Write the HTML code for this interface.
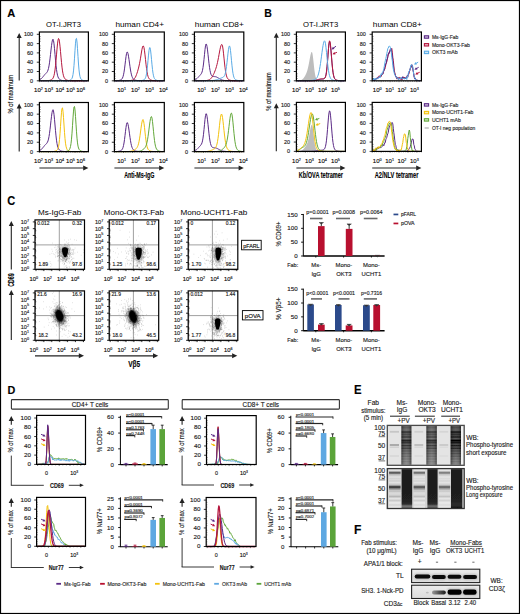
<!DOCTYPE html>
<html><head><meta charset="utf-8"><style>
html,body{margin:0;padding:0;background:#fff;}
svg{display:block;}
text{font-family:"Liberation Sans", sans-serif;stroke:#222;stroke-width:0.14px;}
text.nos{stroke:none;}
</style></head><body>
<svg width="520" height="614" viewBox="0 0 520 614">
<defs><linearGradient id="g1" x1="0" y1="0" x2="0" y2="1"><stop offset="0.000" stop-color="#828282"/><stop offset="0.008" stop-color="#737373"/><stop offset="0.017" stop-color="#666666"/><stop offset="0.025" stop-color="#5e5e5e"/><stop offset="0.033" stop-color="#5c5c5c"/><stop offset="0.042" stop-color="#5f5f5f"/><stop offset="0.050" stop-color="#656565"/><stop offset="0.058" stop-color="#696969"/><stop offset="0.067" stop-color="#6b6b6b"/><stop offset="0.075" stop-color="#6b6b6b"/><stop offset="0.083" stop-color="#6d6d6d"/><stop offset="0.092" stop-color="#727272"/><stop offset="0.100" stop-color="#767676"/><stop offset="0.108" stop-color="#777777"/><stop offset="0.117" stop-color="#717171"/><stop offset="0.125" stop-color="#666666"/><stop offset="0.133" stop-color="#565656"/><stop offset="0.142" stop-color="#474747"/><stop offset="0.150" stop-color="#3b3b3b"/><stop offset="0.158" stop-color="#383838"/><stop offset="0.167" stop-color="#3c3c3c"/><stop offset="0.175" stop-color="#474747"/><stop offset="0.183" stop-color="#545454"/><stop offset="0.192" stop-color="#5d5d5d"/><stop offset="0.200" stop-color="#5e5e5e"/><stop offset="0.208" stop-color="#585858"/><stop offset="0.217" stop-color="#505050"/><stop offset="0.225" stop-color="#4e4e4e"/><stop offset="0.233" stop-color="#555555"/><stop offset="0.242" stop-color="#5e5e5e"/><stop offset="0.250" stop-color="#646464"/><stop offset="0.258" stop-color="#606060"/><stop offset="0.267" stop-color="#545454"/><stop offset="0.275" stop-color="#464646"/><stop offset="0.283" stop-color="#3f3f3f"/><stop offset="0.292" stop-color="#424242"/><stop offset="0.300" stop-color="#4f4f4f"/><stop offset="0.308" stop-color="#5f5f5f"/><stop offset="0.317" stop-color="#6d6d6d"/><stop offset="0.325" stop-color="#737373"/><stop offset="0.333" stop-color="#707070"/><stop offset="0.342" stop-color="#646464"/><stop offset="0.350" stop-color="#525252"/><stop offset="0.358" stop-color="#3d3d3d"/><stop offset="0.367" stop-color="#2d2d2d"/><stop offset="0.375" stop-color="#262626"/><stop offset="0.383" stop-color="#292929"/><stop offset="0.392" stop-color="#343434"/><stop offset="0.400" stop-color="#3e3e3e"/><stop offset="0.408" stop-color="#424242"/><stop offset="0.417" stop-color="#3d3d3d"/><stop offset="0.425" stop-color="#353535"/><stop offset="0.433" stop-color="#333333"/><stop offset="0.442" stop-color="#3a3a3a"/><stop offset="0.450" stop-color="#4a4a4a"/><stop offset="0.458" stop-color="#5c5c5c"/><stop offset="0.467" stop-color="#676767"/><stop offset="0.475" stop-color="#676767"/><stop offset="0.483" stop-color="#5c5c5c"/><stop offset="0.492" stop-color="#4a4a4a"/><stop offset="0.500" stop-color="#3c3c3c"/><stop offset="0.508" stop-color="#393939"/><stop offset="0.517" stop-color="#424242"/><stop offset="0.525" stop-color="#525252"/><stop offset="0.533" stop-color="#626262"/><stop offset="0.542" stop-color="#686868"/><stop offset="0.550" stop-color="#636363"/><stop offset="0.558" stop-color="#565656"/><stop offset="0.567" stop-color="#494949"/><stop offset="0.575" stop-color="#434343"/><stop offset="0.583" stop-color="#474747"/><stop offset="0.592" stop-color="#555555"/><stop offset="0.600" stop-color="#656565"/><stop offset="0.608" stop-color="#707070"/><stop offset="0.617" stop-color="#737373"/><stop offset="0.625" stop-color="#6d6d6d"/><stop offset="0.633" stop-color="#656565"/><stop offset="0.642" stop-color="#5f5f5f"/><stop offset="0.650" stop-color="#606060"/><stop offset="0.658" stop-color="#676767"/><stop offset="0.667" stop-color="#717171"/><stop offset="0.675" stop-color="#787878"/><stop offset="0.683" stop-color="#787878"/><stop offset="0.692" stop-color="#737373"/><stop offset="0.700" stop-color="#6c6c6c"/><stop offset="0.708" stop-color="#676767"/><stop offset="0.717" stop-color="#686868"/><stop offset="0.725" stop-color="#6e6e6e"/><stop offset="0.733" stop-color="#787878"/><stop offset="0.742" stop-color="#7f7f7f"/><stop offset="0.750" stop-color="#818181"/><stop offset="0.758" stop-color="#7d7d7d"/><stop offset="0.767" stop-color="#767676"/><stop offset="0.775" stop-color="#707070"/><stop offset="0.783" stop-color="#6f6f6f"/><stop offset="0.792" stop-color="#747474"/><stop offset="0.800" stop-color="#7c7c7c"/><stop offset="0.808" stop-color="#848484"/><stop offset="0.817" stop-color="#888888"/><stop offset="0.825" stop-color="#868686"/><stop offset="0.833" stop-color="#818181"/><stop offset="0.842" stop-color="#7b7b7b"/><stop offset="0.850" stop-color="#787878"/><stop offset="0.858" stop-color="#7b7b7b"/><stop offset="0.867" stop-color="#828282"/><stop offset="0.875" stop-color="#898989"/><stop offset="0.883" stop-color="#8d8d8d"/><stop offset="0.892" stop-color="#8c8c8c"/><stop offset="0.900" stop-color="#888888"/><stop offset="0.908" stop-color="#838383"/><stop offset="0.917" stop-color="#818181"/><stop offset="0.925" stop-color="#838383"/><stop offset="0.933" stop-color="#878787"/><stop offset="0.942" stop-color="#8c8c8c"/><stop offset="0.950" stop-color="#8e8e8e"/><stop offset="0.958" stop-color="#8e8e8e"/><stop offset="0.967" stop-color="#8d8d8d"/><stop offset="0.975" stop-color="#8d8d8d"/><stop offset="0.983" stop-color="#909090"/><stop offset="0.992" stop-color="#959595"/><stop offset="1.000" stop-color="#9b9b9b"/></linearGradient><linearGradient id="g2" x1="0" y1="0" x2="0" y2="1"><stop offset="0.000" stop-color="#858585"/><stop offset="0.008" stop-color="#787878"/><stop offset="0.017" stop-color="#6b6b6b"/><stop offset="0.025" stop-color="#636363"/><stop offset="0.033" stop-color="#626262"/><stop offset="0.042" stop-color="#656565"/><stop offset="0.050" stop-color="#6a6a6a"/><stop offset="0.058" stop-color="#6e6e6e"/><stop offset="0.067" stop-color="#707070"/><stop offset="0.075" stop-color="#717171"/><stop offset="0.083" stop-color="#737373"/><stop offset="0.092" stop-color="#777777"/><stop offset="0.100" stop-color="#7b7b7b"/><stop offset="0.108" stop-color="#7c7c7c"/><stop offset="0.117" stop-color="#777777"/><stop offset="0.125" stop-color="#6c6c6c"/><stop offset="0.133" stop-color="#5e5e5e"/><stop offset="0.142" stop-color="#4f4f4f"/><stop offset="0.150" stop-color="#444444"/><stop offset="0.158" stop-color="#414141"/><stop offset="0.167" stop-color="#464646"/><stop offset="0.175" stop-color="#505050"/><stop offset="0.183" stop-color="#5c5c5c"/><stop offset="0.192" stop-color="#646464"/><stop offset="0.200" stop-color="#656565"/><stop offset="0.208" stop-color="#606060"/><stop offset="0.217" stop-color="#595959"/><stop offset="0.225" stop-color="#575757"/><stop offset="0.233" stop-color="#5d5d5d"/><stop offset="0.242" stop-color="#666666"/><stop offset="0.250" stop-color="#6c6c6c"/><stop offset="0.258" stop-color="#686868"/><stop offset="0.267" stop-color="#5d5d5d"/><stop offset="0.275" stop-color="#505050"/><stop offset="0.283" stop-color="#494949"/><stop offset="0.292" stop-color="#4c4c4c"/><stop offset="0.300" stop-color="#575757"/><stop offset="0.308" stop-color="#676767"/><stop offset="0.317" stop-color="#747474"/><stop offset="0.325" stop-color="#7a7a7a"/><stop offset="0.333" stop-color="#777777"/><stop offset="0.342" stop-color="#6c6c6c"/><stop offset="0.350" stop-color="#5a5a5a"/><stop offset="0.358" stop-color="#474747"/><stop offset="0.367" stop-color="#373737"/><stop offset="0.375" stop-color="#303030"/><stop offset="0.383" stop-color="#343434"/><stop offset="0.392" stop-color="#3e3e3e"/><stop offset="0.400" stop-color="#474747"/><stop offset="0.408" stop-color="#4b4b4b"/><stop offset="0.417" stop-color="#464646"/><stop offset="0.425" stop-color="#3f3f3f"/><stop offset="0.433" stop-color="#3d3d3d"/><stop offset="0.442" stop-color="#444444"/><stop offset="0.450" stop-color="#535353"/><stop offset="0.458" stop-color="#646464"/><stop offset="0.467" stop-color="#6e6e6e"/><stop offset="0.475" stop-color="#6e6e6e"/><stop offset="0.483" stop-color="#636363"/><stop offset="0.492" stop-color="#535353"/><stop offset="0.500" stop-color="#454545"/><stop offset="0.508" stop-color="#424242"/><stop offset="0.517" stop-color="#4b4b4b"/><stop offset="0.525" stop-color="#5a5a5a"/><stop offset="0.533" stop-color="#696969"/><stop offset="0.542" stop-color="#6f6f6f"/><stop offset="0.550" stop-color="#6a6a6a"/><stop offset="0.558" stop-color="#5e5e5e"/><stop offset="0.567" stop-color="#515151"/><stop offset="0.575" stop-color="#4b4b4b"/><stop offset="0.583" stop-color="#505050"/><stop offset="0.592" stop-color="#5d5d5d"/><stop offset="0.600" stop-color="#6c6c6c"/><stop offset="0.608" stop-color="#767676"/><stop offset="0.617" stop-color="#787878"/><stop offset="0.625" stop-color="#747474"/><stop offset="0.633" stop-color="#6c6c6c"/><stop offset="0.642" stop-color="#666666"/><stop offset="0.650" stop-color="#676767"/><stop offset="0.658" stop-color="#6e6e6e"/><stop offset="0.667" stop-color="#777777"/><stop offset="0.675" stop-color="#7d7d7d"/><stop offset="0.683" stop-color="#7e7e7e"/><stop offset="0.692" stop-color="#797979"/><stop offset="0.700" stop-color="#727272"/><stop offset="0.708" stop-color="#6d6d6d"/><stop offset="0.717" stop-color="#6e6e6e"/><stop offset="0.725" stop-color="#747474"/><stop offset="0.733" stop-color="#7d7d7d"/><stop offset="0.742" stop-color="#848484"/><stop offset="0.750" stop-color="#858585"/><stop offset="0.758" stop-color="#828282"/><stop offset="0.767" stop-color="#7b7b7b"/><stop offset="0.775" stop-color="#767676"/><stop offset="0.783" stop-color="#757575"/><stop offset="0.792" stop-color="#797979"/><stop offset="0.800" stop-color="#818181"/><stop offset="0.808" stop-color="#888888"/><stop offset="0.817" stop-color="#8b8b8b"/><stop offset="0.825" stop-color="#8a8a8a"/><stop offset="0.833" stop-color="#858585"/><stop offset="0.842" stop-color="#7f7f7f"/><stop offset="0.850" stop-color="#7d7d7d"/><stop offset="0.858" stop-color="#7f7f7f"/><stop offset="0.867" stop-color="#858585"/><stop offset="0.875" stop-color="#8c8c8c"/><stop offset="0.883" stop-color="#909090"/><stop offset="0.892" stop-color="#8f8f8f"/><stop offset="0.900" stop-color="#8b8b8b"/><stop offset="0.908" stop-color="#868686"/><stop offset="0.917" stop-color="#848484"/><stop offset="0.925" stop-color="#868686"/><stop offset="0.933" stop-color="#8a8a8a"/><stop offset="0.942" stop-color="#8e8e8e"/><stop offset="0.950" stop-color="#919191"/><stop offset="0.958" stop-color="#909090"/><stop offset="0.967" stop-color="#8f8f8f"/><stop offset="0.975" stop-color="#8f8f8f"/><stop offset="0.983" stop-color="#929292"/><stop offset="0.992" stop-color="#979797"/><stop offset="1.000" stop-color="#9c9c9c"/></linearGradient><linearGradient id="g3" x1="0" y1="0" x2="0" y2="1"><stop offset="0.000" stop-color="#787878"/><stop offset="0.008" stop-color="#676767"/><stop offset="0.017" stop-color="#585858"/><stop offset="0.025" stop-color="#4e4e4e"/><stop offset="0.033" stop-color="#4c4c4c"/><stop offset="0.042" stop-color="#4f4f4f"/><stop offset="0.050" stop-color="#555555"/><stop offset="0.058" stop-color="#595959"/><stop offset="0.067" stop-color="#5a5a5a"/><stop offset="0.075" stop-color="#5a5a5a"/><stop offset="0.083" stop-color="#5c5c5c"/><stop offset="0.092" stop-color="#606060"/><stop offset="0.100" stop-color="#646464"/><stop offset="0.108" stop-color="#646464"/><stop offset="0.117" stop-color="#5e5e5e"/><stop offset="0.125" stop-color="#515151"/><stop offset="0.133" stop-color="#3f3f3f"/><stop offset="0.142" stop-color="#2d2d2d"/><stop offset="0.150" stop-color="#202020"/><stop offset="0.158" stop-color="#1b1b1b"/><stop offset="0.167" stop-color="#202020"/><stop offset="0.175" stop-color="#2c2c2c"/><stop offset="0.183" stop-color="#393939"/><stop offset="0.192" stop-color="#424242"/><stop offset="0.200" stop-color="#434343"/><stop offset="0.208" stop-color="#3c3c3c"/><stop offset="0.217" stop-color="#343434"/><stop offset="0.225" stop-color="#323232"/><stop offset="0.233" stop-color="#383838"/><stop offset="0.242" stop-color="#434343"/><stop offset="0.250" stop-color="#494949"/><stop offset="0.258" stop-color="#444444"/><stop offset="0.267" stop-color="#373737"/><stop offset="0.275" stop-color="#282828"/><stop offset="0.283" stop-color="#202020"/><stop offset="0.292" stop-color="#232323"/><stop offset="0.300" stop-color="#313131"/><stop offset="0.308" stop-color="#444444"/><stop offset="0.317" stop-color="#535353"/><stop offset="0.325" stop-color="#5a5a5a"/><stop offset="0.333" stop-color="#575757"/><stop offset="0.342" stop-color="#4a4a4a"/><stop offset="0.350" stop-color="#363636"/><stop offset="0.358" stop-color="#1f1f1f"/><stop offset="0.367" stop-color="#0d0d0d"/><stop offset="0.375" stop-color="#050505"/><stop offset="0.383" stop-color="#0a0a0a"/><stop offset="0.392" stop-color="#161616"/><stop offset="0.400" stop-color="#212121"/><stop offset="0.408" stop-color="#252525"/><stop offset="0.417" stop-color="#202020"/><stop offset="0.425" stop-color="#181818"/><stop offset="0.433" stop-color="#151515"/><stop offset="0.442" stop-color="#1e1e1e"/><stop offset="0.450" stop-color="#303030"/><stop offset="0.458" stop-color="#444444"/><stop offset="0.467" stop-color="#515151"/><stop offset="0.475" stop-color="#505050"/><stop offset="0.483" stop-color="#444444"/><stop offset="0.492" stop-color="#313131"/><stop offset="0.500" stop-color="#212121"/><stop offset="0.508" stop-color="#1e1e1e"/><stop offset="0.517" stop-color="#282828"/><stop offset="0.525" stop-color="#3a3a3a"/><stop offset="0.533" stop-color="#4b4b4b"/><stop offset="0.542" stop-color="#525252"/><stop offset="0.550" stop-color="#4d4d4d"/><stop offset="0.558" stop-color="#3f3f3f"/><stop offset="0.567" stop-color="#303030"/><stop offset="0.575" stop-color="#292929"/><stop offset="0.583" stop-color="#2e2e2e"/><stop offset="0.592" stop-color="#3d3d3d"/><stop offset="0.600" stop-color="#4f4f4f"/><stop offset="0.608" stop-color="#5c5c5c"/><stop offset="0.617" stop-color="#5e5e5e"/><stop offset="0.625" stop-color="#595959"/><stop offset="0.633" stop-color="#505050"/><stop offset="0.642" stop-color="#494949"/><stop offset="0.650" stop-color="#4a4a4a"/><stop offset="0.658" stop-color="#525252"/><stop offset="0.667" stop-color="#5d5d5d"/><stop offset="0.675" stop-color="#656565"/><stop offset="0.683" stop-color="#666666"/><stop offset="0.692" stop-color="#606060"/><stop offset="0.700" stop-color="#585858"/><stop offset="0.708" stop-color="#535353"/><stop offset="0.717" stop-color="#545454"/><stop offset="0.725" stop-color="#5c5c5c"/><stop offset="0.733" stop-color="#676767"/><stop offset="0.742" stop-color="#6f6f6f"/><stop offset="0.750" stop-color="#727272"/><stop offset="0.758" stop-color="#6e6e6e"/><stop offset="0.767" stop-color="#666666"/><stop offset="0.775" stop-color="#606060"/><stop offset="0.783" stop-color="#5f5f5f"/><stop offset="0.792" stop-color="#656565"/><stop offset="0.800" stop-color="#6e6e6e"/><stop offset="0.808" stop-color="#777777"/><stop offset="0.817" stop-color="#7c7c7c"/><stop offset="0.825" stop-color="#7a7a7a"/><stop offset="0.833" stop-color="#757575"/><stop offset="0.842" stop-color="#6e6e6e"/><stop offset="0.850" stop-color="#6c6c6c"/><stop offset="0.858" stop-color="#6f6f6f"/><stop offset="0.867" stop-color="#777777"/><stop offset="0.875" stop-color="#7f7f7f"/><stop offset="0.883" stop-color="#848484"/><stop offset="0.892" stop-color="#848484"/><stop offset="0.900" stop-color="#7f7f7f"/><stop offset="0.908" stop-color="#7a7a7a"/><stop offset="0.917" stop-color="#787878"/><stop offset="0.925" stop-color="#7a7a7a"/><stop offset="0.933" stop-color="#7f7f7f"/><stop offset="0.942" stop-color="#858585"/><stop offset="0.950" stop-color="#888888"/><stop offset="0.958" stop-color="#888888"/><stop offset="0.967" stop-color="#868686"/><stop offset="0.975" stop-color="#878787"/><stop offset="0.983" stop-color="#8a8a8a"/><stop offset="0.992" stop-color="#909090"/><stop offset="1.000" stop-color="#979797"/></linearGradient><linearGradient id="g4" x1="0" y1="0" x2="0" y2="1"><stop offset="0.000" stop-color="#ebebeb"/><stop offset="0.013" stop-color="#ebebeb"/><stop offset="0.025" stop-color="#e8e8e8"/><stop offset="0.037" stop-color="#dfdfdf"/><stop offset="0.050" stop-color="#cbcbcb"/><stop offset="0.062" stop-color="#a8a8a8"/><stop offset="0.075" stop-color="#7d7d7d"/><stop offset="0.087" stop-color="#5c5c5c"/><stop offset="0.100" stop-color="#585858"/><stop offset="0.113" stop-color="#737373"/><stop offset="0.125" stop-color="#9a9a9a"/><stop offset="0.138" stop-color="#b8b8b8"/><stop offset="0.150" stop-color="#c5c5c5"/><stop offset="0.163" stop-color="#c9c9c9"/><stop offset="0.175" stop-color="#d0d0d0"/><stop offset="0.188" stop-color="#dadada"/><stop offset="0.200" stop-color="#e1e1e1"/><stop offset="0.212" stop-color="#e0e0e0"/><stop offset="0.225" stop-color="#d9d9d9"/><stop offset="0.237" stop-color="#d3d3d3"/><stop offset="0.250" stop-color="#d4d4d4"/><stop offset="0.263" stop-color="#d9d9d9"/><stop offset="0.275" stop-color="#dbdbdb"/><stop offset="0.287" stop-color="#d5d5d5"/><stop offset="0.300" stop-color="#cecece"/><stop offset="0.312" stop-color="#cfcfcf"/><stop offset="0.325" stop-color="#d8d8d8"/><stop offset="0.338" stop-color="#e0e0e0"/><stop offset="0.350" stop-color="#e2e2e2"/><stop offset="0.362" stop-color="#dbdbdb"/><stop offset="0.375" stop-color="#d2d2d2"/><stop offset="0.388" stop-color="#cccccc"/><stop offset="0.400" stop-color="#c6c6c6"/><stop offset="0.412" stop-color="#b6b6b6"/><stop offset="0.425" stop-color="#939393"/><stop offset="0.438" stop-color="#656565"/><stop offset="0.450" stop-color="#3e3e3e"/><stop offset="0.463" stop-color="#323232"/><stop offset="0.475" stop-color="#444444"/><stop offset="0.487" stop-color="#656565"/><stop offset="0.500" stop-color="#808080"/><stop offset="0.512" stop-color="#919191"/><stop offset="0.525" stop-color="#a3a3a3"/><stop offset="0.537" stop-color="#b8b8b8"/><stop offset="0.550" stop-color="#c4c4c4"/><stop offset="0.562" stop-color="#c4c4c4"/><stop offset="0.575" stop-color="#c2c2c2"/><stop offset="0.588" stop-color="#c8c8c8"/><stop offset="0.600" stop-color="#d4d4d4"/><stop offset="0.613" stop-color="#dbdbdb"/><stop offset="0.625" stop-color="#dadada"/><stop offset="0.637" stop-color="#d6d6d6"/><stop offset="0.650" stop-color="#d6d6d6"/><stop offset="0.662" stop-color="#d6d6d6"/><stop offset="0.675" stop-color="#cecece"/><stop offset="0.688" stop-color="#c0c0c0"/><stop offset="0.700" stop-color="#b5b5b5"/><stop offset="0.713" stop-color="#b8b8b8"/><stop offset="0.725" stop-color="#c6c6c6"/><stop offset="0.738" stop-color="#d7d7d7"/><stop offset="0.750" stop-color="#e2e2e2"/><stop offset="0.762" stop-color="#e4e4e4"/><stop offset="0.775" stop-color="#dedede"/><stop offset="0.787" stop-color="#d3d3d3"/><stop offset="0.800" stop-color="#cacaca"/><stop offset="0.812" stop-color="#c9c9c9"/><stop offset="0.825" stop-color="#d1d1d1"/><stop offset="0.838" stop-color="#dddddd"/><stop offset="0.850" stop-color="#e5e5e5"/><stop offset="0.863" stop-color="#e8e8e8"/><stop offset="0.875" stop-color="#e7e7e7"/><stop offset="0.887" stop-color="#e4e4e4"/><stop offset="0.900" stop-color="#dedede"/><stop offset="0.912" stop-color="#d9d9d9"/><stop offset="0.925" stop-color="#d8d8d8"/><stop offset="0.938" stop-color="#dadada"/><stop offset="0.950" stop-color="#e0e0e0"/><stop offset="0.963" stop-color="#e5e5e5"/><stop offset="0.975" stop-color="#e9e9e9"/><stop offset="0.988" stop-color="#ebebeb"/><stop offset="1.000" stop-color="#ebebeb"/></linearGradient><linearGradient id="g5" x1="0" y1="0" x2="0" y2="1"><stop offset="0.000" stop-color="#ebebeb"/><stop offset="0.013" stop-color="#ebebeb"/><stop offset="0.025" stop-color="#e8e8e8"/><stop offset="0.037" stop-color="#e1e1e1"/><stop offset="0.050" stop-color="#d0d0d0"/><stop offset="0.062" stop-color="#b2b2b2"/><stop offset="0.075" stop-color="#8e8e8e"/><stop offset="0.087" stop-color="#717171"/><stop offset="0.100" stop-color="#6e6e6e"/><stop offset="0.113" stop-color="#858585"/><stop offset="0.125" stop-color="#a7a7a7"/><stop offset="0.138" stop-color="#c0c0c0"/><stop offset="0.150" stop-color="#cbcbcb"/><stop offset="0.163" stop-color="#cecece"/><stop offset="0.175" stop-color="#d4d4d4"/><stop offset="0.188" stop-color="#dddddd"/><stop offset="0.200" stop-color="#e3e3e3"/><stop offset="0.212" stop-color="#e2e2e2"/><stop offset="0.225" stop-color="#dcdcdc"/><stop offset="0.237" stop-color="#d7d7d7"/><stop offset="0.250" stop-color="#d7d7d7"/><stop offset="0.263" stop-color="#dcdcdc"/><stop offset="0.275" stop-color="#dedede"/><stop offset="0.287" stop-color="#d9d9d9"/><stop offset="0.300" stop-color="#d3d3d3"/><stop offset="0.312" stop-color="#d3d3d3"/><stop offset="0.325" stop-color="#dbdbdb"/><stop offset="0.338" stop-color="#e2e2e2"/><stop offset="0.350" stop-color="#e3e3e3"/><stop offset="0.362" stop-color="#dedede"/><stop offset="0.375" stop-color="#d6d6d6"/><stop offset="0.388" stop-color="#d1d1d1"/><stop offset="0.400" stop-color="#cccccc"/><stop offset="0.412" stop-color="#bebebe"/><stop offset="0.425" stop-color="#a0a0a0"/><stop offset="0.438" stop-color="#797979"/><stop offset="0.450" stop-color="#585858"/><stop offset="0.463" stop-color="#4e4e4e"/><stop offset="0.475" stop-color="#5d5d5d"/><stop offset="0.487" stop-color="#7a7a7a"/><stop offset="0.500" stop-color="#909090"/><stop offset="0.512" stop-color="#9f9f9f"/><stop offset="0.525" stop-color="#adadad"/><stop offset="0.537" stop-color="#bfbfbf"/><stop offset="0.550" stop-color="#cacaca"/><stop offset="0.562" stop-color="#cacaca"/><stop offset="0.575" stop-color="#c8c8c8"/><stop offset="0.588" stop-color="#cecece"/><stop offset="0.600" stop-color="#d8d8d8"/><stop offset="0.613" stop-color="#dedede"/><stop offset="0.625" stop-color="#dcdcdc"/><stop offset="0.637" stop-color="#dadada"/><stop offset="0.650" stop-color="#d9d9d9"/><stop offset="0.662" stop-color="#d9d9d9"/><stop offset="0.675" stop-color="#d3d3d3"/><stop offset="0.688" stop-color="#c6c6c6"/><stop offset="0.700" stop-color="#bdbdbd"/><stop offset="0.713" stop-color="#c0c0c0"/><stop offset="0.725" stop-color="#cccccc"/><stop offset="0.738" stop-color="#dadada"/><stop offset="0.750" stop-color="#e3e3e3"/><stop offset="0.762" stop-color="#e5e5e5"/><stop offset="0.775" stop-color="#e0e0e0"/><stop offset="0.787" stop-color="#d7d7d7"/><stop offset="0.800" stop-color="#cfcfcf"/><stop offset="0.812" stop-color="#cfcfcf"/><stop offset="0.825" stop-color="#d5d5d5"/><stop offset="0.838" stop-color="#dfdfdf"/><stop offset="0.850" stop-color="#e6e6e6"/><stop offset="0.863" stop-color="#e9e9e9"/><stop offset="0.875" stop-color="#e8e8e8"/><stop offset="0.887" stop-color="#e5e5e5"/><stop offset="0.900" stop-color="#e0e0e0"/><stop offset="0.912" stop-color="#dcdcdc"/><stop offset="0.925" stop-color="#dbdbdb"/><stop offset="0.938" stop-color="#dddddd"/><stop offset="0.950" stop-color="#e2e2e2"/><stop offset="0.963" stop-color="#e6e6e6"/><stop offset="0.975" stop-color="#e9e9e9"/><stop offset="0.988" stop-color="#ebebeb"/><stop offset="1.000" stop-color="#ebebeb"/></linearGradient><linearGradient id="g6" x1="0" y1="0" x2="0" y2="1"><stop offset="0.000" stop-color="#ebebeb"/><stop offset="0.013" stop-color="#ebebeb"/><stop offset="0.025" stop-color="#e9e9e9"/><stop offset="0.037" stop-color="#e2e2e2"/><stop offset="0.050" stop-color="#d3d3d3"/><stop offset="0.062" stop-color="#b9b9b9"/><stop offset="0.075" stop-color="#999999"/><stop offset="0.087" stop-color="#808080"/><stop offset="0.100" stop-color="#7d7d7d"/><stop offset="0.113" stop-color="#919191"/><stop offset="0.125" stop-color="#afafaf"/><stop offset="0.138" stop-color="#c5c5c5"/><stop offset="0.150" stop-color="#cecece"/><stop offset="0.163" stop-color="#d1d1d1"/><stop offset="0.175" stop-color="#d7d7d7"/><stop offset="0.188" stop-color="#dfdfdf"/><stop offset="0.200" stop-color="#e4e4e4"/><stop offset="0.212" stop-color="#e3e3e3"/><stop offset="0.225" stop-color="#dedede"/><stop offset="0.237" stop-color="#d9d9d9"/><stop offset="0.250" stop-color="#dadada"/><stop offset="0.263" stop-color="#dedede"/><stop offset="0.275" stop-color="#dfdfdf"/><stop offset="0.287" stop-color="#dbdbdb"/><stop offset="0.300" stop-color="#d6d6d6"/><stop offset="0.312" stop-color="#d6d6d6"/><stop offset="0.325" stop-color="#dddddd"/><stop offset="0.338" stop-color="#e3e3e3"/><stop offset="0.350" stop-color="#e4e4e4"/><stop offset="0.362" stop-color="#dfdfdf"/><stop offset="0.375" stop-color="#d9d9d9"/><stop offset="0.388" stop-color="#d4d4d4"/><stop offset="0.400" stop-color="#d0d0d0"/><stop offset="0.412" stop-color="#c3c3c3"/><stop offset="0.425" stop-color="#a9a9a9"/><stop offset="0.438" stop-color="#868686"/><stop offset="0.450" stop-color="#696969"/><stop offset="0.463" stop-color="#606060"/><stop offset="0.475" stop-color="#6e6e6e"/><stop offset="0.487" stop-color="#878787"/><stop offset="0.500" stop-color="#9b9b9b"/><stop offset="0.512" stop-color="#a8a8a8"/><stop offset="0.525" stop-color="#b5b5b5"/><stop offset="0.537" stop-color="#c5c5c5"/><stop offset="0.550" stop-color="#cecece"/><stop offset="0.562" stop-color="#cecece"/><stop offset="0.575" stop-color="#cccccc"/><stop offset="0.588" stop-color="#d1d1d1"/><stop offset="0.600" stop-color="#dadada"/><stop offset="0.613" stop-color="#dfdfdf"/><stop offset="0.625" stop-color="#dedede"/><stop offset="0.637" stop-color="#dcdcdc"/><stop offset="0.650" stop-color="#dbdbdb"/><stop offset="0.662" stop-color="#dbdbdb"/><stop offset="0.675" stop-color="#d6d6d6"/><stop offset="0.688" stop-color="#cbcbcb"/><stop offset="0.700" stop-color="#c3c3c3"/><stop offset="0.713" stop-color="#c5c5c5"/><stop offset="0.725" stop-color="#d0d0d0"/><stop offset="0.738" stop-color="#dcdcdc"/><stop offset="0.750" stop-color="#e4e4e4"/><stop offset="0.762" stop-color="#e6e6e6"/><stop offset="0.775" stop-color="#e1e1e1"/><stop offset="0.787" stop-color="#d9d9d9"/><stop offset="0.800" stop-color="#d2d2d2"/><stop offset="0.812" stop-color="#d2d2d2"/><stop offset="0.825" stop-color="#d8d8d8"/><stop offset="0.838" stop-color="#e0e0e0"/><stop offset="0.850" stop-color="#e6e6e6"/><stop offset="0.863" stop-color="#e9e9e9"/><stop offset="0.875" stop-color="#e8e8e8"/><stop offset="0.887" stop-color="#e6e6e6"/><stop offset="0.900" stop-color="#e1e1e1"/><stop offset="0.912" stop-color="#dedede"/><stop offset="0.925" stop-color="#dddddd"/><stop offset="0.938" stop-color="#dfdfdf"/><stop offset="0.950" stop-color="#e3e3e3"/><stop offset="0.963" stop-color="#e7e7e7"/><stop offset="0.975" stop-color="#eaeaea"/><stop offset="0.988" stop-color="#ebebeb"/><stop offset="1.000" stop-color="#ebebeb"/></linearGradient><linearGradient id="g7" x1="0" y1="0" x2="0" y2="1"><stop offset="0.000" stop-color="#1c1c1c"/><stop offset="0.820" stop-color="#202020"/><stop offset="0.900" stop-color="#2c2c2c"/><stop offset="0.950" stop-color="#787878"/><stop offset="1.000" stop-color="#5a5a5a"/></linearGradient><linearGradient id="g8" x1="0" y1="0" x2="0" y2="1"><stop offset="0.000" stop-color="#1c1c1c"/><stop offset="0.820" stop-color="#202020"/><stop offset="0.900" stop-color="#2c2c2c"/><stop offset="0.950" stop-color="#6e6e6e"/><stop offset="1.000" stop-color="#505050"/></linearGradient><linearGradient id="g9" x1="0" y1="0" x2="0" y2="1"><stop offset="0.000" stop-color="#1c1c1c"/><stop offset="0.820" stop-color="#202020"/><stop offset="0.900" stop-color="#2c2c2c"/><stop offset="0.950" stop-color="#282828"/><stop offset="1.000" stop-color="#0a0a0a"/></linearGradient><linearGradient id="edge" x1="0" y1="0" x2="1" y2="0"><stop offset="0" stop-color="#000" stop-opacity="0.45"/><stop offset="0.25" stop-color="#000" stop-opacity="0.1"/><stop offset="0.5" stop-color="#000" stop-opacity="0"/><stop offset="0.75" stop-color="#000" stop-opacity="0.1"/><stop offset="1" stop-color="#000" stop-opacity="0.45"/></linearGradient><linearGradient id="blotbg" x1="0" y1="0" x2="0" y2="1"><stop offset="0" stop-color="#ececec"/><stop offset="1" stop-color="#dcdcdc"/></linearGradient><linearGradient id="basal" x1="0" y1="0" x2="1" y2="0"><stop offset="0" stop-color="#9a9a9a"/><stop offset="0.5" stop-color="#555"/><stop offset="1" stop-color="#1a1a1a"/></linearGradient><filter id="blur1" x="-50%" y="-50%" width="200%" height="200%"><feGaussianBlur stdDeviation="0.9"/></filter><filter id="blur04" x="-50%" y="-50%" width="200%" height="200%"><feGaussianBlur stdDeviation="0.45"/></filter><filter id="blur05" x="-20%" y="-50%" width="140%" height="200%"><feGaussianBlur stdDeviation="0.45"/></filter></defs>
<rect width="520" height="614" fill="#fff"/>
<rect x="0.00" y="0.00" width="520.00" height="1.10" fill="#000"/>
<rect x="0.00" y="0.00" width="1.10" height="614.00" fill="#000"/>
<rect x="518.90" y="0.00" width="1.10" height="614.00" fill="#000"/>
<rect x="0.00" y="612.90" width="520.00" height="1.10" fill="#000"/>
<text x="7.20" y="16.80" font-size="11.6" font-weight="bold" textLength="8.00" lengthAdjust="spacingAndGlyphs">A</text>
<text x="46.00" y="26.80" font-size="8.1" textLength="35.00" lengthAdjust="spacingAndGlyphs" class="nos">OT-I.JRT3</text>
<text x="115.40" y="26.80" font-size="8.1" textLength="48.60" lengthAdjust="spacingAndGlyphs" class="nos">human CD4+</text>
<text x="194.80" y="26.80" font-size="8.1" textLength="49.00" lengthAdjust="spacingAndGlyphs" class="nos">human CD8+</text>
<path d="M40.0,79.6 L40.5,79.3 L41.0,78.9 L41.5,78.5 L42.0,78.0 L42.5,77.4 L43.0,76.8 L43.5,76.1 L44.0,75.5 L44.5,74.9 L45.0,74.3 L45.5,73.8 L46.0,73.3 L46.5,72.8 L47.0,72.2 L47.5,71.4 L48.0,70.1 L48.5,68.4 L49.0,65.9 L49.5,62.8 L50.0,58.9 L50.5,54.5 L51.0,50.0 L51.5,45.7 L52.0,42.2 L52.5,39.9 L53.0,39.2 L53.5,40.5 L54.0,43.8 L54.5,48.7 L55.0,54.4 L55.5,60.1 L56.0,65.2 L56.5,69.5 L57.0,72.8 L57.5,75.2 L58.0,76.9 L58.5,78.0 L59.0,78.7 L59.5,79.3 L60.0,79.6 L60.5,79.9 L61.0,80.1 L61.5,80.3 L62.0,80.4 L62.5,80.5 L63.0,80.6 L63.5,80.6 L64.0,80.7 L64.5,80.7 L65.0,80.7 L65.5,80.8 L66.0,80.8 L66.5,80.8 L67.0,80.8 L67.5,80.8 L68.0,80.8 L68.5,80.8 L69.0,80.8 L69.5,80.8 L70.0,80.8 L70.5,80.8 L71.0,80.8 L71.5,80.8 L72.0,80.8 L72.5,80.8 L73.0,80.8 L73.5,80.8 L74.0,80.8 L74.5,80.8 L75.0,80.8 L75.5,80.8 L76.0,80.8 L76.5,80.8 L77.0,80.8 L77.5,80.8 L78.0,80.8 L78.5,80.8 L79.0,80.8 L79.5,80.8 L80.0,80.8 L80.5,80.8 L81.0,80.8 L81.5,80.8 L82.0,80.8 L82.5,80.8 L83.0,80.8 L83.5,80.8 L84.0,80.8 L84.5,80.8 L85.0,80.8 L85.5,80.8 L86.0,80.8 L86.5,80.8 L87.0,80.8 L87.5,80.8" stroke="#5b2a86" stroke-width="1.0" fill="none" stroke-linejoin="round"/>
<path d="M40.0,80.8 L40.5,80.8 L41.0,80.8 L41.5,80.8 L42.0,80.8 L42.5,80.8 L43.0,80.8 L43.5,80.8 L44.0,80.8 L44.5,80.8 L45.0,80.8 L45.5,80.8 L46.0,80.8 L46.5,80.7 L47.0,80.7 L47.5,80.7 L48.0,80.6 L48.5,80.6 L49.0,80.5 L49.5,80.4 L50.0,80.3 L50.5,80.1 L51.0,79.9 L51.5,79.7 L52.0,79.3 L52.5,78.9 L53.0,78.2 L53.5,77.1 L54.0,75.5 L54.5,73.2 L55.0,70.0 L55.5,65.8 L56.0,60.7 L56.5,54.9 L57.0,49.1 L57.5,43.9 L58.0,40.2 L58.5,38.5 L59.0,39.2 L59.5,41.9 L60.0,46.2 L60.5,51.5 L61.0,57.1 L61.5,62.4 L62.0,67.1 L62.5,70.9 L63.0,73.7 L63.5,75.8 L64.0,77.2 L64.5,78.2 L65.0,78.9 L65.5,79.3 L66.0,79.6 L66.5,79.9 L67.0,80.1 L67.5,80.3 L68.0,80.4 L68.5,80.5 L69.0,80.6 L69.5,80.6 L70.0,80.7 L70.5,80.7 L71.0,80.7 L71.5,80.8 L72.0,80.8 L72.5,80.8 L73.0,80.8 L73.5,80.8 L74.0,80.8 L74.5,80.8 L75.0,80.8 L75.5,80.8 L76.0,80.8 L76.5,80.8 L77.0,80.8 L77.5,80.8 L78.0,80.8 L78.5,80.8 L79.0,80.8 L79.5,80.8 L80.0,80.8 L80.5,80.8 L81.0,80.8 L81.5,80.8 L82.0,80.8 L82.5,80.8 L83.0,80.8 L83.5,80.8 L84.0,80.8 L84.5,80.8 L85.0,80.8 L85.5,80.8 L86.0,80.8 L86.5,80.8 L87.0,80.8 L87.5,80.8" stroke="#b5173e" stroke-width="1.0" fill="none" stroke-linejoin="round"/>
<path d="M40.0,80.8 L40.5,80.8 L41.0,80.8 L41.5,80.8 L42.0,80.8 L42.5,80.8 L43.0,80.8 L43.5,80.8 L44.0,80.8 L44.5,80.8 L45.0,80.8 L45.5,80.8 L46.0,80.8 L46.5,80.8 L47.0,80.8 L47.5,80.8 L48.0,80.8 L48.5,80.8 L49.0,80.8 L49.5,80.8 L50.0,80.8 L50.5,80.8 L51.0,80.8 L51.5,80.8 L52.0,80.8 L52.5,80.8 L53.0,80.8 L53.5,80.8 L54.0,80.8 L54.5,80.8 L55.0,80.8 L55.5,80.8 L56.0,80.8 L56.5,80.8 L57.0,80.8 L57.5,80.8 L58.0,80.8 L58.5,80.8 L59.0,80.8 L59.5,80.8 L60.0,80.8 L60.5,80.8 L61.0,80.8 L61.5,80.8 L62.0,80.8 L62.5,80.8 L63.0,80.8 L63.5,80.8 L64.0,80.8 L64.5,80.8 L65.0,80.8 L65.5,80.8 L66.0,80.8 L66.5,80.8 L67.0,80.8 L67.5,80.7 L68.0,80.7 L68.5,80.6 L69.0,80.5 L69.5,80.4 L70.0,80.2 L70.5,80.0 L71.0,79.6 L71.5,79.1 L72.0,78.3 L72.5,77.0 L73.0,74.6 L73.5,70.9 L74.0,65.4 L74.5,58.2 L75.0,50.3 L75.5,43.2 L76.0,38.8 L76.5,38.4 L77.0,42.0 L77.5,48.7 L78.0,56.6 L78.5,64.0 L79.0,69.9 L79.5,74.0 L80.0,76.6 L80.5,78.1 L81.0,79.0 L81.5,79.6 L82.0,79.9 L82.5,80.2 L83.0,80.4 L83.5,80.5 L84.0,80.6 L84.5,80.7 L85.0,80.7 L85.5,80.8 L86.0,80.8 L86.5,80.8 L87.0,80.8 L87.5,80.8" stroke="#5aabe6" stroke-width="1.0" fill="none" stroke-linejoin="round"/>
<line x1="36.80" y1="80.80" x2="39.40" y2="80.80" stroke="#000" stroke-width="0.8"/>
<line x1="39.40" y1="78.47" x2="40.70" y2="78.47" stroke="#333" stroke-width="0.6"/>
<line x1="39.40" y1="76.15" x2="40.70" y2="76.15" stroke="#333" stroke-width="0.6"/>
<line x1="39.40" y1="73.83" x2="40.70" y2="73.83" stroke="#333" stroke-width="0.6"/>
<line x1="36.80" y1="71.50" x2="39.40" y2="71.50" stroke="#000" stroke-width="0.8"/>
<line x1="39.40" y1="69.17" x2="40.70" y2="69.17" stroke="#333" stroke-width="0.6"/>
<line x1="39.40" y1="66.85" x2="40.70" y2="66.85" stroke="#333" stroke-width="0.6"/>
<line x1="39.40" y1="64.53" x2="40.70" y2="64.53" stroke="#333" stroke-width="0.6"/>
<line x1="36.80" y1="62.20" x2="39.40" y2="62.20" stroke="#000" stroke-width="0.8"/>
<line x1="39.40" y1="59.88" x2="40.70" y2="59.88" stroke="#333" stroke-width="0.6"/>
<line x1="39.40" y1="57.55" x2="40.70" y2="57.55" stroke="#333" stroke-width="0.6"/>
<line x1="39.40" y1="55.22" x2="40.70" y2="55.22" stroke="#333" stroke-width="0.6"/>
<line x1="36.80" y1="52.90" x2="39.40" y2="52.90" stroke="#000" stroke-width="0.8"/>
<line x1="39.40" y1="50.57" x2="40.70" y2="50.57" stroke="#333" stroke-width="0.6"/>
<line x1="39.40" y1="48.25" x2="40.70" y2="48.25" stroke="#333" stroke-width="0.6"/>
<line x1="39.40" y1="45.92" x2="40.70" y2="45.92" stroke="#333" stroke-width="0.6"/>
<line x1="36.80" y1="43.60" x2="39.40" y2="43.60" stroke="#000" stroke-width="0.8"/>
<line x1="39.40" y1="41.27" x2="40.70" y2="41.27" stroke="#333" stroke-width="0.6"/>
<line x1="39.40" y1="38.95" x2="40.70" y2="38.95" stroke="#333" stroke-width="0.6"/>
<line x1="39.40" y1="36.62" x2="40.70" y2="36.62" stroke="#333" stroke-width="0.6"/>
<line x1="36.80" y1="34.30" x2="39.40" y2="34.30" stroke="#000" stroke-width="0.8"/>
<line x1="39.40" y1="80.80" x2="39.40" y2="82.20" stroke="#333" stroke-width="0.6"/>
<line x1="41.63" y1="80.80" x2="41.63" y2="81.70" stroke="#333" stroke-width="0.6"/>
<line x1="43.85" y1="80.80" x2="43.85" y2="81.70" stroke="#333" stroke-width="0.6"/>
<line x1="46.08" y1="80.80" x2="46.08" y2="81.70" stroke="#333" stroke-width="0.6"/>
<line x1="48.31" y1="80.80" x2="48.31" y2="82.20" stroke="#333" stroke-width="0.6"/>
<line x1="50.54" y1="80.80" x2="50.54" y2="81.70" stroke="#333" stroke-width="0.6"/>
<line x1="52.76" y1="80.80" x2="52.76" y2="81.70" stroke="#333" stroke-width="0.6"/>
<line x1="54.99" y1="80.80" x2="54.99" y2="81.70" stroke="#333" stroke-width="0.6"/>
<line x1="57.22" y1="80.80" x2="57.22" y2="82.20" stroke="#333" stroke-width="0.6"/>
<line x1="59.45" y1="80.80" x2="59.45" y2="81.70" stroke="#333" stroke-width="0.6"/>
<line x1="61.67" y1="80.80" x2="61.67" y2="81.70" stroke="#333" stroke-width="0.6"/>
<line x1="63.90" y1="80.80" x2="63.90" y2="81.70" stroke="#333" stroke-width="0.6"/>
<line x1="66.13" y1="80.80" x2="66.13" y2="82.20" stroke="#333" stroke-width="0.6"/>
<line x1="68.35" y1="80.80" x2="68.35" y2="81.70" stroke="#333" stroke-width="0.6"/>
<line x1="70.58" y1="80.80" x2="70.58" y2="81.70" stroke="#333" stroke-width="0.6"/>
<line x1="72.81" y1="80.80" x2="72.81" y2="81.70" stroke="#333" stroke-width="0.6"/>
<line x1="75.04" y1="80.80" x2="75.04" y2="82.20" stroke="#333" stroke-width="0.6"/>
<line x1="77.26" y1="80.80" x2="77.26" y2="81.70" stroke="#333" stroke-width="0.6"/>
<line x1="79.49" y1="80.80" x2="79.49" y2="81.70" stroke="#333" stroke-width="0.6"/>
<line x1="81.72" y1="80.80" x2="81.72" y2="81.70" stroke="#333" stroke-width="0.6"/>
<line x1="83.95" y1="80.80" x2="83.95" y2="82.20" stroke="#333" stroke-width="0.6"/>
<line x1="86.17" y1="80.80" x2="86.17" y2="81.70" stroke="#333" stroke-width="0.6"/>
<line x1="88.40" y1="80.80" x2="88.40" y2="81.70" stroke="#333" stroke-width="0.6"/>
<rect x="39.40" y="32.00" width="49.00" height="48.80" fill="none" stroke="#000" stroke-width="1.2"/>
<text x="33.10" y="36.24" font-size="5.4" text-anchor="end" textLength="9.15" lengthAdjust="spacingAndGlyphs" fill="#222">100</text>
<text x="33.10" y="45.54" font-size="5.4" text-anchor="end" textLength="6.10" lengthAdjust="spacingAndGlyphs" fill="#222">80</text>
<text x="33.10" y="54.84" font-size="5.4" text-anchor="end" textLength="6.10" lengthAdjust="spacingAndGlyphs" fill="#222">60</text>
<text x="33.10" y="64.14" font-size="5.4" text-anchor="end" textLength="6.10" lengthAdjust="spacingAndGlyphs" fill="#222">40</text>
<text x="33.10" y="73.44" font-size="5.4" text-anchor="end" textLength="6.10" lengthAdjust="spacingAndGlyphs" fill="#222">20</text>
<text x="33.10" y="82.74" font-size="5.4" text-anchor="end" textLength="3.05" lengthAdjust="spacingAndGlyphs" fill="#222">0</text>
<text x="38.50" y="92.00" font-size="6.0" text-anchor="middle">10<tspan font-size="3.72" dy="-2.28">2</tspan></text>
<text x="48.70" y="92.00" font-size="6.0" text-anchor="middle">10<tspan font-size="3.72" dy="-2.28">3</tspan></text>
<text x="59.80" y="92.00" font-size="6.0" text-anchor="middle">10<tspan font-size="3.72" dy="-2.28">4</tspan></text>
<text x="70.50" y="92.00" font-size="6.0" text-anchor="middle">10<tspan font-size="3.72" dy="-2.28">5</tspan></text>
<text x="80.60" y="92.00" font-size="6.0" text-anchor="middle">10<tspan font-size="3.72" dy="-2.28">6</tspan></text>
<path d="M115.0,80.8 L115.5,80.8 L116.0,80.8 L116.5,80.7 L117.0,80.7 L117.5,80.7 L118.0,80.6 L118.5,80.5 L119.0,80.5 L119.5,80.3 L120.0,80.2 L120.5,80.0 L121.0,79.8 L121.5,79.4 L122.0,78.8 L122.5,78.0 L123.0,76.7 L123.5,74.8 L124.0,72.2 L124.5,68.9 L125.0,64.9 L125.5,60.7 L126.0,56.7 L126.5,53.7 L127.0,52.1 L127.5,52.2 L128.0,53.6 L128.5,56.2 L129.0,59.5 L129.5,63.1 L130.0,66.7 L130.5,70.0 L131.0,72.7 L131.5,74.9 L132.0,76.5 L132.5,77.7 L133.0,78.6 L133.5,79.1 L134.0,79.5 L134.5,79.8 L135.0,80.0 L135.5,80.2 L136.0,80.3 L136.5,80.4 L137.0,80.5 L137.5,80.6 L138.0,80.6 L138.5,80.7 L139.0,80.7 L139.5,80.7 L140.0,80.7 L140.5,80.8 L141.0,80.8 L141.5,80.8 L142.0,80.8 L142.5,80.8 L143.0,80.8 L143.5,80.8 L144.0,80.8 L144.5,80.8 L145.0,80.8 L145.5,80.8 L146.0,80.8 L146.5,80.8 L147.0,80.8 L147.5,80.8 L148.0,80.8 L148.5,80.8 L149.0,80.8 L149.5,80.8 L150.0,80.8 L150.5,80.8 L151.0,80.8 L151.5,80.8 L152.0,80.8 L152.5,80.8 L153.0,80.8 L153.5,80.8 L154.0,80.8 L154.5,80.8 L155.0,80.8 L155.5,80.8 L156.0,80.8 L156.5,80.8 L157.0,80.8 L157.5,80.8 L158.0,80.8 L158.5,80.8 L159.0,80.8 L159.5,80.8 L160.0,80.8 L160.5,80.8 L161.0,80.8 L161.5,80.8 L162.0,80.8 L162.5,80.8 L163.0,80.8 L163.5,80.8" stroke="#5b2a86" stroke-width="1.0" fill="none" stroke-linejoin="round"/>
<path d="M115.0,80.8 L115.5,80.8 L116.0,80.8 L116.5,80.8 L117.0,80.8 L117.5,80.8 L118.0,80.8 L118.5,80.8 L119.0,80.8 L119.5,80.8 L120.0,80.8 L120.5,80.8 L121.0,80.8 L121.5,80.8 L122.0,80.8 L122.5,80.8 L123.0,80.8 L123.5,80.8 L124.0,80.8 L124.5,80.8 L125.0,80.8 L125.5,80.8 L126.0,80.8 L126.5,80.8 L127.0,80.7 L127.5,80.7 L128.0,80.7 L128.5,80.7 L129.0,80.7 L129.5,80.6 L130.0,80.6 L130.5,80.5 L131.0,80.4 L131.5,80.3 L132.0,80.2 L132.5,80.1 L133.0,79.8 L133.5,79.5 L134.0,79.1 L134.5,78.5 L135.0,77.8 L135.5,77.0 L136.0,75.9 L136.5,74.6 L137.0,73.2 L137.5,71.7 L138.0,69.9 L138.5,68.1 L139.0,66.0 L139.5,63.7 L140.0,61.1 L140.5,58.2 L141.0,55.1 L141.5,52.0 L142.0,49.2 L142.5,47.1 L143.0,46.0 L143.5,46.1 L144.0,47.7 L144.5,50.8 L145.0,54.9 L145.5,59.6 L146.0,64.2 L146.5,68.3 L147.0,71.7 L147.5,74.4 L148.0,76.3 L148.5,77.6 L149.0,78.5 L149.5,79.1 L150.0,79.5 L150.5,79.8 L151.0,80.0 L151.5,80.2 L152.0,80.4 L152.5,80.5 L153.0,80.5 L153.5,80.6 L154.0,80.7 L154.5,80.7 L155.0,80.7 L155.5,80.8 L156.0,80.8 L156.5,80.8 L157.0,80.8 L157.5,80.8 L158.0,80.8 L158.5,80.8 L159.0,80.8 L159.5,80.8 L160.0,80.8 L160.5,80.8 L161.0,80.8 L161.5,80.8 L162.0,80.8 L162.5,80.8 L163.0,80.8 L163.5,80.8" stroke="#b5173e" stroke-width="1.0" fill="none" stroke-linejoin="round"/>
<path d="M115.0,80.8 L115.5,80.8 L116.0,80.8 L116.5,80.8 L117.0,80.8 L117.5,80.8 L118.0,80.8 L118.5,80.8 L119.0,80.8 L119.5,80.8 L120.0,80.8 L120.5,80.8 L121.0,80.8 L121.5,80.8 L122.0,80.8 L122.5,80.8 L123.0,80.8 L123.5,80.8 L124.0,80.8 L124.5,80.8 L125.0,80.8 L125.5,80.8 L126.0,80.8 L126.5,80.8 L127.0,80.8 L127.5,80.8 L128.0,80.8 L128.5,80.8 L129.0,80.8 L129.5,80.8 L130.0,80.8 L130.5,80.8 L131.0,80.8 L131.5,80.8 L132.0,80.8 L132.5,80.8 L133.0,80.8 L133.5,80.8 L134.0,80.8 L134.5,80.8 L135.0,80.8 L135.5,80.8 L136.0,80.8 L136.5,80.8 L137.0,80.8 L137.5,80.8 L138.0,80.8 L138.5,80.8 L139.0,80.8 L139.5,80.8 L140.0,80.7 L140.5,80.7 L141.0,80.7 L141.5,80.6 L142.0,80.5 L142.5,80.4 L143.0,80.2 L143.5,80.0 L144.0,79.8 L144.5,79.4 L145.0,78.8 L145.5,77.8 L146.0,76.2 L146.5,73.8 L147.0,70.3 L147.5,65.8 L148.0,60.5 L148.5,55.1 L149.0,50.5 L149.5,47.8 L150.0,47.5 L150.5,49.8 L151.0,54.1 L151.5,59.4 L152.0,64.8 L152.5,69.5 L153.0,73.2 L153.5,75.8 L154.0,77.5 L154.5,78.6 L155.0,79.3 L155.5,79.7 L156.0,80.0 L156.5,80.2 L157.0,80.4 L157.5,80.5 L158.0,80.6 L158.5,80.6 L159.0,80.7 L159.5,80.7 L160.0,80.8 L160.5,80.8 L161.0,80.8 L161.5,80.8 L162.0,80.8 L162.5,80.8 L163.0,80.8 L163.5,80.8" stroke="#5aabe6" stroke-width="1.0" fill="none" stroke-linejoin="round"/>
<line x1="111.80" y1="80.80" x2="114.40" y2="80.80" stroke="#000" stroke-width="0.8"/>
<line x1="114.40" y1="78.47" x2="115.70" y2="78.47" stroke="#333" stroke-width="0.6"/>
<line x1="114.40" y1="76.15" x2="115.70" y2="76.15" stroke="#333" stroke-width="0.6"/>
<line x1="114.40" y1="73.83" x2="115.70" y2="73.83" stroke="#333" stroke-width="0.6"/>
<line x1="111.80" y1="71.50" x2="114.40" y2="71.50" stroke="#000" stroke-width="0.8"/>
<line x1="114.40" y1="69.17" x2="115.70" y2="69.17" stroke="#333" stroke-width="0.6"/>
<line x1="114.40" y1="66.85" x2="115.70" y2="66.85" stroke="#333" stroke-width="0.6"/>
<line x1="114.40" y1="64.53" x2="115.70" y2="64.53" stroke="#333" stroke-width="0.6"/>
<line x1="111.80" y1="62.20" x2="114.40" y2="62.20" stroke="#000" stroke-width="0.8"/>
<line x1="114.40" y1="59.88" x2="115.70" y2="59.88" stroke="#333" stroke-width="0.6"/>
<line x1="114.40" y1="57.55" x2="115.70" y2="57.55" stroke="#333" stroke-width="0.6"/>
<line x1="114.40" y1="55.22" x2="115.70" y2="55.22" stroke="#333" stroke-width="0.6"/>
<line x1="111.80" y1="52.90" x2="114.40" y2="52.90" stroke="#000" stroke-width="0.8"/>
<line x1="114.40" y1="50.57" x2="115.70" y2="50.57" stroke="#333" stroke-width="0.6"/>
<line x1="114.40" y1="48.25" x2="115.70" y2="48.25" stroke="#333" stroke-width="0.6"/>
<line x1="114.40" y1="45.92" x2="115.70" y2="45.92" stroke="#333" stroke-width="0.6"/>
<line x1="111.80" y1="43.60" x2="114.40" y2="43.60" stroke="#000" stroke-width="0.8"/>
<line x1="114.40" y1="41.27" x2="115.70" y2="41.27" stroke="#333" stroke-width="0.6"/>
<line x1="114.40" y1="38.95" x2="115.70" y2="38.95" stroke="#333" stroke-width="0.6"/>
<line x1="114.40" y1="36.62" x2="115.70" y2="36.62" stroke="#333" stroke-width="0.6"/>
<line x1="111.80" y1="34.30" x2="114.40" y2="34.30" stroke="#000" stroke-width="0.8"/>
<line x1="114.40" y1="80.80" x2="114.40" y2="82.20" stroke="#333" stroke-width="0.6"/>
<line x1="116.67" y1="80.80" x2="116.67" y2="81.70" stroke="#333" stroke-width="0.6"/>
<line x1="118.94" y1="80.80" x2="118.94" y2="81.70" stroke="#333" stroke-width="0.6"/>
<line x1="121.20" y1="80.80" x2="121.20" y2="81.70" stroke="#333" stroke-width="0.6"/>
<line x1="123.47" y1="80.80" x2="123.47" y2="82.20" stroke="#333" stroke-width="0.6"/>
<line x1="125.74" y1="80.80" x2="125.74" y2="81.70" stroke="#333" stroke-width="0.6"/>
<line x1="128.01" y1="80.80" x2="128.01" y2="81.70" stroke="#333" stroke-width="0.6"/>
<line x1="130.28" y1="80.80" x2="130.28" y2="81.70" stroke="#333" stroke-width="0.6"/>
<line x1="132.55" y1="80.80" x2="132.55" y2="82.20" stroke="#333" stroke-width="0.6"/>
<line x1="134.81" y1="80.80" x2="134.81" y2="81.70" stroke="#333" stroke-width="0.6"/>
<line x1="137.08" y1="80.80" x2="137.08" y2="81.70" stroke="#333" stroke-width="0.6"/>
<line x1="139.35" y1="80.80" x2="139.35" y2="81.70" stroke="#333" stroke-width="0.6"/>
<line x1="141.62" y1="80.80" x2="141.62" y2="82.20" stroke="#333" stroke-width="0.6"/>
<line x1="143.89" y1="80.80" x2="143.89" y2="81.70" stroke="#333" stroke-width="0.6"/>
<line x1="146.15" y1="80.80" x2="146.15" y2="81.70" stroke="#333" stroke-width="0.6"/>
<line x1="148.42" y1="80.80" x2="148.42" y2="81.70" stroke="#333" stroke-width="0.6"/>
<line x1="150.69" y1="80.80" x2="150.69" y2="82.20" stroke="#333" stroke-width="0.6"/>
<line x1="152.96" y1="80.80" x2="152.96" y2="81.70" stroke="#333" stroke-width="0.6"/>
<line x1="155.23" y1="80.80" x2="155.23" y2="81.70" stroke="#333" stroke-width="0.6"/>
<line x1="157.50" y1="80.80" x2="157.50" y2="81.70" stroke="#333" stroke-width="0.6"/>
<line x1="159.76" y1="80.80" x2="159.76" y2="82.20" stroke="#333" stroke-width="0.6"/>
<line x1="162.03" y1="80.80" x2="162.03" y2="81.70" stroke="#333" stroke-width="0.6"/>
<line x1="164.30" y1="80.80" x2="164.30" y2="81.70" stroke="#333" stroke-width="0.6"/>
<rect x="114.40" y="32.00" width="49.90" height="48.80" fill="none" stroke="#000" stroke-width="1.2"/>
<text x="108.10" y="36.24" font-size="5.4" text-anchor="end" textLength="9.15" lengthAdjust="spacingAndGlyphs" fill="#222">100</text>
<text x="108.10" y="45.54" font-size="5.4" text-anchor="end" textLength="6.10" lengthAdjust="spacingAndGlyphs" fill="#222">80</text>
<text x="108.10" y="54.84" font-size="5.4" text-anchor="end" textLength="6.10" lengthAdjust="spacingAndGlyphs" fill="#222">60</text>
<text x="108.10" y="64.14" font-size="5.4" text-anchor="end" textLength="6.10" lengthAdjust="spacingAndGlyphs" fill="#222">40</text>
<text x="108.10" y="73.44" font-size="5.4" text-anchor="end" textLength="6.10" lengthAdjust="spacingAndGlyphs" fill="#222">20</text>
<text x="108.10" y="82.74" font-size="5.4" text-anchor="end" textLength="3.05" lengthAdjust="spacingAndGlyphs" fill="#222">0</text>
<text x="121.60" y="92.00" font-size="6.0" text-anchor="middle">10<tspan font-size="3.72" dy="-2.28">1</tspan></text>
<text x="135.50" y="92.00" font-size="6.0" text-anchor="middle">10<tspan font-size="3.72" dy="-2.28">2</tspan></text>
<text x="149.40" y="92.00" font-size="6.0" text-anchor="middle">10<tspan font-size="3.72" dy="-2.28">3</tspan></text>
<text x="163.30" y="92.00" font-size="6.0" text-anchor="middle">10<tspan font-size="3.72" dy="-2.28">4</tspan></text>
<path d="M195.0,79.9 L195.5,79.6 L196.0,79.3 L196.5,78.9 L197.0,78.5 L197.5,78.0 L198.0,77.5 L198.5,76.9 L199.0,76.4 L199.5,75.8 L200.0,75.3 L200.5,74.7 L201.0,74.1 L201.5,73.3 L202.0,72.1 L202.5,70.3 L203.0,67.6 L203.5,64.0 L204.0,59.4 L204.5,54.4 L205.0,49.6 L205.5,45.8 L206.0,44.0 L206.5,44.3 L207.0,46.4 L207.5,49.9 L208.0,54.3 L208.5,58.9 L209.0,63.4 L209.5,67.3 L210.0,70.4 L210.5,72.8 L211.0,74.4 L211.5,75.4 L212.0,76.0 L212.5,76.3 L213.0,76.5 L213.5,76.5 L214.0,76.5 L214.5,76.6 L215.0,76.6 L215.5,76.7 L216.0,76.8 L216.5,77.0 L217.0,77.2 L217.5,77.5 L218.0,77.8 L218.5,78.1 L219.0,78.4 L219.5,78.7 L220.0,79.0 L220.5,79.3 L221.0,79.5 L221.5,79.7 L222.0,79.9 L222.5,80.1 L223.0,80.2 L223.5,80.3 L224.0,80.4 L224.5,80.5 L225.0,80.5 L225.5,80.6 L226.0,80.6 L226.5,80.6 L227.0,80.7 L227.5,80.7 L228.0,80.7 L228.5,80.7 L229.0,80.7 L229.5,80.7 L230.0,80.7 L230.5,80.8 L231.0,80.8 L231.5,80.8 L232.0,80.8 L232.5,80.8 L233.0,80.8 L233.5,80.8 L234.0,80.8 L234.5,80.8 L235.0,80.8 L235.5,80.8 L236.0,80.8 L236.5,80.8 L237.0,80.8 L237.5,80.8 L238.0,80.8 L238.5,80.8 L239.0,80.8 L239.5,80.8 L240.0,80.8 L240.5,80.8 L241.0,80.8 L241.5,80.8 L242.0,80.8 L242.5,80.8 L243.0,80.8" stroke="#5b2a86" stroke-width="1.0" fill="none" stroke-linejoin="round"/>
<path d="M195.0,80.8 L195.5,80.8 L196.0,80.8 L196.5,80.8 L197.0,80.8 L197.5,80.8 L198.0,80.8 L198.5,80.8 L199.0,80.8 L199.5,80.8 L200.0,80.8 L200.5,80.8 L201.0,80.8 L201.5,80.8 L202.0,80.7 L202.5,80.7 L203.0,80.7 L203.5,80.7 L204.0,80.7 L204.5,80.6 L205.0,80.6 L205.5,80.6 L206.0,80.5 L206.5,80.5 L207.0,80.4 L207.5,80.3 L208.0,80.2 L208.5,80.0 L209.0,79.8 L209.5,79.6 L210.0,79.3 L210.5,78.9 L211.0,78.4 L211.5,77.8 L212.0,77.1 L212.5,76.3 L213.0,75.4 L213.5,74.4 L214.0,73.4 L214.5,72.2 L215.0,70.9 L215.5,69.6 L216.0,68.1 L216.5,66.4 L217.0,64.5 L217.5,62.4 L218.0,60.0 L218.5,57.5 L219.0,54.7 L219.5,52.0 L220.0,49.4 L220.5,47.2 L221.0,45.5 L221.5,44.6 L222.0,44.6 L222.5,45.9 L223.0,49.0 L223.5,53.2 L224.0,58.1 L224.5,63.0 L225.0,67.4 L225.5,71.1 L226.0,73.9 L226.5,75.9 L227.0,77.4 L227.5,78.3 L228.0,79.0 L228.5,79.4 L229.0,79.7 L229.5,80.0 L230.0,80.2 L230.5,80.3 L231.0,80.4 L231.5,80.5 L232.0,80.6 L232.5,80.6 L233.0,80.7 L233.5,80.7 L234.0,80.7 L234.5,80.8 L235.0,80.8 L235.5,80.8 L236.0,80.8 L236.5,80.8 L237.0,80.8 L237.5,80.8 L238.0,80.8 L238.5,80.8 L239.0,80.8 L239.5,80.8 L240.0,80.8 L240.5,80.8 L241.0,80.8 L241.5,80.8 L242.0,80.8 L242.5,80.8 L243.0,80.8" stroke="#b5173e" stroke-width="1.0" fill="none" stroke-linejoin="round"/>
<path d="M195.0,80.8 L195.5,80.8 L196.0,80.8 L196.5,80.8 L197.0,80.8 L197.5,80.8 L198.0,80.8 L198.5,80.8 L199.0,80.8 L199.5,80.8 L200.0,80.8 L200.5,80.8 L201.0,80.8 L201.5,80.8 L202.0,80.8 L202.5,80.8 L203.0,80.8 L203.5,80.8 L204.0,80.8 L204.5,80.8 L205.0,80.8 L205.5,80.8 L206.0,80.8 L206.5,80.8 L207.0,80.8 L207.5,80.7 L208.0,80.7 L208.5,80.7 L209.0,80.7 L209.5,80.7 L210.0,80.7 L210.5,80.7 L211.0,80.6 L211.5,80.6 L212.0,80.6 L212.5,80.5 L213.0,80.5 L213.5,80.4 L214.0,80.4 L214.5,80.3 L215.0,80.2 L215.5,80.0 L216.0,79.9 L216.5,79.8 L217.0,79.6 L217.5,79.4 L218.0,79.2 L218.5,79.1 L219.0,78.9 L219.5,78.7 L220.0,78.5 L220.5,78.3 L221.0,78.1 L221.5,77.9 L222.0,77.7 L222.5,77.5 L223.0,77.3 L223.5,76.9 L224.0,76.4 L224.5,75.6 L225.0,74.4 L225.5,72.5 L226.0,69.9 L226.5,66.5 L227.0,62.4 L227.5,57.8 L228.0,53.2 L228.5,49.3 L229.0,46.7 L229.5,45.9 L230.0,47.1 L230.5,50.5 L231.0,55.3 L231.5,60.7 L232.0,65.8 L232.5,70.1 L233.0,73.5 L233.5,75.9 L234.0,77.5 L234.5,78.5 L235.0,79.1 L235.5,79.6 L236.0,79.9 L236.5,80.1 L237.0,80.3 L237.5,80.4 L238.0,80.5 L238.5,80.6 L239.0,80.6 L239.5,80.7 L240.0,80.7 L240.5,80.7 L241.0,80.8 L241.5,80.8 L242.0,80.8 L242.5,80.8 L243.0,80.8" stroke="#5aabe6" stroke-width="1.0" fill="none" stroke-linejoin="round"/>
<line x1="191.80" y1="80.80" x2="194.40" y2="80.80" stroke="#000" stroke-width="0.8"/>
<line x1="194.40" y1="78.47" x2="195.70" y2="78.47" stroke="#333" stroke-width="0.6"/>
<line x1="194.40" y1="76.15" x2="195.70" y2="76.15" stroke="#333" stroke-width="0.6"/>
<line x1="194.40" y1="73.83" x2="195.70" y2="73.83" stroke="#333" stroke-width="0.6"/>
<line x1="191.80" y1="71.50" x2="194.40" y2="71.50" stroke="#000" stroke-width="0.8"/>
<line x1="194.40" y1="69.17" x2="195.70" y2="69.17" stroke="#333" stroke-width="0.6"/>
<line x1="194.40" y1="66.85" x2="195.70" y2="66.85" stroke="#333" stroke-width="0.6"/>
<line x1="194.40" y1="64.53" x2="195.70" y2="64.53" stroke="#333" stroke-width="0.6"/>
<line x1="191.80" y1="62.20" x2="194.40" y2="62.20" stroke="#000" stroke-width="0.8"/>
<line x1="194.40" y1="59.88" x2="195.70" y2="59.88" stroke="#333" stroke-width="0.6"/>
<line x1="194.40" y1="57.55" x2="195.70" y2="57.55" stroke="#333" stroke-width="0.6"/>
<line x1="194.40" y1="55.22" x2="195.70" y2="55.22" stroke="#333" stroke-width="0.6"/>
<line x1="191.80" y1="52.90" x2="194.40" y2="52.90" stroke="#000" stroke-width="0.8"/>
<line x1="194.40" y1="50.57" x2="195.70" y2="50.57" stroke="#333" stroke-width="0.6"/>
<line x1="194.40" y1="48.25" x2="195.70" y2="48.25" stroke="#333" stroke-width="0.6"/>
<line x1="194.40" y1="45.92" x2="195.70" y2="45.92" stroke="#333" stroke-width="0.6"/>
<line x1="191.80" y1="43.60" x2="194.40" y2="43.60" stroke="#000" stroke-width="0.8"/>
<line x1="194.40" y1="41.27" x2="195.70" y2="41.27" stroke="#333" stroke-width="0.6"/>
<line x1="194.40" y1="38.95" x2="195.70" y2="38.95" stroke="#333" stroke-width="0.6"/>
<line x1="194.40" y1="36.62" x2="195.70" y2="36.62" stroke="#333" stroke-width="0.6"/>
<line x1="191.80" y1="34.30" x2="194.40" y2="34.30" stroke="#000" stroke-width="0.8"/>
<line x1="194.40" y1="80.80" x2="194.40" y2="82.20" stroke="#333" stroke-width="0.6"/>
<line x1="196.65" y1="80.80" x2="196.65" y2="81.70" stroke="#333" stroke-width="0.6"/>
<line x1="198.89" y1="80.80" x2="198.89" y2="81.70" stroke="#333" stroke-width="0.6"/>
<line x1="201.14" y1="80.80" x2="201.14" y2="81.70" stroke="#333" stroke-width="0.6"/>
<line x1="203.38" y1="80.80" x2="203.38" y2="82.20" stroke="#333" stroke-width="0.6"/>
<line x1="205.63" y1="80.80" x2="205.63" y2="81.70" stroke="#333" stroke-width="0.6"/>
<line x1="207.87" y1="80.80" x2="207.87" y2="81.70" stroke="#333" stroke-width="0.6"/>
<line x1="210.12" y1="80.80" x2="210.12" y2="81.70" stroke="#333" stroke-width="0.6"/>
<line x1="212.36" y1="80.80" x2="212.36" y2="82.20" stroke="#333" stroke-width="0.6"/>
<line x1="214.61" y1="80.80" x2="214.61" y2="81.70" stroke="#333" stroke-width="0.6"/>
<line x1="216.85" y1="80.80" x2="216.85" y2="81.70" stroke="#333" stroke-width="0.6"/>
<line x1="219.10" y1="80.80" x2="219.10" y2="81.70" stroke="#333" stroke-width="0.6"/>
<line x1="221.35" y1="80.80" x2="221.35" y2="82.20" stroke="#333" stroke-width="0.6"/>
<line x1="223.59" y1="80.80" x2="223.59" y2="81.70" stroke="#333" stroke-width="0.6"/>
<line x1="225.84" y1="80.80" x2="225.84" y2="81.70" stroke="#333" stroke-width="0.6"/>
<line x1="228.08" y1="80.80" x2="228.08" y2="81.70" stroke="#333" stroke-width="0.6"/>
<line x1="230.33" y1="80.80" x2="230.33" y2="82.20" stroke="#333" stroke-width="0.6"/>
<line x1="232.57" y1="80.80" x2="232.57" y2="81.70" stroke="#333" stroke-width="0.6"/>
<line x1="234.82" y1="80.80" x2="234.82" y2="81.70" stroke="#333" stroke-width="0.6"/>
<line x1="237.06" y1="80.80" x2="237.06" y2="81.70" stroke="#333" stroke-width="0.6"/>
<line x1="239.31" y1="80.80" x2="239.31" y2="82.20" stroke="#333" stroke-width="0.6"/>
<line x1="241.55" y1="80.80" x2="241.55" y2="81.70" stroke="#333" stroke-width="0.6"/>
<line x1="243.80" y1="80.80" x2="243.80" y2="81.70" stroke="#333" stroke-width="0.6"/>
<rect x="194.40" y="32.00" width="49.40" height="48.80" fill="none" stroke="#000" stroke-width="1.2"/>
<text x="188.10" y="36.24" font-size="5.4" text-anchor="end" textLength="9.15" lengthAdjust="spacingAndGlyphs" fill="#222">100</text>
<text x="188.10" y="45.54" font-size="5.4" text-anchor="end" textLength="6.10" lengthAdjust="spacingAndGlyphs" fill="#222">80</text>
<text x="188.10" y="54.84" font-size="5.4" text-anchor="end" textLength="6.10" lengthAdjust="spacingAndGlyphs" fill="#222">60</text>
<text x="188.10" y="64.14" font-size="5.4" text-anchor="end" textLength="6.10" lengthAdjust="spacingAndGlyphs" fill="#222">40</text>
<text x="188.10" y="73.44" font-size="5.4" text-anchor="end" textLength="6.10" lengthAdjust="spacingAndGlyphs" fill="#222">20</text>
<text x="188.10" y="82.74" font-size="5.4" text-anchor="end" textLength="3.05" lengthAdjust="spacingAndGlyphs" fill="#222">0</text>
<text x="201.60" y="92.00" font-size="6.0" text-anchor="middle">10<tspan font-size="3.72" dy="-2.28">1</tspan></text>
<text x="215.50" y="92.00" font-size="6.0" text-anchor="middle">10<tspan font-size="3.72" dy="-2.28">2</tspan></text>
<text x="229.40" y="92.00" font-size="6.0" text-anchor="middle">10<tspan font-size="3.72" dy="-2.28">3</tspan></text>
<text x="243.30" y="92.00" font-size="6.0" text-anchor="middle">10<tspan font-size="3.72" dy="-2.28">4</tspan></text>
<path d="M40.0,150.4 L40.5,150.1 L41.0,149.7 L41.5,149.3 L42.0,148.7 L42.5,148.2 L43.0,147.5 L43.5,146.9 L44.0,146.3 L44.5,145.6 L45.0,145.1 L45.5,144.6 L46.0,144.1 L46.5,143.6 L47.0,142.9 L47.5,142.1 L48.0,140.9 L48.5,139.1 L49.0,136.6 L49.5,133.4 L50.0,129.6 L50.5,125.1 L51.0,120.6 L51.5,116.3 L52.0,112.7 L52.5,110.4 L53.0,109.7 L53.5,111.0 L54.0,114.4 L54.5,119.3 L55.0,125.0 L55.5,130.7 L56.0,135.9 L56.5,140.2 L57.0,143.6 L57.5,146.0 L58.0,147.7 L58.5,148.8 L59.0,149.5 L59.5,150.0 L60.0,150.4 L60.5,150.7 L61.0,150.9 L61.5,151.1 L62.0,151.2 L62.5,151.3 L63.0,151.4 L63.5,151.4 L64.0,151.5 L64.5,151.5 L65.0,151.5 L65.5,151.6 L66.0,151.6 L66.5,151.6 L67.0,151.6 L67.5,151.6 L68.0,151.6 L68.5,151.6 L69.0,151.6 L69.5,151.6 L70.0,151.6 L70.5,151.6 L71.0,151.6 L71.5,151.6 L72.0,151.6 L72.5,151.6 L73.0,151.6 L73.5,151.6 L74.0,151.6 L74.5,151.6 L75.0,151.6 L75.5,151.6 L76.0,151.6 L76.5,151.6 L77.0,151.6 L77.5,151.6 L78.0,151.6 L78.5,151.6 L79.0,151.6 L79.5,151.6 L80.0,151.6 L80.5,151.6 L81.0,151.6 L81.5,151.6 L82.0,151.6 L82.5,151.6 L83.0,151.6 L83.5,151.6 L84.0,151.6 L84.5,151.6 L85.0,151.6 L85.5,151.6 L86.0,151.6 L86.5,151.6 L87.0,151.6 L87.5,151.6" stroke="#5b2a86" stroke-width="1.0" fill="none" stroke-linejoin="round"/>
<path d="M40.0,151.6 L40.5,151.6 L41.0,151.6 L41.5,151.6 L42.0,151.6 L42.5,151.6 L43.0,151.6 L43.5,151.6 L44.0,151.6 L44.5,151.6 L45.0,151.6 L45.5,151.6 L46.0,151.6 L46.5,151.6 L47.0,151.6 L47.5,151.6 L48.0,151.6 L48.5,151.6 L49.0,151.6 L49.5,151.6 L50.0,151.6 L50.5,151.6 L51.0,151.6 L51.5,151.6 L52.0,151.6 L52.5,151.6 L53.0,151.5 L53.5,151.5 L54.0,151.4 L54.5,151.3 L55.0,151.2 L55.5,151.0 L56.0,150.8 L56.5,150.5 L57.0,150.1 L57.5,149.5 L58.0,148.4 L58.5,146.7 L59.0,143.9 L59.5,139.6 L60.0,133.7 L60.5,126.5 L61.0,118.9 L61.5,112.3 L62.0,108.3 L62.5,107.9 L63.0,111.3 L63.5,117.5 L64.0,125.0 L64.5,132.4 L65.0,138.6 L65.5,143.2 L66.0,146.2 L66.5,148.1 L67.0,149.3 L67.5,150.0 L68.0,150.5 L68.5,150.8 L69.0,151.0 L69.5,151.2 L70.0,151.3 L70.5,151.4 L71.0,151.5 L71.5,151.5 L72.0,151.5 L72.5,151.6 L73.0,151.6 L73.5,151.6 L74.0,151.6 L74.5,151.6 L75.0,151.6 L75.5,151.6 L76.0,151.6 L76.5,151.6 L77.0,151.6 L77.5,151.6 L78.0,151.6 L78.5,151.6 L79.0,151.6 L79.5,151.6 L80.0,151.6 L80.5,151.6 L81.0,151.6 L81.5,151.6 L82.0,151.6 L82.5,151.6 L83.0,151.6 L83.5,151.6 L84.0,151.6 L84.5,151.6 L85.0,151.6 L85.5,151.6 L86.0,151.6 L86.5,151.6 L87.0,151.6 L87.5,151.6" stroke="#f4c20d" stroke-width="1.0" fill="none" stroke-linejoin="round"/>
<path d="M40.0,151.6 L40.5,151.6 L41.0,151.6 L41.5,151.6 L42.0,151.6 L42.5,151.6 L43.0,151.6 L43.5,151.6 L44.0,151.6 L44.5,151.6 L45.0,151.6 L45.5,151.6 L46.0,151.6 L46.5,151.6 L47.0,151.6 L47.5,151.6 L48.0,151.6 L48.5,151.6 L49.0,151.6 L49.5,151.6 L50.0,151.6 L50.5,151.6 L51.0,151.6 L51.5,151.6 L52.0,151.6 L52.5,151.6 L53.0,151.6 L53.5,151.6 L54.0,151.6 L54.5,151.6 L55.0,151.6 L55.5,151.6 L56.0,151.6 L56.5,151.6 L57.0,151.6 L57.5,151.6 L58.0,151.6 L58.5,151.6 L59.0,151.6 L59.5,151.6 L60.0,151.6 L60.5,151.6 L61.0,151.6 L61.5,151.6 L62.0,151.6 L62.5,151.6 L63.0,151.6 L63.5,151.6 L64.0,151.6 L64.5,151.5 L65.0,151.5 L65.5,151.5 L66.0,151.4 L66.5,151.3 L67.0,151.2 L67.5,151.0 L68.0,150.8 L68.5,150.5 L69.0,150.1 L69.5,149.4 L70.0,148.3 L70.5,146.5 L71.0,143.6 L71.5,139.2 L72.0,133.2 L72.5,125.7 L73.0,117.9 L73.5,111.1 L74.0,106.9 L74.5,106.5 L75.0,110.0 L75.5,116.4 L76.0,124.2 L76.5,131.8 L77.0,138.2 L77.5,142.9 L78.0,146.1 L78.5,148.0 L79.0,149.2 L79.5,149.9 L80.0,150.4 L80.5,150.7 L81.0,151.0 L81.5,151.2 L82.0,151.3 L82.5,151.4 L83.0,151.5 L83.5,151.5 L84.0,151.5 L84.5,151.6 L85.0,151.6 L85.5,151.6 L86.0,151.6 L86.5,151.6 L87.0,151.6 L87.5,151.6" stroke="#63a83a" stroke-width="1.0" fill="none" stroke-linejoin="round"/>
<line x1="36.80" y1="151.60" x2="39.40" y2="151.60" stroke="#000" stroke-width="0.8"/>
<line x1="39.40" y1="149.26" x2="40.70" y2="149.26" stroke="#333" stroke-width="0.6"/>
<line x1="39.40" y1="146.92" x2="40.70" y2="146.92" stroke="#333" stroke-width="0.6"/>
<line x1="39.40" y1="144.58" x2="40.70" y2="144.58" stroke="#333" stroke-width="0.6"/>
<line x1="36.80" y1="142.24" x2="39.40" y2="142.24" stroke="#000" stroke-width="0.8"/>
<line x1="39.40" y1="139.90" x2="40.70" y2="139.90" stroke="#333" stroke-width="0.6"/>
<line x1="39.40" y1="137.56" x2="40.70" y2="137.56" stroke="#333" stroke-width="0.6"/>
<line x1="39.40" y1="135.22" x2="40.70" y2="135.22" stroke="#333" stroke-width="0.6"/>
<line x1="36.80" y1="132.88" x2="39.40" y2="132.88" stroke="#000" stroke-width="0.8"/>
<line x1="39.40" y1="130.54" x2="40.70" y2="130.54" stroke="#333" stroke-width="0.6"/>
<line x1="39.40" y1="128.20" x2="40.70" y2="128.20" stroke="#333" stroke-width="0.6"/>
<line x1="39.40" y1="125.86" x2="40.70" y2="125.86" stroke="#333" stroke-width="0.6"/>
<line x1="36.80" y1="123.52" x2="39.40" y2="123.52" stroke="#000" stroke-width="0.8"/>
<line x1="39.40" y1="121.18" x2="40.70" y2="121.18" stroke="#333" stroke-width="0.6"/>
<line x1="39.40" y1="118.84" x2="40.70" y2="118.84" stroke="#333" stroke-width="0.6"/>
<line x1="39.40" y1="116.50" x2="40.70" y2="116.50" stroke="#333" stroke-width="0.6"/>
<line x1="36.80" y1="114.16" x2="39.40" y2="114.16" stroke="#000" stroke-width="0.8"/>
<line x1="39.40" y1="111.82" x2="40.70" y2="111.82" stroke="#333" stroke-width="0.6"/>
<line x1="39.40" y1="109.48" x2="40.70" y2="109.48" stroke="#333" stroke-width="0.6"/>
<line x1="39.40" y1="107.14" x2="40.70" y2="107.14" stroke="#333" stroke-width="0.6"/>
<line x1="36.80" y1="104.80" x2="39.40" y2="104.80" stroke="#000" stroke-width="0.8"/>
<line x1="39.40" y1="151.60" x2="39.40" y2="153.00" stroke="#333" stroke-width="0.6"/>
<line x1="41.63" y1="151.60" x2="41.63" y2="152.50" stroke="#333" stroke-width="0.6"/>
<line x1="43.85" y1="151.60" x2="43.85" y2="152.50" stroke="#333" stroke-width="0.6"/>
<line x1="46.08" y1="151.60" x2="46.08" y2="152.50" stroke="#333" stroke-width="0.6"/>
<line x1="48.31" y1="151.60" x2="48.31" y2="153.00" stroke="#333" stroke-width="0.6"/>
<line x1="50.54" y1="151.60" x2="50.54" y2="152.50" stroke="#333" stroke-width="0.6"/>
<line x1="52.76" y1="151.60" x2="52.76" y2="152.50" stroke="#333" stroke-width="0.6"/>
<line x1="54.99" y1="151.60" x2="54.99" y2="152.50" stroke="#333" stroke-width="0.6"/>
<line x1="57.22" y1="151.60" x2="57.22" y2="153.00" stroke="#333" stroke-width="0.6"/>
<line x1="59.45" y1="151.60" x2="59.45" y2="152.50" stroke="#333" stroke-width="0.6"/>
<line x1="61.67" y1="151.60" x2="61.67" y2="152.50" stroke="#333" stroke-width="0.6"/>
<line x1="63.90" y1="151.60" x2="63.90" y2="152.50" stroke="#333" stroke-width="0.6"/>
<line x1="66.13" y1="151.60" x2="66.13" y2="153.00" stroke="#333" stroke-width="0.6"/>
<line x1="68.35" y1="151.60" x2="68.35" y2="152.50" stroke="#333" stroke-width="0.6"/>
<line x1="70.58" y1="151.60" x2="70.58" y2="152.50" stroke="#333" stroke-width="0.6"/>
<line x1="72.81" y1="151.60" x2="72.81" y2="152.50" stroke="#333" stroke-width="0.6"/>
<line x1="75.04" y1="151.60" x2="75.04" y2="153.00" stroke="#333" stroke-width="0.6"/>
<line x1="77.26" y1="151.60" x2="77.26" y2="152.50" stroke="#333" stroke-width="0.6"/>
<line x1="79.49" y1="151.60" x2="79.49" y2="152.50" stroke="#333" stroke-width="0.6"/>
<line x1="81.72" y1="151.60" x2="81.72" y2="152.50" stroke="#333" stroke-width="0.6"/>
<line x1="83.95" y1="151.60" x2="83.95" y2="153.00" stroke="#333" stroke-width="0.6"/>
<line x1="86.17" y1="151.60" x2="86.17" y2="152.50" stroke="#333" stroke-width="0.6"/>
<line x1="88.40" y1="151.60" x2="88.40" y2="152.50" stroke="#333" stroke-width="0.6"/>
<rect x="39.40" y="102.50" width="49.00" height="49.10" fill="none" stroke="#000" stroke-width="1.2"/>
<text x="33.10" y="106.74" font-size="5.4" text-anchor="end" textLength="9.15" lengthAdjust="spacingAndGlyphs" fill="#222">100</text>
<text x="33.10" y="116.10" font-size="5.4" text-anchor="end" textLength="6.10" lengthAdjust="spacingAndGlyphs" fill="#222">80</text>
<text x="33.10" y="125.46" font-size="5.4" text-anchor="end" textLength="6.10" lengthAdjust="spacingAndGlyphs" fill="#222">60</text>
<text x="33.10" y="134.82" font-size="5.4" text-anchor="end" textLength="6.10" lengthAdjust="spacingAndGlyphs" fill="#222">40</text>
<text x="33.10" y="144.18" font-size="5.4" text-anchor="end" textLength="6.10" lengthAdjust="spacingAndGlyphs" fill="#222">20</text>
<text x="33.10" y="153.54" font-size="5.4" text-anchor="end" textLength="3.05" lengthAdjust="spacingAndGlyphs" fill="#222">0</text>
<text x="38.50" y="162.80" font-size="6.0" text-anchor="middle">10<tspan font-size="3.72" dy="-2.28">2</tspan></text>
<text x="48.70" y="162.80" font-size="6.0" text-anchor="middle">10<tspan font-size="3.72" dy="-2.28">3</tspan></text>
<text x="59.80" y="162.80" font-size="6.0" text-anchor="middle">10<tspan font-size="3.72" dy="-2.28">4</tspan></text>
<text x="70.50" y="162.80" font-size="6.0" text-anchor="middle">10<tspan font-size="3.72" dy="-2.28">5</tspan></text>
<text x="80.60" y="162.80" font-size="6.0" text-anchor="middle">10<tspan font-size="3.72" dy="-2.28">6</tspan></text>
<line x1="39.40" y1="168.00" x2="83.70" y2="168.00" stroke="#222" stroke-width="1.2"/>
<path d="M83.20,165.50 L88.40,168.00 L83.20,170.50 Z" stroke="none" stroke-width="1" fill="#222"/>
<path d="M115.0,151.6 L115.5,151.6 L116.0,151.6 L116.5,151.5 L117.0,151.5 L117.5,151.5 L118.0,151.4 L118.5,151.3 L119.0,151.3 L119.5,151.1 L120.0,151.0 L120.5,150.8 L121.0,150.6 L121.5,150.2 L122.0,149.6 L122.5,148.8 L123.0,147.5 L123.5,145.6 L124.0,143.0 L124.5,139.6 L125.0,135.6 L125.5,131.3 L126.0,127.4 L126.5,124.3 L127.0,122.7 L127.5,122.8 L128.0,124.3 L128.5,126.8 L129.0,130.1 L129.5,133.8 L130.0,137.4 L130.5,140.7 L131.0,143.5 L131.5,145.7 L132.0,147.3 L132.5,148.5 L133.0,149.3 L133.5,149.9 L134.0,150.3 L134.5,150.6 L135.0,150.8 L135.5,151.0 L136.0,151.1 L136.5,151.2 L137.0,151.3 L137.5,151.4 L138.0,151.4 L138.5,151.5 L139.0,151.5 L139.5,151.5 L140.0,151.5 L140.5,151.6 L141.0,151.6 L141.5,151.6 L142.0,151.6 L142.5,151.6 L143.0,151.6 L143.5,151.6 L144.0,151.6 L144.5,151.6 L145.0,151.6 L145.5,151.6 L146.0,151.6 L146.5,151.6 L147.0,151.6 L147.5,151.6 L148.0,151.6 L148.5,151.6 L149.0,151.6 L149.5,151.6 L150.0,151.6 L150.5,151.6 L151.0,151.6 L151.5,151.6 L152.0,151.6 L152.5,151.6 L153.0,151.6 L153.5,151.6 L154.0,151.6 L154.5,151.6 L155.0,151.6 L155.5,151.6 L156.0,151.6 L156.5,151.6 L157.0,151.6 L157.5,151.6 L158.0,151.6 L158.5,151.6 L159.0,151.6 L159.5,151.6 L160.0,151.6 L160.5,151.6 L161.0,151.6 L161.5,151.6 L162.0,151.6 L162.5,151.6 L163.0,151.6 L163.5,151.6" stroke="#5b2a86" stroke-width="1.0" fill="none" stroke-linejoin="round"/>
<path d="M115.0,151.6 L115.5,151.6 L116.0,151.6 L116.5,151.6 L117.0,151.6 L117.5,151.6 L118.0,151.6 L118.5,151.6 L119.0,151.6 L119.5,151.6 L120.0,151.6 L120.5,151.6 L121.0,151.6 L121.5,151.6 L122.0,151.6 L122.5,151.6 L123.0,151.6 L123.5,151.6 L124.0,151.6 L124.5,151.6 L125.0,151.6 L125.5,151.6 L126.0,151.6 L126.5,151.6 L127.0,151.5 L127.5,151.5 L128.0,151.5 L128.5,151.5 L129.0,151.5 L129.5,151.4 L130.0,151.4 L130.5,151.3 L131.0,151.2 L131.5,151.1 L132.0,151.0 L132.5,150.8 L133.0,150.6 L133.5,150.4 L134.0,150.1 L134.5,149.8 L135.0,149.5 L135.5,149.2 L136.0,148.8 L136.5,148.3 L137.0,147.6 L137.5,146.7 L138.0,145.5 L138.5,143.8 L139.0,141.7 L139.5,138.9 L140.0,135.7 L140.5,132.0 L141.0,128.3 L141.5,124.8 L142.0,122.0 L142.5,120.1 L143.0,119.5 L143.5,120.6 L144.0,123.4 L144.5,127.4 L145.0,132.1 L145.5,136.7 L146.0,140.7 L146.5,143.9 L147.0,146.3 L147.5,148.0 L148.0,149.1 L148.5,149.8 L149.0,150.3 L149.5,150.6 L150.0,150.9 L150.5,151.0 L151.0,151.2 L151.5,151.3 L152.0,151.4 L152.5,151.4 L153.0,151.5 L153.5,151.5 L154.0,151.5 L154.5,151.6 L155.0,151.6 L155.5,151.6 L156.0,151.6 L156.5,151.6 L157.0,151.6 L157.5,151.6 L158.0,151.6 L158.5,151.6 L159.0,151.6 L159.5,151.6 L160.0,151.6 L160.5,151.6 L161.0,151.6 L161.5,151.6 L162.0,151.6 L162.5,151.6 L163.0,151.6 L163.5,151.6" stroke="#f4c20d" stroke-width="1.0" fill="none" stroke-linejoin="round"/>
<path d="M115.0,151.6 L115.5,151.6 L116.0,151.6 L116.5,151.6 L117.0,151.6 L117.5,151.6 L118.0,151.6 L118.5,151.6 L119.0,151.6 L119.5,151.6 L120.0,151.6 L120.5,151.6 L121.0,151.6 L121.5,151.6 L122.0,151.6 L122.5,151.6 L123.0,151.6 L123.5,151.6 L124.0,151.6 L124.5,151.6 L125.0,151.6 L125.5,151.6 L126.0,151.6 L126.5,151.6 L127.0,151.6 L127.5,151.6 L128.0,151.6 L128.5,151.6 L129.0,151.6 L129.5,151.6 L130.0,151.6 L130.5,151.6 L131.0,151.6 L131.5,151.6 L132.0,151.6 L132.5,151.6 L133.0,151.6 L133.5,151.6 L134.0,151.6 L134.5,151.6 L135.0,151.5 L135.5,151.5 L136.0,151.5 L136.5,151.5 L137.0,151.5 L137.5,151.4 L138.0,151.4 L138.5,151.3 L139.0,151.3 L139.5,151.2 L140.0,151.0 L140.5,150.9 L141.0,150.7 L141.5,150.5 L142.0,150.2 L142.5,149.9 L143.0,149.6 L143.5,149.2 L144.0,148.8 L144.5,148.2 L145.0,147.6 L145.5,146.8 L146.0,145.7 L146.5,144.2 L147.0,142.3 L147.5,139.8 L148.0,136.7 L148.5,133.1 L149.0,129.1 L149.5,125.1 L150.0,121.5 L150.5,118.6 L151.0,116.9 L151.5,116.6 L152.0,118.1 L152.5,121.6 L153.0,126.2 L153.5,131.3 L154.0,136.2 L154.5,140.5 L155.0,143.8 L155.5,146.2 L156.0,147.9 L156.5,149.0 L157.0,149.8 L157.5,150.2 L158.0,150.6 L158.5,150.8 L159.0,151.0 L159.5,151.2 L160.0,151.3 L160.5,151.4 L161.0,151.4 L161.5,151.5 L162.0,151.5 L162.5,151.5 L163.0,151.6 L163.5,151.6" stroke="#63a83a" stroke-width="1.0" fill="none" stroke-linejoin="round"/>
<line x1="111.80" y1="151.60" x2="114.40" y2="151.60" stroke="#000" stroke-width="0.8"/>
<line x1="114.40" y1="149.26" x2="115.70" y2="149.26" stroke="#333" stroke-width="0.6"/>
<line x1="114.40" y1="146.92" x2="115.70" y2="146.92" stroke="#333" stroke-width="0.6"/>
<line x1="114.40" y1="144.58" x2="115.70" y2="144.58" stroke="#333" stroke-width="0.6"/>
<line x1="111.80" y1="142.24" x2="114.40" y2="142.24" stroke="#000" stroke-width="0.8"/>
<line x1="114.40" y1="139.90" x2="115.70" y2="139.90" stroke="#333" stroke-width="0.6"/>
<line x1="114.40" y1="137.56" x2="115.70" y2="137.56" stroke="#333" stroke-width="0.6"/>
<line x1="114.40" y1="135.22" x2="115.70" y2="135.22" stroke="#333" stroke-width="0.6"/>
<line x1="111.80" y1="132.88" x2="114.40" y2="132.88" stroke="#000" stroke-width="0.8"/>
<line x1="114.40" y1="130.54" x2="115.70" y2="130.54" stroke="#333" stroke-width="0.6"/>
<line x1="114.40" y1="128.20" x2="115.70" y2="128.20" stroke="#333" stroke-width="0.6"/>
<line x1="114.40" y1="125.86" x2="115.70" y2="125.86" stroke="#333" stroke-width="0.6"/>
<line x1="111.80" y1="123.52" x2="114.40" y2="123.52" stroke="#000" stroke-width="0.8"/>
<line x1="114.40" y1="121.18" x2="115.70" y2="121.18" stroke="#333" stroke-width="0.6"/>
<line x1="114.40" y1="118.84" x2="115.70" y2="118.84" stroke="#333" stroke-width="0.6"/>
<line x1="114.40" y1="116.50" x2="115.70" y2="116.50" stroke="#333" stroke-width="0.6"/>
<line x1="111.80" y1="114.16" x2="114.40" y2="114.16" stroke="#000" stroke-width="0.8"/>
<line x1="114.40" y1="111.82" x2="115.70" y2="111.82" stroke="#333" stroke-width="0.6"/>
<line x1="114.40" y1="109.48" x2="115.70" y2="109.48" stroke="#333" stroke-width="0.6"/>
<line x1="114.40" y1="107.14" x2="115.70" y2="107.14" stroke="#333" stroke-width="0.6"/>
<line x1="111.80" y1="104.80" x2="114.40" y2="104.80" stroke="#000" stroke-width="0.8"/>
<line x1="114.40" y1="151.60" x2="114.40" y2="153.00" stroke="#333" stroke-width="0.6"/>
<line x1="116.67" y1="151.60" x2="116.67" y2="152.50" stroke="#333" stroke-width="0.6"/>
<line x1="118.94" y1="151.60" x2="118.94" y2="152.50" stroke="#333" stroke-width="0.6"/>
<line x1="121.20" y1="151.60" x2="121.20" y2="152.50" stroke="#333" stroke-width="0.6"/>
<line x1="123.47" y1="151.60" x2="123.47" y2="153.00" stroke="#333" stroke-width="0.6"/>
<line x1="125.74" y1="151.60" x2="125.74" y2="152.50" stroke="#333" stroke-width="0.6"/>
<line x1="128.01" y1="151.60" x2="128.01" y2="152.50" stroke="#333" stroke-width="0.6"/>
<line x1="130.28" y1="151.60" x2="130.28" y2="152.50" stroke="#333" stroke-width="0.6"/>
<line x1="132.55" y1="151.60" x2="132.55" y2="153.00" stroke="#333" stroke-width="0.6"/>
<line x1="134.81" y1="151.60" x2="134.81" y2="152.50" stroke="#333" stroke-width="0.6"/>
<line x1="137.08" y1="151.60" x2="137.08" y2="152.50" stroke="#333" stroke-width="0.6"/>
<line x1="139.35" y1="151.60" x2="139.35" y2="152.50" stroke="#333" stroke-width="0.6"/>
<line x1="141.62" y1="151.60" x2="141.62" y2="153.00" stroke="#333" stroke-width="0.6"/>
<line x1="143.89" y1="151.60" x2="143.89" y2="152.50" stroke="#333" stroke-width="0.6"/>
<line x1="146.15" y1="151.60" x2="146.15" y2="152.50" stroke="#333" stroke-width="0.6"/>
<line x1="148.42" y1="151.60" x2="148.42" y2="152.50" stroke="#333" stroke-width="0.6"/>
<line x1="150.69" y1="151.60" x2="150.69" y2="153.00" stroke="#333" stroke-width="0.6"/>
<line x1="152.96" y1="151.60" x2="152.96" y2="152.50" stroke="#333" stroke-width="0.6"/>
<line x1="155.23" y1="151.60" x2="155.23" y2="152.50" stroke="#333" stroke-width="0.6"/>
<line x1="157.50" y1="151.60" x2="157.50" y2="152.50" stroke="#333" stroke-width="0.6"/>
<line x1="159.76" y1="151.60" x2="159.76" y2="153.00" stroke="#333" stroke-width="0.6"/>
<line x1="162.03" y1="151.60" x2="162.03" y2="152.50" stroke="#333" stroke-width="0.6"/>
<line x1="164.30" y1="151.60" x2="164.30" y2="152.50" stroke="#333" stroke-width="0.6"/>
<rect x="114.40" y="102.50" width="49.90" height="49.10" fill="none" stroke="#000" stroke-width="1.2"/>
<text x="108.10" y="106.74" font-size="5.4" text-anchor="end" textLength="9.15" lengthAdjust="spacingAndGlyphs" fill="#222">100</text>
<text x="108.10" y="116.10" font-size="5.4" text-anchor="end" textLength="6.10" lengthAdjust="spacingAndGlyphs" fill="#222">80</text>
<text x="108.10" y="125.46" font-size="5.4" text-anchor="end" textLength="6.10" lengthAdjust="spacingAndGlyphs" fill="#222">60</text>
<text x="108.10" y="134.82" font-size="5.4" text-anchor="end" textLength="6.10" lengthAdjust="spacingAndGlyphs" fill="#222">40</text>
<text x="108.10" y="144.18" font-size="5.4" text-anchor="end" textLength="6.10" lengthAdjust="spacingAndGlyphs" fill="#222">20</text>
<text x="108.10" y="153.54" font-size="5.4" text-anchor="end" textLength="3.05" lengthAdjust="spacingAndGlyphs" fill="#222">0</text>
<text x="121.60" y="162.80" font-size="6.0" text-anchor="middle">10<tspan font-size="3.72" dy="-2.28">1</tspan></text>
<text x="135.50" y="162.80" font-size="6.0" text-anchor="middle">10<tspan font-size="3.72" dy="-2.28">2</tspan></text>
<text x="149.40" y="162.80" font-size="6.0" text-anchor="middle">10<tspan font-size="3.72" dy="-2.28">3</tspan></text>
<text x="163.30" y="162.80" font-size="6.0" text-anchor="middle">10<tspan font-size="3.72" dy="-2.28">4</tspan></text>
<line x1="114.40" y1="168.00" x2="159.60" y2="168.00" stroke="#222" stroke-width="1.2"/>
<path d="M159.10,165.50 L164.30,168.00 L159.10,170.50 Z" stroke="none" stroke-width="1" fill="#222"/>
<path d="M195.0,150.7 L195.5,150.4 L196.0,150.1 L196.5,149.7 L197.0,149.3 L197.5,148.8 L198.0,148.3 L198.5,147.7 L199.0,147.1 L199.5,146.6 L200.0,146.0 L200.5,145.5 L201.0,144.8 L201.5,144.0 L202.0,142.8 L202.5,140.9 L203.0,138.1 L203.5,134.3 L204.0,129.6 L204.5,124.4 L205.0,119.4 L205.5,115.6 L206.0,113.6 L206.5,114.0 L207.0,116.2 L207.5,119.8 L208.0,124.3 L208.5,129.1 L209.0,133.8 L209.5,137.8 L210.0,141.1 L210.5,143.5 L211.0,145.2 L211.5,146.3 L212.0,147.0 L212.5,147.4 L213.0,147.6 L213.5,147.7 L214.0,147.7 L214.5,147.8 L215.0,147.8 L215.5,147.9 L216.0,148.0 L216.5,148.2 L217.0,148.4 L217.5,148.6 L218.0,148.9 L218.5,149.2 L219.0,149.5 L219.5,149.7 L220.0,150.0 L220.5,150.2 L221.0,150.5 L221.5,150.7 L222.0,150.8 L222.5,151.0 L223.0,151.1 L223.5,151.2 L224.0,151.3 L224.5,151.3 L225.0,151.4 L225.5,151.4 L226.0,151.4 L226.5,151.5 L227.0,151.5 L227.5,151.5 L228.0,151.5 L228.5,151.5 L229.0,151.5 L229.5,151.5 L230.0,151.6 L230.5,151.6 L231.0,151.6 L231.5,151.6 L232.0,151.6 L232.5,151.6 L233.0,151.6 L233.5,151.6 L234.0,151.6 L234.5,151.6 L235.0,151.6 L235.5,151.6 L236.0,151.6 L236.5,151.6 L237.0,151.6 L237.5,151.6 L238.0,151.6 L238.5,151.6 L239.0,151.6 L239.5,151.6 L240.0,151.6 L240.5,151.6 L241.0,151.6 L241.5,151.6 L242.0,151.6 L242.5,151.6 L243.0,151.6" stroke="#5b2a86" stroke-width="1.0" fill="none" stroke-linejoin="round"/>
<path d="M195.0,151.6 L195.5,151.6 L196.0,151.6 L196.5,151.6 L197.0,151.6 L197.5,151.6 L198.0,151.6 L198.5,151.6 L199.0,151.6 L199.5,151.6 L200.0,151.6 L200.5,151.6 L201.0,151.6 L201.5,151.6 L202.0,151.6 L202.5,151.6 L203.0,151.6 L203.5,151.6 L204.0,151.6 L204.5,151.5 L205.0,151.5 L205.5,151.5 L206.0,151.5 L206.5,151.5 L207.0,151.4 L207.5,151.4 L208.0,151.3 L208.5,151.2 L209.0,151.1 L209.5,151.0 L210.0,150.8 L210.5,150.6 L211.0,150.4 L211.5,150.2 L212.0,150.0 L212.5,149.8 L213.0,149.6 L213.5,149.3 L214.0,149.0 L214.5,148.7 L215.0,148.3 L215.5,147.8 L216.0,146.9 L216.5,145.7 L217.0,144.0 L217.5,141.6 L218.0,138.4 L218.5,134.5 L219.0,130.1 L219.5,125.4 L220.0,121.0 L220.5,117.3 L221.0,114.9 L221.5,114.0 L222.0,114.9 L222.5,117.4 L223.0,121.2 L223.5,125.7 L224.0,130.5 L224.5,135.0 L225.0,139.0 L225.5,142.3 L226.0,144.8 L226.5,146.7 L227.0,148.1 L227.5,149.0 L228.0,149.7 L228.5,150.1 L229.0,150.4 L229.5,150.7 L230.0,150.9 L230.5,151.0 L231.0,151.2 L231.5,151.3 L232.0,151.3 L232.5,151.4 L233.0,151.5 L233.5,151.5 L234.0,151.5 L234.5,151.5 L235.0,151.6 L235.5,151.6 L236.0,151.6 L236.5,151.6 L237.0,151.6 L237.5,151.6 L238.0,151.6 L238.5,151.6 L239.0,151.6 L239.5,151.6 L240.0,151.6 L240.5,151.6 L241.0,151.6 L241.5,151.6 L242.0,151.6 L242.5,151.6 L243.0,151.6" stroke="#f4c20d" stroke-width="1.0" fill="none" stroke-linejoin="round"/>
<path d="M195.0,151.6 L195.5,151.6 L196.0,151.6 L196.5,151.6 L197.0,151.6 L197.5,151.6 L198.0,151.6 L198.5,151.6 L199.0,151.6 L199.5,151.6 L200.0,151.6 L200.5,151.6 L201.0,151.6 L201.5,151.6 L202.0,151.6 L202.5,151.6 L203.0,151.6 L203.5,151.6 L204.0,151.6 L204.5,151.6 L205.0,151.6 L205.5,151.6 L206.0,151.6 L206.5,151.6 L207.0,151.6 L207.5,151.6 L208.0,151.6 L208.5,151.6 L209.0,151.6 L209.5,151.6 L210.0,151.6 L210.5,151.6 L211.0,151.6 L211.5,151.6 L212.0,151.6 L212.5,151.6 L213.0,151.6 L213.5,151.6 L214.0,151.6 L214.5,151.5 L215.0,151.5 L215.5,151.5 L216.0,151.5 L216.5,151.5 L217.0,151.4 L217.5,151.4 L218.0,151.3 L218.5,151.2 L219.0,151.1 L219.5,151.0 L220.0,150.9 L220.5,150.6 L221.0,150.4 L221.5,150.1 L222.0,149.7 L222.5,149.3 L223.0,148.9 L223.5,148.4 L224.0,147.9 L224.5,147.2 L225.0,146.5 L225.5,145.6 L226.0,144.4 L226.5,142.8 L227.0,140.7 L227.5,138.0 L228.0,134.7 L228.5,130.7 L229.0,126.5 L229.5,122.2 L230.0,118.3 L230.5,115.2 L231.0,113.4 L231.5,113.1 L232.0,114.7 L232.5,118.1 L233.0,122.8 L233.5,128.2 L234.0,133.4 L234.5,138.0 L235.0,141.8 L235.5,144.7 L236.0,146.8 L236.5,148.2 L237.0,149.2 L237.5,149.8 L238.0,150.2 L238.5,150.6 L239.0,150.8 L239.5,151.0 L240.0,151.1 L240.5,151.2 L241.0,151.3 L241.5,151.4 L242.0,151.5 L242.5,151.5 L243.0,151.5" stroke="#63a83a" stroke-width="1.0" fill="none" stroke-linejoin="round"/>
<line x1="191.80" y1="151.60" x2="194.40" y2="151.60" stroke="#000" stroke-width="0.8"/>
<line x1="194.40" y1="149.26" x2="195.70" y2="149.26" stroke="#333" stroke-width="0.6"/>
<line x1="194.40" y1="146.92" x2="195.70" y2="146.92" stroke="#333" stroke-width="0.6"/>
<line x1="194.40" y1="144.58" x2="195.70" y2="144.58" stroke="#333" stroke-width="0.6"/>
<line x1="191.80" y1="142.24" x2="194.40" y2="142.24" stroke="#000" stroke-width="0.8"/>
<line x1="194.40" y1="139.90" x2="195.70" y2="139.90" stroke="#333" stroke-width="0.6"/>
<line x1="194.40" y1="137.56" x2="195.70" y2="137.56" stroke="#333" stroke-width="0.6"/>
<line x1="194.40" y1="135.22" x2="195.70" y2="135.22" stroke="#333" stroke-width="0.6"/>
<line x1="191.80" y1="132.88" x2="194.40" y2="132.88" stroke="#000" stroke-width="0.8"/>
<line x1="194.40" y1="130.54" x2="195.70" y2="130.54" stroke="#333" stroke-width="0.6"/>
<line x1="194.40" y1="128.20" x2="195.70" y2="128.20" stroke="#333" stroke-width="0.6"/>
<line x1="194.40" y1="125.86" x2="195.70" y2="125.86" stroke="#333" stroke-width="0.6"/>
<line x1="191.80" y1="123.52" x2="194.40" y2="123.52" stroke="#000" stroke-width="0.8"/>
<line x1="194.40" y1="121.18" x2="195.70" y2="121.18" stroke="#333" stroke-width="0.6"/>
<line x1="194.40" y1="118.84" x2="195.70" y2="118.84" stroke="#333" stroke-width="0.6"/>
<line x1="194.40" y1="116.50" x2="195.70" y2="116.50" stroke="#333" stroke-width="0.6"/>
<line x1="191.80" y1="114.16" x2="194.40" y2="114.16" stroke="#000" stroke-width="0.8"/>
<line x1="194.40" y1="111.82" x2="195.70" y2="111.82" stroke="#333" stroke-width="0.6"/>
<line x1="194.40" y1="109.48" x2="195.70" y2="109.48" stroke="#333" stroke-width="0.6"/>
<line x1="194.40" y1="107.14" x2="195.70" y2="107.14" stroke="#333" stroke-width="0.6"/>
<line x1="191.80" y1="104.80" x2="194.40" y2="104.80" stroke="#000" stroke-width="0.8"/>
<line x1="194.40" y1="151.60" x2="194.40" y2="153.00" stroke="#333" stroke-width="0.6"/>
<line x1="196.65" y1="151.60" x2="196.65" y2="152.50" stroke="#333" stroke-width="0.6"/>
<line x1="198.89" y1="151.60" x2="198.89" y2="152.50" stroke="#333" stroke-width="0.6"/>
<line x1="201.14" y1="151.60" x2="201.14" y2="152.50" stroke="#333" stroke-width="0.6"/>
<line x1="203.38" y1="151.60" x2="203.38" y2="153.00" stroke="#333" stroke-width="0.6"/>
<line x1="205.63" y1="151.60" x2="205.63" y2="152.50" stroke="#333" stroke-width="0.6"/>
<line x1="207.87" y1="151.60" x2="207.87" y2="152.50" stroke="#333" stroke-width="0.6"/>
<line x1="210.12" y1="151.60" x2="210.12" y2="152.50" stroke="#333" stroke-width="0.6"/>
<line x1="212.36" y1="151.60" x2="212.36" y2="153.00" stroke="#333" stroke-width="0.6"/>
<line x1="214.61" y1="151.60" x2="214.61" y2="152.50" stroke="#333" stroke-width="0.6"/>
<line x1="216.85" y1="151.60" x2="216.85" y2="152.50" stroke="#333" stroke-width="0.6"/>
<line x1="219.10" y1="151.60" x2="219.10" y2="152.50" stroke="#333" stroke-width="0.6"/>
<line x1="221.35" y1="151.60" x2="221.35" y2="153.00" stroke="#333" stroke-width="0.6"/>
<line x1="223.59" y1="151.60" x2="223.59" y2="152.50" stroke="#333" stroke-width="0.6"/>
<line x1="225.84" y1="151.60" x2="225.84" y2="152.50" stroke="#333" stroke-width="0.6"/>
<line x1="228.08" y1="151.60" x2="228.08" y2="152.50" stroke="#333" stroke-width="0.6"/>
<line x1="230.33" y1="151.60" x2="230.33" y2="153.00" stroke="#333" stroke-width="0.6"/>
<line x1="232.57" y1="151.60" x2="232.57" y2="152.50" stroke="#333" stroke-width="0.6"/>
<line x1="234.82" y1="151.60" x2="234.82" y2="152.50" stroke="#333" stroke-width="0.6"/>
<line x1="237.06" y1="151.60" x2="237.06" y2="152.50" stroke="#333" stroke-width="0.6"/>
<line x1="239.31" y1="151.60" x2="239.31" y2="153.00" stroke="#333" stroke-width="0.6"/>
<line x1="241.55" y1="151.60" x2="241.55" y2="152.50" stroke="#333" stroke-width="0.6"/>
<line x1="243.80" y1="151.60" x2="243.80" y2="152.50" stroke="#333" stroke-width="0.6"/>
<rect x="194.40" y="102.50" width="49.40" height="49.10" fill="none" stroke="#000" stroke-width="1.2"/>
<text x="188.10" y="106.74" font-size="5.4" text-anchor="end" textLength="9.15" lengthAdjust="spacingAndGlyphs" fill="#222">100</text>
<text x="188.10" y="116.10" font-size="5.4" text-anchor="end" textLength="6.10" lengthAdjust="spacingAndGlyphs" fill="#222">80</text>
<text x="188.10" y="125.46" font-size="5.4" text-anchor="end" textLength="6.10" lengthAdjust="spacingAndGlyphs" fill="#222">60</text>
<text x="188.10" y="134.82" font-size="5.4" text-anchor="end" textLength="6.10" lengthAdjust="spacingAndGlyphs" fill="#222">40</text>
<text x="188.10" y="144.18" font-size="5.4" text-anchor="end" textLength="6.10" lengthAdjust="spacingAndGlyphs" fill="#222">20</text>
<text x="188.10" y="153.54" font-size="5.4" text-anchor="end" textLength="3.05" lengthAdjust="spacingAndGlyphs" fill="#222">0</text>
<text x="201.60" y="162.80" font-size="6.0" text-anchor="middle">10<tspan font-size="3.72" dy="-2.28">1</tspan></text>
<text x="215.50" y="162.80" font-size="6.0" text-anchor="middle">10<tspan font-size="3.72" dy="-2.28">2</tspan></text>
<text x="229.40" y="162.80" font-size="6.0" text-anchor="middle">10<tspan font-size="3.72" dy="-2.28">3</tspan></text>
<text x="243.30" y="162.80" font-size="6.0" text-anchor="middle">10<tspan font-size="3.72" dy="-2.28">4</tspan></text>
<line x1="194.40" y1="168.00" x2="239.10" y2="168.00" stroke="#222" stroke-width="1.2"/>
<path d="M238.60,165.50 L243.80,168.00 L238.60,170.50 Z" stroke="none" stroke-width="1" fill="#222"/>
<line x1="19.20" y1="37.50" x2="19.20" y2="80.50" stroke="#222" stroke-width="1.1"/>
<path d="M16.70,38.00 L19.20,33.00 L21.70,38.00 Z" stroke="none" stroke-width="1" fill="#222"/>
<line x1="19.20" y1="108.00" x2="19.20" y2="151.50" stroke="#222" stroke-width="1.1"/>
<path d="M16.70,108.50 L19.20,103.50 L21.70,108.50 Z" stroke="none" stroke-width="1" fill="#222"/>
<text x="13.40" y="113.60" font-size="7.2" textLength="38.60" lengthAdjust="spacingAndGlyphs" transform="rotate(-90 13.40 113.60)">% of maximum</text>
<text x="139.30" y="177.80" font-size="8.4" text-anchor="middle" font-weight="bold" textLength="30.30" lengthAdjust="spacingAndGlyphs">Anti-Ms-IgG</text>
<text x="264.20" y="16.60" font-size="11.6" font-weight="bold" textLength="7.60" lengthAdjust="spacingAndGlyphs">B</text>
<text x="303.00" y="26.50" font-size="8.1" textLength="35.20" lengthAdjust="spacingAndGlyphs" class="nos">OT-I.JRT3</text>
<text x="372.80" y="26.80" font-size="8.1" textLength="49.00" lengthAdjust="spacingAndGlyphs" class="nos">human CD8+</text>
<path d="M297.0,80.7 L297.5,80.7 L298.0,80.7 L298.5,80.6 L299.0,80.6 L299.5,80.5 L300.0,80.4 L300.5,80.3 L301.0,80.1 L301.5,79.9 L302.0,79.6 L302.5,79.2 L303.0,78.8 L303.5,78.2 L304.0,77.5 L304.5,76.8 L305.0,75.9 L305.5,75.0 L306.0,73.9 L306.5,72.8 L307.0,71.4 L307.5,69.7 L308.0,67.8 L308.5,65.5 L309.0,62.9 L309.5,60.2 L310.0,57.4 L310.5,55.0 L311.0,53.2 L311.5,52.1 L312.0,52.1 L312.5,53.8 L313.0,57.3 L313.5,61.8 L314.0,66.5 L314.5,70.7 L315.0,74.0 L315.5,76.4 L316.0,78.0 L316.5,79.0 L317.0,79.6 L317.5,79.9 L318.0,80.2 L318.5,80.3 L319.0,80.5 L319.5,80.5 L320.0,80.6 L320.5,80.7 L321.0,80.7 L321.5,80.7 L322.0,80.8 L322.5,80.8 L323.0,80.8 L323.5,80.8 L324.0,80.8 L324.5,80.8 L325.0,80.8 L325.5,80.8 L326.0,80.8 L326.5,80.8 L327.0,80.8 L327.5,80.8 L328.0,80.8 L328.5,80.8 L329.0,80.8 L329.5,80.8 L330.0,80.8 L330.5,80.8 L331.0,80.8 L331.5,80.8 L332.0,80.8 L332.5,80.8 L333.0,80.8 L333.5,80.8 L334.0,80.8 L334.5,80.8 L335.0,80.8 L335.5,80.8 L336.0,80.8 L336.5,80.8 L337.0,80.8 L337.5,80.8 L338.0,80.8 L338.5,80.8 L339.0,80.8 L339.5,80.8 L340.0,80.8 L340.5,80.8 L341.0,80.8 L341.5,80.8 L342.0,80.8 L342.5,80.8 L343.0,80.8 L343.5,80.8 L344.0,80.8 L344.5,80.8 L344.5,80.8 L297.0,80.8 Z" stroke="none" stroke-width="1" fill="#bdbdbd"/>
<path d="M297.0,80.8 L297.5,80.8 L298.0,80.8 L298.5,80.8 L299.0,80.8 L299.5,80.8 L300.0,80.8 L300.5,80.8 L301.0,80.8 L301.5,80.8 L302.0,80.8 L302.5,80.8 L303.0,80.8 L303.5,80.8 L304.0,80.8 L304.5,80.8 L305.0,80.8 L305.5,80.8 L306.0,80.8 L306.5,80.8 L307.0,80.8 L307.5,80.8 L308.0,80.8 L308.5,80.8 L309.0,80.8 L309.5,80.8 L310.0,80.8 L310.5,80.8 L311.0,80.8 L311.5,80.8 L312.0,80.7 L312.5,80.7 L313.0,80.7 L313.5,80.7 L314.0,80.6 L314.5,80.6 L315.0,80.5 L315.5,80.5 L316.0,80.4 L316.5,80.3 L317.0,80.2 L317.5,80.0 L318.0,79.9 L318.5,79.8 L319.0,79.6 L319.5,79.5 L320.0,79.4 L320.5,79.3 L321.0,79.2 L321.5,79.2 L322.0,79.2 L322.5,79.1 L323.0,79.1 L323.5,78.9 L324.0,78.8 L324.5,78.4 L325.0,77.7 L325.5,76.5 L326.0,74.4 L326.5,71.2 L327.0,66.7 L327.5,61.0 L328.0,54.6 L328.5,48.5 L329.0,43.8 L329.5,41.7 L330.0,42.6 L330.5,45.9 L331.0,51.2 L331.5,57.2 L332.0,63.2 L332.5,68.4 L333.0,72.4 L333.5,75.2 L334.0,77.2 L334.5,78.4 L335.0,79.1 L335.5,79.6 L336.0,79.9 L336.5,80.2 L337.0,80.3 L337.5,80.4 L338.0,80.5 L338.5,80.6 L339.0,80.7 L339.5,80.7 L340.0,80.7 L340.5,80.8 L341.0,80.8 L341.5,80.8 L342.0,80.8 L342.5,80.8 L343.0,80.8 L343.5,80.8 L344.0,80.8 L344.5,80.8" stroke="#5b2a86" stroke-width="1.0" fill="none" stroke-linejoin="round"/>
<path d="M297.0,80.8 L297.5,80.8 L298.0,80.8 L298.5,80.8 L299.0,80.8 L299.5,80.8 L300.0,80.8 L300.5,80.8 L301.0,80.8 L301.5,80.8 L302.0,80.8 L302.5,80.8 L303.0,80.8 L303.5,80.8 L304.0,80.8 L304.5,80.8 L305.0,80.8 L305.5,80.8 L306.0,80.8 L306.5,80.8 L307.0,80.8 L307.5,80.8 L308.0,80.8 L308.5,80.8 L309.0,80.8 L309.5,80.8 L310.0,80.8 L310.5,80.8 L311.0,80.7 L311.5,80.7 L312.0,80.7 L312.5,80.7 L313.0,80.7 L313.5,80.6 L314.0,80.6 L314.5,80.5 L315.0,80.5 L315.5,80.4 L316.0,80.3 L316.5,80.1 L317.0,80.0 L317.5,79.8 L318.0,79.6 L318.5,79.4 L319.0,79.3 L319.5,79.1 L320.0,79.0 L320.5,78.9 L321.0,78.8 L321.5,78.8 L322.0,78.8 L322.5,78.8 L323.0,78.8 L323.5,78.8 L324.0,78.7 L324.5,78.4 L325.0,78.0 L325.5,77.0 L326.0,75.3 L326.5,72.4 L327.0,68.0 L327.5,62.1 L328.0,55.2 L328.5,48.5 L329.0,43.2 L329.5,40.8 L330.0,41.6 L330.5,45.1 L331.0,50.4 L331.5,56.7 L332.0,62.8 L332.5,68.0 L333.0,72.2 L333.5,75.1 L334.0,77.1 L334.5,78.3 L335.0,79.1 L335.5,79.6 L336.0,79.9 L336.5,80.1 L337.0,80.3 L337.5,80.4 L338.0,80.5 L338.5,80.6 L339.0,80.7 L339.5,80.7 L340.0,80.7 L340.5,80.8 L341.0,80.8 L341.5,80.8 L342.0,80.8 L342.5,80.8 L343.0,80.8 L343.5,80.8 L344.0,80.8 L344.5,80.8" stroke="#b5173e" stroke-width="1.0" fill="none" stroke-linejoin="round"/>
<path d="M297.0,80.8 L297.5,80.8 L298.0,80.8 L298.5,80.8 L299.0,80.8 L299.5,80.8 L300.0,80.8 L300.5,80.8 L301.0,80.8 L301.5,80.8 L302.0,80.8 L302.5,80.8 L303.0,80.8 L303.5,80.8 L304.0,80.8 L304.5,80.8 L305.0,80.8 L305.5,80.8 L306.0,80.8 L306.5,80.8 L307.0,80.7 L307.5,80.7 L308.0,80.7 L308.5,80.7 L309.0,80.7 L309.5,80.6 L310.0,80.6 L310.5,80.5 L311.0,80.5 L311.5,80.4 L312.0,80.4 L312.5,80.3 L313.0,80.2 L313.5,80.0 L314.0,79.9 L314.5,79.7 L315.0,79.5 L315.5,79.2 L316.0,78.8 L316.5,78.3 L317.0,77.6 L317.5,76.6 L318.0,75.4 L318.5,73.9 L319.0,71.9 L319.5,69.5 L320.0,66.7 L320.5,63.5 L321.0,59.9 L321.5,56.2 L322.0,52.4 L322.5,48.9 L323.0,45.7 L323.5,43.2 L324.0,41.5 L324.5,40.8 L325.0,41.4 L325.5,43.8 L326.0,47.6 L326.5,52.4 L327.0,57.5 L327.5,62.5 L328.0,66.9 L328.5,70.6 L329.0,73.5 L329.5,75.6 L330.0,77.1 L330.5,78.2 L331.0,78.9 L331.5,79.4 L332.0,79.7 L332.5,79.9 L333.0,80.1 L333.5,80.3 L334.0,80.4 L334.5,80.5 L335.0,80.6 L335.5,80.6 L336.0,80.7 L336.5,80.7 L337.0,80.7 L337.5,80.7 L338.0,80.8 L338.5,80.8 L339.0,80.8 L339.5,80.8 L340.0,80.8 L340.5,80.8 L341.0,80.8 L341.5,80.8 L342.0,80.8 L342.5,80.8 L343.0,80.8 L343.5,80.8 L344.0,80.8 L344.5,80.8" stroke="#5aabe6" stroke-width="1.0" fill="none" stroke-linejoin="round"/>
<line x1="293.80" y1="80.80" x2="296.40" y2="80.80" stroke="#000" stroke-width="0.8"/>
<line x1="296.40" y1="78.47" x2="297.70" y2="78.47" stroke="#333" stroke-width="0.6"/>
<line x1="296.40" y1="76.15" x2="297.70" y2="76.15" stroke="#333" stroke-width="0.6"/>
<line x1="296.40" y1="73.83" x2="297.70" y2="73.83" stroke="#333" stroke-width="0.6"/>
<line x1="293.80" y1="71.50" x2="296.40" y2="71.50" stroke="#000" stroke-width="0.8"/>
<line x1="296.40" y1="69.17" x2="297.70" y2="69.17" stroke="#333" stroke-width="0.6"/>
<line x1="296.40" y1="66.85" x2="297.70" y2="66.85" stroke="#333" stroke-width="0.6"/>
<line x1="296.40" y1="64.53" x2="297.70" y2="64.53" stroke="#333" stroke-width="0.6"/>
<line x1="293.80" y1="62.20" x2="296.40" y2="62.20" stroke="#000" stroke-width="0.8"/>
<line x1="296.40" y1="59.88" x2="297.70" y2="59.88" stroke="#333" stroke-width="0.6"/>
<line x1="296.40" y1="57.55" x2="297.70" y2="57.55" stroke="#333" stroke-width="0.6"/>
<line x1="296.40" y1="55.22" x2="297.70" y2="55.22" stroke="#333" stroke-width="0.6"/>
<line x1="293.80" y1="52.90" x2="296.40" y2="52.90" stroke="#000" stroke-width="0.8"/>
<line x1="296.40" y1="50.57" x2="297.70" y2="50.57" stroke="#333" stroke-width="0.6"/>
<line x1="296.40" y1="48.25" x2="297.70" y2="48.25" stroke="#333" stroke-width="0.6"/>
<line x1="296.40" y1="45.92" x2="297.70" y2="45.92" stroke="#333" stroke-width="0.6"/>
<line x1="293.80" y1="43.60" x2="296.40" y2="43.60" stroke="#000" stroke-width="0.8"/>
<line x1="296.40" y1="41.27" x2="297.70" y2="41.27" stroke="#333" stroke-width="0.6"/>
<line x1="296.40" y1="38.95" x2="297.70" y2="38.95" stroke="#333" stroke-width="0.6"/>
<line x1="296.40" y1="36.62" x2="297.70" y2="36.62" stroke="#333" stroke-width="0.6"/>
<line x1="293.80" y1="34.30" x2="296.40" y2="34.30" stroke="#000" stroke-width="0.8"/>
<line x1="296.40" y1="80.80" x2="296.40" y2="82.20" stroke="#333" stroke-width="0.6"/>
<line x1="298.63" y1="80.80" x2="298.63" y2="81.70" stroke="#333" stroke-width="0.6"/>
<line x1="300.85" y1="80.80" x2="300.85" y2="81.70" stroke="#333" stroke-width="0.6"/>
<line x1="303.08" y1="80.80" x2="303.08" y2="81.70" stroke="#333" stroke-width="0.6"/>
<line x1="305.31" y1="80.80" x2="305.31" y2="82.20" stroke="#333" stroke-width="0.6"/>
<line x1="307.54" y1="80.80" x2="307.54" y2="81.70" stroke="#333" stroke-width="0.6"/>
<line x1="309.76" y1="80.80" x2="309.76" y2="81.70" stroke="#333" stroke-width="0.6"/>
<line x1="311.99" y1="80.80" x2="311.99" y2="81.70" stroke="#333" stroke-width="0.6"/>
<line x1="314.22" y1="80.80" x2="314.22" y2="82.20" stroke="#333" stroke-width="0.6"/>
<line x1="316.45" y1="80.80" x2="316.45" y2="81.70" stroke="#333" stroke-width="0.6"/>
<line x1="318.67" y1="80.80" x2="318.67" y2="81.70" stroke="#333" stroke-width="0.6"/>
<line x1="320.90" y1="80.80" x2="320.90" y2="81.70" stroke="#333" stroke-width="0.6"/>
<line x1="323.13" y1="80.80" x2="323.13" y2="82.20" stroke="#333" stroke-width="0.6"/>
<line x1="325.35" y1="80.80" x2="325.35" y2="81.70" stroke="#333" stroke-width="0.6"/>
<line x1="327.58" y1="80.80" x2="327.58" y2="81.70" stroke="#333" stroke-width="0.6"/>
<line x1="329.81" y1="80.80" x2="329.81" y2="81.70" stroke="#333" stroke-width="0.6"/>
<line x1="332.04" y1="80.80" x2="332.04" y2="82.20" stroke="#333" stroke-width="0.6"/>
<line x1="334.26" y1="80.80" x2="334.26" y2="81.70" stroke="#333" stroke-width="0.6"/>
<line x1="336.49" y1="80.80" x2="336.49" y2="81.70" stroke="#333" stroke-width="0.6"/>
<line x1="338.72" y1="80.80" x2="338.72" y2="81.70" stroke="#333" stroke-width="0.6"/>
<line x1="340.95" y1="80.80" x2="340.95" y2="82.20" stroke="#333" stroke-width="0.6"/>
<line x1="343.17" y1="80.80" x2="343.17" y2="81.70" stroke="#333" stroke-width="0.6"/>
<line x1="345.40" y1="80.80" x2="345.40" y2="81.70" stroke="#333" stroke-width="0.6"/>
<rect x="296.40" y="32.00" width="49.00" height="48.80" fill="none" stroke="#000" stroke-width="1.2"/>
<text x="290.10" y="36.24" font-size="5.4" text-anchor="end" textLength="9.15" lengthAdjust="spacingAndGlyphs" fill="#222">100</text>
<text x="290.10" y="45.54" font-size="5.4" text-anchor="end" textLength="6.10" lengthAdjust="spacingAndGlyphs" fill="#222">80</text>
<text x="290.10" y="54.84" font-size="5.4" text-anchor="end" textLength="6.10" lengthAdjust="spacingAndGlyphs" fill="#222">60</text>
<text x="290.10" y="64.14" font-size="5.4" text-anchor="end" textLength="6.10" lengthAdjust="spacingAndGlyphs" fill="#222">40</text>
<text x="290.10" y="73.44" font-size="5.4" text-anchor="end" textLength="6.10" lengthAdjust="spacingAndGlyphs" fill="#222">20</text>
<text x="290.10" y="82.74" font-size="5.4" text-anchor="end" textLength="3.05" lengthAdjust="spacingAndGlyphs" fill="#222">0</text>
<text x="296.50" y="92.20" font-size="6.0" text-anchor="middle">10<tspan font-size="3.72" dy="-2.28">2</tspan></text>
<text x="309.50" y="92.20" font-size="6.0" text-anchor="middle">10<tspan font-size="3.72" dy="-2.28">3</tspan></text>
<text x="322.50" y="92.20" font-size="6.0" text-anchor="middle">10<tspan font-size="3.72" dy="-2.28">4</tspan></text>
<text x="335.50" y="92.20" font-size="6.0" text-anchor="middle">10<tspan font-size="3.72" dy="-2.28">5</tspan></text>
<path d="M372.8,78.7 L373.3,79.5 L373.8,79.6 L374.3,80.7 L374.8,79.4 L375.3,79.2 L375.8,78.8 L376.3,79.0 L376.8,78.3 L377.3,78.3 L377.8,78.6 L378.3,76.8 L378.8,76.5 L379.3,75.7 L379.8,76.5 L380.3,76.5 L380.8,76.1 L381.3,76.4 L381.8,74.1 L382.3,74.9 L382.8,74.1 L383.3,72.5 L383.8,70.2 L384.3,69.8 L384.8,69.2 L385.3,67.4 L385.8,64.7 L386.3,63.3 L386.8,61.7 L387.3,59.3 L387.8,56.6 L388.3,53.8 L388.8,54.2 L389.3,52.1 L389.8,50.9 L390.3,51.1 L390.8,49.4 L391.3,49.2 L391.8,48.6 L392.3,52.2 L392.8,57.3 L393.3,60.3 L393.8,65.5 L394.3,70.4 L394.8,72.7 L395.3,74.9 L395.8,76.7 L396.3,77.0 L396.8,79.1 L397.3,78.1 L397.8,77.4 L398.3,77.6 L398.8,77.5 L399.3,77.5 L399.8,77.3 L400.3,79.1 L400.8,77.7 L401.3,79.6 L401.8,78.7 L402.3,79.6 L402.8,77.6 L403.3,77.4 L403.8,78.4 L404.3,77.0 L404.8,78.7 L405.3,78.1 L405.8,78.0 L406.3,78.7 L406.8,77.3 L407.3,75.7 L407.8,77.1 L408.3,74.7 L408.8,74.2 L409.3,71.3 L409.8,70.5 L410.3,68.7 L410.8,67.3 L411.3,66.5 L411.8,67.2 L412.3,65.6 L412.8,69.5 L413.3,71.3 L413.8,74.0 L414.3,77.4 L414.8,78.3 L415.3,78.6 L415.8,79.9 L416.3,80.8 L416.8,80.8 L417.3,80.4 L417.8,80.5 L418.3,80.6 L418.8,80.6 L419.3,80.7 L419.8,80.7 L420.3,80.7" stroke="#b5173e" stroke-width="1.0" fill="none" stroke-linejoin="round"/>
<path d="M372.8,79.9 L373.3,79.5 L373.8,80.4 L374.3,79.0 L374.8,79.6 L375.3,80.2 L375.8,79.3 L376.3,78.2 L376.8,78.1 L377.3,78.9 L377.8,77.4 L378.3,77.6 L378.8,76.9 L379.3,76.7 L379.8,77.4 L380.3,76.0 L380.8,76.3 L381.3,74.3 L381.8,74.3 L382.3,74.1 L382.8,74.0 L383.3,72.2 L383.8,71.0 L384.3,70.6 L384.8,66.6 L385.3,66.2 L385.8,63.4 L386.3,63.3 L386.8,59.4 L387.3,59.4 L387.8,56.8 L388.3,54.1 L388.8,52.8 L389.3,53.1 L389.8,51.1 L390.3,49.1 L390.8,48.0 L391.3,49.6 L391.8,52.9 L392.3,55.7 L392.8,61.2 L393.3,64.3 L393.8,69.4 L394.3,71.6 L394.8,74.0 L395.3,75.1 L395.8,76.9 L396.3,76.6 L396.8,78.0 L397.3,77.5 L397.8,77.6 L398.3,79.5 L398.8,78.3 L399.3,78.3 L399.8,78.9 L400.3,78.2 L400.8,79.3 L401.3,77.9 L401.8,77.9 L402.3,78.1 L402.8,76.6 L403.3,78.0 L403.8,78.2 L404.3,78.8 L404.8,78.0 L405.3,78.8 L405.8,77.2 L406.3,78.3 L406.8,77.4 L407.3,75.6 L407.8,75.4 L408.3,74.9 L408.8,72.7 L409.3,72.1 L409.8,69.7 L410.3,68.5 L410.8,67.6 L411.3,65.5 L411.8,64.6 L412.3,65.9 L412.8,68.5 L413.3,71.2 L413.8,75.7 L414.3,77.0 L414.8,79.1 L415.3,77.9 L415.8,80.2 L416.3,80.8 L416.8,79.7 L417.3,80.4 L417.8,80.5 L418.3,80.6 L418.8,80.6 L419.3,80.7 L419.8,80.7 L420.3,80.7" stroke="#5b2a86" stroke-width="1.0" fill="none" stroke-linejoin="round"/>
<path d="M372.8,79.8 L373.3,80.2 L373.8,78.1 L374.3,79.8 L374.8,79.4 L375.3,78.2 L375.8,79.7 L376.3,79.3 L376.8,78.5 L377.3,78.6 L377.8,78.9 L378.3,77.9 L378.8,77.7 L379.3,76.7 L379.8,77.9 L380.3,76.7 L380.8,74.8 L381.3,73.6 L381.8,75.0 L382.3,72.4 L382.8,72.2 L383.3,70.6 L383.8,68.7 L384.3,66.3 L384.8,63.1 L385.3,60.8 L385.8,58.6 L386.3,56.3 L386.8,53.5 L387.3,51.3 L387.8,48.6 L388.3,48.0 L388.8,46.5 L389.3,46.0 L389.8,46.2 L390.3,47.4 L390.8,50.1 L391.3,52.7 L391.8,57.6 L392.3,60.5 L392.8,65.5 L393.3,69.0 L393.8,71.4 L394.3,73.3 L394.8,75.0 L395.3,75.5 L395.8,76.4 L396.3,77.4 L396.8,78.3 L397.3,78.4 L397.8,77.5 L398.3,78.4 L398.8,79.5 L399.3,79.1 L399.8,79.1 L400.3,77.9 L400.8,78.8 L401.3,77.1 L401.8,78.2 L402.3,78.6 L402.8,79.0 L403.3,78.0 L403.8,78.8 L404.3,79.2 L404.8,78.2 L405.3,78.4 L405.8,77.4 L406.3,78.0 L406.8,79.5 L407.3,76.2 L407.8,77.1 L408.3,73.4 L408.8,71.6 L409.3,71.3 L409.8,69.9 L410.3,68.2 L410.8,65.1 L411.3,64.9 L411.8,64.8 L412.3,65.7 L412.8,66.8 L413.3,71.5 L413.8,74.4 L414.3,76.7 L414.8,78.0 L415.3,78.8 L415.8,80.5 L416.3,80.4 L416.8,80.4 L417.3,80.5 L417.8,80.6 L418.3,80.6 L418.8,80.7 L419.3,80.7 L419.8,80.7 L420.3,80.7" stroke="#5aabe6" stroke-width="1.0" fill="none" stroke-linejoin="round"/>
<line x1="369.60" y1="80.80" x2="372.20" y2="80.80" stroke="#000" stroke-width="0.8"/>
<line x1="372.20" y1="78.47" x2="373.50" y2="78.47" stroke="#333" stroke-width="0.6"/>
<line x1="372.20" y1="76.15" x2="373.50" y2="76.15" stroke="#333" stroke-width="0.6"/>
<line x1="372.20" y1="73.83" x2="373.50" y2="73.83" stroke="#333" stroke-width="0.6"/>
<line x1="369.60" y1="71.50" x2="372.20" y2="71.50" stroke="#000" stroke-width="0.8"/>
<line x1="372.20" y1="69.17" x2="373.50" y2="69.17" stroke="#333" stroke-width="0.6"/>
<line x1="372.20" y1="66.85" x2="373.50" y2="66.85" stroke="#333" stroke-width="0.6"/>
<line x1="372.20" y1="64.53" x2="373.50" y2="64.53" stroke="#333" stroke-width="0.6"/>
<line x1="369.60" y1="62.20" x2="372.20" y2="62.20" stroke="#000" stroke-width="0.8"/>
<line x1="372.20" y1="59.88" x2="373.50" y2="59.88" stroke="#333" stroke-width="0.6"/>
<line x1="372.20" y1="57.55" x2="373.50" y2="57.55" stroke="#333" stroke-width="0.6"/>
<line x1="372.20" y1="55.22" x2="373.50" y2="55.22" stroke="#333" stroke-width="0.6"/>
<line x1="369.60" y1="52.90" x2="372.20" y2="52.90" stroke="#000" stroke-width="0.8"/>
<line x1="372.20" y1="50.57" x2="373.50" y2="50.57" stroke="#333" stroke-width="0.6"/>
<line x1="372.20" y1="48.25" x2="373.50" y2="48.25" stroke="#333" stroke-width="0.6"/>
<line x1="372.20" y1="45.92" x2="373.50" y2="45.92" stroke="#333" stroke-width="0.6"/>
<line x1="369.60" y1="43.60" x2="372.20" y2="43.60" stroke="#000" stroke-width="0.8"/>
<line x1="372.20" y1="41.27" x2="373.50" y2="41.27" stroke="#333" stroke-width="0.6"/>
<line x1="372.20" y1="38.95" x2="373.50" y2="38.95" stroke="#333" stroke-width="0.6"/>
<line x1="372.20" y1="36.62" x2="373.50" y2="36.62" stroke="#333" stroke-width="0.6"/>
<line x1="369.60" y1="34.30" x2="372.20" y2="34.30" stroke="#000" stroke-width="0.8"/>
<line x1="372.20" y1="80.80" x2="372.20" y2="82.20" stroke="#333" stroke-width="0.6"/>
<line x1="374.44" y1="80.80" x2="374.44" y2="81.70" stroke="#333" stroke-width="0.6"/>
<line x1="376.67" y1="80.80" x2="376.67" y2="81.70" stroke="#333" stroke-width="0.6"/>
<line x1="378.91" y1="80.80" x2="378.91" y2="81.70" stroke="#333" stroke-width="0.6"/>
<line x1="381.15" y1="80.80" x2="381.15" y2="82.20" stroke="#333" stroke-width="0.6"/>
<line x1="383.38" y1="80.80" x2="383.38" y2="81.70" stroke="#333" stroke-width="0.6"/>
<line x1="385.62" y1="80.80" x2="385.62" y2="81.70" stroke="#333" stroke-width="0.6"/>
<line x1="387.85" y1="80.80" x2="387.85" y2="81.70" stroke="#333" stroke-width="0.6"/>
<line x1="390.09" y1="80.80" x2="390.09" y2="82.20" stroke="#333" stroke-width="0.6"/>
<line x1="392.33" y1="80.80" x2="392.33" y2="81.70" stroke="#333" stroke-width="0.6"/>
<line x1="394.56" y1="80.80" x2="394.56" y2="81.70" stroke="#333" stroke-width="0.6"/>
<line x1="396.80" y1="80.80" x2="396.80" y2="81.70" stroke="#333" stroke-width="0.6"/>
<line x1="399.04" y1="80.80" x2="399.04" y2="82.20" stroke="#333" stroke-width="0.6"/>
<line x1="401.27" y1="80.80" x2="401.27" y2="81.70" stroke="#333" stroke-width="0.6"/>
<line x1="403.51" y1="80.80" x2="403.51" y2="81.70" stroke="#333" stroke-width="0.6"/>
<line x1="405.75" y1="80.80" x2="405.75" y2="81.70" stroke="#333" stroke-width="0.6"/>
<line x1="407.98" y1="80.80" x2="407.98" y2="82.20" stroke="#333" stroke-width="0.6"/>
<line x1="410.22" y1="80.80" x2="410.22" y2="81.70" stroke="#333" stroke-width="0.6"/>
<line x1="412.45" y1="80.80" x2="412.45" y2="81.70" stroke="#333" stroke-width="0.6"/>
<line x1="414.69" y1="80.80" x2="414.69" y2="81.70" stroke="#333" stroke-width="0.6"/>
<line x1="416.93" y1="80.80" x2="416.93" y2="82.20" stroke="#333" stroke-width="0.6"/>
<line x1="419.16" y1="80.80" x2="419.16" y2="81.70" stroke="#333" stroke-width="0.6"/>
<line x1="421.40" y1="80.80" x2="421.40" y2="81.70" stroke="#333" stroke-width="0.6"/>
<rect x="372.20" y="32.00" width="49.20" height="48.80" fill="none" stroke="#000" stroke-width="1.2"/>
<text x="365.90" y="36.24" font-size="5.4" text-anchor="end" textLength="9.15" lengthAdjust="spacingAndGlyphs" fill="#222">100</text>
<text x="365.90" y="45.54" font-size="5.4" text-anchor="end" textLength="6.10" lengthAdjust="spacingAndGlyphs" fill="#222">80</text>
<text x="365.90" y="54.84" font-size="5.4" text-anchor="end" textLength="6.10" lengthAdjust="spacingAndGlyphs" fill="#222">60</text>
<text x="365.90" y="64.14" font-size="5.4" text-anchor="end" textLength="6.10" lengthAdjust="spacingAndGlyphs" fill="#222">40</text>
<text x="365.90" y="73.44" font-size="5.4" text-anchor="end" textLength="6.10" lengthAdjust="spacingAndGlyphs" fill="#222">20</text>
<text x="365.90" y="82.74" font-size="5.4" text-anchor="end" textLength="3.05" lengthAdjust="spacingAndGlyphs" fill="#222">0</text>
<text x="377.20" y="92.20" font-size="6.0" text-anchor="middle">10<tspan font-size="3.72" dy="-2.28">0</tspan></text>
<text x="389.60" y="92.20" font-size="6.0" text-anchor="middle">10<tspan font-size="3.72" dy="-2.28">1</tspan></text>
<text x="402.00" y="92.20" font-size="6.0" text-anchor="middle">10<tspan font-size="3.72" dy="-2.28">2</tspan></text>
<text x="414.40" y="92.20" font-size="6.0" text-anchor="middle">10<tspan font-size="3.72" dy="-2.28">3</tspan></text>
<path d="M297.0,151.3 L297.5,151.3 L298.0,151.3 L298.5,151.2 L299.0,151.2 L299.5,151.1 L300.0,151.0 L300.5,150.9 L301.0,150.7 L301.5,150.5 L302.0,150.2 L302.5,149.9 L303.0,149.4 L303.5,148.9 L304.0,148.4 L304.5,147.8 L305.0,147.1 L305.5,146.4 L306.0,145.7 L306.5,144.9 L307.0,143.8 L307.5,142.5 L308.0,140.8 L308.5,138.7 L309.0,136.3 L309.5,133.5 L310.0,130.7 L310.5,128.1 L311.0,126.1 L311.5,124.9 L312.0,124.8 L312.5,126.3 L313.0,129.6 L313.5,133.7 L314.0,138.1 L314.5,142.0 L315.0,145.1 L315.5,147.3 L316.0,148.8 L316.5,149.7 L317.0,150.2 L317.5,150.6 L318.0,150.8 L318.5,151.0 L319.0,151.1 L319.5,151.2 L320.0,151.2 L320.5,151.3 L321.0,151.3 L321.5,151.3 L322.0,151.4 L322.5,151.4 L323.0,151.4 L323.5,151.4 L324.0,151.4 L324.5,151.4 L325.0,151.4 L325.5,151.4 L326.0,151.4 L326.5,151.4 L327.0,151.4 L327.5,151.4 L328.0,151.4 L328.5,151.4 L329.0,151.4 L329.5,151.4 L330.0,151.4 L330.5,151.4 L331.0,151.4 L331.5,151.4 L332.0,151.4 L332.5,151.4 L333.0,151.4 L333.5,151.4 L334.0,151.4 L334.5,151.4 L335.0,151.4 L335.5,151.4 L336.0,151.4 L336.5,151.4 L337.0,151.4 L337.5,151.4 L338.0,151.4 L338.5,151.4 L339.0,151.4 L339.5,151.4 L340.0,151.4 L340.5,151.4 L341.0,151.4 L341.5,151.4 L342.0,151.4 L342.5,151.4 L343.0,151.4 L343.5,151.4 L344.0,151.4 L344.5,151.4 L344.5,151.4 L297.0,151.4 Z" stroke="none" stroke-width="1" fill="#bdbdbd"/>
<path d="M297.0,151.4 L297.5,151.4 L298.0,151.4 L298.5,151.4 L299.0,151.4 L299.5,151.4 L300.0,151.4 L300.5,151.4 L301.0,151.4 L301.5,151.4 L302.0,151.4 L302.5,151.4 L303.0,151.4 L303.5,151.4 L304.0,151.4 L304.5,151.4 L305.0,151.4 L305.5,151.4 L306.0,151.4 L306.5,151.4 L307.0,151.4 L307.5,151.4 L308.0,151.4 L308.5,151.4 L309.0,151.4 L309.5,151.4 L310.0,151.4 L310.5,151.4 L311.0,151.4 L311.5,151.4 L312.0,151.3 L312.5,151.3 L313.0,151.3 L313.5,151.3 L314.0,151.2 L314.5,151.2 L315.0,151.1 L315.5,151.1 L316.0,151.0 L316.5,150.9 L317.0,150.8 L317.5,150.7 L318.0,150.6 L318.5,150.5 L319.0,150.5 L319.5,150.4 L320.0,150.3 L320.5,150.3 L321.0,150.3 L321.5,150.2 L322.0,150.2 L322.5,150.1 L323.0,150.0 L323.5,149.8 L324.0,149.5 L324.5,148.9 L325.0,147.9 L325.5,146.3 L326.0,143.8 L326.5,140.2 L327.0,135.3 L327.5,129.4 L328.0,123.0 L328.5,117.1 L329.0,112.8 L329.5,110.8 L330.0,111.7 L330.5,115.2 L331.0,120.6 L331.5,126.9 L332.0,133.1 L332.5,138.5 L333.0,142.6 L333.5,145.6 L334.0,147.6 L334.5,148.9 L335.0,149.7 L335.5,150.2 L336.0,150.5 L336.5,150.7 L337.0,150.9 L337.5,151.0 L338.0,151.1 L338.5,151.2 L339.0,151.3 L339.5,151.3 L340.0,151.3 L340.5,151.4 L341.0,151.4 L341.5,151.4 L342.0,151.4 L342.5,151.4 L343.0,151.4 L343.5,151.4 L344.0,151.4 L344.5,151.4" stroke="#5b2a86" stroke-width="1.0" fill="none" stroke-linejoin="round"/>
<path d="M297.0,150.7 L297.5,150.6 L298.0,150.4 L298.5,150.1 L299.0,149.8 L299.5,149.5 L300.0,149.2 L300.5,148.8 L301.0,148.5 L301.5,148.1 L302.0,147.8 L302.5,147.5 L303.0,147.2 L303.5,146.9 L304.0,146.6 L304.5,146.2 L305.0,145.6 L305.5,144.8 L306.0,143.8 L306.5,142.4 L307.0,140.5 L307.5,138.3 L308.0,135.6 L308.5,132.6 L309.0,129.3 L309.5,125.9 L310.0,122.6 L310.5,119.5 L311.0,117.0 L311.5,115.1 L312.0,114.1 L312.5,114.1 L313.0,115.4 L313.5,118.0 L314.0,121.7 L314.5,125.9 L315.0,130.3 L315.5,134.6 L316.0,138.4 L316.5,141.6 L317.0,144.1 L317.5,146.1 L318.0,147.5 L318.5,148.6 L319.0,149.3 L319.5,149.8 L320.0,150.2 L320.5,150.4 L321.0,150.6 L321.5,150.8 L322.0,150.9 L322.5,151.0 L323.0,151.1 L323.5,151.2 L324.0,151.2 L324.5,151.3 L325.0,151.3 L325.5,151.3 L326.0,151.3 L326.5,151.4 L327.0,151.4 L327.5,151.4 L328.0,151.4 L328.5,151.4 L329.0,151.4 L329.5,151.4 L330.0,151.4 L330.5,151.4 L331.0,151.4 L331.5,151.4 L332.0,151.4 L332.5,151.4 L333.0,151.4 L333.5,151.4 L334.0,151.4 L334.5,151.4 L335.0,151.4 L335.5,151.4 L336.0,151.4 L336.5,151.4 L337.0,151.4 L337.5,151.4 L338.0,151.4 L338.5,151.4 L339.0,151.4 L339.5,151.4 L340.0,151.4 L340.5,151.4 L341.0,151.4 L341.5,151.4 L342.0,151.4 L342.5,151.4 L343.0,151.4 L343.5,151.4 L344.0,151.4 L344.5,151.4" stroke="#63a83a" stroke-width="1.0" fill="none" stroke-linejoin="round"/>
<path d="M297.0,150.6 L297.5,150.4 L298.0,150.2 L298.5,149.9 L299.0,149.6 L299.5,149.3 L300.0,148.9 L300.5,148.5 L301.0,148.1 L301.5,147.6 L302.0,147.2 L302.5,146.7 L303.0,146.1 L303.5,145.5 L304.0,144.7 L304.5,143.7 L305.0,142.4 L305.5,140.7 L306.0,138.7 L306.5,136.2 L307.0,133.4 L307.5,130.2 L308.0,126.7 L308.5,123.3 L309.0,119.9 L309.5,117.0 L310.0,114.7 L310.5,113.1 L311.0,112.5 L311.5,113.1 L312.0,115.4 L312.5,119.1 L313.0,123.8 L313.5,128.8 L314.0,133.6 L314.5,137.9 L315.0,141.5 L315.5,144.3 L316.0,146.4 L316.5,147.8 L317.0,148.8 L317.5,149.5 L318.0,150.0 L318.5,150.3 L319.0,150.6 L319.5,150.7 L320.0,150.9 L320.5,151.0 L321.0,151.1 L321.5,151.2 L322.0,151.2 L322.5,151.3 L323.0,151.3 L323.5,151.3 L324.0,151.3 L324.5,151.4 L325.0,151.4 L325.5,151.4 L326.0,151.4 L326.5,151.4 L327.0,151.4 L327.5,151.4 L328.0,151.4 L328.5,151.4 L329.0,151.4 L329.5,151.4 L330.0,151.4 L330.5,151.4 L331.0,151.4 L331.5,151.4 L332.0,151.4 L332.5,151.4 L333.0,151.4 L333.5,151.4 L334.0,151.4 L334.5,151.4 L335.0,151.4 L335.5,151.4 L336.0,151.4 L336.5,151.4 L337.0,151.4 L337.5,151.4 L338.0,151.4 L338.5,151.4 L339.0,151.4 L339.5,151.4 L340.0,151.4 L340.5,151.4 L341.0,151.4 L341.5,151.4 L342.0,151.4 L342.5,151.4 L343.0,151.4 L343.5,151.4 L344.0,151.4 L344.5,151.4" stroke="#f4c20d" stroke-width="1.0" fill="none" stroke-linejoin="round"/>
<line x1="293.80" y1="151.40" x2="296.40" y2="151.40" stroke="#000" stroke-width="0.8"/>
<line x1="296.40" y1="149.06" x2="297.70" y2="149.06" stroke="#333" stroke-width="0.6"/>
<line x1="296.40" y1="146.73" x2="297.70" y2="146.73" stroke="#333" stroke-width="0.6"/>
<line x1="296.40" y1="144.40" x2="297.70" y2="144.40" stroke="#333" stroke-width="0.6"/>
<line x1="293.80" y1="142.06" x2="296.40" y2="142.06" stroke="#000" stroke-width="0.8"/>
<line x1="296.40" y1="139.72" x2="297.70" y2="139.72" stroke="#333" stroke-width="0.6"/>
<line x1="296.40" y1="137.39" x2="297.70" y2="137.39" stroke="#333" stroke-width="0.6"/>
<line x1="296.40" y1="135.06" x2="297.70" y2="135.06" stroke="#333" stroke-width="0.6"/>
<line x1="293.80" y1="132.72" x2="296.40" y2="132.72" stroke="#000" stroke-width="0.8"/>
<line x1="296.40" y1="130.38" x2="297.70" y2="130.38" stroke="#333" stroke-width="0.6"/>
<line x1="296.40" y1="128.05" x2="297.70" y2="128.05" stroke="#333" stroke-width="0.6"/>
<line x1="296.40" y1="125.72" x2="297.70" y2="125.72" stroke="#333" stroke-width="0.6"/>
<line x1="293.80" y1="123.38" x2="296.40" y2="123.38" stroke="#000" stroke-width="0.8"/>
<line x1="296.40" y1="121.05" x2="297.70" y2="121.05" stroke="#333" stroke-width="0.6"/>
<line x1="296.40" y1="118.71" x2="297.70" y2="118.71" stroke="#333" stroke-width="0.6"/>
<line x1="296.40" y1="116.38" x2="297.70" y2="116.38" stroke="#333" stroke-width="0.6"/>
<line x1="293.80" y1="114.04" x2="296.40" y2="114.04" stroke="#000" stroke-width="0.8"/>
<line x1="296.40" y1="111.71" x2="297.70" y2="111.71" stroke="#333" stroke-width="0.6"/>
<line x1="296.40" y1="109.37" x2="297.70" y2="109.37" stroke="#333" stroke-width="0.6"/>
<line x1="296.40" y1="107.03" x2="297.70" y2="107.03" stroke="#333" stroke-width="0.6"/>
<line x1="293.80" y1="104.70" x2="296.40" y2="104.70" stroke="#000" stroke-width="0.8"/>
<line x1="296.40" y1="151.40" x2="296.40" y2="152.80" stroke="#333" stroke-width="0.6"/>
<line x1="298.63" y1="151.40" x2="298.63" y2="152.30" stroke="#333" stroke-width="0.6"/>
<line x1="300.85" y1="151.40" x2="300.85" y2="152.30" stroke="#333" stroke-width="0.6"/>
<line x1="303.08" y1="151.40" x2="303.08" y2="152.30" stroke="#333" stroke-width="0.6"/>
<line x1="305.31" y1="151.40" x2="305.31" y2="152.80" stroke="#333" stroke-width="0.6"/>
<line x1="307.54" y1="151.40" x2="307.54" y2="152.30" stroke="#333" stroke-width="0.6"/>
<line x1="309.76" y1="151.40" x2="309.76" y2="152.30" stroke="#333" stroke-width="0.6"/>
<line x1="311.99" y1="151.40" x2="311.99" y2="152.30" stroke="#333" stroke-width="0.6"/>
<line x1="314.22" y1="151.40" x2="314.22" y2="152.80" stroke="#333" stroke-width="0.6"/>
<line x1="316.45" y1="151.40" x2="316.45" y2="152.30" stroke="#333" stroke-width="0.6"/>
<line x1="318.67" y1="151.40" x2="318.67" y2="152.30" stroke="#333" stroke-width="0.6"/>
<line x1="320.90" y1="151.40" x2="320.90" y2="152.30" stroke="#333" stroke-width="0.6"/>
<line x1="323.13" y1="151.40" x2="323.13" y2="152.80" stroke="#333" stroke-width="0.6"/>
<line x1="325.35" y1="151.40" x2="325.35" y2="152.30" stroke="#333" stroke-width="0.6"/>
<line x1="327.58" y1="151.40" x2="327.58" y2="152.30" stroke="#333" stroke-width="0.6"/>
<line x1="329.81" y1="151.40" x2="329.81" y2="152.30" stroke="#333" stroke-width="0.6"/>
<line x1="332.04" y1="151.40" x2="332.04" y2="152.80" stroke="#333" stroke-width="0.6"/>
<line x1="334.26" y1="151.40" x2="334.26" y2="152.30" stroke="#333" stroke-width="0.6"/>
<line x1="336.49" y1="151.40" x2="336.49" y2="152.30" stroke="#333" stroke-width="0.6"/>
<line x1="338.72" y1="151.40" x2="338.72" y2="152.30" stroke="#333" stroke-width="0.6"/>
<line x1="340.95" y1="151.40" x2="340.95" y2="152.80" stroke="#333" stroke-width="0.6"/>
<line x1="343.17" y1="151.40" x2="343.17" y2="152.30" stroke="#333" stroke-width="0.6"/>
<line x1="345.40" y1="151.40" x2="345.40" y2="152.30" stroke="#333" stroke-width="0.6"/>
<rect x="296.40" y="102.40" width="49.00" height="49.00" fill="none" stroke="#000" stroke-width="1.2"/>
<text x="290.10" y="106.64" font-size="5.4" text-anchor="end" textLength="9.15" lengthAdjust="spacingAndGlyphs" fill="#222">100</text>
<text x="290.10" y="115.98" font-size="5.4" text-anchor="end" textLength="6.10" lengthAdjust="spacingAndGlyphs" fill="#222">80</text>
<text x="290.10" y="125.32" font-size="5.4" text-anchor="end" textLength="6.10" lengthAdjust="spacingAndGlyphs" fill="#222">60</text>
<text x="290.10" y="134.66" font-size="5.4" text-anchor="end" textLength="6.10" lengthAdjust="spacingAndGlyphs" fill="#222">40</text>
<text x="290.10" y="144.00" font-size="5.4" text-anchor="end" textLength="6.10" lengthAdjust="spacingAndGlyphs" fill="#222">20</text>
<text x="290.10" y="153.34" font-size="5.4" text-anchor="end" textLength="3.05" lengthAdjust="spacingAndGlyphs" fill="#222">0</text>
<text x="296.50" y="162.80" font-size="6.0" text-anchor="middle">10<tspan font-size="3.72" dy="-2.28">2</tspan></text>
<text x="309.50" y="162.80" font-size="6.0" text-anchor="middle">10<tspan font-size="3.72" dy="-2.28">3</tspan></text>
<text x="322.50" y="162.80" font-size="6.0" text-anchor="middle">10<tspan font-size="3.72" dy="-2.28">4</tspan></text>
<text x="335.50" y="162.80" font-size="6.0" text-anchor="middle">10<tspan font-size="3.72" dy="-2.28">5</tspan></text>
<line x1="296.40" y1="168.00" x2="340.70" y2="168.00" stroke="#222" stroke-width="1.2"/>
<path d="M340.20,165.50 L345.40,168.00 L340.20,170.50 Z" stroke="none" stroke-width="1" fill="#222"/>
<path d="M372.8,150.8 L373.3,150.1 L373.8,150.3 L374.3,150.7 L374.8,151.4 L375.3,149.3 L375.8,149.0 L376.3,150.2 L376.8,148.2 L377.3,149.2 L377.8,147.2 L378.3,148.2 L378.8,148.5 L379.3,147.4 L379.8,147.9 L380.3,147.6 L380.8,147.5 L381.3,147.4 L381.8,146.6 L382.3,146.2 L382.8,146.0 L383.3,144.6 L383.8,145.7 L384.3,144.4 L384.8,142.6 L385.3,142.6 L385.8,139.6 L386.3,138.5 L386.8,137.3 L387.3,135.0 L387.8,133.7 L388.3,132.3 L388.8,129.0 L389.3,127.1 L389.8,125.9 L390.3,124.6 L390.8,124.7 L391.3,123.2 L391.8,122.6 L392.3,122.6 L392.8,123.9 L393.3,128.3 L393.8,132.6 L394.3,135.9 L394.8,140.4 L395.3,144.4 L395.8,145.4 L396.3,148.3 L396.8,149.3 L397.3,150.3 L397.8,150.0 L398.3,149.9 L398.8,151.0 L399.3,150.7 L399.8,151.0 L400.3,151.1 L400.8,151.2 L401.3,151.2 L401.8,151.3 L402.3,151.3 L402.8,151.3 L403.3,151.3 L403.8,151.3 L404.3,151.3 L404.8,151.3 L405.3,151.3 L405.8,151.3 L406.3,151.2 L406.8,151.1 L407.3,151.0 L407.8,150.3 L408.3,150.3 L408.8,149.3 L409.3,148.3 L409.8,147.9 L410.3,146.7 L410.8,144.3 L411.3,142.9 L411.8,140.2 L412.3,139.0 L412.8,138.9 L413.3,140.0 L413.8,144.6 L414.3,145.8 L414.8,148.8 L415.3,149.4 L415.8,150.5 L416.3,151.4 L416.8,151.1 L417.3,151.2 L417.8,151.3 L418.3,151.3 L418.8,151.4 L419.3,151.4 L419.8,151.4 L420.3,151.4" stroke="#5b2a86" stroke-width="1.0" fill="none" stroke-linejoin="round"/>
<path d="M372.8,149.6 L373.3,150.7 L373.8,150.2 L374.3,149.8 L374.8,150.3 L375.3,149.7 L375.8,149.4 L376.3,150.2 L376.8,148.3 L377.3,148.3 L377.8,148.7 L378.3,148.2 L378.8,147.5 L379.3,147.6 L379.8,147.3 L380.3,147.6 L380.8,146.0 L381.3,145.8 L381.8,145.1 L382.3,145.4 L382.8,142.7 L383.3,142.5 L383.8,141.6 L384.3,138.9 L384.8,138.5 L385.3,137.6 L385.8,135.2 L386.3,134.4 L386.8,130.6 L387.3,129.5 L387.8,127.9 L388.3,125.2 L388.8,125.4 L389.3,123.1 L389.8,123.8 L390.3,122.7 L390.8,123.3 L391.3,123.6 L391.8,126.5 L392.3,131.5 L392.8,134.9 L393.3,139.4 L393.8,142.3 L394.3,145.6 L394.8,148.1 L395.3,149.5 L395.8,149.2 L396.3,148.7 L396.8,150.2 L397.3,150.9 L397.8,149.7 L398.3,150.9 L398.8,151.0 L399.3,151.1 L399.8,151.2 L400.3,151.2 L400.8,151.3 L401.3,151.3 L401.8,151.3 L402.3,151.3 L402.8,151.2 L403.3,151.2 L403.8,151.1 L404.3,150.9 L404.8,150.9 L405.3,150.8 L405.8,150.3 L406.3,149.0 L406.8,146.4 L407.3,143.8 L407.8,138.4 L408.3,135.3 L408.8,132.0 L409.3,130.0 L409.8,131.9 L410.3,137.4 L410.8,142.3 L411.3,146.1 L411.8,149.0 L412.3,151.1 L412.8,150.3 L413.3,151.0 L413.8,151.1 L414.3,151.2 L414.8,151.3 L415.3,151.4 L415.8,151.4 L416.3,151.4 L416.8,151.4 L417.3,151.4 L417.8,151.4 L418.3,151.4 L418.8,151.4 L419.3,151.4 L419.8,151.4 L420.3,151.4" stroke="#63a83a" stroke-width="1.0" fill="none" stroke-linejoin="round"/>
<path d="M372.8,150.5 L373.3,149.7 L373.8,151.3 L374.3,150.7 L374.8,151.0 L375.3,148.2 L375.8,148.3 L376.3,147.8 L376.8,148.3 L377.3,147.8 L377.8,148.7 L378.3,146.6 L378.8,148.0 L379.3,147.3 L379.8,146.6 L380.3,146.3 L380.8,144.8 L381.3,144.6 L381.8,143.6 L382.3,142.7 L382.8,140.6 L383.3,140.4 L383.8,138.6 L384.3,136.6 L384.8,135.9 L385.3,133.4 L385.8,130.8 L386.3,128.5 L386.8,127.2 L387.3,125.9 L387.8,123.2 L388.3,122.9 L388.8,121.9 L389.3,121.3 L389.8,121.4 L390.3,122.7 L390.8,124.6 L391.3,129.0 L391.8,132.6 L392.3,136.6 L392.8,140.5 L393.3,143.0 L393.8,145.4 L394.3,147.2 L394.8,148.6 L395.3,149.0 L395.8,148.9 L396.3,149.7 L396.8,151.4 L397.3,150.0 L397.8,151.4 L398.3,151.4 L398.8,150.7 L399.3,151.4 L399.8,149.7 L400.3,149.9 L400.8,150.2 L401.3,149.8 L401.8,147.3 L402.3,144.7 L402.8,142.5 L403.3,138.4 L403.8,136.3 L404.3,134.0 L404.8,133.8 L405.3,134.6 L405.8,138.0 L406.3,142.7 L406.8,143.8 L407.3,147.8 L407.8,149.3 L408.3,149.5 L408.8,150.7 L409.3,151.0 L409.8,151.1 L410.3,151.2 L410.8,151.3 L411.3,151.3 L411.8,151.4 L412.3,151.4 L412.8,151.4 L413.3,151.4 L413.8,151.4 L414.3,151.4 L414.8,151.4 L415.3,151.4 L415.8,151.4 L416.3,151.4 L416.8,151.4 L417.3,151.4 L417.8,151.4 L418.3,151.4 L418.8,151.4 L419.3,151.4 L419.8,151.4 L420.3,151.4" stroke="#f4c20d" stroke-width="1.0" fill="none" stroke-linejoin="round"/>
<line x1="369.60" y1="151.40" x2="372.20" y2="151.40" stroke="#000" stroke-width="0.8"/>
<line x1="372.20" y1="149.06" x2="373.50" y2="149.06" stroke="#333" stroke-width="0.6"/>
<line x1="372.20" y1="146.73" x2="373.50" y2="146.73" stroke="#333" stroke-width="0.6"/>
<line x1="372.20" y1="144.40" x2="373.50" y2="144.40" stroke="#333" stroke-width="0.6"/>
<line x1="369.60" y1="142.06" x2="372.20" y2="142.06" stroke="#000" stroke-width="0.8"/>
<line x1="372.20" y1="139.72" x2="373.50" y2="139.72" stroke="#333" stroke-width="0.6"/>
<line x1="372.20" y1="137.39" x2="373.50" y2="137.39" stroke="#333" stroke-width="0.6"/>
<line x1="372.20" y1="135.06" x2="373.50" y2="135.06" stroke="#333" stroke-width="0.6"/>
<line x1="369.60" y1="132.72" x2="372.20" y2="132.72" stroke="#000" stroke-width="0.8"/>
<line x1="372.20" y1="130.38" x2="373.50" y2="130.38" stroke="#333" stroke-width="0.6"/>
<line x1="372.20" y1="128.05" x2="373.50" y2="128.05" stroke="#333" stroke-width="0.6"/>
<line x1="372.20" y1="125.72" x2="373.50" y2="125.72" stroke="#333" stroke-width="0.6"/>
<line x1="369.60" y1="123.38" x2="372.20" y2="123.38" stroke="#000" stroke-width="0.8"/>
<line x1="372.20" y1="121.05" x2="373.50" y2="121.05" stroke="#333" stroke-width="0.6"/>
<line x1="372.20" y1="118.71" x2="373.50" y2="118.71" stroke="#333" stroke-width="0.6"/>
<line x1="372.20" y1="116.38" x2="373.50" y2="116.38" stroke="#333" stroke-width="0.6"/>
<line x1="369.60" y1="114.04" x2="372.20" y2="114.04" stroke="#000" stroke-width="0.8"/>
<line x1="372.20" y1="111.71" x2="373.50" y2="111.71" stroke="#333" stroke-width="0.6"/>
<line x1="372.20" y1="109.37" x2="373.50" y2="109.37" stroke="#333" stroke-width="0.6"/>
<line x1="372.20" y1="107.03" x2="373.50" y2="107.03" stroke="#333" stroke-width="0.6"/>
<line x1="369.60" y1="104.70" x2="372.20" y2="104.70" stroke="#000" stroke-width="0.8"/>
<line x1="372.20" y1="151.40" x2="372.20" y2="152.80" stroke="#333" stroke-width="0.6"/>
<line x1="374.44" y1="151.40" x2="374.44" y2="152.30" stroke="#333" stroke-width="0.6"/>
<line x1="376.67" y1="151.40" x2="376.67" y2="152.30" stroke="#333" stroke-width="0.6"/>
<line x1="378.91" y1="151.40" x2="378.91" y2="152.30" stroke="#333" stroke-width="0.6"/>
<line x1="381.15" y1="151.40" x2="381.15" y2="152.80" stroke="#333" stroke-width="0.6"/>
<line x1="383.38" y1="151.40" x2="383.38" y2="152.30" stroke="#333" stroke-width="0.6"/>
<line x1="385.62" y1="151.40" x2="385.62" y2="152.30" stroke="#333" stroke-width="0.6"/>
<line x1="387.85" y1="151.40" x2="387.85" y2="152.30" stroke="#333" stroke-width="0.6"/>
<line x1="390.09" y1="151.40" x2="390.09" y2="152.80" stroke="#333" stroke-width="0.6"/>
<line x1="392.33" y1="151.40" x2="392.33" y2="152.30" stroke="#333" stroke-width="0.6"/>
<line x1="394.56" y1="151.40" x2="394.56" y2="152.30" stroke="#333" stroke-width="0.6"/>
<line x1="396.80" y1="151.40" x2="396.80" y2="152.30" stroke="#333" stroke-width="0.6"/>
<line x1="399.04" y1="151.40" x2="399.04" y2="152.80" stroke="#333" stroke-width="0.6"/>
<line x1="401.27" y1="151.40" x2="401.27" y2="152.30" stroke="#333" stroke-width="0.6"/>
<line x1="403.51" y1="151.40" x2="403.51" y2="152.30" stroke="#333" stroke-width="0.6"/>
<line x1="405.75" y1="151.40" x2="405.75" y2="152.30" stroke="#333" stroke-width="0.6"/>
<line x1="407.98" y1="151.40" x2="407.98" y2="152.80" stroke="#333" stroke-width="0.6"/>
<line x1="410.22" y1="151.40" x2="410.22" y2="152.30" stroke="#333" stroke-width="0.6"/>
<line x1="412.45" y1="151.40" x2="412.45" y2="152.30" stroke="#333" stroke-width="0.6"/>
<line x1="414.69" y1="151.40" x2="414.69" y2="152.30" stroke="#333" stroke-width="0.6"/>
<line x1="416.93" y1="151.40" x2="416.93" y2="152.80" stroke="#333" stroke-width="0.6"/>
<line x1="419.16" y1="151.40" x2="419.16" y2="152.30" stroke="#333" stroke-width="0.6"/>
<line x1="421.40" y1="151.40" x2="421.40" y2="152.30" stroke="#333" stroke-width="0.6"/>
<rect x="372.20" y="102.40" width="49.20" height="49.00" fill="none" stroke="#000" stroke-width="1.2"/>
<text x="365.90" y="106.64" font-size="5.4" text-anchor="end" textLength="9.15" lengthAdjust="spacingAndGlyphs" fill="#222">100</text>
<text x="365.90" y="115.98" font-size="5.4" text-anchor="end" textLength="6.10" lengthAdjust="spacingAndGlyphs" fill="#222">80</text>
<text x="365.90" y="125.32" font-size="5.4" text-anchor="end" textLength="6.10" lengthAdjust="spacingAndGlyphs" fill="#222">60</text>
<text x="365.90" y="134.66" font-size="5.4" text-anchor="end" textLength="6.10" lengthAdjust="spacingAndGlyphs" fill="#222">40</text>
<text x="365.90" y="144.00" font-size="5.4" text-anchor="end" textLength="6.10" lengthAdjust="spacingAndGlyphs" fill="#222">20</text>
<text x="365.90" y="153.34" font-size="5.4" text-anchor="end" textLength="3.05" lengthAdjust="spacingAndGlyphs" fill="#222">0</text>
<text x="377.20" y="162.80" font-size="6.0" text-anchor="middle">10<tspan font-size="3.72" dy="-2.28">0</tspan></text>
<text x="389.60" y="162.80" font-size="6.0" text-anchor="middle">10<tspan font-size="3.72" dy="-2.28">1</tspan></text>
<text x="402.00" y="162.80" font-size="6.0" text-anchor="middle">10<tspan font-size="3.72" dy="-2.28">2</tspan></text>
<text x="414.40" y="162.80" font-size="6.0" text-anchor="middle">10<tspan font-size="3.72" dy="-2.28">3</tspan></text>
<line x1="372.20" y1="168.00" x2="416.70" y2="168.00" stroke="#222" stroke-width="1.2"/>
<path d="M416.20,165.50 L421.40,168.00 L416.20,170.50 Z" stroke="none" stroke-width="1" fill="#222"/>
<line x1="276.30" y1="37.20" x2="276.30" y2="80.80" stroke="#222" stroke-width="1.1"/>
<path d="M273.80,37.70 L276.30,32.70 L278.80,37.70 Z" stroke="none" stroke-width="1" fill="#222"/>
<line x1="276.30" y1="107.70" x2="276.30" y2="151.20" stroke="#222" stroke-width="1.1"/>
<path d="M273.80,108.20 L276.30,103.20 L278.80,108.20 Z" stroke="none" stroke-width="1" fill="#222"/>
<text x="270.80" y="110.80" font-size="7.2" textLength="38.40" lengthAdjust="spacingAndGlyphs" transform="rotate(-90 270.80 110.80)">% of maximum</text>
<text x="320.90" y="177.80" font-size="8.4" text-anchor="middle" font-weight="bold" textLength="44.20" lengthAdjust="spacingAndGlyphs">Kb/OVA tetramer</text>
<text x="396.60" y="178.00" font-size="8.4" text-anchor="middle" font-weight="bold" textLength="43.70" lengthAdjust="spacingAndGlyphs">A2/NLV tetramer</text>
<line x1="335.97" y1="46.23" x2="332.81" y2="48.52" stroke="#5b2a86" stroke-width="1.0"/>
<path d="M331.60,49.40 L332.88,46.74 L334.53,49.00 Z" stroke="none" stroke-width="1" fill="#5b2a86"/>
<line x1="336.92" y1="52.32" x2="333.88" y2="53.61" stroke="#b5173e" stroke-width="1.0"/>
<path d="M332.50,54.20 L334.35,51.90 L335.44,54.47 Z" stroke="none" stroke-width="1" fill="#b5173e"/>
<line x1="418.16" y1="62.20" x2="415.30" y2="63.85" stroke="#5aabe6" stroke-width="1.0"/>
<path d="M414.00,64.60 L415.55,62.09 L416.95,64.51 Z" stroke="none" stroke-width="1" fill="#5aabe6"/>
<line x1="418.66" y1="67.30" x2="415.80" y2="68.95" stroke="#5b2a86" stroke-width="1.0"/>
<path d="M414.50,69.70 L416.05,67.19 L417.45,69.61 Z" stroke="none" stroke-width="1" fill="#5b2a86"/>
<line x1="419.70" y1="72.25" x2="416.65" y2="73.74" stroke="#b5173e" stroke-width="1.0"/>
<path d="M415.30,74.40 L417.02,72.00 L418.25,74.52 Z" stroke="none" stroke-width="1" fill="#b5173e"/>
<line x1="319.32" y1="118.43" x2="316.41" y2="119.49" stroke="#63a83a" stroke-width="1.0"/>
<path d="M315.00,120.00 L316.96,117.80 L317.92,120.43 Z" stroke="none" stroke-width="1" fill="#63a83a"/>
<line x1="320.20" y1="123.59" x2="316.91" y2="124.79" stroke="#f4c20d" stroke-width="1.0"/>
<path d="M315.50,125.30 L317.46,123.10 L318.42,125.73 Z" stroke="none" stroke-width="1" fill="#f4c20d"/>
<rect x="424.40" y="35.80" width="4.20" height="2.40" fill="#5b2a86" stroke="#5b2a86" stroke-width="1.1" fill-opacity="0.3"/>
<text x="431.90" y="38.70" font-size="4.9" textLength="26.50" lengthAdjust="spacingAndGlyphs" fill="#333">Ms-IgG-Fab</text>
<rect x="424.40" y="43.60" width="4.20" height="2.40" fill="#b5173e" stroke="#b5173e" stroke-width="1.1" fill-opacity="0.3"/>
<text x="431.90" y="46.50" font-size="4.9" textLength="38.00" lengthAdjust="spacingAndGlyphs" fill="#333">Mono-OKT3-Fab</text>
<rect x="424.40" y="51.20" width="4.20" height="2.40" fill="#5aabe6" stroke="#5aabe6" stroke-width="1.1" fill-opacity="0.3"/>
<text x="431.90" y="54.10" font-size="4.9" textLength="25.80" lengthAdjust="spacingAndGlyphs" fill="#333">OKT3 mAb</text>
<rect x="424.40" y="103.70" width="4.20" height="2.40" fill="#5b2a86" stroke="#5b2a86" stroke-width="1.1" fill-opacity="0.3"/>
<text x="431.90" y="106.60" font-size="4.9" textLength="26.50" lengthAdjust="spacingAndGlyphs" fill="#333">Ms-IgG-Fab</text>
<rect x="424.40" y="111.40" width="4.20" height="2.40" fill="#f4c20d" stroke="#f4c20d" stroke-width="1.1" fill-opacity="0.3"/>
<text x="431.90" y="114.30" font-size="4.9" textLength="41.50" lengthAdjust="spacingAndGlyphs" fill="#333">Mono-UCHT1-Fab</text>
<rect x="424.40" y="118.70" width="4.20" height="2.40" fill="#63a83a" stroke="#63a83a" stroke-width="1.1" fill-opacity="0.3"/>
<text x="431.90" y="121.60" font-size="4.9" textLength="28.90" lengthAdjust="spacingAndGlyphs" fill="#333">UCHT1 mAb</text>
<line x1="424.60" y1="128.00" x2="428.80" y2="128.00" stroke="#b8b8b8" stroke-width="1.4"/>
<text x="431.90" y="129.70" font-size="4.9" textLength="43.30" lengthAdjust="spacingAndGlyphs" fill="#333">OT-I neg population</text>
<text x="7.20" y="204.60" font-size="12" font-weight="bold" textLength="8.00" lengthAdjust="spacingAndGlyphs">C</text>
<text x="38.00" y="215.00" font-size="8.1" textLength="43.20" lengthAdjust="spacingAndGlyphs" class="nos">Ms-IgG-Fab</text>
<text x="103.80" y="215.00" font-size="8.1" textLength="60.20" lengthAdjust="spacingAndGlyphs" class="nos">Mono-OKT3-Fab</text>
<text x="180.40" y="215.00" font-size="8.1" textLength="66.90" lengthAdjust="spacingAndGlyphs" class="nos">Mono-UCHT1-Fab</text>
<line x1="32.80" y1="269.30" x2="35.00" y2="269.30" stroke="#000" stroke-width="0.8"/>
<line x1="35.00" y1="267.26" x2="36.00" y2="267.26" stroke="#333" stroke-width="0.5"/>
<line x1="35.00" y1="266.07" x2="36.00" y2="266.07" stroke="#333" stroke-width="0.5"/>
<line x1="35.00" y1="265.22" x2="36.00" y2="265.22" stroke="#333" stroke-width="0.5"/>
<line x1="35.00" y1="264.57" x2="36.40" y2="264.57" stroke="#333" stroke-width="0.5"/>
<line x1="35.00" y1="264.03" x2="36.00" y2="264.03" stroke="#333" stroke-width="0.5"/>
<line x1="35.00" y1="263.58" x2="36.00" y2="263.58" stroke="#333" stroke-width="0.5"/>
<line x1="35.00" y1="263.18" x2="36.00" y2="263.18" stroke="#333" stroke-width="0.5"/>
<line x1="35.00" y1="262.84" x2="36.00" y2="262.84" stroke="#333" stroke-width="0.5"/>
<line x1="32.80" y1="262.53" x2="35.00" y2="262.53" stroke="#000" stroke-width="0.8"/>
<line x1="35.00" y1="260.49" x2="36.00" y2="260.49" stroke="#333" stroke-width="0.5"/>
<line x1="35.00" y1="259.30" x2="36.00" y2="259.30" stroke="#333" stroke-width="0.5"/>
<line x1="35.00" y1="258.45" x2="36.00" y2="258.45" stroke="#333" stroke-width="0.5"/>
<line x1="35.00" y1="257.80" x2="36.40" y2="257.80" stroke="#333" stroke-width="0.5"/>
<line x1="35.00" y1="257.26" x2="36.00" y2="257.26" stroke="#333" stroke-width="0.5"/>
<line x1="35.00" y1="256.81" x2="36.00" y2="256.81" stroke="#333" stroke-width="0.5"/>
<line x1="35.00" y1="256.41" x2="36.00" y2="256.41" stroke="#333" stroke-width="0.5"/>
<line x1="35.00" y1="256.07" x2="36.00" y2="256.07" stroke="#333" stroke-width="0.5"/>
<line x1="32.80" y1="255.76" x2="35.00" y2="255.76" stroke="#000" stroke-width="0.8"/>
<line x1="35.00" y1="253.72" x2="36.00" y2="253.72" stroke="#333" stroke-width="0.5"/>
<line x1="35.00" y1="252.53" x2="36.00" y2="252.53" stroke="#333" stroke-width="0.5"/>
<line x1="35.00" y1="251.68" x2="36.00" y2="251.68" stroke="#333" stroke-width="0.5"/>
<line x1="35.00" y1="251.02" x2="36.40" y2="251.02" stroke="#333" stroke-width="0.5"/>
<line x1="35.00" y1="250.49" x2="36.00" y2="250.49" stroke="#333" stroke-width="0.5"/>
<line x1="35.00" y1="250.03" x2="36.00" y2="250.03" stroke="#333" stroke-width="0.5"/>
<line x1="35.00" y1="249.64" x2="36.00" y2="249.64" stroke="#333" stroke-width="0.5"/>
<line x1="35.00" y1="249.30" x2="36.00" y2="249.30" stroke="#333" stroke-width="0.5"/>
<line x1="32.80" y1="248.99" x2="35.00" y2="248.99" stroke="#000" stroke-width="0.8"/>
<line x1="35.00" y1="246.95" x2="36.00" y2="246.95" stroke="#333" stroke-width="0.5"/>
<line x1="35.00" y1="245.75" x2="36.00" y2="245.75" stroke="#333" stroke-width="0.5"/>
<line x1="35.00" y1="244.91" x2="36.00" y2="244.91" stroke="#333" stroke-width="0.5"/>
<line x1="35.00" y1="244.25" x2="36.40" y2="244.25" stroke="#333" stroke-width="0.5"/>
<line x1="35.00" y1="243.72" x2="36.00" y2="243.72" stroke="#333" stroke-width="0.5"/>
<line x1="35.00" y1="243.26" x2="36.00" y2="243.26" stroke="#333" stroke-width="0.5"/>
<line x1="35.00" y1="242.87" x2="36.00" y2="242.87" stroke="#333" stroke-width="0.5"/>
<line x1="35.00" y1="242.52" x2="36.00" y2="242.52" stroke="#333" stroke-width="0.5"/>
<line x1="32.80" y1="242.21" x2="35.00" y2="242.21" stroke="#000" stroke-width="0.8"/>
<line x1="35.00" y1="240.18" x2="36.00" y2="240.18" stroke="#333" stroke-width="0.5"/>
<line x1="35.00" y1="238.98" x2="36.00" y2="238.98" stroke="#333" stroke-width="0.5"/>
<line x1="35.00" y1="238.14" x2="36.00" y2="238.14" stroke="#333" stroke-width="0.5"/>
<line x1="35.00" y1="237.48" x2="36.40" y2="237.48" stroke="#333" stroke-width="0.5"/>
<line x1="35.00" y1="236.95" x2="36.00" y2="236.95" stroke="#333" stroke-width="0.5"/>
<line x1="35.00" y1="236.49" x2="36.00" y2="236.49" stroke="#333" stroke-width="0.5"/>
<line x1="35.00" y1="236.10" x2="36.00" y2="236.10" stroke="#333" stroke-width="0.5"/>
<line x1="35.00" y1="235.75" x2="36.00" y2="235.75" stroke="#333" stroke-width="0.5"/>
<line x1="32.80" y1="235.44" x2="35.00" y2="235.44" stroke="#000" stroke-width="0.8"/>
<line x1="35.00" y1="233.40" x2="36.00" y2="233.40" stroke="#333" stroke-width="0.5"/>
<line x1="35.00" y1="232.21" x2="36.00" y2="232.21" stroke="#333" stroke-width="0.5"/>
<line x1="35.00" y1="231.37" x2="36.00" y2="231.37" stroke="#333" stroke-width="0.5"/>
<line x1="35.00" y1="230.71" x2="36.40" y2="230.71" stroke="#333" stroke-width="0.5"/>
<line x1="35.00" y1="230.17" x2="36.00" y2="230.17" stroke="#333" stroke-width="0.5"/>
<line x1="35.00" y1="229.72" x2="36.00" y2="229.72" stroke="#333" stroke-width="0.5"/>
<line x1="35.00" y1="229.33" x2="36.00" y2="229.33" stroke="#333" stroke-width="0.5"/>
<line x1="35.00" y1="228.98" x2="36.00" y2="228.98" stroke="#333" stroke-width="0.5"/>
<line x1="32.80" y1="228.67" x2="35.00" y2="228.67" stroke="#000" stroke-width="0.8"/>
<line x1="35.00" y1="226.63" x2="36.00" y2="226.63" stroke="#333" stroke-width="0.5"/>
<line x1="35.00" y1="225.44" x2="36.00" y2="225.44" stroke="#333" stroke-width="0.5"/>
<line x1="35.00" y1="224.59" x2="36.00" y2="224.59" stroke="#333" stroke-width="0.5"/>
<line x1="35.00" y1="223.94" x2="36.40" y2="223.94" stroke="#333" stroke-width="0.5"/>
<line x1="35.00" y1="223.40" x2="36.00" y2="223.40" stroke="#333" stroke-width="0.5"/>
<line x1="35.00" y1="222.95" x2="36.00" y2="222.95" stroke="#333" stroke-width="0.5"/>
<line x1="35.00" y1="222.56" x2="36.00" y2="222.56" stroke="#333" stroke-width="0.5"/>
<line x1="35.00" y1="222.21" x2="36.00" y2="222.21" stroke="#333" stroke-width="0.5"/>
<line x1="32.80" y1="221.90" x2="35.00" y2="221.90" stroke="#000" stroke-width="0.8"/>
<line x1="36.00" y1="269.30" x2="36.00" y2="271.10" stroke="#000" stroke-width="0.8"/>
<line x1="38.38" y1="269.30" x2="38.38" y2="270.30" stroke="#333" stroke-width="0.5"/>
<line x1="39.78" y1="269.30" x2="39.78" y2="270.30" stroke="#333" stroke-width="0.5"/>
<line x1="40.77" y1="269.30" x2="40.77" y2="270.30" stroke="#333" stroke-width="0.5"/>
<line x1="41.53" y1="269.30" x2="41.53" y2="270.30" stroke="#333" stroke-width="0.5"/>
<line x1="42.16" y1="269.30" x2="42.16" y2="270.30" stroke="#333" stroke-width="0.5"/>
<line x1="42.69" y1="269.30" x2="42.69" y2="270.30" stroke="#333" stroke-width="0.5"/>
<line x1="43.15" y1="269.30" x2="43.15" y2="270.30" stroke="#333" stroke-width="0.5"/>
<line x1="43.55" y1="269.30" x2="43.55" y2="270.30" stroke="#333" stroke-width="0.5"/>
<line x1="43.92" y1="269.30" x2="43.92" y2="271.10" stroke="#000" stroke-width="0.8"/>
<line x1="46.30" y1="269.30" x2="46.30" y2="270.30" stroke="#333" stroke-width="0.5"/>
<line x1="47.69" y1="269.30" x2="47.69" y2="270.30" stroke="#333" stroke-width="0.5"/>
<line x1="48.68" y1="269.30" x2="48.68" y2="270.30" stroke="#333" stroke-width="0.5"/>
<line x1="49.45" y1="269.30" x2="49.45" y2="270.30" stroke="#333" stroke-width="0.5"/>
<line x1="50.08" y1="269.30" x2="50.08" y2="270.30" stroke="#333" stroke-width="0.5"/>
<line x1="50.61" y1="269.30" x2="50.61" y2="270.30" stroke="#333" stroke-width="0.5"/>
<line x1="51.07" y1="269.30" x2="51.07" y2="270.30" stroke="#333" stroke-width="0.5"/>
<line x1="51.47" y1="269.30" x2="51.47" y2="270.30" stroke="#333" stroke-width="0.5"/>
<line x1="51.83" y1="269.30" x2="51.83" y2="271.10" stroke="#000" stroke-width="0.8"/>
<line x1="54.22" y1="269.30" x2="54.22" y2="270.30" stroke="#333" stroke-width="0.5"/>
<line x1="55.61" y1="269.30" x2="55.61" y2="270.30" stroke="#333" stroke-width="0.5"/>
<line x1="56.60" y1="269.30" x2="56.60" y2="270.30" stroke="#333" stroke-width="0.5"/>
<line x1="57.37" y1="269.30" x2="57.37" y2="270.30" stroke="#333" stroke-width="0.5"/>
<line x1="57.99" y1="269.30" x2="57.99" y2="270.30" stroke="#333" stroke-width="0.5"/>
<line x1="58.52" y1="269.30" x2="58.52" y2="270.30" stroke="#333" stroke-width="0.5"/>
<line x1="58.98" y1="269.30" x2="58.98" y2="270.30" stroke="#333" stroke-width="0.5"/>
<line x1="59.39" y1="269.30" x2="59.39" y2="270.30" stroke="#333" stroke-width="0.5"/>
<line x1="59.75" y1="269.30" x2="59.75" y2="271.10" stroke="#000" stroke-width="0.8"/>
<line x1="62.13" y1="269.30" x2="62.13" y2="270.30" stroke="#333" stroke-width="0.5"/>
<line x1="63.53" y1="269.30" x2="63.53" y2="270.30" stroke="#333" stroke-width="0.5"/>
<line x1="64.52" y1="269.30" x2="64.52" y2="270.30" stroke="#333" stroke-width="0.5"/>
<line x1="65.28" y1="269.30" x2="65.28" y2="270.30" stroke="#333" stroke-width="0.5"/>
<line x1="65.91" y1="269.30" x2="65.91" y2="270.30" stroke="#333" stroke-width="0.5"/>
<line x1="66.44" y1="269.30" x2="66.44" y2="270.30" stroke="#333" stroke-width="0.5"/>
<line x1="66.90" y1="269.30" x2="66.90" y2="270.30" stroke="#333" stroke-width="0.5"/>
<line x1="67.30" y1="269.30" x2="67.30" y2="270.30" stroke="#333" stroke-width="0.5"/>
<line x1="67.67" y1="269.30" x2="67.67" y2="271.10" stroke="#000" stroke-width="0.8"/>
<line x1="70.05" y1="269.30" x2="70.05" y2="270.30" stroke="#333" stroke-width="0.5"/>
<line x1="71.44" y1="269.30" x2="71.44" y2="270.30" stroke="#333" stroke-width="0.5"/>
<line x1="72.43" y1="269.30" x2="72.43" y2="270.30" stroke="#333" stroke-width="0.5"/>
<line x1="73.20" y1="269.30" x2="73.20" y2="270.30" stroke="#333" stroke-width="0.5"/>
<line x1="73.83" y1="269.30" x2="73.83" y2="270.30" stroke="#333" stroke-width="0.5"/>
<line x1="74.36" y1="269.30" x2="74.36" y2="270.30" stroke="#333" stroke-width="0.5"/>
<line x1="74.82" y1="269.30" x2="74.82" y2="270.30" stroke="#333" stroke-width="0.5"/>
<line x1="75.22" y1="269.30" x2="75.22" y2="270.30" stroke="#333" stroke-width="0.5"/>
<line x1="75.58" y1="269.30" x2="75.58" y2="271.10" stroke="#000" stroke-width="0.8"/>
<line x1="77.97" y1="269.30" x2="77.97" y2="270.30" stroke="#333" stroke-width="0.5"/>
<line x1="79.36" y1="269.30" x2="79.36" y2="270.30" stroke="#333" stroke-width="0.5"/>
<line x1="80.35" y1="269.30" x2="80.35" y2="270.30" stroke="#333" stroke-width="0.5"/>
<line x1="81.12" y1="269.30" x2="81.12" y2="270.30" stroke="#333" stroke-width="0.5"/>
<line x1="81.74" y1="269.30" x2="81.74" y2="270.30" stroke="#333" stroke-width="0.5"/>
<line x1="82.27" y1="269.30" x2="82.27" y2="270.30" stroke="#333" stroke-width="0.5"/>
<line x1="82.73" y1="269.30" x2="82.73" y2="270.30" stroke="#333" stroke-width="0.5"/>
<line x1="83.14" y1="269.30" x2="83.14" y2="270.30" stroke="#333" stroke-width="0.5"/>
<line x1="83.50" y1="269.30" x2="83.50" y2="271.10" stroke="#000" stroke-width="0.8"/>
<line x1="59.30" y1="219.90" x2="59.30" y2="269.30" stroke="#a0a0a0" stroke-width="1.0"/>
<line x1="35.00" y1="244.90" x2="84.50" y2="244.90" stroke="#a0a0a0" stroke-width="1.0"/>
<path d="M59.90,248.20 C59.90,245.30 68.90,245.30 68.90,248.20 C69.10,254.82 66.90,258.90 66.60,260.10 C66.60,261.00 64.00,261.00 64.00,260.10 C63.70,258.90 59.70,254.82 59.90,248.20 Z" fill="#000" opacity="0.22" filter="url(#blur1)"/>
<path d="M69.9 257.0h.5M57.7 252.7h.5M67.3 249.6h.5M66.0 253.4h.5M65.0 252.0h.5M66.6 260.0h.5M60.4 258.9h.5M65.8 255.4h.5M59.6 253.5h.5M70.4 248.1h.5M55.6 245.3h.5M66.0 267.2h.5M69.1 262.9h.5M65.4 261.2h.5M63.7 256.4h.5M63.7 250.4h.5M65.5 250.7h.5M69.8 253.9h.5M66.5 251.3h.5M69.6 249.6h.5M67.4 251.2h.5M60.5 250.6h.5M61.2 251.8h.5M63.4 254.6h.5M67.1 252.1h.5M64.9 254.5h.5M62.4 257.0h.5M68.1 253.9h.5M73.7 258.3h.5M64.5 251.2h.5M63.9 250.6h.5M69.1 249.7h.5M64.6 250.4h.5M68.8 246.7h.5M63.3 252.2h.5M66.2 255.5h.5M64.0 258.7h.5M66.1 267.7h.5M57.9 256.5h.5M60.0 249.3h.5M72.2 263.3h.5M56.2 251.8h.5M64.7 243.6h.5M64.8 255.1h.5M65.8 244.2h.5M69.0 254.2h.5M64.7 249.5h.5M67.6 258.3h.5M62.7 253.2h.5M68.0 244.4h.5M65.4 244.6h.5M60.6 255.6h.5M64.3 251.0h.5M63.6 257.9h.5M67.6 249.4h.5M66.1 250.7h.5M73.8 249.6h.5M63.5 251.2h.5M62.9 253.6h.5M66.0 245.8h.5M62.3 247.1h.5M69.5 267.7h.5M70.0 254.8h.5M68.7 253.7h.5M71.0 256.8h.5M63.9 247.9h.5M62.0 254.6h.5M59.2 251.8h.5M69.9 252.9h.5M72.2 261.5h.5M63.6 246.9h.5M64.8 250.7h.5M66.4 262.5h.5M59.7 251.0h.5M66.2 259.6h.5M66.9 255.2h.5M69.9 255.7h.5M63.9 253.0h.5M61.6 256.0h.5M68.4 240.0h.5M69.4 252.5h.5M66.7 256.7h.5M54.1 247.6h.5M63.4 249.3h.5M66.0 250.5h.5M56.9 256.4h.5M69.0 256.1h.5M61.6 251.6h.5M67.0 256.4h.5M68.7 251.4h.5M58.3 249.8h.5M66.9 257.2h.5M73.1 253.4h.5M65.9 251.9h.5M63.1 257.4h.5M66.3 251.8h.5M59.9 252.2h.5M63.1 260.3h.5M68.5 248.4h.5M69.3 250.3h.5M65.5 260.0h.5M60.1 253.7h.5M59.6 244.4h.5M68.6 252.9h.5M61.1 246.0h.5M63.1 260.9h.5M66.5 251.1h.5M61.8 253.3h.5M57.7 260.9h.5M66.8 260.0h.5M62.3 257.9h.5M67.5 246.2h.5M65.5 254.6h.5M62.3 251.2h.5M66.6 252.5h.5M60.2 256.3h.5M65.8 254.2h.5M65.3 255.4h.5M63.6 249.0h.5M61.5 259.4h.5M55.4 256.0h.5M58.2 245.9h.5M60.2 251.6h.5M67.7 245.5h.5M71.1 259.8h.5M64.4 251.5h.5M60.5 256.3h.5M65.3 261.3h.5M61.7 256.0h.5M64.8 249.1h.5M71.9 254.4h.5M67.3 248.2h.5M61.6 253.2h.5M62.2 256.4h.5M66.6 249.4h.5M65.7 252.7h.5M64.2 247.8h.5M61.0 254.0h.5M68.7 248.6h.5M69.4 253.8h.5M59.0 254.7h.5M68.2 254.3h.5M73.5 254.6h.5M68.3 252.8h.5M68.6 242.5h.5M60.9 251.2h.5M66.8 253.8h.5M69.0 254.9h.5M65.8 252.1h.5M65.6 257.7h.5M67.8 258.0h.5M63.9 249.7h.5M62.8 254.8h.5M70.9 254.2h.5M66.8 245.6h.5M74.8 248.0h.5M71.6 250.3h.5M68.5 257.7h.5M65.2 252.0h.5M60.5 252.5h.5M69.0 255.0h.5M60.8 259.7h.5M59.3 254.0h.5M60.8 249.4h.5M68.9 250.7h.5M57.8 250.4h.5M67.8 249.6h.5M69.4 258.8h.5M65.3 259.8h.5M71.8 244.3h.5M69.2 256.4h.5M63.5 256.7h.5M66.4 250.3h.5M70.4 253.6h.5M69.3 251.7h.5M57.2 254.2h.5M63.9 247.3h.5M57.0 256.4h.5M69.6 261.2h.5M66.9 252.7h.5M65.7 253.0h.5M67.9 250.6h.5M59.0 251.8h.5M65.7 251.6h.5M65.1 266.1h.5M68.2 246.8h.5M67.4 243.4h.5M67.3 255.6h.5M65.1 248.6h.5M60.3 255.2h.5M62.1 257.8h.5M62.0 251.2h.5M67.8 252.6h.5M64.2 254.3h.5M66.4 252.3h.5M65.8 252.2h.5M66.5 254.4h.5M66.8 257.6h.5M60.1 246.9h.5M63.7 252.0h.5M66.7 247.5h.5M65.7 255.3h.5M57.3 255.3h.5M70.1 253.5h.5M60.8 250.2h.5M64.6 250.5h.5M49.8 261.6h.5M62.8 251.9h.5M68.4 254.1h.5M62.7 252.3h.5M67.0 256.0h.5M64.1 257.5h.5M67.9 250.6h.5M60.2 254.7h.5M67.1 250.7h.5M62.9 256.0h.5M65.6 261.0h.5M66.9 267.2h.5M66.9 248.9h.5M64.1 252.3h.5M57.0 256.8h.5M65.2 252.6h.5M62.4 248.0h.5M64.0 249.0h.5M65.0 248.8h.5M58.3 253.3h.5M65.7 256.0h.5M65.2 261.6h.5M62.0 259.4h.5M60.3 249.8h.5M63.1 251.6h.5M70.6 249.9h.5M59.0 257.3h.5M64.9 246.1h.5M66.3 258.4h.5M63.2 262.2h.5M70.6 249.8h.5M68.2 243.8h.5M65.6 249.5h.5M68.5 249.0h.5M68.7 249.3h.5M63.0 249.5h.5M65.8 246.9h.5M67.4 249.8h.5M73.2 251.7h.5M61.4 255.6h.5M61.1 256.3h.5M62.9 255.7h.5M65.2 256.0h.5M61.8 249.9h.5M70.2 261.1h.5M68.4 250.3h.5M69.6 251.3h.5M64.3 259.1h.5M64.5 252.5h.5M63.5 249.9h.5M61.7 251.2h.5M65.6 251.4h.5M59.4 252.1h.5M63.9 253.1h.5M66.6 254.5h.5M61.1 249.2h.5M62.7 249.5h.5M57.5 250.7h.5M58.2 247.3h.5M59.1 248.2h.5M59.6 248.8h.5M63.8 257.6h.5M58.6 259.1h.5M66.9 255.9h.5M63.8 253.9h.5M67.1 256.5h.5M63.4 257.2h.5M69.4 258.6h.5M67.6 250.1h.5M65.0 253.6h.5M62.8 254.0h.5M65.6 252.5h.5M64.3 252.5h.5M65.1 251.1h.5M63.0 252.5h.5M59.7 244.8h.5M64.0 247.7h.5M71.0 257.1h.5M69.5 257.2h.5M63.5 255.7h.5M66.9 246.8h.5M67.9 248.9h.5M59.4 257.2h.5M62.3 248.6h.5M69.3 245.2h.5M61.3 259.5h.5M74.7 253.1h.5M68.3 248.5h.5M72.6 250.2h.5M51.7 253.4h.5M65.5 249.4h.5M65.9 260.7h.5M58.6 255.7h.5M60.3 261.7h.5M67.1 250.5h.5M66.0 251.0h.5M67.4 252.6h.5M66.2 258.0h.5M66.4 250.5h.5M66.8 258.6h.5M68.1 253.7h.5M64.3 263.8h.5M68.4 261.1h.5M61.9 261.3h.5M58.1 255.6h.5M65.1 253.7h.5M63.1 258.4h.5M67.0 253.9h.5M72.5 259.0h.5M65.7 252.7h.5M55.6 250.0h.5M62.7 249.3h.5M64.5 263.8h.5M66.9 251.7h.5M59.9 258.5h.5M63.9 264.1h.5M65.6 261.4h.5M66.7 253.2h.5M65.5 256.5h.5M64.9 246.0h.5M56.1 249.6h.5M61.1 254.0h.5M64.4 255.7h.5M63.9 256.1h.5M66.2 259.4h.5M60.7 244.6h.5M62.1 257.1h.5M61.9 250.7h.5M58.9 248.6h.5M64.1 245.3h.5M64.3 252.8h.5M64.1 253.5h.5M61.9 260.5h.5M67.9 249.3h.5M64.6 249.9h.5M69.6 252.2h.5M59.3 257.8h.5M67.2 251.8h.5M62.5 250.9h.5M64.7 248.2h.5M71.6 252.4h.5M73.0 250.8h.5M64.0 251.4h.5M68.3 258.8h.5M66.1 259.6h.5M69.2 258.8h.5M63.0 247.8h.5M57.3 246.5h.5M63.5 247.2h.5M64.5 261.8h.5M64.3 244.7h.5M68.1 251.7h.5M62.6 251.5h.5M58.7 252.8h.5M67.8 248.3h.5M67.1 256.4h.5M62.3 258.8h.5M59.5 255.4h.5M64.3 252.3h.5M66.4 254.0h.5M55.7 247.2h.5M59.9 251.7h.5M67.8 259.1h.5M67.4 253.8h.5M60.4 259.9h.5M65.4 247.4h.5M62.1 260.1h.5M70.2 248.7h.5M72.7 258.2h.5M67.1 247.7h.5M72.8 252.5h.5M61.4 250.9h.5M64.5 248.5h.5M67.2 252.2h.5M56.8 249.0h.5M59.6 249.3h.5M62.4 253.8h.5M63.6 251.9h.5M61.4 256.9h.5M63.7 264.8h.5M60.8 252.5h.5M69.7 247.8h.5M60.5 248.0h.5M64.4 251.5h.5M65.8 259.5h.5M59.5 251.1h.5M66.5 242.0h.5M62.5 250.8h.5M62.1 254.4h.5M69.0 250.4h.5M73.0 249.7h.5M64.7 254.0h.5M57.8 255.5h.5M65.1 253.6h.5M68.8 253.0h.5M69.0 247.0h.5M63.8 260.3h.5M64.6 247.5h.5M59.5 249.5h.5M58.8 255.7h.5M51.7 249.2h.5M58.4 246.9h.5M62.3 247.4h.5M66.7 249.3h.5M62.4 257.8h.5M66.0 253.5h.5M64.9 247.9h.5M66.1 265.6h.5M63.8 248.4h.5M57.8 244.5h.5M63.4 250.4h.5M68.8 252.4h.5M67.4 256.5h.5M66.6 251.1h.5M67.6 262.9h.5M54.6 254.6h.5M52.5 243.1h.5M62.0 251.9h.5M53.5 253.9h.5M83.5 249.9h.5M65.2 250.8h.5M70.7 252.3h.5M59.9 256.7h.5M61.8 261.1h.5M68.0 254.1h.5M72.5 249.4h.5M58.4 260.8h.5M64.4 240.0h.5M66.8 267.6h.5M69.2 263.0h.5M57.4 247.9h.5M57.0 252.7h.5M77.5 252.2h.5M71.2 259.7h.5M67.5 250.1h.5M81.8 262.1h.5M49.7 254.2h.5M68.8 245.7h.5M62.8 253.8h.5M62.7 260.8h.5M51.6 264.9h.5M65.0 252.7h.5M80.9 255.2h.5M50.6 266.4h.5M68.9 266.6h.5M66.1 260.1h.5M63.0 251.6h.5M72.4 253.5h.5M76.5 240.3h.5M65.8 256.2h.5M36.7 245.9h.5M56.9 253.2h.5M70.1 239.2h.5M55.2 257.2h.5M67.2 258.8h.5M71.8 254.4h.5M64.2 256.3h.5M69.2 248.8h.5M83.2 252.6h.5M59.8 253.1h.5M62.9 253.0h.5M63.9 258.7h.5M62.3 263.2h.5M52.5 251.3h.5M74.0 239.8h.5M67.3 252.1h.5M63.3 258.4h.5M65.5 250.1h.5M59.5 254.7h.5M59.4 252.0h.5M63.6 251.1h.5M50.6 263.5h.5M55.0 252.8h.5M63.5 259.3h.5M68.1 261.6h.5M64.5 263.2h.5M65.2 253.4h.5M63.9 267.1h.5M69.8 255.0h.5M60.9 255.9h.5M57.4 251.5h.5M70.6 262.2h.5" stroke="#222" stroke-width="0.5" stroke-opacity="0.5" fill="none"/>
<path d="M62.00,249.40 C62.00,246.50 68.00,246.50 68.00,249.40 C68.20,253.20 66.90,255.40 66.60,256.60 C66.60,257.50 64.00,257.50 64.00,256.60 C63.70,255.40 61.80,253.20 62.00,249.40 Z" fill="#050505" filter="url(#blur04)"/>
<rect x="35.00" y="219.90" width="49.50" height="49.40" fill="none" stroke="#000" stroke-width="1.2"/>
<text x="37.20" y="225.30" font-size="4.9" fill="#222">0.012</text>
<text x="81.90" y="225.30" font-size="4.9" text-anchor="end" fill="#222">0.32</text>
<text x="38.40" y="266.10" font-size="4.9" fill="#222">1.89</text>
<text x="81.90" y="266.10" font-size="4.9" text-anchor="end" fill="#222">97.8</text>
<text x="29.00" y="271.10" font-size="5.6" text-anchor="end" fill="#222">10<tspan font-size="3.7" dy="-2.2">0</tspan></text>
<text x="29.00" y="264.40" font-size="5.6" text-anchor="end" fill="#222">10<tspan font-size="3.7" dy="-2.2">1</tspan></text>
<text x="29.00" y="257.70" font-size="5.6" text-anchor="end" fill="#222">10<tspan font-size="3.7" dy="-2.2">2</tspan></text>
<text x="29.00" y="251.00" font-size="5.6" text-anchor="end" fill="#222">10<tspan font-size="3.7" dy="-2.2">3</tspan></text>
<text x="29.00" y="244.30" font-size="5.6" text-anchor="end" fill="#222">10<tspan font-size="3.7" dy="-2.2">4</tspan></text>
<text x="29.00" y="237.60" font-size="5.6" text-anchor="end" fill="#222">10<tspan font-size="3.7" dy="-2.2">5</tspan></text>
<text x="29.00" y="230.90" font-size="5.6" text-anchor="end" fill="#222">10<tspan font-size="3.7" dy="-2.2">6</tspan></text>
<text x="29.00" y="224.20" font-size="5.6" text-anchor="end" fill="#222">10<tspan font-size="3.7" dy="-2.2">7</tspan></text>
<text x="33.80" y="280.70" font-size="5.8" text-anchor="middle">10<tspan font-size="3.60" dy="-2.20">0</tspan></text>
<text x="47.55" y="280.70" font-size="5.8" text-anchor="middle">10<tspan font-size="3.60" dy="-2.20">2</tspan></text>
<text x="61.30" y="280.70" font-size="5.8" text-anchor="middle">10<tspan font-size="3.60" dy="-2.20">4</tspan></text>
<text x="75.05" y="280.70" font-size="5.8" text-anchor="middle">10<tspan font-size="3.60" dy="-2.20">6</tspan></text>
<line x1="107.00" y1="269.30" x2="109.20" y2="269.30" stroke="#000" stroke-width="0.8"/>
<line x1="109.20" y1="267.26" x2="110.20" y2="267.26" stroke="#333" stroke-width="0.5"/>
<line x1="109.20" y1="266.07" x2="110.20" y2="266.07" stroke="#333" stroke-width="0.5"/>
<line x1="109.20" y1="265.22" x2="110.20" y2="265.22" stroke="#333" stroke-width="0.5"/>
<line x1="109.20" y1="264.57" x2="110.60" y2="264.57" stroke="#333" stroke-width="0.5"/>
<line x1="109.20" y1="264.03" x2="110.20" y2="264.03" stroke="#333" stroke-width="0.5"/>
<line x1="109.20" y1="263.58" x2="110.20" y2="263.58" stroke="#333" stroke-width="0.5"/>
<line x1="109.20" y1="263.18" x2="110.20" y2="263.18" stroke="#333" stroke-width="0.5"/>
<line x1="109.20" y1="262.84" x2="110.20" y2="262.84" stroke="#333" stroke-width="0.5"/>
<line x1="107.00" y1="262.53" x2="109.20" y2="262.53" stroke="#000" stroke-width="0.8"/>
<line x1="109.20" y1="260.49" x2="110.20" y2="260.49" stroke="#333" stroke-width="0.5"/>
<line x1="109.20" y1="259.30" x2="110.20" y2="259.30" stroke="#333" stroke-width="0.5"/>
<line x1="109.20" y1="258.45" x2="110.20" y2="258.45" stroke="#333" stroke-width="0.5"/>
<line x1="109.20" y1="257.80" x2="110.60" y2="257.80" stroke="#333" stroke-width="0.5"/>
<line x1="109.20" y1="257.26" x2="110.20" y2="257.26" stroke="#333" stroke-width="0.5"/>
<line x1="109.20" y1="256.81" x2="110.20" y2="256.81" stroke="#333" stroke-width="0.5"/>
<line x1="109.20" y1="256.41" x2="110.20" y2="256.41" stroke="#333" stroke-width="0.5"/>
<line x1="109.20" y1="256.07" x2="110.20" y2="256.07" stroke="#333" stroke-width="0.5"/>
<line x1="107.00" y1="255.76" x2="109.20" y2="255.76" stroke="#000" stroke-width="0.8"/>
<line x1="109.20" y1="253.72" x2="110.20" y2="253.72" stroke="#333" stroke-width="0.5"/>
<line x1="109.20" y1="252.53" x2="110.20" y2="252.53" stroke="#333" stroke-width="0.5"/>
<line x1="109.20" y1="251.68" x2="110.20" y2="251.68" stroke="#333" stroke-width="0.5"/>
<line x1="109.20" y1="251.02" x2="110.60" y2="251.02" stroke="#333" stroke-width="0.5"/>
<line x1="109.20" y1="250.49" x2="110.20" y2="250.49" stroke="#333" stroke-width="0.5"/>
<line x1="109.20" y1="250.03" x2="110.20" y2="250.03" stroke="#333" stroke-width="0.5"/>
<line x1="109.20" y1="249.64" x2="110.20" y2="249.64" stroke="#333" stroke-width="0.5"/>
<line x1="109.20" y1="249.30" x2="110.20" y2="249.30" stroke="#333" stroke-width="0.5"/>
<line x1="107.00" y1="248.99" x2="109.20" y2="248.99" stroke="#000" stroke-width="0.8"/>
<line x1="109.20" y1="246.95" x2="110.20" y2="246.95" stroke="#333" stroke-width="0.5"/>
<line x1="109.20" y1="245.75" x2="110.20" y2="245.75" stroke="#333" stroke-width="0.5"/>
<line x1="109.20" y1="244.91" x2="110.20" y2="244.91" stroke="#333" stroke-width="0.5"/>
<line x1="109.20" y1="244.25" x2="110.60" y2="244.25" stroke="#333" stroke-width="0.5"/>
<line x1="109.20" y1="243.72" x2="110.20" y2="243.72" stroke="#333" stroke-width="0.5"/>
<line x1="109.20" y1="243.26" x2="110.20" y2="243.26" stroke="#333" stroke-width="0.5"/>
<line x1="109.20" y1="242.87" x2="110.20" y2="242.87" stroke="#333" stroke-width="0.5"/>
<line x1="109.20" y1="242.52" x2="110.20" y2="242.52" stroke="#333" stroke-width="0.5"/>
<line x1="107.00" y1="242.21" x2="109.20" y2="242.21" stroke="#000" stroke-width="0.8"/>
<line x1="109.20" y1="240.18" x2="110.20" y2="240.18" stroke="#333" stroke-width="0.5"/>
<line x1="109.20" y1="238.98" x2="110.20" y2="238.98" stroke="#333" stroke-width="0.5"/>
<line x1="109.20" y1="238.14" x2="110.20" y2="238.14" stroke="#333" stroke-width="0.5"/>
<line x1="109.20" y1="237.48" x2="110.60" y2="237.48" stroke="#333" stroke-width="0.5"/>
<line x1="109.20" y1="236.95" x2="110.20" y2="236.95" stroke="#333" stroke-width="0.5"/>
<line x1="109.20" y1="236.49" x2="110.20" y2="236.49" stroke="#333" stroke-width="0.5"/>
<line x1="109.20" y1="236.10" x2="110.20" y2="236.10" stroke="#333" stroke-width="0.5"/>
<line x1="109.20" y1="235.75" x2="110.20" y2="235.75" stroke="#333" stroke-width="0.5"/>
<line x1="107.00" y1="235.44" x2="109.20" y2="235.44" stroke="#000" stroke-width="0.8"/>
<line x1="109.20" y1="233.40" x2="110.20" y2="233.40" stroke="#333" stroke-width="0.5"/>
<line x1="109.20" y1="232.21" x2="110.20" y2="232.21" stroke="#333" stroke-width="0.5"/>
<line x1="109.20" y1="231.37" x2="110.20" y2="231.37" stroke="#333" stroke-width="0.5"/>
<line x1="109.20" y1="230.71" x2="110.60" y2="230.71" stroke="#333" stroke-width="0.5"/>
<line x1="109.20" y1="230.17" x2="110.20" y2="230.17" stroke="#333" stroke-width="0.5"/>
<line x1="109.20" y1="229.72" x2="110.20" y2="229.72" stroke="#333" stroke-width="0.5"/>
<line x1="109.20" y1="229.33" x2="110.20" y2="229.33" stroke="#333" stroke-width="0.5"/>
<line x1="109.20" y1="228.98" x2="110.20" y2="228.98" stroke="#333" stroke-width="0.5"/>
<line x1="107.00" y1="228.67" x2="109.20" y2="228.67" stroke="#000" stroke-width="0.8"/>
<line x1="109.20" y1="226.63" x2="110.20" y2="226.63" stroke="#333" stroke-width="0.5"/>
<line x1="109.20" y1="225.44" x2="110.20" y2="225.44" stroke="#333" stroke-width="0.5"/>
<line x1="109.20" y1="224.59" x2="110.20" y2="224.59" stroke="#333" stroke-width="0.5"/>
<line x1="109.20" y1="223.94" x2="110.60" y2="223.94" stroke="#333" stroke-width="0.5"/>
<line x1="109.20" y1="223.40" x2="110.20" y2="223.40" stroke="#333" stroke-width="0.5"/>
<line x1="109.20" y1="222.95" x2="110.20" y2="222.95" stroke="#333" stroke-width="0.5"/>
<line x1="109.20" y1="222.56" x2="110.20" y2="222.56" stroke="#333" stroke-width="0.5"/>
<line x1="109.20" y1="222.21" x2="110.20" y2="222.21" stroke="#333" stroke-width="0.5"/>
<line x1="107.00" y1="221.90" x2="109.20" y2="221.90" stroke="#000" stroke-width="0.8"/>
<line x1="110.20" y1="269.30" x2="110.20" y2="271.10" stroke="#000" stroke-width="0.8"/>
<line x1="112.58" y1="269.30" x2="112.58" y2="270.30" stroke="#333" stroke-width="0.5"/>
<line x1="113.98" y1="269.30" x2="113.98" y2="270.30" stroke="#333" stroke-width="0.5"/>
<line x1="114.97" y1="269.30" x2="114.97" y2="270.30" stroke="#333" stroke-width="0.5"/>
<line x1="115.73" y1="269.30" x2="115.73" y2="270.30" stroke="#333" stroke-width="0.5"/>
<line x1="116.36" y1="269.30" x2="116.36" y2="270.30" stroke="#333" stroke-width="0.5"/>
<line x1="116.89" y1="269.30" x2="116.89" y2="270.30" stroke="#333" stroke-width="0.5"/>
<line x1="117.35" y1="269.30" x2="117.35" y2="270.30" stroke="#333" stroke-width="0.5"/>
<line x1="117.75" y1="269.30" x2="117.75" y2="270.30" stroke="#333" stroke-width="0.5"/>
<line x1="118.12" y1="269.30" x2="118.12" y2="271.10" stroke="#000" stroke-width="0.8"/>
<line x1="120.50" y1="269.30" x2="120.50" y2="270.30" stroke="#333" stroke-width="0.5"/>
<line x1="121.89" y1="269.30" x2="121.89" y2="270.30" stroke="#333" stroke-width="0.5"/>
<line x1="122.88" y1="269.30" x2="122.88" y2="270.30" stroke="#333" stroke-width="0.5"/>
<line x1="123.65" y1="269.30" x2="123.65" y2="270.30" stroke="#333" stroke-width="0.5"/>
<line x1="124.28" y1="269.30" x2="124.28" y2="270.30" stroke="#333" stroke-width="0.5"/>
<line x1="124.81" y1="269.30" x2="124.81" y2="270.30" stroke="#333" stroke-width="0.5"/>
<line x1="125.27" y1="269.30" x2="125.27" y2="270.30" stroke="#333" stroke-width="0.5"/>
<line x1="125.67" y1="269.30" x2="125.67" y2="270.30" stroke="#333" stroke-width="0.5"/>
<line x1="126.03" y1="269.30" x2="126.03" y2="271.10" stroke="#000" stroke-width="0.8"/>
<line x1="128.42" y1="269.30" x2="128.42" y2="270.30" stroke="#333" stroke-width="0.5"/>
<line x1="129.81" y1="269.30" x2="129.81" y2="270.30" stroke="#333" stroke-width="0.5"/>
<line x1="130.80" y1="269.30" x2="130.80" y2="270.30" stroke="#333" stroke-width="0.5"/>
<line x1="131.57" y1="269.30" x2="131.57" y2="270.30" stroke="#333" stroke-width="0.5"/>
<line x1="132.19" y1="269.30" x2="132.19" y2="270.30" stroke="#333" stroke-width="0.5"/>
<line x1="132.72" y1="269.30" x2="132.72" y2="270.30" stroke="#333" stroke-width="0.5"/>
<line x1="133.18" y1="269.30" x2="133.18" y2="270.30" stroke="#333" stroke-width="0.5"/>
<line x1="133.59" y1="269.30" x2="133.59" y2="270.30" stroke="#333" stroke-width="0.5"/>
<line x1="133.95" y1="269.30" x2="133.95" y2="271.10" stroke="#000" stroke-width="0.8"/>
<line x1="136.33" y1="269.30" x2="136.33" y2="270.30" stroke="#333" stroke-width="0.5"/>
<line x1="137.73" y1="269.30" x2="137.73" y2="270.30" stroke="#333" stroke-width="0.5"/>
<line x1="138.72" y1="269.30" x2="138.72" y2="270.30" stroke="#333" stroke-width="0.5"/>
<line x1="139.48" y1="269.30" x2="139.48" y2="270.30" stroke="#333" stroke-width="0.5"/>
<line x1="140.11" y1="269.30" x2="140.11" y2="270.30" stroke="#333" stroke-width="0.5"/>
<line x1="140.64" y1="269.30" x2="140.64" y2="270.30" stroke="#333" stroke-width="0.5"/>
<line x1="141.10" y1="269.30" x2="141.10" y2="270.30" stroke="#333" stroke-width="0.5"/>
<line x1="141.50" y1="269.30" x2="141.50" y2="270.30" stroke="#333" stroke-width="0.5"/>
<line x1="141.87" y1="269.30" x2="141.87" y2="271.10" stroke="#000" stroke-width="0.8"/>
<line x1="144.25" y1="269.30" x2="144.25" y2="270.30" stroke="#333" stroke-width="0.5"/>
<line x1="145.64" y1="269.30" x2="145.64" y2="270.30" stroke="#333" stroke-width="0.5"/>
<line x1="146.63" y1="269.30" x2="146.63" y2="270.30" stroke="#333" stroke-width="0.5"/>
<line x1="147.40" y1="269.30" x2="147.40" y2="270.30" stroke="#333" stroke-width="0.5"/>
<line x1="148.03" y1="269.30" x2="148.03" y2="270.30" stroke="#333" stroke-width="0.5"/>
<line x1="148.56" y1="269.30" x2="148.56" y2="270.30" stroke="#333" stroke-width="0.5"/>
<line x1="149.02" y1="269.30" x2="149.02" y2="270.30" stroke="#333" stroke-width="0.5"/>
<line x1="149.42" y1="269.30" x2="149.42" y2="270.30" stroke="#333" stroke-width="0.5"/>
<line x1="149.78" y1="269.30" x2="149.78" y2="271.10" stroke="#000" stroke-width="0.8"/>
<line x1="152.17" y1="269.30" x2="152.17" y2="270.30" stroke="#333" stroke-width="0.5"/>
<line x1="153.56" y1="269.30" x2="153.56" y2="270.30" stroke="#333" stroke-width="0.5"/>
<line x1="154.55" y1="269.30" x2="154.55" y2="270.30" stroke="#333" stroke-width="0.5"/>
<line x1="155.32" y1="269.30" x2="155.32" y2="270.30" stroke="#333" stroke-width="0.5"/>
<line x1="155.94" y1="269.30" x2="155.94" y2="270.30" stroke="#333" stroke-width="0.5"/>
<line x1="156.47" y1="269.30" x2="156.47" y2="270.30" stroke="#333" stroke-width="0.5"/>
<line x1="156.93" y1="269.30" x2="156.93" y2="270.30" stroke="#333" stroke-width="0.5"/>
<line x1="157.34" y1="269.30" x2="157.34" y2="270.30" stroke="#333" stroke-width="0.5"/>
<line x1="157.70" y1="269.30" x2="157.70" y2="271.10" stroke="#000" stroke-width="0.8"/>
<line x1="133.40" y1="219.90" x2="133.40" y2="269.30" stroke="#a0a0a0" stroke-width="1.0"/>
<line x1="109.20" y1="244.90" x2="158.70" y2="244.90" stroke="#a0a0a0" stroke-width="1.0"/>
<path d="M133.30,248.40 C133.30,245.50 142.70,245.50 142.70,248.40 C142.90,256.34 140.20,261.30 139.90,262.50 C139.90,263.40 137.30,263.40 137.30,262.50 C137.00,261.30 133.10,256.34 133.30,248.40 Z" fill="#000" opacity="0.22" filter="url(#blur1)"/>
<path d="M145.4 252.5h.5M136.2 240.2h.5M138.6 252.3h.5M135.9 256.3h.5M140.2 248.5h.5M134.1 251.5h.5M141.3 258.2h.5M132.0 248.2h.5M141.5 265.7h.5M138.4 250.5h.5M142.9 252.4h.5M141.4 265.5h.5M141.0 254.5h.5M141.4 250.7h.5M137.7 251.0h.5M137.6 251.5h.5M137.7 252.0h.5M138.9 254.5h.5M139.8 264.4h.5M130.8 263.6h.5M137.4 247.6h.5M137.7 254.7h.5M142.8 248.5h.5M139.4 254.9h.5M130.1 247.8h.5M140.9 259.2h.5M142.8 258.0h.5M140.1 254.9h.5M143.3 249.6h.5M137.9 256.9h.5M130.6 263.7h.5M134.6 253.6h.5M147.0 249.7h.5M135.9 265.6h.5M133.1 251.8h.5M140.6 257.4h.5M140.9 256.7h.5M143.8 261.5h.5M140.9 250.5h.5M135.0 244.1h.5M141.3 244.5h.5M142.0 267.7h.5M133.2 250.4h.5M136.2 260.2h.5M134.2 253.3h.5M136.0 252.7h.5M143.6 249.0h.5M138.9 256.0h.5M141.9 247.4h.5M142.9 257.2h.5M142.0 254.5h.5M130.3 250.6h.5M141.8 254.3h.5M138.4 267.3h.5M147.2 253.8h.5M146.1 243.7h.5M128.2 260.4h.5M137.3 258.3h.5M140.6 253.5h.5M141.3 255.1h.5M130.9 255.6h.5M139.3 267.6h.5M132.9 254.1h.5M136.5 253.3h.5M145.1 256.8h.5M136.3 255.1h.5M141.6 248.8h.5M137.3 265.4h.5M141.9 253.8h.5M136.2 253.2h.5M130.8 261.0h.5M139.9 255.0h.5M132.0 250.3h.5M140.6 255.9h.5M136.1 257.7h.5M142.2 250.5h.5M135.9 249.5h.5M132.8 259.9h.5M140.6 256.5h.5M132.7 248.6h.5M138.3 251.9h.5M139.1 250.4h.5M141.1 267.3h.5M144.6 265.9h.5M138.9 260.8h.5M136.7 260.8h.5M136.7 251.5h.5M135.3 259.2h.5M139.7 255.4h.5M132.8 255.1h.5M131.3 264.9h.5M137.9 255.4h.5M138.1 245.8h.5M131.7 253.9h.5M144.4 248.2h.5M135.0 253.8h.5M130.1 245.2h.5M136.5 253.8h.5M136.6 265.4h.5M137.8 256.7h.5M144.8 266.6h.5M130.6 252.0h.5M143.1 246.8h.5M133.9 247.3h.5M131.7 248.1h.5M139.3 263.4h.5M144.5 254.1h.5M128.6 253.7h.5M136.9 256.6h.5M138.0 244.7h.5M140.2 243.3h.5M135.1 256.3h.5M140.0 265.6h.5M126.7 256.5h.5M141.3 252.3h.5M141.1 248.3h.5M141.2 258.0h.5M133.6 250.5h.5M137.6 250.6h.5M142.7 255.3h.5M143.7 262.7h.5M138.8 253.0h.5M133.8 249.8h.5M134.6 256.6h.5M134.1 254.6h.5M139.3 251.4h.5M137.7 264.7h.5M144.9 249.9h.5M137.6 252.1h.5M137.2 265.4h.5M141.3 263.3h.5M145.5 251.7h.5M137.7 254.3h.5M142.6 253.5h.5M141.1 262.7h.5M143.1 257.3h.5M134.6 245.9h.5M143.0 257.4h.5M133.9 251.4h.5M136.3 245.3h.5M139.6 249.9h.5M137.1 259.5h.5M138.1 258.0h.5M140.2 254.2h.5M138.8 267.8h.5M137.7 266.1h.5M134.0 259.4h.5M139.3 250.2h.5M125.2 265.8h.5M132.8 249.0h.5M139.1 254.4h.5M139.7 252.7h.5M131.0 260.4h.5M134.0 255.7h.5M140.8 262.8h.5M137.5 252.4h.5M137.4 244.4h.5M134.8 248.8h.5M132.8 255.2h.5M137.0 265.8h.5M144.4 244.2h.5M139.1 248.8h.5M140.8 255.2h.5M142.2 256.3h.5M141.6 252.5h.5M125.9 247.9h.5M134.3 251.5h.5M133.5 266.1h.5M137.8 263.6h.5M136.9 266.3h.5M132.5 258.4h.5M131.9 257.3h.5M144.8 245.5h.5M134.2 255.8h.5M137.7 246.9h.5M143.1 254.4h.5M143.6 256.4h.5M132.8 251.5h.5M144.0 246.8h.5M136.2 258.5h.5M142.5 260.1h.5M137.8 254.1h.5M138.6 252.8h.5M133.7 252.3h.5M143.7 246.9h.5M126.3 258.0h.5M139.9 259.4h.5M145.3 250.2h.5M139.3 257.7h.5M143.4 261.6h.5M134.3 246.9h.5M137.2 245.6h.5M142.9 252.0h.5M136.8 249.4h.5M144.5 256.1h.5M136.5 258.5h.5M138.2 258.4h.5M143.7 252.6h.5M140.6 257.5h.5M143.0 258.4h.5M138.7 250.7h.5M139.7 248.6h.5M141.1 254.4h.5M140.7 251.3h.5M134.5 249.3h.5M142.9 252.9h.5M137.4 244.7h.5M138.3 236.0h.5M143.9 252.7h.5M138.7 246.6h.5M133.1 258.5h.5M137.5 257.2h.5M143.5 258.9h.5M129.0 248.9h.5M132.9 249.3h.5M128.1 243.4h.5M134.8 250.9h.5M140.6 252.3h.5M144.1 244.5h.5M131.6 255.8h.5M137.2 248.9h.5M141.6 262.1h.5M143.7 251.9h.5M138.6 255.7h.5M138.8 261.5h.5M136.1 256.7h.5M127.4 259.6h.5M145.0 253.9h.5M142.6 245.4h.5M136.9 246.0h.5M139.8 257.9h.5M131.7 249.6h.5M138.2 254.9h.5M140.0 256.2h.5M137.4 247.1h.5M135.2 266.1h.5M139.6 252.1h.5M131.8 253.7h.5M138.7 250.6h.5M142.1 250.9h.5M137.7 260.2h.5M139.5 262.3h.5M137.4 251.8h.5M140.4 255.6h.5M143.2 257.0h.5M138.5 257.3h.5M141.1 248.2h.5M137.9 252.3h.5M143.3 251.5h.5M142.7 247.4h.5M138.3 261.9h.5M137.3 262.5h.5M128.4 254.2h.5M139.2 253.3h.5M131.0 258.9h.5M126.8 261.0h.5M139.7 261.3h.5M137.3 248.2h.5M136.0 251.6h.5M140.9 252.4h.5M140.2 257.6h.5M144.1 243.7h.5M136.6 259.1h.5M141.3 251.1h.5M137.3 253.6h.5M139.2 251.1h.5M135.4 248.3h.5M136.8 264.4h.5M133.9 261.3h.5M146.2 255.7h.5M147.9 253.4h.5M145.2 253.9h.5M132.6 256.8h.5M146.1 251.1h.5M140.6 249.0h.5M134.3 257.7h.5M137.9 258.5h.5M143.7 248.1h.5M135.3 254.7h.5M147.8 252.6h.5M136.4 257.6h.5M147.0 251.3h.5M137.4 254.8h.5M132.6 245.7h.5M139.5 258.5h.5M127.7 251.2h.5M142.6 251.7h.5M140.8 255.9h.5M141.5 257.9h.5M140.0 263.9h.5M136.2 255.6h.5M143.4 251.6h.5M137.2 250.6h.5M141.9 255.3h.5M137.7 256.7h.5M138.8 261.5h.5M134.7 256.0h.5M140.8 253.4h.5M138.0 258.9h.5M141.2 254.0h.5M139.0 251.7h.5M141.2 253.9h.5M131.2 252.9h.5M141.4 256.8h.5M134.6 260.1h.5M141.3 259.1h.5M144.8 252.7h.5M141.2 253.1h.5M142.7 263.1h.5M140.8 260.0h.5M134.8 259.1h.5M143.3 246.3h.5M125.4 264.0h.5M134.5 258.3h.5M132.2 254.8h.5M135.5 258.6h.5M137.0 265.2h.5M134.9 263.6h.5M138.6 258.0h.5M130.6 245.0h.5M142.7 247.7h.5M137.0 252.4h.5M134.1 255.6h.5M131.5 247.9h.5M142.2 249.9h.5M141.5 259.0h.5M144.5 257.4h.5M129.4 250.7h.5M136.5 263.1h.5M140.0 251.5h.5M140.3 252.2h.5M140.7 255.1h.5M142.9 256.5h.5M142.5 253.9h.5M141.4 253.2h.5M141.1 255.7h.5M138.0 251.8h.5M137.2 257.5h.5M127.0 263.2h.5M126.6 253.0h.5M136.9 259.5h.5M139.5 253.8h.5M138.9 261.0h.5M147.7 256.8h.5M128.2 251.8h.5M134.7 252.1h.5M140.8 256.4h.5M131.9 261.0h.5M131.9 252.6h.5M143.8 247.2h.5M136.9 266.4h.5M137.3 248.6h.5M135.7 260.2h.5M130.7 250.7h.5M131.2 248.0h.5M143.6 253.6h.5M136.4 257.2h.5M135.0 247.7h.5M143.1 260.5h.5M134.3 259.2h.5M144.3 257.6h.5M140.5 247.5h.5M137.9 244.3h.5M142.9 253.1h.5M143.8 250.0h.5M142.0 245.7h.5M136.5 258.1h.5M140.0 253.7h.5M130.2 263.8h.5M141.2 262.5h.5M143.0 252.0h.5M134.3 257.0h.5M135.7 267.1h.5M139.3 248.5h.5M135.5 246.6h.5M127.0 239.8h.5M134.9 248.1h.5M139.2 249.6h.5M139.5 267.3h.5M132.6 247.6h.5M134.1 245.1h.5M137.1 251.9h.5M141.4 248.4h.5M137.2 252.3h.5M130.5 245.7h.5M140.3 258.1h.5M134.5 265.7h.5M142.3 257.5h.5M141.0 256.6h.5M141.4 260.5h.5M138.9 243.2h.5M137.7 249.6h.5M132.5 258.4h.5M129.4 260.2h.5M135.3 247.5h.5M144.4 252.5h.5M142.8 267.4h.5M134.1 252.4h.5M142.2 257.0h.5M136.6 266.2h.5M140.6 259.9h.5M148.1 257.6h.5M149.1 256.3h.5M137.7 254.9h.5M142.0 258.9h.5M140.0 246.1h.5M132.9 252.5h.5M141.5 264.9h.5M126.2 253.2h.5M136.2 253.4h.5M125.5 258.5h.5M134.9 244.9h.5M139.0 250.6h.5M139.8 257.3h.5M131.7 255.0h.5M132.3 267.2h.5M125.5 251.0h.5M141.7 255.3h.5M114.0 259.6h.5M152.8 252.2h.5M151.5 254.9h.5M129.5 232.1h.5M139.8 257.9h.5M139.5 253.3h.5M146.2 266.0h.5M135.0 254.6h.5M142.0 258.8h.5M138.5 250.1h.5M142.6 257.2h.5M141.2 266.8h.5M118.0 254.0h.5M156.1 266.2h.5M139.6 253.7h.5M133.0 262.1h.5M138.1 251.8h.5M131.4 258.4h.5M144.1 254.5h.5M147.3 257.5h.5M129.9 244.3h.5M115.3 252.9h.5M138.8 256.5h.5M144.8 257.0h.5M131.2 246.2h.5M127.2 263.9h.5M144.8 252.9h.5M139.6 257.1h.5M132.0 247.1h.5M117.1 257.3h.5M117.3 248.3h.5M142.4 250.9h.5M129.0 265.0h.5M129.8 263.3h.5M141.8 249.6h.5M130.8 257.1h.5M139.8 257.0h.5M121.3 252.0h.5M137.0 252.3h.5M129.1 237.1h.5M134.5 255.3h.5M140.2 261.8h.5M113.1 251.5h.5M135.1 254.0h.5M119.8 230.3h.5M135.7 258.8h.5M139.0 258.5h.5" stroke="#222" stroke-width="0.5" stroke-opacity="0.5" fill="none"/>
<path d="M135.40,249.60 C135.40,246.70 141.80,246.70 141.80,249.60 C142.00,254.72 140.20,257.80 139.90,259.00 C139.90,259.90 137.30,259.90 137.30,259.00 C137.00,257.80 135.20,254.72 135.40,249.60 Z" fill="#050505" filter="url(#blur04)"/>
<rect x="109.20" y="219.90" width="49.50" height="49.40" fill="none" stroke="#000" stroke-width="1.2"/>
<text x="111.40" y="225.30" font-size="4.9" fill="#222">0.012</text>
<text x="156.10" y="225.30" font-size="4.9" text-anchor="end" fill="#222">0.17</text>
<text x="112.60" y="266.10" font-size="4.9" fill="#222">1.25</text>
<text x="156.10" y="266.10" font-size="4.9" text-anchor="end" fill="#222">98.6</text>
<text x="103.20" y="271.10" font-size="5.6" text-anchor="end" fill="#222">10<tspan font-size="3.7" dy="-2.2">0</tspan></text>
<text x="103.20" y="264.40" font-size="5.6" text-anchor="end" fill="#222">10<tspan font-size="3.7" dy="-2.2">1</tspan></text>
<text x="103.20" y="257.70" font-size="5.6" text-anchor="end" fill="#222">10<tspan font-size="3.7" dy="-2.2">2</tspan></text>
<text x="103.20" y="251.00" font-size="5.6" text-anchor="end" fill="#222">10<tspan font-size="3.7" dy="-2.2">3</tspan></text>
<text x="103.20" y="244.30" font-size="5.6" text-anchor="end" fill="#222">10<tspan font-size="3.7" dy="-2.2">4</tspan></text>
<text x="103.20" y="237.60" font-size="5.6" text-anchor="end" fill="#222">10<tspan font-size="3.7" dy="-2.2">5</tspan></text>
<text x="103.20" y="230.90" font-size="5.6" text-anchor="end" fill="#222">10<tspan font-size="3.7" dy="-2.2">6</tspan></text>
<text x="103.20" y="224.20" font-size="5.6" text-anchor="end" fill="#222">10<tspan font-size="3.7" dy="-2.2">7</tspan></text>
<text x="108.00" y="280.70" font-size="5.8" text-anchor="middle">10<tspan font-size="3.60" dy="-2.20">0</tspan></text>
<text x="121.75" y="280.70" font-size="5.8" text-anchor="middle">10<tspan font-size="3.60" dy="-2.20">2</tspan></text>
<text x="135.50" y="280.70" font-size="5.8" text-anchor="middle">10<tspan font-size="3.60" dy="-2.20">4</tspan></text>
<text x="149.25" y="280.70" font-size="5.8" text-anchor="middle">10<tspan font-size="3.60" dy="-2.20">6</tspan></text>
<line x1="186.00" y1="269.30" x2="188.20" y2="269.30" stroke="#000" stroke-width="0.8"/>
<line x1="188.20" y1="267.26" x2="189.20" y2="267.26" stroke="#333" stroke-width="0.5"/>
<line x1="188.20" y1="266.07" x2="189.20" y2="266.07" stroke="#333" stroke-width="0.5"/>
<line x1="188.20" y1="265.22" x2="189.20" y2="265.22" stroke="#333" stroke-width="0.5"/>
<line x1="188.20" y1="264.57" x2="189.60" y2="264.57" stroke="#333" stroke-width="0.5"/>
<line x1="188.20" y1="264.03" x2="189.20" y2="264.03" stroke="#333" stroke-width="0.5"/>
<line x1="188.20" y1="263.58" x2="189.20" y2="263.58" stroke="#333" stroke-width="0.5"/>
<line x1="188.20" y1="263.18" x2="189.20" y2="263.18" stroke="#333" stroke-width="0.5"/>
<line x1="188.20" y1="262.84" x2="189.20" y2="262.84" stroke="#333" stroke-width="0.5"/>
<line x1="186.00" y1="262.53" x2="188.20" y2="262.53" stroke="#000" stroke-width="0.8"/>
<line x1="188.20" y1="260.49" x2="189.20" y2="260.49" stroke="#333" stroke-width="0.5"/>
<line x1="188.20" y1="259.30" x2="189.20" y2="259.30" stroke="#333" stroke-width="0.5"/>
<line x1="188.20" y1="258.45" x2="189.20" y2="258.45" stroke="#333" stroke-width="0.5"/>
<line x1="188.20" y1="257.80" x2="189.60" y2="257.80" stroke="#333" stroke-width="0.5"/>
<line x1="188.20" y1="257.26" x2="189.20" y2="257.26" stroke="#333" stroke-width="0.5"/>
<line x1="188.20" y1="256.81" x2="189.20" y2="256.81" stroke="#333" stroke-width="0.5"/>
<line x1="188.20" y1="256.41" x2="189.20" y2="256.41" stroke="#333" stroke-width="0.5"/>
<line x1="188.20" y1="256.07" x2="189.20" y2="256.07" stroke="#333" stroke-width="0.5"/>
<line x1="186.00" y1="255.76" x2="188.20" y2="255.76" stroke="#000" stroke-width="0.8"/>
<line x1="188.20" y1="253.72" x2="189.20" y2="253.72" stroke="#333" stroke-width="0.5"/>
<line x1="188.20" y1="252.53" x2="189.20" y2="252.53" stroke="#333" stroke-width="0.5"/>
<line x1="188.20" y1="251.68" x2="189.20" y2="251.68" stroke="#333" stroke-width="0.5"/>
<line x1="188.20" y1="251.02" x2="189.60" y2="251.02" stroke="#333" stroke-width="0.5"/>
<line x1="188.20" y1="250.49" x2="189.20" y2="250.49" stroke="#333" stroke-width="0.5"/>
<line x1="188.20" y1="250.03" x2="189.20" y2="250.03" stroke="#333" stroke-width="0.5"/>
<line x1="188.20" y1="249.64" x2="189.20" y2="249.64" stroke="#333" stroke-width="0.5"/>
<line x1="188.20" y1="249.30" x2="189.20" y2="249.30" stroke="#333" stroke-width="0.5"/>
<line x1="186.00" y1="248.99" x2="188.20" y2="248.99" stroke="#000" stroke-width="0.8"/>
<line x1="188.20" y1="246.95" x2="189.20" y2="246.95" stroke="#333" stroke-width="0.5"/>
<line x1="188.20" y1="245.75" x2="189.20" y2="245.75" stroke="#333" stroke-width="0.5"/>
<line x1="188.20" y1="244.91" x2="189.20" y2="244.91" stroke="#333" stroke-width="0.5"/>
<line x1="188.20" y1="244.25" x2="189.60" y2="244.25" stroke="#333" stroke-width="0.5"/>
<line x1="188.20" y1="243.72" x2="189.20" y2="243.72" stroke="#333" stroke-width="0.5"/>
<line x1="188.20" y1="243.26" x2="189.20" y2="243.26" stroke="#333" stroke-width="0.5"/>
<line x1="188.20" y1="242.87" x2="189.20" y2="242.87" stroke="#333" stroke-width="0.5"/>
<line x1="188.20" y1="242.52" x2="189.20" y2="242.52" stroke="#333" stroke-width="0.5"/>
<line x1="186.00" y1="242.21" x2="188.20" y2="242.21" stroke="#000" stroke-width="0.8"/>
<line x1="188.20" y1="240.18" x2="189.20" y2="240.18" stroke="#333" stroke-width="0.5"/>
<line x1="188.20" y1="238.98" x2="189.20" y2="238.98" stroke="#333" stroke-width="0.5"/>
<line x1="188.20" y1="238.14" x2="189.20" y2="238.14" stroke="#333" stroke-width="0.5"/>
<line x1="188.20" y1="237.48" x2="189.60" y2="237.48" stroke="#333" stroke-width="0.5"/>
<line x1="188.20" y1="236.95" x2="189.20" y2="236.95" stroke="#333" stroke-width="0.5"/>
<line x1="188.20" y1="236.49" x2="189.20" y2="236.49" stroke="#333" stroke-width="0.5"/>
<line x1="188.20" y1="236.10" x2="189.20" y2="236.10" stroke="#333" stroke-width="0.5"/>
<line x1="188.20" y1="235.75" x2="189.20" y2="235.75" stroke="#333" stroke-width="0.5"/>
<line x1="186.00" y1="235.44" x2="188.20" y2="235.44" stroke="#000" stroke-width="0.8"/>
<line x1="188.20" y1="233.40" x2="189.20" y2="233.40" stroke="#333" stroke-width="0.5"/>
<line x1="188.20" y1="232.21" x2="189.20" y2="232.21" stroke="#333" stroke-width="0.5"/>
<line x1="188.20" y1="231.37" x2="189.20" y2="231.37" stroke="#333" stroke-width="0.5"/>
<line x1="188.20" y1="230.71" x2="189.60" y2="230.71" stroke="#333" stroke-width="0.5"/>
<line x1="188.20" y1="230.17" x2="189.20" y2="230.17" stroke="#333" stroke-width="0.5"/>
<line x1="188.20" y1="229.72" x2="189.20" y2="229.72" stroke="#333" stroke-width="0.5"/>
<line x1="188.20" y1="229.33" x2="189.20" y2="229.33" stroke="#333" stroke-width="0.5"/>
<line x1="188.20" y1="228.98" x2="189.20" y2="228.98" stroke="#333" stroke-width="0.5"/>
<line x1="186.00" y1="228.67" x2="188.20" y2="228.67" stroke="#000" stroke-width="0.8"/>
<line x1="188.20" y1="226.63" x2="189.20" y2="226.63" stroke="#333" stroke-width="0.5"/>
<line x1="188.20" y1="225.44" x2="189.20" y2="225.44" stroke="#333" stroke-width="0.5"/>
<line x1="188.20" y1="224.59" x2="189.20" y2="224.59" stroke="#333" stroke-width="0.5"/>
<line x1="188.20" y1="223.94" x2="189.60" y2="223.94" stroke="#333" stroke-width="0.5"/>
<line x1="188.20" y1="223.40" x2="189.20" y2="223.40" stroke="#333" stroke-width="0.5"/>
<line x1="188.20" y1="222.95" x2="189.20" y2="222.95" stroke="#333" stroke-width="0.5"/>
<line x1="188.20" y1="222.56" x2="189.20" y2="222.56" stroke="#333" stroke-width="0.5"/>
<line x1="188.20" y1="222.21" x2="189.20" y2="222.21" stroke="#333" stroke-width="0.5"/>
<line x1="186.00" y1="221.90" x2="188.20" y2="221.90" stroke="#000" stroke-width="0.8"/>
<line x1="189.20" y1="269.30" x2="189.20" y2="271.10" stroke="#000" stroke-width="0.8"/>
<line x1="191.59" y1="269.30" x2="191.59" y2="270.30" stroke="#333" stroke-width="0.5"/>
<line x1="192.99" y1="269.30" x2="192.99" y2="270.30" stroke="#333" stroke-width="0.5"/>
<line x1="193.98" y1="269.30" x2="193.98" y2="270.30" stroke="#333" stroke-width="0.5"/>
<line x1="194.75" y1="269.30" x2="194.75" y2="270.30" stroke="#333" stroke-width="0.5"/>
<line x1="195.37" y1="269.30" x2="195.37" y2="270.30" stroke="#333" stroke-width="0.5"/>
<line x1="195.90" y1="269.30" x2="195.90" y2="270.30" stroke="#333" stroke-width="0.5"/>
<line x1="196.36" y1="269.30" x2="196.36" y2="270.30" stroke="#333" stroke-width="0.5"/>
<line x1="196.77" y1="269.30" x2="196.77" y2="270.30" stroke="#333" stroke-width="0.5"/>
<line x1="197.13" y1="269.30" x2="197.13" y2="271.10" stroke="#000" stroke-width="0.8"/>
<line x1="199.52" y1="269.30" x2="199.52" y2="270.30" stroke="#333" stroke-width="0.5"/>
<line x1="200.92" y1="269.30" x2="200.92" y2="270.30" stroke="#333" stroke-width="0.5"/>
<line x1="201.91" y1="269.30" x2="201.91" y2="270.30" stroke="#333" stroke-width="0.5"/>
<line x1="202.68" y1="269.30" x2="202.68" y2="270.30" stroke="#333" stroke-width="0.5"/>
<line x1="203.31" y1="269.30" x2="203.31" y2="270.30" stroke="#333" stroke-width="0.5"/>
<line x1="203.84" y1="269.30" x2="203.84" y2="270.30" stroke="#333" stroke-width="0.5"/>
<line x1="204.30" y1="269.30" x2="204.30" y2="270.30" stroke="#333" stroke-width="0.5"/>
<line x1="204.70" y1="269.30" x2="204.70" y2="270.30" stroke="#333" stroke-width="0.5"/>
<line x1="205.07" y1="269.30" x2="205.07" y2="271.10" stroke="#000" stroke-width="0.8"/>
<line x1="207.45" y1="269.30" x2="207.45" y2="270.30" stroke="#333" stroke-width="0.5"/>
<line x1="208.85" y1="269.30" x2="208.85" y2="270.30" stroke="#333" stroke-width="0.5"/>
<line x1="209.84" y1="269.30" x2="209.84" y2="270.30" stroke="#333" stroke-width="0.5"/>
<line x1="210.61" y1="269.30" x2="210.61" y2="270.30" stroke="#333" stroke-width="0.5"/>
<line x1="211.24" y1="269.30" x2="211.24" y2="270.30" stroke="#333" stroke-width="0.5"/>
<line x1="211.77" y1="269.30" x2="211.77" y2="270.30" stroke="#333" stroke-width="0.5"/>
<line x1="212.23" y1="269.30" x2="212.23" y2="270.30" stroke="#333" stroke-width="0.5"/>
<line x1="212.64" y1="269.30" x2="212.64" y2="270.30" stroke="#333" stroke-width="0.5"/>
<line x1="213.00" y1="269.30" x2="213.00" y2="271.10" stroke="#000" stroke-width="0.8"/>
<line x1="215.39" y1="269.30" x2="215.39" y2="270.30" stroke="#333" stroke-width="0.5"/>
<line x1="216.79" y1="269.30" x2="216.79" y2="270.30" stroke="#333" stroke-width="0.5"/>
<line x1="217.78" y1="269.30" x2="217.78" y2="270.30" stroke="#333" stroke-width="0.5"/>
<line x1="218.55" y1="269.30" x2="218.55" y2="270.30" stroke="#333" stroke-width="0.5"/>
<line x1="219.17" y1="269.30" x2="219.17" y2="270.30" stroke="#333" stroke-width="0.5"/>
<line x1="219.70" y1="269.30" x2="219.70" y2="270.30" stroke="#333" stroke-width="0.5"/>
<line x1="220.16" y1="269.30" x2="220.16" y2="270.30" stroke="#333" stroke-width="0.5"/>
<line x1="220.57" y1="269.30" x2="220.57" y2="270.30" stroke="#333" stroke-width="0.5"/>
<line x1="220.93" y1="269.30" x2="220.93" y2="271.10" stroke="#000" stroke-width="0.8"/>
<line x1="223.32" y1="269.30" x2="223.32" y2="270.30" stroke="#333" stroke-width="0.5"/>
<line x1="224.72" y1="269.30" x2="224.72" y2="270.30" stroke="#333" stroke-width="0.5"/>
<line x1="225.71" y1="269.30" x2="225.71" y2="270.30" stroke="#333" stroke-width="0.5"/>
<line x1="226.48" y1="269.30" x2="226.48" y2="270.30" stroke="#333" stroke-width="0.5"/>
<line x1="227.11" y1="269.30" x2="227.11" y2="270.30" stroke="#333" stroke-width="0.5"/>
<line x1="227.64" y1="269.30" x2="227.64" y2="270.30" stroke="#333" stroke-width="0.5"/>
<line x1="228.10" y1="269.30" x2="228.10" y2="270.30" stroke="#333" stroke-width="0.5"/>
<line x1="228.50" y1="269.30" x2="228.50" y2="270.30" stroke="#333" stroke-width="0.5"/>
<line x1="228.87" y1="269.30" x2="228.87" y2="271.10" stroke="#000" stroke-width="0.8"/>
<line x1="231.25" y1="269.30" x2="231.25" y2="270.30" stroke="#333" stroke-width="0.5"/>
<line x1="232.65" y1="269.30" x2="232.65" y2="270.30" stroke="#333" stroke-width="0.5"/>
<line x1="233.64" y1="269.30" x2="233.64" y2="270.30" stroke="#333" stroke-width="0.5"/>
<line x1="234.41" y1="269.30" x2="234.41" y2="270.30" stroke="#333" stroke-width="0.5"/>
<line x1="235.04" y1="269.30" x2="235.04" y2="270.30" stroke="#333" stroke-width="0.5"/>
<line x1="235.57" y1="269.30" x2="235.57" y2="270.30" stroke="#333" stroke-width="0.5"/>
<line x1="236.03" y1="269.30" x2="236.03" y2="270.30" stroke="#333" stroke-width="0.5"/>
<line x1="236.44" y1="269.30" x2="236.44" y2="270.30" stroke="#333" stroke-width="0.5"/>
<line x1="236.80" y1="269.30" x2="236.80" y2="271.10" stroke="#000" stroke-width="0.8"/>
<line x1="212.40" y1="219.90" x2="212.40" y2="269.30" stroke="#a0a0a0" stroke-width="1.0"/>
<line x1="188.20" y1="244.90" x2="237.80" y2="244.90" stroke="#a0a0a0" stroke-width="1.0"/>
<path d="M213.30,248.50 C213.30,245.60 222.10,245.60 222.10,248.50 C222.30,256.86 219.60,262.10 219.30,263.30 C219.30,264.20 216.70,264.20 216.70,263.30 C216.40,262.10 213.10,256.86 213.30,248.50 Z" fill="#000" opacity="0.22" filter="url(#blur1)"/>
<path d="M220.0 250.7h.5M219.2 245.1h.5M221.0 246.0h.5M218.3 253.8h.5M215.6 258.2h.5M222.2 247.8h.5M223.0 253.8h.5M221.9 249.4h.5M213.6 263.9h.5M220.1 255.5h.5M220.6 258.6h.5M213.0 242.3h.5M210.6 244.6h.5M208.1 250.9h.5M215.9 254.2h.5M219.1 252.3h.5M217.1 255.0h.5M213.7 250.5h.5M218.4 250.7h.5M215.7 253.9h.5M223.0 256.9h.5M216.8 251.2h.5M203.9 258.6h.5M219.1 261.2h.5M221.8 254.2h.5M218.9 250.5h.5M218.5 253.7h.5M221.6 257.3h.5M217.9 259.8h.5M220.3 256.2h.5M211.3 262.5h.5M213.0 248.9h.5M217.8 258.5h.5M223.3 245.2h.5M223.5 267.3h.5M216.2 253.3h.5M215.7 251.1h.5M212.2 245.2h.5M217.4 256.5h.5M224.7 249.0h.5M208.7 255.6h.5M216.2 257.2h.5M216.5 247.5h.5M215.1 260.7h.5M219.3 249.1h.5M221.4 246.5h.5M215.8 256.0h.5M212.0 247.9h.5M218.4 254.0h.5M217.2 251.3h.5M213.2 250.2h.5M229.0 251.0h.5M223.6 251.2h.5M223.1 264.1h.5M219.9 250.9h.5M212.0 262.0h.5M212.4 247.5h.5M223.7 265.9h.5M218.4 253.1h.5M215.3 257.2h.5M216.1 246.1h.5M214.8 256.4h.5M211.0 249.1h.5M218.7 267.7h.5M218.9 254.7h.5M225.1 248.6h.5M214.9 261.1h.5M222.1 258.0h.5M206.3 260.2h.5M220.7 254.8h.5M220.6 265.5h.5M218.5 249.3h.5M209.9 254.9h.5M215.0 251.4h.5M213.1 256.6h.5M220.9 257.9h.5M213.2 261.4h.5M219.4 240.8h.5M220.4 243.3h.5M213.1 262.7h.5M220.6 250.9h.5M214.3 257.2h.5M210.1 257.7h.5M217.0 260.2h.5M217.7 248.5h.5M219.0 252.5h.5M211.8 248.1h.5M213.7 254.8h.5M221.0 254.3h.5M212.8 252.4h.5M220.3 262.9h.5M214.0 256.7h.5M216.5 242.6h.5M212.4 251.3h.5M215.9 252.3h.5M215.5 257.3h.5M213.9 245.7h.5M220.1 251.1h.5M221.1 249.9h.5M222.9 247.7h.5M212.8 259.9h.5M224.6 250.1h.5M223.8 266.4h.5M221.1 253.3h.5M208.3 245.9h.5M214.6 258.4h.5M217.4 250.8h.5M218.6 245.4h.5M219.6 249.2h.5M222.8 255.6h.5M214.8 251.5h.5M210.9 255.7h.5M213.7 253.8h.5M222.3 257.1h.5M220.7 263.2h.5M217.1 247.9h.5M219.1 248.1h.5M204.5 259.1h.5M219.5 248.6h.5M222.8 254.0h.5M216.1 249.2h.5M222.4 252.0h.5M216.0 251.8h.5M214.7 245.2h.5M214.9 249.6h.5M220.7 247.2h.5M220.7 251.6h.5M214.6 253.5h.5M218.4 255.2h.5M220.3 256.1h.5M211.2 250.6h.5M224.0 253.8h.5M207.5 255.8h.5M224.3 263.6h.5M218.5 256.2h.5M220.6 253.6h.5M216.1 267.2h.5M216.5 262.4h.5M211.1 250.1h.5M213.0 257.7h.5M215.4 250.9h.5M214.1 255.6h.5M221.7 251.2h.5M220.4 254.3h.5M215.5 257.2h.5M223.0 240.2h.5M220.7 268.3h.5M217.5 260.4h.5M221.7 258.5h.5M219.2 264.7h.5M222.2 255.9h.5M220.6 249.5h.5M217.6 255.5h.5M218.1 250.8h.5M222.8 257.2h.5M220.9 247.3h.5M216.0 250.6h.5M217.5 267.6h.5M227.2 256.0h.5M219.6 253.4h.5M215.8 261.4h.5M216.4 248.8h.5M220.6 253.6h.5M219.5 257.0h.5M221.8 259.4h.5M221.6 254.0h.5M217.9 257.7h.5M219.3 258.6h.5M217.6 258.5h.5M218.9 265.2h.5M215.0 247.8h.5M222.6 260.6h.5M219.1 250.4h.5M222.8 258.0h.5M215.7 251.9h.5M215.4 265.5h.5M217.5 248.9h.5M215.6 263.2h.5M220.5 250.6h.5M213.0 251.3h.5M219.3 252.2h.5M215.7 254.6h.5M215.7 248.4h.5M211.8 249.3h.5M215.0 256.4h.5M218.6 249.9h.5M222.2 247.8h.5M221.7 248.0h.5M216.8 260.9h.5M221.3 249.8h.5M218.6 248.3h.5M217.4 257.8h.5M215.8 266.1h.5M220.0 259.8h.5M215.7 253.7h.5M219.4 261.3h.5M220.8 252.2h.5M214.5 248.0h.5M225.8 263.3h.5M223.4 253.6h.5M225.4 258.5h.5M219.1 251.6h.5M211.8 259.8h.5M218.6 254.4h.5M212.1 243.5h.5M213.2 261.4h.5M225.0 250.9h.5M216.8 245.8h.5M213.7 257.0h.5M214.8 255.2h.5M222.6 253.4h.5M213.0 267.5h.5M220.4 256.1h.5M219.4 253.3h.5M220.7 246.8h.5M218.2 248.0h.5M218.0 259.5h.5M217.5 268.2h.5M218.2 250.7h.5M219.4 256.3h.5M219.5 254.9h.5M217.9 261.9h.5M210.9 260.4h.5M215.7 253.9h.5M214.3 264.4h.5M208.9 247.7h.5M216.4 259.8h.5M212.3 258.6h.5M222.1 249.5h.5M206.6 260.4h.5M217.5 253.9h.5M222.1 260.4h.5M215.7 255.6h.5M214.3 258.0h.5M218.0 258.4h.5M215.4 256.2h.5M219.5 258.9h.5M218.6 243.3h.5M220.1 247.9h.5M221.9 254.3h.5M218.3 250.9h.5M224.5 250.2h.5M223.2 267.3h.5M229.5 265.3h.5M217.9 249.4h.5M215.0 246.4h.5M223.2 257.4h.5M213.4 260.7h.5M218.8 262.9h.5M219.8 248.8h.5M219.1 262.1h.5M218.9 255.7h.5M212.9 251.3h.5M218.7 261.2h.5M215.9 252.7h.5M226.1 249.5h.5M217.5 249.4h.5M218.5 261.2h.5M221.4 258.0h.5M222.9 254.7h.5M220.8 249.2h.5M222.0 251.2h.5M223.0 248.9h.5M219.5 257.0h.5M219.4 253.8h.5M223.9 257.8h.5M213.1 251.7h.5M222.8 249.7h.5M224.9 252.6h.5M210.0 261.6h.5M214.2 234.1h.5M218.4 247.4h.5M219.0 259.9h.5M221.1 253.2h.5M211.0 264.6h.5M218.6 254.8h.5M211.2 250.5h.5M218.8 253.2h.5M218.8 248.9h.5M210.4 256.9h.5M217.5 262.9h.5M223.0 253.5h.5M216.6 264.5h.5M221.5 249.5h.5M224.9 256.6h.5M217.6 247.2h.5M216.6 258.9h.5M219.6 265.6h.5M221.8 249.1h.5M217.3 252.5h.5M214.9 250.4h.5M214.0 249.2h.5M217.8 257.1h.5M222.6 249.7h.5M215.8 237.1h.5M217.4 255.8h.5M215.7 254.6h.5M214.5 250.1h.5M211.6 248.3h.5M209.6 263.5h.5M221.1 254.8h.5M217.6 266.1h.5M220.1 250.6h.5M218.5 257.1h.5M219.3 256.9h.5M210.6 250.1h.5M209.1 256.9h.5M216.4 247.4h.5M226.1 264.6h.5M216.1 261.0h.5M215.5 262.0h.5M221.2 251.8h.5M222.0 248.2h.5M220.0 261.1h.5M219.4 263.9h.5M215.6 242.2h.5M224.1 248.9h.5M218.3 246.6h.5M221.6 249.2h.5M219.2 255.4h.5M221.5 263.5h.5M219.6 257.1h.5M214.8 259.6h.5M209.4 261.9h.5M218.9 254.8h.5M222.6 244.5h.5M214.1 259.3h.5M217.0 259.5h.5M217.4 248.3h.5M220.0 256.3h.5M220.3 258.8h.5M225.6 249.3h.5M215.7 266.1h.5M214.5 255.6h.5M222.4 257.8h.5M220.1 254.3h.5M210.1 260.4h.5M221.5 258.1h.5M216.5 256.4h.5M221.0 252.6h.5M216.1 248.6h.5M220.0 247.8h.5M216.2 265.2h.5M209.0 250.2h.5M221.6 253.1h.5M222.6 248.0h.5M214.1 263.5h.5M213.8 254.9h.5M217.1 265.3h.5M213.3 255.3h.5M221.5 264.8h.5M219.0 261.2h.5M220.3 261.5h.5M225.1 257.5h.5M218.8 261.2h.5M223.5 247.3h.5M211.0 260.2h.5M217.9 255.5h.5M225.8 253.9h.5M218.3 264.9h.5M214.9 256.3h.5M217.7 256.3h.5M219.3 248.2h.5M216.4 251.3h.5M212.2 257.8h.5M215.3 248.0h.5M210.9 251.6h.5M212.8 257.3h.5M221.6 251.6h.5M214.8 251.9h.5M220.6 250.3h.5M220.2 250.8h.5M207.1 267.2h.5M221.2 253.1h.5M218.8 255.8h.5M224.2 252.6h.5M219.3 253.1h.5M215.6 258.3h.5M220.1 251.7h.5M226.9 239.0h.5M223.6 248.3h.5M214.9 259.8h.5M221.8 265.7h.5M214.0 257.8h.5M223.3 255.7h.5M218.4 262.1h.5M218.8 248.8h.5M222.7 264.3h.5M221.0 258.9h.5M223.0 263.9h.5M223.3 259.2h.5M210.3 261.6h.5M221.4 263.1h.5M224.4 247.9h.5M205.5 263.8h.5M221.4 256.1h.5M220.1 264.6h.5M206.9 260.2h.5M215.5 247.8h.5M216.0 245.1h.5M222.8 250.0h.5M218.3 268.4h.5M222.5 260.8h.5M222.7 254.7h.5M212.9 254.2h.5M216.5 255.0h.5M218.2 258.9h.5M222.0 251.6h.5M221.8 232.8h.5M230.1 259.6h.5M210.1 237.0h.5M211.9 264.3h.5M218.5 248.8h.5M216.5 254.8h.5M214.1 264.4h.5M225.1 256.1h.5M230.0 252.2h.5M205.1 253.7h.5M208.6 260.8h.5M217.2 253.4h.5M215.9 256.7h.5M215.1 258.2h.5M211.6 250.5h.5M217.3 234.3h.5M217.9 252.7h.5M206.9 254.4h.5M213.4 243.8h.5M212.9 248.9h.5M210.6 253.3h.5M216.5 265.4h.5M222.6 254.1h.5M193.7 254.2h.5M215.8 231.3h.5M205.6 260.3h.5M224.3 255.0h.5M212.1 256.2h.5M219.0 253.2h.5M211.9 261.8h.5M208.9 246.1h.5M203.1 251.2h.5M219.5 260.3h.5M231.3 246.4h.5M229.8 260.0h.5M224.1 256.6h.5M220.4 265.6h.5M217.6 252.1h.5M224.8 253.1h.5M214.3 250.8h.5M208.0 260.2h.5M216.4 260.1h.5M198.4 257.5h.5M222.3 251.2h.5M221.1 258.8h.5M200.2 255.4h.5M222.2 259.1h.5M225.3 260.8h.5M204.1 263.2h.5M211.5 253.0h.5M206.4 253.2h.5M219.9 267.7h.5M225.3 262.1h.5M214.6 251.1h.5M229.8 254.5h.5M218.0 249.0h.5M214.5 254.9h.5M219.4 255.6h.5M225.2 247.2h.5M217.8 248.6h.5M206.7 247.0h.5M218.4 261.8h.5" stroke="#222" stroke-width="0.5" stroke-opacity="0.5" fill="none"/>
<path d="M215.40,249.70 C215.40,246.80 221.20,246.80 221.20,249.70 C221.40,255.24 219.60,258.60 219.30,259.80 C219.30,260.70 216.70,260.70 216.70,259.80 C216.40,258.60 215.20,255.24 215.40,249.70 Z" fill="#050505" filter="url(#blur04)"/>
<rect x="188.20" y="219.90" width="49.60" height="49.40" fill="none" stroke="#000" stroke-width="1.2"/>
<text x="190.40" y="225.30" font-size="4.9" fill="#222">0</text>
<text x="235.20" y="225.30" font-size="4.9" text-anchor="end" fill="#222">0.12</text>
<text x="191.60" y="266.10" font-size="4.9" fill="#222">1.70</text>
<text x="235.20" y="266.10" font-size="4.9" text-anchor="end" fill="#222">98.2</text>
<text x="182.20" y="271.10" font-size="5.6" text-anchor="end" fill="#222">10<tspan font-size="3.7" dy="-2.2">0</tspan></text>
<text x="182.20" y="264.40" font-size="5.6" text-anchor="end" fill="#222">10<tspan font-size="3.7" dy="-2.2">1</tspan></text>
<text x="182.20" y="257.70" font-size="5.6" text-anchor="end" fill="#222">10<tspan font-size="3.7" dy="-2.2">2</tspan></text>
<text x="182.20" y="251.00" font-size="5.6" text-anchor="end" fill="#222">10<tspan font-size="3.7" dy="-2.2">3</tspan></text>
<text x="182.20" y="244.30" font-size="5.6" text-anchor="end" fill="#222">10<tspan font-size="3.7" dy="-2.2">4</tspan></text>
<text x="182.20" y="237.60" font-size="5.6" text-anchor="end" fill="#222">10<tspan font-size="3.7" dy="-2.2">5</tspan></text>
<text x="182.20" y="230.90" font-size="5.6" text-anchor="end" fill="#222">10<tspan font-size="3.7" dy="-2.2">6</tspan></text>
<text x="182.20" y="224.20" font-size="5.6" text-anchor="end" fill="#222">10<tspan font-size="3.7" dy="-2.2">7</tspan></text>
<text x="187.00" y="280.70" font-size="5.8" text-anchor="middle">10<tspan font-size="3.60" dy="-2.20">0</tspan></text>
<text x="200.75" y="280.70" font-size="5.8" text-anchor="middle">10<tspan font-size="3.60" dy="-2.20">2</tspan></text>
<text x="214.50" y="280.70" font-size="5.8" text-anchor="middle">10<tspan font-size="3.60" dy="-2.20">4</tspan></text>
<text x="228.25" y="280.70" font-size="5.8" text-anchor="middle">10<tspan font-size="3.60" dy="-2.20">6</tspan></text>
<line x1="32.80" y1="340.30" x2="35.00" y2="340.30" stroke="#000" stroke-width="0.8"/>
<line x1="35.00" y1="338.26" x2="36.00" y2="338.26" stroke="#333" stroke-width="0.5"/>
<line x1="35.00" y1="337.07" x2="36.00" y2="337.07" stroke="#333" stroke-width="0.5"/>
<line x1="35.00" y1="336.22" x2="36.00" y2="336.22" stroke="#333" stroke-width="0.5"/>
<line x1="35.00" y1="335.57" x2="36.40" y2="335.57" stroke="#333" stroke-width="0.5"/>
<line x1="35.00" y1="335.03" x2="36.00" y2="335.03" stroke="#333" stroke-width="0.5"/>
<line x1="35.00" y1="334.58" x2="36.00" y2="334.58" stroke="#333" stroke-width="0.5"/>
<line x1="35.00" y1="334.18" x2="36.00" y2="334.18" stroke="#333" stroke-width="0.5"/>
<line x1="35.00" y1="333.84" x2="36.00" y2="333.84" stroke="#333" stroke-width="0.5"/>
<line x1="32.80" y1="333.53" x2="35.00" y2="333.53" stroke="#000" stroke-width="0.8"/>
<line x1="35.00" y1="331.49" x2="36.00" y2="331.49" stroke="#333" stroke-width="0.5"/>
<line x1="35.00" y1="330.30" x2="36.00" y2="330.30" stroke="#333" stroke-width="0.5"/>
<line x1="35.00" y1="329.45" x2="36.00" y2="329.45" stroke="#333" stroke-width="0.5"/>
<line x1="35.00" y1="328.80" x2="36.40" y2="328.80" stroke="#333" stroke-width="0.5"/>
<line x1="35.00" y1="328.26" x2="36.00" y2="328.26" stroke="#333" stroke-width="0.5"/>
<line x1="35.00" y1="327.81" x2="36.00" y2="327.81" stroke="#333" stroke-width="0.5"/>
<line x1="35.00" y1="327.41" x2="36.00" y2="327.41" stroke="#333" stroke-width="0.5"/>
<line x1="35.00" y1="327.07" x2="36.00" y2="327.07" stroke="#333" stroke-width="0.5"/>
<line x1="32.80" y1="326.76" x2="35.00" y2="326.76" stroke="#000" stroke-width="0.8"/>
<line x1="35.00" y1="324.72" x2="36.00" y2="324.72" stroke="#333" stroke-width="0.5"/>
<line x1="35.00" y1="323.53" x2="36.00" y2="323.53" stroke="#333" stroke-width="0.5"/>
<line x1="35.00" y1="322.68" x2="36.00" y2="322.68" stroke="#333" stroke-width="0.5"/>
<line x1="35.00" y1="322.02" x2="36.40" y2="322.02" stroke="#333" stroke-width="0.5"/>
<line x1="35.00" y1="321.49" x2="36.00" y2="321.49" stroke="#333" stroke-width="0.5"/>
<line x1="35.00" y1="321.03" x2="36.00" y2="321.03" stroke="#333" stroke-width="0.5"/>
<line x1="35.00" y1="320.64" x2="36.00" y2="320.64" stroke="#333" stroke-width="0.5"/>
<line x1="35.00" y1="320.30" x2="36.00" y2="320.30" stroke="#333" stroke-width="0.5"/>
<line x1="32.80" y1="319.99" x2="35.00" y2="319.99" stroke="#000" stroke-width="0.8"/>
<line x1="35.00" y1="317.95" x2="36.00" y2="317.95" stroke="#333" stroke-width="0.5"/>
<line x1="35.00" y1="316.75" x2="36.00" y2="316.75" stroke="#333" stroke-width="0.5"/>
<line x1="35.00" y1="315.91" x2="36.00" y2="315.91" stroke="#333" stroke-width="0.5"/>
<line x1="35.00" y1="315.25" x2="36.40" y2="315.25" stroke="#333" stroke-width="0.5"/>
<line x1="35.00" y1="314.72" x2="36.00" y2="314.72" stroke="#333" stroke-width="0.5"/>
<line x1="35.00" y1="314.26" x2="36.00" y2="314.26" stroke="#333" stroke-width="0.5"/>
<line x1="35.00" y1="313.87" x2="36.00" y2="313.87" stroke="#333" stroke-width="0.5"/>
<line x1="35.00" y1="313.52" x2="36.00" y2="313.52" stroke="#333" stroke-width="0.5"/>
<line x1="32.80" y1="313.21" x2="35.00" y2="313.21" stroke="#000" stroke-width="0.8"/>
<line x1="35.00" y1="311.18" x2="36.00" y2="311.18" stroke="#333" stroke-width="0.5"/>
<line x1="35.00" y1="309.98" x2="36.00" y2="309.98" stroke="#333" stroke-width="0.5"/>
<line x1="35.00" y1="309.14" x2="36.00" y2="309.14" stroke="#333" stroke-width="0.5"/>
<line x1="35.00" y1="308.48" x2="36.40" y2="308.48" stroke="#333" stroke-width="0.5"/>
<line x1="35.00" y1="307.95" x2="36.00" y2="307.95" stroke="#333" stroke-width="0.5"/>
<line x1="35.00" y1="307.49" x2="36.00" y2="307.49" stroke="#333" stroke-width="0.5"/>
<line x1="35.00" y1="307.10" x2="36.00" y2="307.10" stroke="#333" stroke-width="0.5"/>
<line x1="35.00" y1="306.75" x2="36.00" y2="306.75" stroke="#333" stroke-width="0.5"/>
<line x1="32.80" y1="306.44" x2="35.00" y2="306.44" stroke="#000" stroke-width="0.8"/>
<line x1="35.00" y1="304.40" x2="36.00" y2="304.40" stroke="#333" stroke-width="0.5"/>
<line x1="35.00" y1="303.21" x2="36.00" y2="303.21" stroke="#333" stroke-width="0.5"/>
<line x1="35.00" y1="302.37" x2="36.00" y2="302.37" stroke="#333" stroke-width="0.5"/>
<line x1="35.00" y1="301.71" x2="36.40" y2="301.71" stroke="#333" stroke-width="0.5"/>
<line x1="35.00" y1="301.17" x2="36.00" y2="301.17" stroke="#333" stroke-width="0.5"/>
<line x1="35.00" y1="300.72" x2="36.00" y2="300.72" stroke="#333" stroke-width="0.5"/>
<line x1="35.00" y1="300.33" x2="36.00" y2="300.33" stroke="#333" stroke-width="0.5"/>
<line x1="35.00" y1="299.98" x2="36.00" y2="299.98" stroke="#333" stroke-width="0.5"/>
<line x1="32.80" y1="299.67" x2="35.00" y2="299.67" stroke="#000" stroke-width="0.8"/>
<line x1="35.00" y1="297.63" x2="36.00" y2="297.63" stroke="#333" stroke-width="0.5"/>
<line x1="35.00" y1="296.44" x2="36.00" y2="296.44" stroke="#333" stroke-width="0.5"/>
<line x1="35.00" y1="295.59" x2="36.00" y2="295.59" stroke="#333" stroke-width="0.5"/>
<line x1="35.00" y1="294.94" x2="36.40" y2="294.94" stroke="#333" stroke-width="0.5"/>
<line x1="35.00" y1="294.40" x2="36.00" y2="294.40" stroke="#333" stroke-width="0.5"/>
<line x1="35.00" y1="293.95" x2="36.00" y2="293.95" stroke="#333" stroke-width="0.5"/>
<line x1="35.00" y1="293.56" x2="36.00" y2="293.56" stroke="#333" stroke-width="0.5"/>
<line x1="35.00" y1="293.21" x2="36.00" y2="293.21" stroke="#333" stroke-width="0.5"/>
<line x1="32.80" y1="292.90" x2="35.00" y2="292.90" stroke="#000" stroke-width="0.8"/>
<line x1="36.00" y1="340.30" x2="36.00" y2="342.10" stroke="#000" stroke-width="0.8"/>
<line x1="38.38" y1="340.30" x2="38.38" y2="341.30" stroke="#333" stroke-width="0.5"/>
<line x1="39.78" y1="340.30" x2="39.78" y2="341.30" stroke="#333" stroke-width="0.5"/>
<line x1="40.77" y1="340.30" x2="40.77" y2="341.30" stroke="#333" stroke-width="0.5"/>
<line x1="41.53" y1="340.30" x2="41.53" y2="341.30" stroke="#333" stroke-width="0.5"/>
<line x1="42.16" y1="340.30" x2="42.16" y2="341.30" stroke="#333" stroke-width="0.5"/>
<line x1="42.69" y1="340.30" x2="42.69" y2="341.30" stroke="#333" stroke-width="0.5"/>
<line x1="43.15" y1="340.30" x2="43.15" y2="341.30" stroke="#333" stroke-width="0.5"/>
<line x1="43.55" y1="340.30" x2="43.55" y2="341.30" stroke="#333" stroke-width="0.5"/>
<line x1="43.92" y1="340.30" x2="43.92" y2="342.10" stroke="#000" stroke-width="0.8"/>
<line x1="46.30" y1="340.30" x2="46.30" y2="341.30" stroke="#333" stroke-width="0.5"/>
<line x1="47.69" y1="340.30" x2="47.69" y2="341.30" stroke="#333" stroke-width="0.5"/>
<line x1="48.68" y1="340.30" x2="48.68" y2="341.30" stroke="#333" stroke-width="0.5"/>
<line x1="49.45" y1="340.30" x2="49.45" y2="341.30" stroke="#333" stroke-width="0.5"/>
<line x1="50.08" y1="340.30" x2="50.08" y2="341.30" stroke="#333" stroke-width="0.5"/>
<line x1="50.61" y1="340.30" x2="50.61" y2="341.30" stroke="#333" stroke-width="0.5"/>
<line x1="51.07" y1="340.30" x2="51.07" y2="341.30" stroke="#333" stroke-width="0.5"/>
<line x1="51.47" y1="340.30" x2="51.47" y2="341.30" stroke="#333" stroke-width="0.5"/>
<line x1="51.83" y1="340.30" x2="51.83" y2="342.10" stroke="#000" stroke-width="0.8"/>
<line x1="54.22" y1="340.30" x2="54.22" y2="341.30" stroke="#333" stroke-width="0.5"/>
<line x1="55.61" y1="340.30" x2="55.61" y2="341.30" stroke="#333" stroke-width="0.5"/>
<line x1="56.60" y1="340.30" x2="56.60" y2="341.30" stroke="#333" stroke-width="0.5"/>
<line x1="57.37" y1="340.30" x2="57.37" y2="341.30" stroke="#333" stroke-width="0.5"/>
<line x1="57.99" y1="340.30" x2="57.99" y2="341.30" stroke="#333" stroke-width="0.5"/>
<line x1="58.52" y1="340.30" x2="58.52" y2="341.30" stroke="#333" stroke-width="0.5"/>
<line x1="58.98" y1="340.30" x2="58.98" y2="341.30" stroke="#333" stroke-width="0.5"/>
<line x1="59.39" y1="340.30" x2="59.39" y2="341.30" stroke="#333" stroke-width="0.5"/>
<line x1="59.75" y1="340.30" x2="59.75" y2="342.10" stroke="#000" stroke-width="0.8"/>
<line x1="62.13" y1="340.30" x2="62.13" y2="341.30" stroke="#333" stroke-width="0.5"/>
<line x1="63.53" y1="340.30" x2="63.53" y2="341.30" stroke="#333" stroke-width="0.5"/>
<line x1="64.52" y1="340.30" x2="64.52" y2="341.30" stroke="#333" stroke-width="0.5"/>
<line x1="65.28" y1="340.30" x2="65.28" y2="341.30" stroke="#333" stroke-width="0.5"/>
<line x1="65.91" y1="340.30" x2="65.91" y2="341.30" stroke="#333" stroke-width="0.5"/>
<line x1="66.44" y1="340.30" x2="66.44" y2="341.30" stroke="#333" stroke-width="0.5"/>
<line x1="66.90" y1="340.30" x2="66.90" y2="341.30" stroke="#333" stroke-width="0.5"/>
<line x1="67.30" y1="340.30" x2="67.30" y2="341.30" stroke="#333" stroke-width="0.5"/>
<line x1="67.67" y1="340.30" x2="67.67" y2="342.10" stroke="#000" stroke-width="0.8"/>
<line x1="70.05" y1="340.30" x2="70.05" y2="341.30" stroke="#333" stroke-width="0.5"/>
<line x1="71.44" y1="340.30" x2="71.44" y2="341.30" stroke="#333" stroke-width="0.5"/>
<line x1="72.43" y1="340.30" x2="72.43" y2="341.30" stroke="#333" stroke-width="0.5"/>
<line x1="73.20" y1="340.30" x2="73.20" y2="341.30" stroke="#333" stroke-width="0.5"/>
<line x1="73.83" y1="340.30" x2="73.83" y2="341.30" stroke="#333" stroke-width="0.5"/>
<line x1="74.36" y1="340.30" x2="74.36" y2="341.30" stroke="#333" stroke-width="0.5"/>
<line x1="74.82" y1="340.30" x2="74.82" y2="341.30" stroke="#333" stroke-width="0.5"/>
<line x1="75.22" y1="340.30" x2="75.22" y2="341.30" stroke="#333" stroke-width="0.5"/>
<line x1="75.58" y1="340.30" x2="75.58" y2="342.10" stroke="#000" stroke-width="0.8"/>
<line x1="77.97" y1="340.30" x2="77.97" y2="341.30" stroke="#333" stroke-width="0.5"/>
<line x1="79.36" y1="340.30" x2="79.36" y2="341.30" stroke="#333" stroke-width="0.5"/>
<line x1="80.35" y1="340.30" x2="80.35" y2="341.30" stroke="#333" stroke-width="0.5"/>
<line x1="81.12" y1="340.30" x2="81.12" y2="341.30" stroke="#333" stroke-width="0.5"/>
<line x1="81.74" y1="340.30" x2="81.74" y2="341.30" stroke="#333" stroke-width="0.5"/>
<line x1="82.27" y1="340.30" x2="82.27" y2="341.30" stroke="#333" stroke-width="0.5"/>
<line x1="82.73" y1="340.30" x2="82.73" y2="341.30" stroke="#333" stroke-width="0.5"/>
<line x1="83.14" y1="340.30" x2="83.14" y2="341.30" stroke="#333" stroke-width="0.5"/>
<line x1="83.50" y1="340.30" x2="83.50" y2="342.10" stroke="#000" stroke-width="0.8"/>
<line x1="59.30" y1="290.90" x2="59.30" y2="340.30" stroke="#a0a0a0" stroke-width="1.0"/>
<line x1="35.00" y1="315.60" x2="84.50" y2="315.60" stroke="#a0a0a0" stroke-width="1.0"/>
<ellipse cx="59.50" cy="316.20" rx="5.50" ry="8.60" fill="#000" opacity="0.4" transform="rotate(-18 59.50 315.70)" filter="url(#blur1)"/>
<path d="M58.3 321.2h.5M60.2 318.8h.5M65.3 317.6h.5M65.9 319.4h.5M62.9 308.7h.5M54.4 310.1h.5M61.1 314.2h.5M63.3 316.9h.5M63.8 328.0h.5M61.6 315.3h.5M58.1 324.0h.5M60.9 309.0h.5M59.4 317.7h.5M53.1 316.6h.5M61.6 305.6h.5M64.7 326.2h.5M56.5 314.4h.5M61.2 318.8h.5M58.2 307.3h.5M57.0 317.7h.5M60.4 322.9h.5M57.7 314.5h.5M66.0 313.6h.5M56.0 317.3h.5M60.0 320.4h.5M60.5 313.8h.5M57.2 313.7h.5M68.0 325.9h.5M60.3 319.4h.5M59.9 312.9h.5M56.8 314.1h.5M51.3 314.2h.5M62.8 320.8h.5M58.1 314.3h.5M65.5 326.9h.5M54.8 313.0h.5M58.9 319.8h.5M57.3 319.8h.5M57.9 320.2h.5M57.6 314.2h.5M60.3 308.6h.5M58.1 321.2h.5M62.6 316.5h.5M53.0 322.8h.5M60.1 313.9h.5M54.1 323.1h.5M66.7 317.0h.5M63.1 311.0h.5M59.0 312.4h.5M54.9 315.6h.5M54.9 313.1h.5M56.0 314.8h.5M58.7 317.2h.5M55.6 319.4h.5M53.1 318.6h.5M55.6 303.2h.5M60.3 322.7h.5M60.2 312.9h.5M58.1 318.5h.5M61.5 320.6h.5M61.7 321.1h.5M59.5 311.5h.5M54.9 314.4h.5M59.4 310.9h.5M59.9 306.6h.5M56.9 311.3h.5M60.9 316.6h.5M56.7 309.5h.5M55.2 313.5h.5M61.9 311.5h.5M63.0 320.7h.5M55.5 314.3h.5M50.9 316.5h.5M60.3 310.1h.5M62.2 320.2h.5M60.0 313.3h.5M59.1 312.2h.5M62.3 330.0h.5M56.4 313.0h.5M60.6 317.6h.5M60.8 311.1h.5M54.0 312.0h.5M64.1 321.3h.5M55.9 314.2h.5M57.7 310.9h.5M59.4 322.0h.5M55.8 319.7h.5M61.8 308.8h.5M63.4 315.0h.5M59.2 321.7h.5M59.3 314.8h.5M55.9 312.2h.5M57.1 315.5h.5M61.8 313.9h.5M59.8 313.7h.5M61.1 315.2h.5M64.5 316.2h.5M53.3 317.5h.5M59.7 322.0h.5M61.1 321.0h.5M61.0 311.6h.5M58.5 316.8h.5M61.8 336.4h.5M59.1 308.5h.5M54.7 318.5h.5M55.3 308.0h.5M53.4 318.3h.5M58.6 319.0h.5M61.1 322.5h.5M54.1 321.7h.5M54.9 311.9h.5M59.4 304.3h.5M58.5 314.3h.5M61.1 306.7h.5M61.6 318.4h.5M59.6 316.8h.5M56.3 308.2h.5M54.1 306.1h.5M64.6 320.4h.5M56.6 324.6h.5M56.1 307.9h.5M57.9 320.3h.5M57.2 310.3h.5M61.4 314.2h.5M55.4 309.8h.5M62.8 320.3h.5M55.2 315.7h.5M58.8 317.4h.5M59.2 328.5h.5M62.0 320.8h.5M62.1 328.2h.5M57.8 305.6h.5M63.0 314.8h.5M55.6 317.1h.5M57.5 321.2h.5M59.2 307.7h.5M63.7 321.3h.5M52.9 326.4h.5M63.3 320.0h.5M64.5 314.3h.5M57.1 319.3h.5M59.7 318.9h.5M50.4 316.6h.5M69.4 315.3h.5M63.7 316.9h.5M59.8 321.3h.5M61.5 313.4h.5M60.0 320.2h.5M55.1 312.4h.5M65.8 321.2h.5M61.6 325.2h.5M63.3 317.5h.5M59.1 321.1h.5M57.5 316.4h.5M59.5 323.7h.5M60.0 316.1h.5M66.4 329.3h.5M60.5 306.4h.5M59.8 316.8h.5M55.8 311.5h.5M67.0 318.5h.5M63.6 317.3h.5M63.5 318.1h.5M59.9 315.0h.5M54.8 313.4h.5M57.8 311.3h.5M59.1 310.8h.5M59.8 307.5h.5M63.0 322.9h.5M61.7 312.3h.5M64.3 314.9h.5M60.7 315.5h.5M54.3 321.4h.5M62.4 319.9h.5M57.5 321.8h.5M55.1 310.4h.5M56.2 318.5h.5M60.8 325.3h.5M64.4 321.7h.5M57.0 310.4h.5M53.4 316.8h.5M66.3 321.7h.5M54.1 319.6h.5M60.3 309.9h.5M58.3 312.2h.5M60.4 317.2h.5M58.1 316.0h.5M57.3 317.6h.5M48.9 322.6h.5M60.8 307.6h.5M59.9 319.7h.5M55.7 313.2h.5M60.6 320.4h.5M55.0 319.1h.5M58.9 307.9h.5M62.6 324.1h.5M59.2 315.3h.5M63.6 311.3h.5M61.3 323.9h.5M63.9 308.2h.5M59.7 319.1h.5M64.9 317.3h.5M58.8 321.3h.5M51.8 319.6h.5M64.2 321.5h.5M58.5 307.7h.5M61.9 312.1h.5M59.9 323.1h.5M56.5 331.0h.5M64.3 320.1h.5M60.2 320.3h.5M62.1 316.8h.5M54.9 320.4h.5M62.1 321.1h.5M61.5 317.2h.5M57.4 307.7h.5M52.7 317.7h.5M57.8 319.6h.5M54.1 314.5h.5M62.0 315.4h.5M57.4 320.3h.5M58.6 310.1h.5M57.6 318.1h.5M58.3 315.0h.5M52.7 301.8h.5M61.8 317.4h.5M55.7 306.3h.5M57.9 316.5h.5M58.5 315.8h.5M52.6 322.0h.5M62.6 319.1h.5M64.3 315.8h.5M61.9 307.7h.5M61.3 314.0h.5M63.4 311.7h.5M56.2 313.0h.5M59.6 311.0h.5M63.6 319.1h.5M59.6 316.7h.5M60.4 327.2h.5M60.0 308.6h.5M60.8 308.7h.5M61.3 319.0h.5M56.8 312.9h.5M61.3 318.5h.5M60.4 317.6h.5M54.0 317.1h.5M55.6 317.5h.5M53.7 312.4h.5M54.7 314.3h.5M57.4 315.1h.5M59.0 309.5h.5M63.6 311.5h.5M56.3 317.9h.5M56.1 313.1h.5M56.8 308.1h.5M59.5 306.5h.5M57.9 322.0h.5M63.0 315.9h.5M52.7 314.8h.5M55.1 312.4h.5M57.9 317.8h.5M61.9 315.6h.5M55.4 316.5h.5M60.9 319.9h.5M55.5 313.5h.5M54.2 310.0h.5M58.9 311.9h.5M63.3 319.1h.5M59.1 316.8h.5M57.7 317.1h.5M61.2 321.8h.5M59.1 322.1h.5M61.8 316.9h.5M53.0 311.5h.5M59.1 316.5h.5M57.6 326.7h.5M59.4 314.9h.5M59.6 311.0h.5M51.5 317.6h.5M56.6 316.8h.5M57.0 307.0h.5M58.0 321.8h.5M64.2 314.0h.5M60.4 317.9h.5M65.2 330.4h.5M64.4 310.8h.5M60.6 323.1h.5M63.4 320.9h.5M60.5 310.9h.5M52.6 309.6h.5M57.9 319.4h.5M61.4 328.2h.5M53.5 316.7h.5M66.8 325.6h.5M56.8 319.0h.5M58.5 304.5h.5M62.7 316.3h.5M59.9 322.1h.5M58.5 312.0h.5M63.2 311.2h.5M59.8 301.5h.5M62.3 313.5h.5M60.9 317.0h.5M61.7 310.4h.5M58.4 314.7h.5M61.3 315.7h.5M61.3 318.1h.5M53.2 317.0h.5M60.4 317.4h.5M70.0 318.0h.5M63.6 312.5h.5M65.9 325.5h.5M57.1 313.5h.5M52.0 310.9h.5M63.1 306.3h.5M60.8 320.8h.5M60.9 317.7h.5M61.3 322.1h.5M54.0 316.0h.5M56.1 306.0h.5M56.8 316.2h.5M64.0 311.1h.5M62.6 311.0h.5M64.9 312.1h.5M68.7 331.5h.5M65.9 323.3h.5M56.9 320.8h.5M62.0 314.4h.5M58.7 309.9h.5M55.7 310.0h.5M55.5 322.1h.5M57.3 319.0h.5M68.2 320.2h.5M56.9 315.6h.5M57.2 317.0h.5M68.6 323.3h.5M55.3 309.2h.5M59.2 302.3h.5M57.5 302.9h.5M61.4 317.0h.5M56.0 310.5h.5M62.3 318.1h.5M64.3 329.2h.5M57.7 313.6h.5M70.3 331.8h.5M57.1 316.0h.5M58.5 318.5h.5M61.3 311.4h.5M57.1 311.3h.5M59.9 314.6h.5M60.7 314.6h.5M57.2 306.9h.5M56.7 314.7h.5M58.3 310.1h.5M59.5 322.3h.5M60.0 312.1h.5M58.9 314.4h.5M59.9 314.4h.5M56.4 318.0h.5M55.3 321.7h.5M64.6 320.0h.5M54.4 317.1h.5M63.0 316.6h.5M61.0 316.8h.5M62.2 314.5h.5M54.4 319.9h.5M68.7 317.9h.5M65.5 326.6h.5M55.2 311.7h.5M59.1 319.5h.5M68.2 320.5h.5M62.3 324.7h.5M61.5 317.9h.5M57.6 311.6h.5M57.3 311.3h.5M50.9 314.3h.5M64.1 313.4h.5M55.0 318.9h.5M68.1 313.1h.5M69.7 316.7h.5M53.1 320.8h.5M68.5 316.9h.5M56.5 320.2h.5M61.9 306.4h.5M61.1 318.3h.5M63.2 313.2h.5M58.1 321.2h.5M61.1 315.9h.5M59.8 321.9h.5M62.2 329.5h.5M61.1 324.2h.5M64.6 317.8h.5M61.5 323.0h.5M58.8 311.5h.5M61.1 318.8h.5M55.7 324.8h.5M53.5 320.0h.5M56.3 306.9h.5M57.0 310.8h.5M59.9 312.3h.5M61.2 318.1h.5M62.1 310.2h.5M62.0 302.8h.5M54.7 314.9h.5M50.2 308.2h.5M57.4 305.9h.5M58.0 321.6h.5M62.9 312.7h.5M63.4 319.7h.5M60.9 314.0h.5M53.4 309.3h.5M65.4 317.4h.5M58.8 315.9h.5M63.9 320.3h.5M57.2 310.2h.5M61.5 312.9h.5M56.5 325.4h.5M66.7 315.9h.5M59.1 315.5h.5M57.3 313.9h.5M54.8 312.3h.5M57.0 315.9h.5M60.5 318.5h.5M56.6 320.5h.5M53.9 311.4h.5M57.6 305.6h.5M55.1 305.0h.5M58.5 320.1h.5M60.1 308.8h.5M58.2 325.9h.5M63.3 323.4h.5M56.3 325.9h.5M58.4 308.7h.5M62.3 324.2h.5M59.3 308.7h.5M55.8 324.5h.5M56.8 311.9h.5M56.1 312.5h.5M53.6 316.4h.5M57.5 307.4h.5M61.5 310.2h.5M61.8 320.3h.5M65.0 323.3h.5M49.4 306.9h.5M52.4 314.4h.5M58.6 308.9h.5M54.3 314.3h.5M60.8 328.7h.5M58.6 327.1h.5M67.1 312.6h.5M58.3 315.4h.5M55.7 313.3h.5M55.1 319.5h.5M60.9 310.4h.5M61.2 312.2h.5M56.8 317.3h.5M61.0 325.7h.5M66.6 321.9h.5M59.8 307.7h.5M57.0 316.0h.5M64.1 309.4h.5M60.1 303.7h.5M57.0 314.6h.5M65.1 320.4h.5M60.7 318.5h.5M51.3 307.6h.5M68.5 330.5h.5M62.4 312.5h.5M58.1 305.3h.5M58.2 314.6h.5M64.9 316.3h.5M60.6 307.4h.5M57.2 312.1h.5M63.1 316.8h.5M56.4 304.7h.5M65.3 312.3h.5M64.3 330.5h.5M65.4 315.6h.5M59.7 308.1h.5M58.2 321.4h.5M57.2 315.3h.5M53.1 314.1h.5M56.2 314.0h.5M65.6 313.4h.5M61.9 322.4h.5M59.7 320.5h.5M52.2 316.4h.5M60.1 311.5h.5M60.7 313.7h.5M63.7 321.5h.5M56.6 310.0h.5M56.0 317.8h.5M56.3 307.1h.5M65.3 321.9h.5M60.0 317.9h.5M58.8 310.5h.5M60.0 318.0h.5M56.5 309.0h.5M52.8 314.1h.5M55.4 312.5h.5M50.9 316.6h.5M56.8 315.6h.5M55.2 320.3h.5M60.6 320.7h.5M57.6 320.8h.5M59.3 313.1h.5M57.9 310.8h.5M58.5 315.7h.5M59.1 317.3h.5M59.4 308.8h.5M56.4 302.6h.5M59.0 328.8h.5M61.6 314.9h.5M66.4 307.5h.5M56.2 309.7h.5M59.0 310.9h.5M49.2 310.1h.5M57.6 320.1h.5M61.7 319.4h.5M58.9 311.7h.5M64.2 309.9h.5M59.3 311.5h.5M56.8 314.6h.5M57.1 321.7h.5M60.5 321.3h.5M64.8 318.0h.5M60.7 318.6h.5M57.6 318.8h.5M49.8 313.0h.5M58.6 305.8h.5M61.2 319.5h.5M57.2 310.7h.5M66.0 326.1h.5M61.2 305.6h.5M64.3 310.3h.5M64.5 314.1h.5M64.0 323.2h.5M58.1 324.8h.5M60.6 319.9h.5M58.5 314.8h.5M53.9 316.2h.5M60.6 309.9h.5M65.3 318.1h.5M54.0 317.5h.5M60.5 314.7h.5M62.4 321.0h.5M58.7 319.0h.5M56.7 310.7h.5M60.0 312.5h.5M59.7 320.6h.5M52.9 321.5h.5M60.7 316.2h.5M61.6 317.0h.5M57.8 306.6h.5M57.9 317.7h.5M58.7 316.8h.5M59.3 326.7h.5M60.7 320.0h.5M61.5 312.2h.5M55.5 310.6h.5M63.3 323.0h.5M59.3 307.5h.5M65.2 321.3h.5M57.4 306.6h.5M51.1 314.4h.5M54.4 319.8h.5M66.5 322.4h.5M64.7 320.9h.5M63.7 315.9h.5M60.0 327.8h.5M62.5 302.4h.5M64.8 316.5h.5M60.4 325.7h.5M56.3 316.2h.5M62.1 323.6h.5M58.0 318.5h.5M58.7 319.2h.5M67.5 321.8h.5M60.6 317.1h.5M57.6 325.8h.5M63.7 324.6h.5M61.7 317.2h.5M57.3 308.3h.5M64.9 320.4h.5M59.0 320.4h.5M59.9 313.6h.5M55.0 310.2h.5M58.8 324.2h.5M63.5 316.4h.5M64.5 316.6h.5M59.7 320.2h.5M59.1 315.6h.5M60.0 310.1h.5M65.7 317.6h.5M59.4 321.4h.5M53.3 309.9h.5M59.5 318.8h.5M55.7 311.0h.5M68.2 316.3h.5M56.0 316.2h.5M63.4 315.4h.5M60.3 331.7h.5M63.3 306.8h.5M64.4 319.7h.5M56.9 316.2h.5M58.8 320.4h.5M67.1 315.9h.5M62.1 326.1h.5M58.8 312.3h.5M57.3 315.1h.5M64.4 321.4h.5M65.9 321.0h.5M55.6 322.1h.5M56.6 319.8h.5M59.7 313.0h.5M57.9 315.0h.5M62.0 317.8h.5M67.3 316.5h.5M63.1 318.6h.5M61.7 322.3h.5M58.2 319.3h.5M57.5 316.3h.5M51.5 311.0h.5M63.6 317.3h.5M62.2 314.7h.5M58.1 321.1h.5M62.2 310.0h.5M51.2 316.3h.5M56.7 307.6h.5M56.2 321.0h.5M67.2 324.0h.5M59.5 319.5h.5M57.6 311.1h.5M59.2 320.9h.5M54.9 314.0h.5M58.2 312.5h.5M55.0 315.7h.5M64.7 316.5h.5M57.0 319.1h.5M58.8 319.6h.5M57.4 309.4h.5M57.8 318.2h.5M59.8 314.0h.5M59.2 310.4h.5M56.9 315.0h.5M52.4 321.4h.5M56.7 316.6h.5M57.1 321.5h.5M57.6 313.4h.5M62.5 311.7h.5M56.0 325.5h.5M55.9 311.1h.5M60.6 323.7h.5M59.5 310.9h.5M64.3 329.8h.5M64.9 322.1h.5M57.8 315.9h.5M66.4 312.0h.5M62.9 320.6h.5M62.2 314.6h.5M62.4 313.0h.5M56.7 320.2h.5M59.0 313.4h.5M57.3 309.4h.5M63.1 322.2h.5M51.4 313.2h.5M55.4 310.3h.5M63.1 324.1h.5M62.6 323.8h.5M60.9 318.6h.5M58.7 318.8h.5M58.8 324.9h.5M54.2 312.4h.5M59.1 311.5h.5M62.7 318.7h.5M57.0 306.4h.5M59.5 317.3h.5M59.2 315.5h.5M56.2 314.6h.5M61.7 317.9h.5M58.5 320.0h.5M65.5 321.5h.5M63.3 329.0h.5M55.3 321.3h.5M60.0 315.7h.5M58.2 313.0h.5M59.8 314.8h.5M57.8 315.2h.5M59.3 320.6h.5M64.0 314.2h.5M63.8 324.9h.5M57.4 320.9h.5M58.9 319.2h.5M64.8 323.7h.5M59.0 321.8h.5M61.0 323.1h.5M57.7 324.0h.5M69.5 325.7h.5M64.1 315.3h.5M58.7 325.4h.5M60.0 325.8h.5M64.8 318.4h.5M58.2 314.1h.5M64.4 325.2h.5M43.4 301.7h.5M51.3 329.1h.5M48.0 325.3h.5M63.1 323.2h.5M63.1 323.2h.5M53.8 303.5h.5M66.2 327.1h.5M65.4 310.9h.5M65.7 320.3h.5M58.8 325.9h.5M52.8 315.4h.5M68.0 333.4h.5M59.6 321.3h.5M50.0 313.4h.5M61.6 320.1h.5M58.0 317.9h.5M60.9 318.5h.5M63.7 326.4h.5M65.2 306.9h.5M65.3 325.2h.5M74.5 311.4h.5M56.2 335.0h.5M63.8 334.3h.5M48.3 319.7h.5M65.7 335.4h.5M52.1 293.6h.5M52.6 314.2h.5M67.8 312.7h.5M69.0 336.3h.5M62.1 328.7h.5M56.8 314.9h.5M67.7 337.3h.5M61.2 309.5h.5M58.2 320.1h.5M52.8 321.5h.5M54.1 306.3h.5M53.3 292.1h.5M59.6 318.3h.5M61.1 312.8h.5M61.4 316.1h.5M55.9 324.1h.5M53.3 321.6h.5M63.2 323.6h.5M63.0 314.3h.5M54.6 296.2h.5M53.3 299.0h.5M47.8 318.1h.5M61.7 313.1h.5M52.0 315.8h.5M53.2 311.0h.5M57.8 305.9h.5M46.2 307.0h.5M54.7 299.8h.5M71.7 308.9h.5M55.9 315.0h.5M54.3 312.4h.5M58.4 323.1h.5M54.3 328.0h.5M59.5 313.5h.5M43.9 327.1h.5M51.6 322.7h.5M39.0 307.9h.5M55.4 311.9h.5M43.1 308.9h.5M61.4 318.6h.5M66.3 318.4h.5M68.1 319.3h.5M72.5 302.7h.5M67.6 313.7h.5M56.6 326.5h.5M66.4 316.9h.5M61.0 319.4h.5M57.1 321.9h.5M56.5 311.3h.5M62.5 323.0h.5M39.1 321.5h.5" stroke="#222" stroke-width="0.5" stroke-opacity="0.5" fill="none"/>
<ellipse cx="59.50" cy="315.70" rx="3.70" ry="6.20" fill="#050505" transform="rotate(-18 59.50 315.70)" filter="url(#blur04)"/>
<rect x="35.00" y="290.90" width="49.50" height="49.40" fill="none" stroke="#000" stroke-width="1.2"/>
<text x="37.20" y="296.30" font-size="4.9" fill="#222">21.6</text>
<text x="81.90" y="296.30" font-size="4.9" text-anchor="end" fill="#222">16.9</text>
<text x="38.40" y="337.10" font-size="4.9" fill="#222">18.2</text>
<text x="81.90" y="337.10" font-size="4.9" text-anchor="end" fill="#222">43.2</text>
<text x="29.00" y="342.10" font-size="5.6" text-anchor="end" fill="#222">10<tspan font-size="3.7" dy="-2.2">0</tspan></text>
<text x="29.00" y="335.40" font-size="5.6" text-anchor="end" fill="#222">10<tspan font-size="3.7" dy="-2.2">1</tspan></text>
<text x="29.00" y="328.70" font-size="5.6" text-anchor="end" fill="#222">10<tspan font-size="3.7" dy="-2.2">2</tspan></text>
<text x="29.00" y="322.00" font-size="5.6" text-anchor="end" fill="#222">10<tspan font-size="3.7" dy="-2.2">3</tspan></text>
<text x="29.00" y="315.30" font-size="5.6" text-anchor="end" fill="#222">10<tspan font-size="3.7" dy="-2.2">4</tspan></text>
<text x="29.00" y="308.60" font-size="5.6" text-anchor="end" fill="#222">10<tspan font-size="3.7" dy="-2.2">5</tspan></text>
<text x="29.00" y="301.90" font-size="5.6" text-anchor="end" fill="#222">10<tspan font-size="3.7" dy="-2.2">6</tspan></text>
<text x="29.00" y="295.20" font-size="5.6" text-anchor="end" fill="#222">10<tspan font-size="3.7" dy="-2.2">7</tspan></text>
<text x="33.80" y="351.70" font-size="5.8" text-anchor="middle">10<tspan font-size="3.60" dy="-2.20">0</tspan></text>
<text x="47.55" y="351.70" font-size="5.8" text-anchor="middle">10<tspan font-size="3.60" dy="-2.20">2</tspan></text>
<text x="61.30" y="351.70" font-size="5.8" text-anchor="middle">10<tspan font-size="3.60" dy="-2.20">4</tspan></text>
<text x="75.05" y="351.70" font-size="5.8" text-anchor="middle">10<tspan font-size="3.60" dy="-2.20">6</tspan></text>
<line x1="35.00" y1="355.80" x2="79.30" y2="355.80" stroke="#222" stroke-width="1.2"/>
<path d="M78.80,353.30 L84.00,355.80 L78.80,358.30 Z" stroke="none" stroke-width="1" fill="#222"/>
<line x1="107.00" y1="340.30" x2="109.20" y2="340.30" stroke="#000" stroke-width="0.8"/>
<line x1="109.20" y1="338.26" x2="110.20" y2="338.26" stroke="#333" stroke-width="0.5"/>
<line x1="109.20" y1="337.07" x2="110.20" y2="337.07" stroke="#333" stroke-width="0.5"/>
<line x1="109.20" y1="336.22" x2="110.20" y2="336.22" stroke="#333" stroke-width="0.5"/>
<line x1="109.20" y1="335.57" x2="110.60" y2="335.57" stroke="#333" stroke-width="0.5"/>
<line x1="109.20" y1="335.03" x2="110.20" y2="335.03" stroke="#333" stroke-width="0.5"/>
<line x1="109.20" y1="334.58" x2="110.20" y2="334.58" stroke="#333" stroke-width="0.5"/>
<line x1="109.20" y1="334.18" x2="110.20" y2="334.18" stroke="#333" stroke-width="0.5"/>
<line x1="109.20" y1="333.84" x2="110.20" y2="333.84" stroke="#333" stroke-width="0.5"/>
<line x1="107.00" y1="333.53" x2="109.20" y2="333.53" stroke="#000" stroke-width="0.8"/>
<line x1="109.20" y1="331.49" x2="110.20" y2="331.49" stroke="#333" stroke-width="0.5"/>
<line x1="109.20" y1="330.30" x2="110.20" y2="330.30" stroke="#333" stroke-width="0.5"/>
<line x1="109.20" y1="329.45" x2="110.20" y2="329.45" stroke="#333" stroke-width="0.5"/>
<line x1="109.20" y1="328.80" x2="110.60" y2="328.80" stroke="#333" stroke-width="0.5"/>
<line x1="109.20" y1="328.26" x2="110.20" y2="328.26" stroke="#333" stroke-width="0.5"/>
<line x1="109.20" y1="327.81" x2="110.20" y2="327.81" stroke="#333" stroke-width="0.5"/>
<line x1="109.20" y1="327.41" x2="110.20" y2="327.41" stroke="#333" stroke-width="0.5"/>
<line x1="109.20" y1="327.07" x2="110.20" y2="327.07" stroke="#333" stroke-width="0.5"/>
<line x1="107.00" y1="326.76" x2="109.20" y2="326.76" stroke="#000" stroke-width="0.8"/>
<line x1="109.20" y1="324.72" x2="110.20" y2="324.72" stroke="#333" stroke-width="0.5"/>
<line x1="109.20" y1="323.53" x2="110.20" y2="323.53" stroke="#333" stroke-width="0.5"/>
<line x1="109.20" y1="322.68" x2="110.20" y2="322.68" stroke="#333" stroke-width="0.5"/>
<line x1="109.20" y1="322.02" x2="110.60" y2="322.02" stroke="#333" stroke-width="0.5"/>
<line x1="109.20" y1="321.49" x2="110.20" y2="321.49" stroke="#333" stroke-width="0.5"/>
<line x1="109.20" y1="321.03" x2="110.20" y2="321.03" stroke="#333" stroke-width="0.5"/>
<line x1="109.20" y1="320.64" x2="110.20" y2="320.64" stroke="#333" stroke-width="0.5"/>
<line x1="109.20" y1="320.30" x2="110.20" y2="320.30" stroke="#333" stroke-width="0.5"/>
<line x1="107.00" y1="319.99" x2="109.20" y2="319.99" stroke="#000" stroke-width="0.8"/>
<line x1="109.20" y1="317.95" x2="110.20" y2="317.95" stroke="#333" stroke-width="0.5"/>
<line x1="109.20" y1="316.75" x2="110.20" y2="316.75" stroke="#333" stroke-width="0.5"/>
<line x1="109.20" y1="315.91" x2="110.20" y2="315.91" stroke="#333" stroke-width="0.5"/>
<line x1="109.20" y1="315.25" x2="110.60" y2="315.25" stroke="#333" stroke-width="0.5"/>
<line x1="109.20" y1="314.72" x2="110.20" y2="314.72" stroke="#333" stroke-width="0.5"/>
<line x1="109.20" y1="314.26" x2="110.20" y2="314.26" stroke="#333" stroke-width="0.5"/>
<line x1="109.20" y1="313.87" x2="110.20" y2="313.87" stroke="#333" stroke-width="0.5"/>
<line x1="109.20" y1="313.52" x2="110.20" y2="313.52" stroke="#333" stroke-width="0.5"/>
<line x1="107.00" y1="313.21" x2="109.20" y2="313.21" stroke="#000" stroke-width="0.8"/>
<line x1="109.20" y1="311.18" x2="110.20" y2="311.18" stroke="#333" stroke-width="0.5"/>
<line x1="109.20" y1="309.98" x2="110.20" y2="309.98" stroke="#333" stroke-width="0.5"/>
<line x1="109.20" y1="309.14" x2="110.20" y2="309.14" stroke="#333" stroke-width="0.5"/>
<line x1="109.20" y1="308.48" x2="110.60" y2="308.48" stroke="#333" stroke-width="0.5"/>
<line x1="109.20" y1="307.95" x2="110.20" y2="307.95" stroke="#333" stroke-width="0.5"/>
<line x1="109.20" y1="307.49" x2="110.20" y2="307.49" stroke="#333" stroke-width="0.5"/>
<line x1="109.20" y1="307.10" x2="110.20" y2="307.10" stroke="#333" stroke-width="0.5"/>
<line x1="109.20" y1="306.75" x2="110.20" y2="306.75" stroke="#333" stroke-width="0.5"/>
<line x1="107.00" y1="306.44" x2="109.20" y2="306.44" stroke="#000" stroke-width="0.8"/>
<line x1="109.20" y1="304.40" x2="110.20" y2="304.40" stroke="#333" stroke-width="0.5"/>
<line x1="109.20" y1="303.21" x2="110.20" y2="303.21" stroke="#333" stroke-width="0.5"/>
<line x1="109.20" y1="302.37" x2="110.20" y2="302.37" stroke="#333" stroke-width="0.5"/>
<line x1="109.20" y1="301.71" x2="110.60" y2="301.71" stroke="#333" stroke-width="0.5"/>
<line x1="109.20" y1="301.17" x2="110.20" y2="301.17" stroke="#333" stroke-width="0.5"/>
<line x1="109.20" y1="300.72" x2="110.20" y2="300.72" stroke="#333" stroke-width="0.5"/>
<line x1="109.20" y1="300.33" x2="110.20" y2="300.33" stroke="#333" stroke-width="0.5"/>
<line x1="109.20" y1="299.98" x2="110.20" y2="299.98" stroke="#333" stroke-width="0.5"/>
<line x1="107.00" y1="299.67" x2="109.20" y2="299.67" stroke="#000" stroke-width="0.8"/>
<line x1="109.20" y1="297.63" x2="110.20" y2="297.63" stroke="#333" stroke-width="0.5"/>
<line x1="109.20" y1="296.44" x2="110.20" y2="296.44" stroke="#333" stroke-width="0.5"/>
<line x1="109.20" y1="295.59" x2="110.20" y2="295.59" stroke="#333" stroke-width="0.5"/>
<line x1="109.20" y1="294.94" x2="110.60" y2="294.94" stroke="#333" stroke-width="0.5"/>
<line x1="109.20" y1="294.40" x2="110.20" y2="294.40" stroke="#333" stroke-width="0.5"/>
<line x1="109.20" y1="293.95" x2="110.20" y2="293.95" stroke="#333" stroke-width="0.5"/>
<line x1="109.20" y1="293.56" x2="110.20" y2="293.56" stroke="#333" stroke-width="0.5"/>
<line x1="109.20" y1="293.21" x2="110.20" y2="293.21" stroke="#333" stroke-width="0.5"/>
<line x1="107.00" y1="292.90" x2="109.20" y2="292.90" stroke="#000" stroke-width="0.8"/>
<line x1="110.20" y1="340.30" x2="110.20" y2="342.10" stroke="#000" stroke-width="0.8"/>
<line x1="112.58" y1="340.30" x2="112.58" y2="341.30" stroke="#333" stroke-width="0.5"/>
<line x1="113.98" y1="340.30" x2="113.98" y2="341.30" stroke="#333" stroke-width="0.5"/>
<line x1="114.97" y1="340.30" x2="114.97" y2="341.30" stroke="#333" stroke-width="0.5"/>
<line x1="115.73" y1="340.30" x2="115.73" y2="341.30" stroke="#333" stroke-width="0.5"/>
<line x1="116.36" y1="340.30" x2="116.36" y2="341.30" stroke="#333" stroke-width="0.5"/>
<line x1="116.89" y1="340.30" x2="116.89" y2="341.30" stroke="#333" stroke-width="0.5"/>
<line x1="117.35" y1="340.30" x2="117.35" y2="341.30" stroke="#333" stroke-width="0.5"/>
<line x1="117.75" y1="340.30" x2="117.75" y2="341.30" stroke="#333" stroke-width="0.5"/>
<line x1="118.12" y1="340.30" x2="118.12" y2="342.10" stroke="#000" stroke-width="0.8"/>
<line x1="120.50" y1="340.30" x2="120.50" y2="341.30" stroke="#333" stroke-width="0.5"/>
<line x1="121.89" y1="340.30" x2="121.89" y2="341.30" stroke="#333" stroke-width="0.5"/>
<line x1="122.88" y1="340.30" x2="122.88" y2="341.30" stroke="#333" stroke-width="0.5"/>
<line x1="123.65" y1="340.30" x2="123.65" y2="341.30" stroke="#333" stroke-width="0.5"/>
<line x1="124.28" y1="340.30" x2="124.28" y2="341.30" stroke="#333" stroke-width="0.5"/>
<line x1="124.81" y1="340.30" x2="124.81" y2="341.30" stroke="#333" stroke-width="0.5"/>
<line x1="125.27" y1="340.30" x2="125.27" y2="341.30" stroke="#333" stroke-width="0.5"/>
<line x1="125.67" y1="340.30" x2="125.67" y2="341.30" stroke="#333" stroke-width="0.5"/>
<line x1="126.03" y1="340.30" x2="126.03" y2="342.10" stroke="#000" stroke-width="0.8"/>
<line x1="128.42" y1="340.30" x2="128.42" y2="341.30" stroke="#333" stroke-width="0.5"/>
<line x1="129.81" y1="340.30" x2="129.81" y2="341.30" stroke="#333" stroke-width="0.5"/>
<line x1="130.80" y1="340.30" x2="130.80" y2="341.30" stroke="#333" stroke-width="0.5"/>
<line x1="131.57" y1="340.30" x2="131.57" y2="341.30" stroke="#333" stroke-width="0.5"/>
<line x1="132.19" y1="340.30" x2="132.19" y2="341.30" stroke="#333" stroke-width="0.5"/>
<line x1="132.72" y1="340.30" x2="132.72" y2="341.30" stroke="#333" stroke-width="0.5"/>
<line x1="133.18" y1="340.30" x2="133.18" y2="341.30" stroke="#333" stroke-width="0.5"/>
<line x1="133.59" y1="340.30" x2="133.59" y2="341.30" stroke="#333" stroke-width="0.5"/>
<line x1="133.95" y1="340.30" x2="133.95" y2="342.10" stroke="#000" stroke-width="0.8"/>
<line x1="136.33" y1="340.30" x2="136.33" y2="341.30" stroke="#333" stroke-width="0.5"/>
<line x1="137.73" y1="340.30" x2="137.73" y2="341.30" stroke="#333" stroke-width="0.5"/>
<line x1="138.72" y1="340.30" x2="138.72" y2="341.30" stroke="#333" stroke-width="0.5"/>
<line x1="139.48" y1="340.30" x2="139.48" y2="341.30" stroke="#333" stroke-width="0.5"/>
<line x1="140.11" y1="340.30" x2="140.11" y2="341.30" stroke="#333" stroke-width="0.5"/>
<line x1="140.64" y1="340.30" x2="140.64" y2="341.30" stroke="#333" stroke-width="0.5"/>
<line x1="141.10" y1="340.30" x2="141.10" y2="341.30" stroke="#333" stroke-width="0.5"/>
<line x1="141.50" y1="340.30" x2="141.50" y2="341.30" stroke="#333" stroke-width="0.5"/>
<line x1="141.87" y1="340.30" x2="141.87" y2="342.10" stroke="#000" stroke-width="0.8"/>
<line x1="144.25" y1="340.30" x2="144.25" y2="341.30" stroke="#333" stroke-width="0.5"/>
<line x1="145.64" y1="340.30" x2="145.64" y2="341.30" stroke="#333" stroke-width="0.5"/>
<line x1="146.63" y1="340.30" x2="146.63" y2="341.30" stroke="#333" stroke-width="0.5"/>
<line x1="147.40" y1="340.30" x2="147.40" y2="341.30" stroke="#333" stroke-width="0.5"/>
<line x1="148.03" y1="340.30" x2="148.03" y2="341.30" stroke="#333" stroke-width="0.5"/>
<line x1="148.56" y1="340.30" x2="148.56" y2="341.30" stroke="#333" stroke-width="0.5"/>
<line x1="149.02" y1="340.30" x2="149.02" y2="341.30" stroke="#333" stroke-width="0.5"/>
<line x1="149.42" y1="340.30" x2="149.42" y2="341.30" stroke="#333" stroke-width="0.5"/>
<line x1="149.78" y1="340.30" x2="149.78" y2="342.10" stroke="#000" stroke-width="0.8"/>
<line x1="152.17" y1="340.30" x2="152.17" y2="341.30" stroke="#333" stroke-width="0.5"/>
<line x1="153.56" y1="340.30" x2="153.56" y2="341.30" stroke="#333" stroke-width="0.5"/>
<line x1="154.55" y1="340.30" x2="154.55" y2="341.30" stroke="#333" stroke-width="0.5"/>
<line x1="155.32" y1="340.30" x2="155.32" y2="341.30" stroke="#333" stroke-width="0.5"/>
<line x1="155.94" y1="340.30" x2="155.94" y2="341.30" stroke="#333" stroke-width="0.5"/>
<line x1="156.47" y1="340.30" x2="156.47" y2="341.30" stroke="#333" stroke-width="0.5"/>
<line x1="156.93" y1="340.30" x2="156.93" y2="341.30" stroke="#333" stroke-width="0.5"/>
<line x1="157.34" y1="340.30" x2="157.34" y2="341.30" stroke="#333" stroke-width="0.5"/>
<line x1="157.70" y1="340.30" x2="157.70" y2="342.10" stroke="#000" stroke-width="0.8"/>
<line x1="133.40" y1="290.90" x2="133.40" y2="340.30" stroke="#a0a0a0" stroke-width="1.0"/>
<line x1="109.20" y1="315.60" x2="158.70" y2="315.60" stroke="#a0a0a0" stroke-width="1.0"/>
<ellipse cx="133.00" cy="317.00" rx="5.50" ry="8.80" fill="#000" opacity="0.4" transform="rotate(-18 133.00 316.50)" filter="url(#blur1)"/>
<path d="M138.7 315.7h.5M133.5 316.4h.5M126.1 320.2h.5M128.0 320.0h.5M133.0 323.9h.5M132.4 317.3h.5M130.4 321.9h.5M133.5 320.8h.5M137.4 320.5h.5M128.6 306.4h.5M130.4 323.2h.5M139.0 323.3h.5M129.2 312.0h.5M137.9 321.0h.5M133.1 317.0h.5M127.8 317.4h.5M136.0 310.2h.5M131.0 316.7h.5M128.5 307.0h.5M130.2 314.3h.5M131.1 315.1h.5M131.2 311.3h.5M138.4 313.2h.5M141.0 323.7h.5M131.3 310.1h.5M122.4 310.8h.5M132.3 318.3h.5M129.2 314.9h.5M143.1 315.5h.5M129.8 321.8h.5M124.9 304.1h.5M132.0 312.2h.5M136.4 327.1h.5M131.5 311.8h.5M134.6 302.6h.5M131.2 326.2h.5M137.7 313.4h.5M130.7 319.4h.5M134.0 317.2h.5M128.4 309.6h.5M129.1 315.0h.5M129.7 313.1h.5M128.6 306.4h.5M138.2 323.4h.5M127.7 309.4h.5M134.8 319.3h.5M134.0 322.6h.5M128.8 311.2h.5M137.3 312.3h.5M127.0 304.1h.5M130.4 313.8h.5M134.1 320.9h.5M131.4 310.0h.5M137.4 317.9h.5M134.8 315.9h.5M130.6 308.8h.5M126.1 314.8h.5M130.7 318.9h.5M119.8 317.3h.5M131.7 324.0h.5M129.5 314.2h.5M133.5 319.1h.5M123.1 311.6h.5M135.2 317.5h.5M135.2 325.2h.5M126.9 318.7h.5M131.0 318.6h.5M130.2 318.8h.5M142.9 317.1h.5M136.4 325.7h.5M139.2 328.6h.5M127.7 311.7h.5M123.8 313.9h.5M128.9 327.9h.5M134.4 320.0h.5M133.6 316.7h.5M129.3 308.6h.5M137.7 313.0h.5M140.6 318.8h.5M127.3 316.1h.5M130.2 313.8h.5M130.3 316.8h.5M128.8 312.9h.5M132.7 316.5h.5M131.2 319.4h.5M131.5 319.2h.5M134.4 323.0h.5M129.0 328.5h.5M132.9 323.9h.5M129.7 315.9h.5M132.9 313.3h.5M129.7 315.5h.5M134.0 304.1h.5M134.3 324.4h.5M133.7 325.4h.5M121.1 310.7h.5M128.3 311.6h.5M130.2 320.2h.5M128.1 318.9h.5M132.2 314.4h.5M138.7 311.2h.5M138.1 309.8h.5M134.3 317.4h.5M130.4 321.3h.5M137.9 318.7h.5M134.8 324.2h.5M135.5 317.7h.5M121.0 318.4h.5M132.7 308.1h.5M118.8 314.2h.5M127.5 305.9h.5M130.2 317.9h.5M126.6 313.2h.5M136.0 313.3h.5M128.1 319.6h.5M133.9 315.5h.5M129.9 311.6h.5M140.1 307.3h.5M133.5 319.3h.5M135.6 313.0h.5M132.4 312.8h.5M130.4 305.3h.5M137.7 317.1h.5M134.9 314.7h.5M123.1 313.2h.5M133.9 325.1h.5M134.0 322.7h.5M131.1 311.7h.5M131.9 319.9h.5M133.3 310.8h.5M133.0 317.2h.5M137.6 323.2h.5M126.2 313.3h.5M129.1 329.3h.5M130.0 307.4h.5M139.8 312.8h.5M133.4 318.1h.5M131.6 304.4h.5M133.5 321.4h.5M133.8 315.5h.5M127.5 308.4h.5M118.0 309.7h.5M134.5 317.3h.5M130.8 318.3h.5M139.7 314.9h.5M137.1 335.0h.5M132.7 313.5h.5M137.0 311.7h.5M134.4 319.3h.5M137.7 311.8h.5M133.8 308.3h.5M133.7 318.5h.5M139.2 329.6h.5M133.1 317.0h.5M132.0 316.2h.5M136.0 318.4h.5M137.3 313.8h.5M137.5 319.9h.5M135.2 320.0h.5M134.3 316.3h.5M130.1 308.5h.5M129.0 317.5h.5M135.7 319.3h.5M130.5 312.4h.5M133.5 316.0h.5M130.1 322.0h.5M136.4 315.3h.5M127.2 318.1h.5M130.4 308.8h.5M134.5 316.4h.5M134.9 312.5h.5M132.6 317.0h.5M134.5 310.1h.5M136.4 327.2h.5M130.2 310.7h.5M138.7 320.1h.5M126.5 318.9h.5M126.9 317.6h.5M137.0 319.7h.5M126.2 312.3h.5M138.6 317.2h.5M131.7 317.7h.5M125.2 307.4h.5M127.6 320.4h.5M130.2 321.2h.5M136.1 317.0h.5M128.5 314.2h.5M129.9 318.3h.5M137.3 316.6h.5M140.5 316.8h.5M128.0 308.9h.5M126.8 309.5h.5M134.2 315.7h.5M140.9 318.7h.5M133.9 311.0h.5M131.6 320.8h.5M131.9 312.2h.5M131.6 318.8h.5M136.3 318.4h.5M131.4 315.9h.5M135.5 316.8h.5M126.4 313.9h.5M138.1 325.3h.5M135.0 312.0h.5M133.4 331.0h.5M133.6 314.5h.5M134.7 320.0h.5M133.0 317.7h.5M137.5 312.2h.5M132.3 319.7h.5M133.0 316.1h.5M132.3 312.0h.5M132.2 313.7h.5M136.9 311.6h.5M134.8 322.5h.5M131.4 319.1h.5M128.5 313.8h.5M129.3 314.2h.5M127.5 302.7h.5M132.8 316.2h.5M127.9 311.5h.5M131.6 314.7h.5M142.7 320.6h.5M131.6 313.6h.5M130.8 307.7h.5M128.9 321.1h.5M124.4 316.3h.5M128.8 317.1h.5M132.7 313.9h.5M135.4 315.1h.5M136.9 316.4h.5M142.1 325.1h.5M128.4 301.8h.5M129.5 316.4h.5M125.8 313.8h.5M135.1 311.1h.5M134.2 324.3h.5M125.9 311.6h.5M130.5 309.1h.5M134.4 320.8h.5M133.9 313.9h.5M130.9 319.0h.5M132.5 317.8h.5M135.0 304.9h.5M135.1 311.7h.5M135.4 315.2h.5M131.5 315.8h.5M138.1 318.5h.5M134.7 308.0h.5M129.0 312.9h.5M133.0 322.6h.5M135.3 312.8h.5M124.8 316.5h.5M126.4 313.7h.5M135.0 319.0h.5M137.8 308.5h.5M123.2 307.0h.5M135.2 306.8h.5M135.3 324.3h.5M129.4 320.5h.5M129.8 323.0h.5M125.4 314.5h.5M129.5 315.4h.5M137.8 321.7h.5M139.5 322.6h.5M126.8 318.9h.5M141.5 323.8h.5M136.3 314.3h.5M136.0 314.8h.5M131.7 323.3h.5M132.9 316.7h.5M136.3 320.4h.5M128.8 310.1h.5M130.0 313.4h.5M134.0 320.4h.5M131.6 315.5h.5M128.9 320.4h.5M133.5 321.2h.5M138.2 318.8h.5M133.5 321.5h.5M137.5 307.5h.5M136.1 319.6h.5M134.9 317.2h.5M128.8 315.2h.5M134.2 309.8h.5M129.0 312.0h.5M137.8 323.0h.5M127.6 314.2h.5M124.7 325.8h.5M138.9 319.3h.5M130.1 321.4h.5M138.6 308.2h.5M133.1 325.2h.5M133.0 323.3h.5M130.2 316.4h.5M125.9 315.6h.5M134.7 318.1h.5M139.4 320.6h.5M135.0 325.0h.5M138.4 315.7h.5M136.7 321.6h.5M133.5 314.2h.5M135.8 319.1h.5M130.1 319.6h.5M135.5 315.5h.5M132.8 332.8h.5M143.0 325.5h.5M136.4 315.4h.5M125.9 328.3h.5M138.3 308.9h.5M134.9 316.7h.5M136.6 307.5h.5M139.8 318.2h.5M125.0 309.5h.5M137.9 324.9h.5M129.5 315.8h.5M133.0 322.5h.5M131.2 313.2h.5M127.7 312.0h.5M135.8 321.0h.5M130.8 316.7h.5M127.6 321.3h.5M133.8 323.4h.5M127.9 326.9h.5M132.4 317.1h.5M132.3 312.0h.5M135.1 318.5h.5M132.8 322.4h.5M132.0 312.2h.5M130.9 315.0h.5M139.3 330.7h.5M134.7 324.6h.5M123.4 310.8h.5M128.4 316.6h.5M133.6 323.9h.5M131.4 315.8h.5M133.5 308.9h.5M134.2 322.6h.5M134.9 328.9h.5M135.7 316.5h.5M135.7 321.3h.5M125.2 323.5h.5M132.7 327.7h.5M127.6 319.4h.5M142.5 329.4h.5M135.2 319.5h.5M133.7 313.4h.5M128.9 312.0h.5M135.2 321.4h.5M131.3 319.7h.5M129.6 306.8h.5M132.6 310.1h.5M136.0 319.1h.5M133.3 318.0h.5M128.0 309.1h.5M134.3 311.5h.5M139.6 320.5h.5M122.7 308.7h.5M132.5 313.2h.5M126.5 310.7h.5M129.3 314.4h.5M126.3 314.8h.5M128.2 315.8h.5M130.0 323.2h.5M129.8 309.6h.5M129.0 321.9h.5M137.0 317.0h.5M125.8 315.3h.5M130.3 311.0h.5M134.2 318.7h.5M135.2 322.2h.5M130.9 313.6h.5M129.0 321.5h.5M128.7 329.3h.5M137.2 318.7h.5M129.0 316.8h.5M126.5 313.0h.5M131.1 311.7h.5M127.9 316.5h.5M128.9 315.1h.5M131.0 311.3h.5M134.6 323.8h.5M138.5 314.3h.5M134.2 314.0h.5M130.7 305.4h.5M136.8 327.9h.5M130.9 321.0h.5M133.4 325.5h.5M133.5 328.0h.5M131.0 308.4h.5M130.8 310.7h.5M129.4 314.8h.5M138.4 317.6h.5M139.2 315.4h.5M128.2 298.7h.5M128.9 316.0h.5M130.6 320.9h.5M125.4 317.1h.5M128.6 309.9h.5M128.9 314.3h.5M135.4 318.4h.5M136.8 318.3h.5M125.9 313.7h.5M126.3 320.0h.5M137.4 314.1h.5M133.5 317.8h.5M131.0 322.4h.5M130.2 318.5h.5M129.4 327.4h.5M134.2 314.3h.5M133.9 322.3h.5M128.7 320.5h.5M136.0 315.4h.5M136.0 316.5h.5M134.7 326.5h.5M135.1 322.4h.5M132.9 315.0h.5M133.0 311.0h.5M129.9 317.2h.5M136.3 320.1h.5M136.8 307.4h.5M134.5 326.7h.5M133.0 325.2h.5M133.0 313.2h.5M132.6 309.3h.5M143.6 317.4h.5M130.7 311.2h.5M134.9 322.6h.5M134.9 326.5h.5M130.7 315.7h.5M125.6 308.6h.5M138.3 312.7h.5M132.3 327.9h.5M129.3 322.0h.5M139.1 324.7h.5M136.7 315.2h.5M138.7 310.2h.5M124.9 306.6h.5M137.4 320.2h.5M136.2 311.6h.5M125.4 314.6h.5M141.0 324.7h.5M127.3 328.0h.5M137.6 317.2h.5M132.0 314.7h.5M129.8 315.1h.5M132.5 324.4h.5M134.6 315.3h.5M136.0 319.7h.5M135.2 312.8h.5M134.2 317.3h.5M132.4 322.9h.5M130.3 323.6h.5M128.7 322.4h.5M141.5 320.4h.5M133.6 316.2h.5M133.2 306.4h.5M130.6 315.3h.5M130.1 315.1h.5M133.9 319.3h.5M131.3 321.6h.5M134.3 323.0h.5M132.2 311.7h.5M134.8 334.6h.5M129.8 305.1h.5M126.4 321.0h.5M129.9 319.8h.5M129.6 319.8h.5M131.1 309.0h.5M131.0 315.7h.5M133.5 304.9h.5M128.3 311.6h.5M135.0 325.4h.5M128.0 299.8h.5M133.5 318.4h.5M125.8 310.2h.5M133.3 311.1h.5M130.5 317.0h.5M129.3 323.4h.5M132.1 319.2h.5M131.9 323.2h.5M136.1 319.7h.5M133.0 308.7h.5M129.4 312.7h.5M137.6 315.8h.5M131.8 316.7h.5M135.1 315.9h.5M134.5 319.0h.5M126.8 314.5h.5M131.2 310.1h.5M139.4 327.3h.5M132.2 318.0h.5M132.2 319.4h.5M136.5 319.5h.5M134.3 314.4h.5M137.4 320.0h.5M138.8 321.6h.5M129.8 316.5h.5M136.2 324.3h.5M135.2 328.6h.5M136.9 320.6h.5M140.4 315.4h.5M134.4 320.4h.5M133.1 315.0h.5M130.1 308.7h.5M140.6 311.0h.5M128.8 317.1h.5M131.7 312.6h.5M127.7 308.5h.5M136.6 325.3h.5M138.8 321.3h.5M132.7 319.2h.5M141.4 326.5h.5M133.2 320.9h.5M140.6 316.7h.5M131.9 317.8h.5M129.8 308.6h.5M130.9 311.7h.5M127.8 309.1h.5M127.4 313.8h.5M129.5 311.8h.5M140.3 320.7h.5M142.4 315.5h.5M139.2 318.0h.5M129.4 313.9h.5M132.5 311.2h.5M130.9 308.4h.5M134.9 308.2h.5M136.9 321.6h.5M135.1 321.2h.5M140.2 309.5h.5M130.7 325.7h.5M136.4 318.0h.5M137.4 316.3h.5M137.5 314.7h.5M127.2 311.0h.5M136.7 318.6h.5M135.6 311.7h.5M133.9 308.4h.5M137.6 322.2h.5M133.7 324.7h.5M135.7 318.3h.5M129.6 312.0h.5M141.8 314.3h.5M130.1 321.4h.5M124.9 306.0h.5M131.5 319.0h.5M134.4 319.0h.5M136.1 323.5h.5M133.3 308.8h.5M135.3 313.6h.5M126.5 316.8h.5M134.7 327.5h.5M133.3 312.9h.5M135.0 313.8h.5M132.4 320.7h.5M135.0 322.3h.5M132.8 320.8h.5M137.5 316.4h.5M140.2 329.3h.5M133.3 313.8h.5M133.6 325.7h.5M136.3 318.5h.5M132.6 325.9h.5M136.3 326.2h.5M131.1 311.2h.5M136.1 313.2h.5M129.5 314.3h.5M125.4 311.8h.5M128.0 323.9h.5M131.5 320.5h.5M137.9 323.5h.5M136.1 328.8h.5M125.4 317.2h.5M132.2 310.5h.5M139.7 317.8h.5M125.9 312.3h.5M135.7 317.9h.5M138.3 312.6h.5M127.7 325.3h.5M133.7 317.2h.5M132.5 322.5h.5M125.7 318.5h.5M132.0 311.6h.5M136.7 321.1h.5M135.2 317.6h.5M134.2 320.9h.5M137.0 321.9h.5M133.8 323.7h.5M132.7 321.6h.5M133.9 317.1h.5M131.3 315.8h.5M123.9 311.4h.5M130.5 318.7h.5M122.8 308.3h.5M130.1 330.5h.5M131.1 318.1h.5M137.1 321.8h.5M134.3 322.8h.5M132.4 315.8h.5M130.8 316.8h.5M131.6 312.4h.5M133.6 315.2h.5M136.8 316.5h.5M129.7 321.4h.5M132.5 320.7h.5M132.8 312.2h.5M131.0 320.6h.5M131.9 303.3h.5M134.7 317.1h.5M127.9 316.7h.5M139.0 318.1h.5M139.5 324.7h.5M132.1 317.9h.5M130.3 309.7h.5M137.0 308.1h.5M132.8 320.1h.5M138.2 331.2h.5M129.5 316.2h.5M131.2 308.4h.5M135.9 315.4h.5M130.8 313.2h.5M138.1 323.5h.5M128.1 310.8h.5M129.6 318.4h.5M124.6 299.6h.5M123.8 303.6h.5M133.9 318.2h.5M126.4 301.7h.5M129.2 328.3h.5M143.7 318.5h.5M134.4 313.0h.5M133.8 322.4h.5M133.1 319.7h.5M130.0 320.1h.5M132.7 329.0h.5M130.6 315.2h.5M133.9 317.2h.5M134.8 308.8h.5M141.1 318.7h.5M134.1 317.2h.5M129.4 306.0h.5M134.2 327.5h.5M138.1 323.6h.5M131.1 318.5h.5M132.7 316.0h.5M133.6 322.3h.5M130.0 326.6h.5M132.1 321.5h.5M128.0 322.6h.5M138.2 320.9h.5M140.7 330.6h.5M130.8 308.9h.5M133.5 312.5h.5M138.8 319.1h.5M133.0 312.1h.5M135.6 322.1h.5M128.6 321.2h.5M135.9 307.8h.5M134.5 322.8h.5M134.2 313.4h.5M134.8 319.8h.5M134.4 316.7h.5M131.4 318.4h.5M131.9 313.6h.5M131.4 314.4h.5M134.6 323.7h.5M132.0 306.5h.5M126.4 321.7h.5M134.6 311.2h.5M128.3 312.4h.5M129.9 320.7h.5M131.2 321.8h.5M131.8 313.8h.5M136.2 316.8h.5M137.7 314.5h.5M132.2 328.7h.5M132.5 318.9h.5M139.9 320.1h.5M135.4 322.9h.5M142.1 321.8h.5M132.4 317.0h.5M128.4 308.3h.5M124.9 310.7h.5M132.5 310.5h.5M142.4 311.9h.5M136.8 317.2h.5M134.2 311.2h.5M134.4 316.6h.5M136.6 322.2h.5M136.3 315.6h.5M138.3 321.5h.5M134.5 315.5h.5M136.0 318.4h.5M133.9 317.8h.5M137.3 321.1h.5M127.1 311.8h.5M132.9 317.5h.5M129.5 318.8h.5M134.0 309.1h.5M134.9 327.2h.5M126.6 300.4h.5M130.6 307.8h.5M125.9 322.4h.5M134.1 332.7h.5M139.0 313.3h.5M130.9 317.4h.5M130.3 298.2h.5M129.4 326.4h.5M124.3 320.8h.5M146.5 314.5h.5M132.1 322.3h.5M116.5 303.9h.5M133.3 337.6h.5M140.1 304.8h.5M126.7 329.7h.5M123.4 319.8h.5M140.4 329.4h.5M121.4 311.9h.5M140.3 322.3h.5M132.1 320.6h.5M132.1 310.1h.5M136.1 310.8h.5M124.1 314.2h.5M119.7 304.9h.5M123.7 308.7h.5M121.4 304.3h.5M157.0 315.5h.5M116.3 325.1h.5M124.5 326.4h.5M132.4 321.8h.5M136.7 319.1h.5M138.7 326.8h.5M137.8 305.8h.5M137.5 329.3h.5M141.0 310.3h.5M119.2 323.1h.5M133.5 313.1h.5M136.2 321.9h.5M122.2 307.3h.5M127.8 305.0h.5M132.2 300.6h.5M155.3 324.8h.5M132.8 317.2h.5M129.3 322.3h.5M133.4 329.8h.5M132.4 322.1h.5M135.7 310.7h.5M121.2 300.5h.5M128.5 322.0h.5M136.0 320.2h.5M126.9 317.1h.5M130.8 337.6h.5M137.3 331.2h.5M139.0 320.5h.5M136.1 317.6h.5M117.1 324.6h.5M124.7 324.7h.5M135.7 327.0h.5M130.5 313.5h.5M133.3 318.5h.5M129.9 321.1h.5M128.7 314.0h.5M123.2 317.9h.5M125.2 328.3h.5M138.1 330.4h.5M124.0 320.1h.5M127.5 312.5h.5M127.7 322.1h.5M133.6 327.5h.5M140.2 308.6h.5M132.2 318.7h.5M136.2 317.8h.5M135.7 326.7h.5M119.6 320.9h.5M136.8 315.5h.5M130.3 299.6h.5M135.4 312.9h.5M134.2 338.0h.5M118.0 311.3h.5M135.5 315.7h.5M125.2 316.3h.5" stroke="#222" stroke-width="0.5" stroke-opacity="0.5" fill="none"/>
<ellipse cx="133.00" cy="316.50" rx="3.70" ry="6.40" fill="#050505" transform="rotate(-18 133.00 316.50)" filter="url(#blur04)"/>
<rect x="109.20" y="290.90" width="49.50" height="49.40" fill="none" stroke="#000" stroke-width="1.2"/>
<text x="111.40" y="296.30" font-size="4.9" fill="#222">21.9</text>
<text x="156.10" y="296.30" font-size="4.9" text-anchor="end" fill="#222">13.6</text>
<text x="112.60" y="337.10" font-size="4.9" fill="#222">18.0</text>
<text x="156.10" y="337.10" font-size="4.9" text-anchor="end" fill="#222">46.5</text>
<text x="103.20" y="342.10" font-size="5.6" text-anchor="end" fill="#222">10<tspan font-size="3.7" dy="-2.2">0</tspan></text>
<text x="103.20" y="335.40" font-size="5.6" text-anchor="end" fill="#222">10<tspan font-size="3.7" dy="-2.2">1</tspan></text>
<text x="103.20" y="328.70" font-size="5.6" text-anchor="end" fill="#222">10<tspan font-size="3.7" dy="-2.2">2</tspan></text>
<text x="103.20" y="322.00" font-size="5.6" text-anchor="end" fill="#222">10<tspan font-size="3.7" dy="-2.2">3</tspan></text>
<text x="103.20" y="315.30" font-size="5.6" text-anchor="end" fill="#222">10<tspan font-size="3.7" dy="-2.2">4</tspan></text>
<text x="103.20" y="308.60" font-size="5.6" text-anchor="end" fill="#222">10<tspan font-size="3.7" dy="-2.2">5</tspan></text>
<text x="103.20" y="301.90" font-size="5.6" text-anchor="end" fill="#222">10<tspan font-size="3.7" dy="-2.2">6</tspan></text>
<text x="103.20" y="295.20" font-size="5.6" text-anchor="end" fill="#222">10<tspan font-size="3.7" dy="-2.2">7</tspan></text>
<text x="108.00" y="351.70" font-size="5.8" text-anchor="middle">10<tspan font-size="3.60" dy="-2.20">0</tspan></text>
<text x="121.75" y="351.70" font-size="5.8" text-anchor="middle">10<tspan font-size="3.60" dy="-2.20">2</tspan></text>
<text x="135.50" y="351.70" font-size="5.8" text-anchor="middle">10<tspan font-size="3.60" dy="-2.20">4</tspan></text>
<text x="149.25" y="351.70" font-size="5.8" text-anchor="middle">10<tspan font-size="3.60" dy="-2.20">6</tspan></text>
<line x1="109.20" y1="355.80" x2="153.50" y2="355.80" stroke="#222" stroke-width="1.2"/>
<path d="M153.00,353.30 L158.20,355.80 L153.00,358.30 Z" stroke="none" stroke-width="1" fill="#222"/>
<line x1="186.00" y1="340.30" x2="188.20" y2="340.30" stroke="#000" stroke-width="0.8"/>
<line x1="188.20" y1="338.26" x2="189.20" y2="338.26" stroke="#333" stroke-width="0.5"/>
<line x1="188.20" y1="337.07" x2="189.20" y2="337.07" stroke="#333" stroke-width="0.5"/>
<line x1="188.20" y1="336.22" x2="189.20" y2="336.22" stroke="#333" stroke-width="0.5"/>
<line x1="188.20" y1="335.57" x2="189.60" y2="335.57" stroke="#333" stroke-width="0.5"/>
<line x1="188.20" y1="335.03" x2="189.20" y2="335.03" stroke="#333" stroke-width="0.5"/>
<line x1="188.20" y1="334.58" x2="189.20" y2="334.58" stroke="#333" stroke-width="0.5"/>
<line x1="188.20" y1="334.18" x2="189.20" y2="334.18" stroke="#333" stroke-width="0.5"/>
<line x1="188.20" y1="333.84" x2="189.20" y2="333.84" stroke="#333" stroke-width="0.5"/>
<line x1="186.00" y1="333.53" x2="188.20" y2="333.53" stroke="#000" stroke-width="0.8"/>
<line x1="188.20" y1="331.49" x2="189.20" y2="331.49" stroke="#333" stroke-width="0.5"/>
<line x1="188.20" y1="330.30" x2="189.20" y2="330.30" stroke="#333" stroke-width="0.5"/>
<line x1="188.20" y1="329.45" x2="189.20" y2="329.45" stroke="#333" stroke-width="0.5"/>
<line x1="188.20" y1="328.80" x2="189.60" y2="328.80" stroke="#333" stroke-width="0.5"/>
<line x1="188.20" y1="328.26" x2="189.20" y2="328.26" stroke="#333" stroke-width="0.5"/>
<line x1="188.20" y1="327.81" x2="189.20" y2="327.81" stroke="#333" stroke-width="0.5"/>
<line x1="188.20" y1="327.41" x2="189.20" y2="327.41" stroke="#333" stroke-width="0.5"/>
<line x1="188.20" y1="327.07" x2="189.20" y2="327.07" stroke="#333" stroke-width="0.5"/>
<line x1="186.00" y1="326.76" x2="188.20" y2="326.76" stroke="#000" stroke-width="0.8"/>
<line x1="188.20" y1="324.72" x2="189.20" y2="324.72" stroke="#333" stroke-width="0.5"/>
<line x1="188.20" y1="323.53" x2="189.20" y2="323.53" stroke="#333" stroke-width="0.5"/>
<line x1="188.20" y1="322.68" x2="189.20" y2="322.68" stroke="#333" stroke-width="0.5"/>
<line x1="188.20" y1="322.02" x2="189.60" y2="322.02" stroke="#333" stroke-width="0.5"/>
<line x1="188.20" y1="321.49" x2="189.20" y2="321.49" stroke="#333" stroke-width="0.5"/>
<line x1="188.20" y1="321.03" x2="189.20" y2="321.03" stroke="#333" stroke-width="0.5"/>
<line x1="188.20" y1="320.64" x2="189.20" y2="320.64" stroke="#333" stroke-width="0.5"/>
<line x1="188.20" y1="320.30" x2="189.20" y2="320.30" stroke="#333" stroke-width="0.5"/>
<line x1="186.00" y1="319.99" x2="188.20" y2="319.99" stroke="#000" stroke-width="0.8"/>
<line x1="188.20" y1="317.95" x2="189.20" y2="317.95" stroke="#333" stroke-width="0.5"/>
<line x1="188.20" y1="316.75" x2="189.20" y2="316.75" stroke="#333" stroke-width="0.5"/>
<line x1="188.20" y1="315.91" x2="189.20" y2="315.91" stroke="#333" stroke-width="0.5"/>
<line x1="188.20" y1="315.25" x2="189.60" y2="315.25" stroke="#333" stroke-width="0.5"/>
<line x1="188.20" y1="314.72" x2="189.20" y2="314.72" stroke="#333" stroke-width="0.5"/>
<line x1="188.20" y1="314.26" x2="189.20" y2="314.26" stroke="#333" stroke-width="0.5"/>
<line x1="188.20" y1="313.87" x2="189.20" y2="313.87" stroke="#333" stroke-width="0.5"/>
<line x1="188.20" y1="313.52" x2="189.20" y2="313.52" stroke="#333" stroke-width="0.5"/>
<line x1="186.00" y1="313.21" x2="188.20" y2="313.21" stroke="#000" stroke-width="0.8"/>
<line x1="188.20" y1="311.18" x2="189.20" y2="311.18" stroke="#333" stroke-width="0.5"/>
<line x1="188.20" y1="309.98" x2="189.20" y2="309.98" stroke="#333" stroke-width="0.5"/>
<line x1="188.20" y1="309.14" x2="189.20" y2="309.14" stroke="#333" stroke-width="0.5"/>
<line x1="188.20" y1="308.48" x2="189.60" y2="308.48" stroke="#333" stroke-width="0.5"/>
<line x1="188.20" y1="307.95" x2="189.20" y2="307.95" stroke="#333" stroke-width="0.5"/>
<line x1="188.20" y1="307.49" x2="189.20" y2="307.49" stroke="#333" stroke-width="0.5"/>
<line x1="188.20" y1="307.10" x2="189.20" y2="307.10" stroke="#333" stroke-width="0.5"/>
<line x1="188.20" y1="306.75" x2="189.20" y2="306.75" stroke="#333" stroke-width="0.5"/>
<line x1="186.00" y1="306.44" x2="188.20" y2="306.44" stroke="#000" stroke-width="0.8"/>
<line x1="188.20" y1="304.40" x2="189.20" y2="304.40" stroke="#333" stroke-width="0.5"/>
<line x1="188.20" y1="303.21" x2="189.20" y2="303.21" stroke="#333" stroke-width="0.5"/>
<line x1="188.20" y1="302.37" x2="189.20" y2="302.37" stroke="#333" stroke-width="0.5"/>
<line x1="188.20" y1="301.71" x2="189.60" y2="301.71" stroke="#333" stroke-width="0.5"/>
<line x1="188.20" y1="301.17" x2="189.20" y2="301.17" stroke="#333" stroke-width="0.5"/>
<line x1="188.20" y1="300.72" x2="189.20" y2="300.72" stroke="#333" stroke-width="0.5"/>
<line x1="188.20" y1="300.33" x2="189.20" y2="300.33" stroke="#333" stroke-width="0.5"/>
<line x1="188.20" y1="299.98" x2="189.20" y2="299.98" stroke="#333" stroke-width="0.5"/>
<line x1="186.00" y1="299.67" x2="188.20" y2="299.67" stroke="#000" stroke-width="0.8"/>
<line x1="188.20" y1="297.63" x2="189.20" y2="297.63" stroke="#333" stroke-width="0.5"/>
<line x1="188.20" y1="296.44" x2="189.20" y2="296.44" stroke="#333" stroke-width="0.5"/>
<line x1="188.20" y1="295.59" x2="189.20" y2="295.59" stroke="#333" stroke-width="0.5"/>
<line x1="188.20" y1="294.94" x2="189.60" y2="294.94" stroke="#333" stroke-width="0.5"/>
<line x1="188.20" y1="294.40" x2="189.20" y2="294.40" stroke="#333" stroke-width="0.5"/>
<line x1="188.20" y1="293.95" x2="189.20" y2="293.95" stroke="#333" stroke-width="0.5"/>
<line x1="188.20" y1="293.56" x2="189.20" y2="293.56" stroke="#333" stroke-width="0.5"/>
<line x1="188.20" y1="293.21" x2="189.20" y2="293.21" stroke="#333" stroke-width="0.5"/>
<line x1="186.00" y1="292.90" x2="188.20" y2="292.90" stroke="#000" stroke-width="0.8"/>
<line x1="189.20" y1="340.30" x2="189.20" y2="342.10" stroke="#000" stroke-width="0.8"/>
<line x1="191.59" y1="340.30" x2="191.59" y2="341.30" stroke="#333" stroke-width="0.5"/>
<line x1="192.99" y1="340.30" x2="192.99" y2="341.30" stroke="#333" stroke-width="0.5"/>
<line x1="193.98" y1="340.30" x2="193.98" y2="341.30" stroke="#333" stroke-width="0.5"/>
<line x1="194.75" y1="340.30" x2="194.75" y2="341.30" stroke="#333" stroke-width="0.5"/>
<line x1="195.37" y1="340.30" x2="195.37" y2="341.30" stroke="#333" stroke-width="0.5"/>
<line x1="195.90" y1="340.30" x2="195.90" y2="341.30" stroke="#333" stroke-width="0.5"/>
<line x1="196.36" y1="340.30" x2="196.36" y2="341.30" stroke="#333" stroke-width="0.5"/>
<line x1="196.77" y1="340.30" x2="196.77" y2="341.30" stroke="#333" stroke-width="0.5"/>
<line x1="197.13" y1="340.30" x2="197.13" y2="342.10" stroke="#000" stroke-width="0.8"/>
<line x1="199.52" y1="340.30" x2="199.52" y2="341.30" stroke="#333" stroke-width="0.5"/>
<line x1="200.92" y1="340.30" x2="200.92" y2="341.30" stroke="#333" stroke-width="0.5"/>
<line x1="201.91" y1="340.30" x2="201.91" y2="341.30" stroke="#333" stroke-width="0.5"/>
<line x1="202.68" y1="340.30" x2="202.68" y2="341.30" stroke="#333" stroke-width="0.5"/>
<line x1="203.31" y1="340.30" x2="203.31" y2="341.30" stroke="#333" stroke-width="0.5"/>
<line x1="203.84" y1="340.30" x2="203.84" y2="341.30" stroke="#333" stroke-width="0.5"/>
<line x1="204.30" y1="340.30" x2="204.30" y2="341.30" stroke="#333" stroke-width="0.5"/>
<line x1="204.70" y1="340.30" x2="204.70" y2="341.30" stroke="#333" stroke-width="0.5"/>
<line x1="205.07" y1="340.30" x2="205.07" y2="342.10" stroke="#000" stroke-width="0.8"/>
<line x1="207.45" y1="340.30" x2="207.45" y2="341.30" stroke="#333" stroke-width="0.5"/>
<line x1="208.85" y1="340.30" x2="208.85" y2="341.30" stroke="#333" stroke-width="0.5"/>
<line x1="209.84" y1="340.30" x2="209.84" y2="341.30" stroke="#333" stroke-width="0.5"/>
<line x1="210.61" y1="340.30" x2="210.61" y2="341.30" stroke="#333" stroke-width="0.5"/>
<line x1="211.24" y1="340.30" x2="211.24" y2="341.30" stroke="#333" stroke-width="0.5"/>
<line x1="211.77" y1="340.30" x2="211.77" y2="341.30" stroke="#333" stroke-width="0.5"/>
<line x1="212.23" y1="340.30" x2="212.23" y2="341.30" stroke="#333" stroke-width="0.5"/>
<line x1="212.64" y1="340.30" x2="212.64" y2="341.30" stroke="#333" stroke-width="0.5"/>
<line x1="213.00" y1="340.30" x2="213.00" y2="342.10" stroke="#000" stroke-width="0.8"/>
<line x1="215.39" y1="340.30" x2="215.39" y2="341.30" stroke="#333" stroke-width="0.5"/>
<line x1="216.79" y1="340.30" x2="216.79" y2="341.30" stroke="#333" stroke-width="0.5"/>
<line x1="217.78" y1="340.30" x2="217.78" y2="341.30" stroke="#333" stroke-width="0.5"/>
<line x1="218.55" y1="340.30" x2="218.55" y2="341.30" stroke="#333" stroke-width="0.5"/>
<line x1="219.17" y1="340.30" x2="219.17" y2="341.30" stroke="#333" stroke-width="0.5"/>
<line x1="219.70" y1="340.30" x2="219.70" y2="341.30" stroke="#333" stroke-width="0.5"/>
<line x1="220.16" y1="340.30" x2="220.16" y2="341.30" stroke="#333" stroke-width="0.5"/>
<line x1="220.57" y1="340.30" x2="220.57" y2="341.30" stroke="#333" stroke-width="0.5"/>
<line x1="220.93" y1="340.30" x2="220.93" y2="342.10" stroke="#000" stroke-width="0.8"/>
<line x1="223.32" y1="340.30" x2="223.32" y2="341.30" stroke="#333" stroke-width="0.5"/>
<line x1="224.72" y1="340.30" x2="224.72" y2="341.30" stroke="#333" stroke-width="0.5"/>
<line x1="225.71" y1="340.30" x2="225.71" y2="341.30" stroke="#333" stroke-width="0.5"/>
<line x1="226.48" y1="340.30" x2="226.48" y2="341.30" stroke="#333" stroke-width="0.5"/>
<line x1="227.11" y1="340.30" x2="227.11" y2="341.30" stroke="#333" stroke-width="0.5"/>
<line x1="227.64" y1="340.30" x2="227.64" y2="341.30" stroke="#333" stroke-width="0.5"/>
<line x1="228.10" y1="340.30" x2="228.10" y2="341.30" stroke="#333" stroke-width="0.5"/>
<line x1="228.50" y1="340.30" x2="228.50" y2="341.30" stroke="#333" stroke-width="0.5"/>
<line x1="228.87" y1="340.30" x2="228.87" y2="342.10" stroke="#000" stroke-width="0.8"/>
<line x1="231.25" y1="340.30" x2="231.25" y2="341.30" stroke="#333" stroke-width="0.5"/>
<line x1="232.65" y1="340.30" x2="232.65" y2="341.30" stroke="#333" stroke-width="0.5"/>
<line x1="233.64" y1="340.30" x2="233.64" y2="341.30" stroke="#333" stroke-width="0.5"/>
<line x1="234.41" y1="340.30" x2="234.41" y2="341.30" stroke="#333" stroke-width="0.5"/>
<line x1="235.04" y1="340.30" x2="235.04" y2="341.30" stroke="#333" stroke-width="0.5"/>
<line x1="235.57" y1="340.30" x2="235.57" y2="341.30" stroke="#333" stroke-width="0.5"/>
<line x1="236.03" y1="340.30" x2="236.03" y2="341.30" stroke="#333" stroke-width="0.5"/>
<line x1="236.44" y1="340.30" x2="236.44" y2="341.30" stroke="#333" stroke-width="0.5"/>
<line x1="236.80" y1="340.30" x2="236.80" y2="342.10" stroke="#000" stroke-width="0.8"/>
<line x1="212.40" y1="290.90" x2="212.40" y2="340.30" stroke="#a0a0a0" stroke-width="1.0"/>
<line x1="188.20" y1="315.60" x2="237.80" y2="315.60" stroke="#a0a0a0" stroke-width="1.0"/>
<path d="M212.90,319.20 C212.90,316.30 221.30,316.30 221.30,319.20 C221.50,326.60 219.20,331.20 218.90,332.40 C218.90,333.30 216.30,333.30 216.30,332.40 C216.00,331.20 212.70,326.60 212.90,319.20 Z" fill="#000" opacity="0.22" filter="url(#blur1)"/>
<path d="M216.4 326.7h.5M217.0 321.9h.5M218.5 315.9h.5M213.0 319.1h.5M216.4 322.1h.5M216.8 326.8h.5M220.0 327.2h.5M215.3 328.5h.5M217.0 335.3h.5M219.9 324.5h.5M217.3 319.6h.5M218.1 318.9h.5M218.8 315.4h.5M212.7 334.1h.5M222.6 333.2h.5M210.0 317.2h.5M211.5 316.2h.5M218.4 322.0h.5M217.7 322.0h.5M214.3 338.4h.5M219.7 319.6h.5M221.7 321.1h.5M216.5 334.1h.5M214.4 323.1h.5M216.4 336.2h.5M224.2 325.9h.5M223.9 317.8h.5M216.9 333.2h.5M216.6 326.7h.5M218.4 329.0h.5M218.5 317.2h.5M216.1 320.8h.5M219.6 316.0h.5M214.2 332.5h.5M217.5 311.3h.5M221.0 325.7h.5M216.2 317.9h.5M216.9 328.4h.5M218.8 324.9h.5M219.7 325.5h.5M213.3 326.3h.5M219.3 337.6h.5M217.9 319.3h.5M221.5 329.4h.5M215.3 318.5h.5M222.8 316.2h.5M215.0 326.3h.5M213.2 323.5h.5M219.3 322.4h.5M212.2 321.4h.5M217.2 332.1h.5M213.3 334.7h.5M214.0 333.9h.5M224.8 333.3h.5M216.9 335.8h.5M221.5 327.7h.5M216.9 322.5h.5M219.4 327.4h.5M215.7 326.6h.5M216.5 320.9h.5M218.0 322.1h.5M218.1 323.8h.5M214.7 327.9h.5M219.6 310.8h.5M216.6 323.5h.5M216.6 333.1h.5M218.0 322.3h.5M214.4 328.7h.5M210.8 322.8h.5M215.1 322.4h.5M216.3 318.7h.5M212.7 324.1h.5M214.1 334.1h.5M218.8 319.0h.5M219.4 323.3h.5M218.5 334.9h.5M220.7 320.0h.5M219.3 322.3h.5M221.1 324.2h.5M210.9 307.7h.5M214.8 320.4h.5M214.3 339.3h.5M218.1 330.3h.5M213.6 328.9h.5M215.3 316.8h.5M216.3 324.1h.5M213.1 334.2h.5M217.9 316.9h.5M207.2 329.6h.5M220.3 328.7h.5M213.8 320.0h.5M219.6 322.4h.5M217.7 329.0h.5M221.4 320.7h.5M217.1 326.2h.5M215.1 331.1h.5M213.3 327.6h.5M215.9 333.2h.5M218.2 321.4h.5M216.6 318.4h.5M220.1 323.7h.5M216.8 327.6h.5M219.5 322.5h.5M212.9 332.4h.5M219.2 325.5h.5M220.6 323.2h.5M223.0 323.6h.5M216.8 325.6h.5M216.4 323.8h.5M218.3 321.2h.5M219.3 325.0h.5M224.2 323.1h.5M214.6 320.3h.5M219.2 326.6h.5M213.9 330.4h.5M211.0 320.1h.5M215.9 324.2h.5M214.1 334.0h.5M221.5 325.5h.5M218.2 324.4h.5M218.0 329.9h.5M220.6 327.9h.5M216.3 317.4h.5M210.6 326.1h.5M211.7 321.8h.5M221.4 327.0h.5M218.0 325.4h.5M219.9 329.0h.5M213.8 318.8h.5M214.1 323.9h.5M224.9 325.7h.5M218.0 331.5h.5M220.7 320.9h.5M216.0 321.7h.5M221.6 319.3h.5M216.1 317.1h.5M220.7 320.6h.5M217.8 329.5h.5M216.9 316.3h.5M220.1 329.8h.5M220.5 320.4h.5M215.0 323.4h.5M220.3 323.1h.5M221.6 329.1h.5M219.4 319.8h.5M208.9 324.3h.5M221.8 329.6h.5M213.3 328.5h.5M217.3 327.1h.5M212.0 318.9h.5M216.2 331.6h.5M215.7 324.3h.5M221.7 321.4h.5M215.2 320.7h.5M221.3 321.5h.5M211.4 320.8h.5M218.3 325.0h.5M219.3 332.2h.5M218.4 321.7h.5M209.2 325.5h.5M220.0 327.3h.5M219.4 320.9h.5M219.4 315.6h.5M211.2 315.4h.5M220.3 328.8h.5M219.8 336.0h.5M212.4 326.1h.5M215.9 320.9h.5M220.2 322.4h.5M213.0 329.3h.5M215.6 323.7h.5M220.4 322.8h.5M216.1 326.9h.5M223.0 316.5h.5M223.1 331.1h.5M219.2 328.3h.5M212.5 327.0h.5M221.2 325.2h.5M211.0 322.8h.5M211.6 318.2h.5M212.9 329.8h.5M222.7 323.4h.5M221.2 321.5h.5M215.8 332.7h.5M224.8 332.8h.5M206.9 322.2h.5M218.3 325.5h.5M209.2 323.9h.5M213.4 322.3h.5M217.4 320.6h.5M217.9 315.9h.5M213.0 326.1h.5M211.7 326.5h.5M214.7 318.1h.5M217.4 320.4h.5M223.2 324.6h.5M223.0 319.7h.5M221.2 324.1h.5M219.9 321.6h.5M221.4 338.6h.5M214.2 319.9h.5M224.5 318.6h.5M216.7 320.9h.5M210.7 321.8h.5M216.8 313.1h.5M221.1 324.6h.5M206.1 324.1h.5M224.7 319.3h.5M217.8 335.7h.5M207.2 332.8h.5M223.8 334.7h.5M212.1 329.4h.5M216.7 334.8h.5M221.4 322.2h.5M217.3 319.7h.5M215.9 322.7h.5M217.6 322.9h.5M214.1 324.5h.5M215.5 323.9h.5M214.0 333.6h.5M221.7 332.3h.5M212.9 325.7h.5M216.1 324.4h.5M219.3 329.9h.5M213.9 332.8h.5M221.9 332.4h.5M214.8 325.7h.5M217.7 320.7h.5M214.0 324.0h.5M213.2 317.5h.5M216.5 323.9h.5M220.5 335.4h.5M212.2 326.0h.5M219.7 319.3h.5M215.9 324.7h.5M216.4 329.2h.5M223.1 337.7h.5M216.9 322.4h.5M220.9 323.2h.5M217.3 329.5h.5M213.9 334.6h.5M216.2 326.6h.5M215.0 326.3h.5M214.0 315.5h.5M214.9 327.5h.5M210.9 327.9h.5M223.2 322.8h.5M220.2 322.8h.5M220.8 323.2h.5M208.2 321.8h.5M221.8 323.6h.5M214.4 326.2h.5M211.4 336.0h.5M213.4 327.9h.5M218.6 322.6h.5M212.1 324.8h.5M217.4 324.0h.5M209.5 324.3h.5M217.0 324.0h.5M217.4 321.0h.5M211.8 326.3h.5M212.7 319.7h.5M217.6 335.8h.5M219.4 331.5h.5M216.3 323.0h.5M219.2 326.2h.5M218.5 327.2h.5M216.3 324.2h.5M217.7 335.6h.5M217.3 324.9h.5M220.3 329.8h.5M220.2 316.0h.5M217.1 323.1h.5M216.9 326.2h.5M220.4 326.6h.5M215.4 322.9h.5M210.7 319.7h.5M222.0 324.3h.5M211.1 322.7h.5M218.4 326.6h.5M212.3 322.0h.5M217.7 318.3h.5M214.4 320.6h.5M216.6 331.0h.5M223.6 314.6h.5M217.1 326.6h.5M216.6 323.0h.5M216.5 334.6h.5M219.2 321.3h.5M223.8 330.7h.5M212.1 318.7h.5M218.0 327.5h.5M212.5 333.1h.5M219.2 330.8h.5M211.8 316.3h.5M218.9 324.0h.5M220.7 320.5h.5M219.0 311.5h.5M213.4 327.4h.5M210.7 319.1h.5M216.3 328.3h.5M221.8 319.9h.5M213.6 336.9h.5M226.2 322.9h.5M216.0 329.8h.5M220.9 318.5h.5M222.8 317.2h.5M216.1 314.7h.5M221.6 329.6h.5M220.5 320.0h.5M219.3 317.9h.5M218.5 335.7h.5M219.9 320.6h.5M222.7 322.0h.5M217.2 332.0h.5M212.9 327.5h.5M218.3 319.2h.5M217.9 326.3h.5M219.3 326.3h.5M221.6 328.5h.5M216.7 324.4h.5M220.2 319.6h.5M219.8 322.5h.5M217.8 316.5h.5M221.0 317.8h.5M217.9 323.3h.5M221.5 324.9h.5M221.0 323.7h.5M215.5 331.0h.5M214.2 315.3h.5M207.5 331.1h.5M219.3 321.9h.5M220.8 334.4h.5M218.2 321.3h.5M227.3 320.9h.5M219.2 321.1h.5M208.4 323.0h.5M215.7 328.9h.5M217.3 321.7h.5M221.9 321.5h.5M211.8 319.1h.5M211.8 317.6h.5M219.1 321.7h.5M218.9 325.5h.5M210.3 322.1h.5M213.4 320.6h.5M222.2 335.7h.5M220.4 313.5h.5M220.7 329.9h.5M222.1 321.6h.5M210.4 317.9h.5M221.1 333.7h.5M221.1 320.8h.5M219.1 330.0h.5M214.8 330.3h.5M216.3 323.9h.5M213.9 330.9h.5M213.6 327.3h.5M213.9 318.7h.5M215.7 330.0h.5M217.2 324.4h.5M219.0 329.0h.5M218.4 325.1h.5M215.6 334.6h.5M210.1 316.7h.5M217.9 324.7h.5M215.0 329.7h.5M212.4 319.8h.5M220.8 317.8h.5M220.5 324.1h.5M218.7 323.6h.5M219.0 329.8h.5M211.6 317.4h.5M220.5 323.0h.5M212.8 332.5h.5M214.1 326.6h.5M215.1 326.3h.5M210.7 317.2h.5M221.0 318.1h.5M222.2 336.8h.5M215.1 325.2h.5M219.8 322.2h.5M220.4 320.3h.5M214.4 335.3h.5M221.2 321.7h.5M214.8 326.1h.5M220.3 328.4h.5M220.4 322.2h.5M217.8 324.3h.5M223.3 331.8h.5M214.9 325.0h.5M219.9 325.7h.5M217.3 328.8h.5M217.5 323.6h.5M222.8 320.4h.5M219.9 324.8h.5M217.1 322.6h.5M219.3 331.9h.5M215.9 325.0h.5M219.4 322.6h.5M214.0 323.7h.5M223.0 317.1h.5M215.7 320.3h.5M217.6 317.9h.5M218.7 315.0h.5M222.0 322.3h.5M221.7 320.2h.5M215.1 325.0h.5M218.2 321.9h.5M221.3 322.3h.5M215.7 322.2h.5M214.2 336.1h.5M217.8 327.6h.5M213.1 319.4h.5M220.8 321.5h.5M210.6 331.2h.5M224.6 328.4h.5M217.2 321.0h.5M215.1 324.3h.5M219.2 328.2h.5M219.0 330.7h.5M213.3 325.1h.5M214.7 320.3h.5M210.7 325.5h.5M213.3 322.3h.5M209.7 329.2h.5M211.5 321.6h.5M218.0 323.3h.5M224.7 327.3h.5M219.9 322.9h.5M216.8 337.7h.5M215.1 322.9h.5M203.2 324.6h.5M212.8 338.2h.5M213.8 322.1h.5M204.9 337.1h.5M215.2 325.5h.5M217.0 324.5h.5M225.7 336.1h.5M220.7 329.3h.5M214.0 327.0h.5M215.3 332.6h.5M211.9 324.1h.5M212.8 332.8h.5M218.1 318.3h.5M209.6 326.2h.5M216.3 327.5h.5M218.3 308.0h.5M220.9 329.2h.5M221.9 323.0h.5M197.3 339.4h.5M209.3 329.8h.5M213.6 333.6h.5M215.6 330.3h.5M206.8 323.5h.5M216.0 328.8h.5M225.8 327.5h.5M219.7 335.6h.5M206.7 334.8h.5M216.7 323.2h.5M219.6 328.4h.5M218.2 323.6h.5M211.4 328.9h.5M215.3 322.3h.5M214.5 323.2h.5M211.9 313.7h.5M228.7 329.6h.5M208.1 329.1h.5M212.5 324.4h.5M204.2 336.0h.5M211.6 330.2h.5M209.9 326.8h.5M215.6 335.4h.5M221.0 327.4h.5M219.8 329.6h.5M224.2 334.0h.5" stroke="#222" stroke-width="0.5" stroke-opacity="0.5" fill="none"/>
<path d="M215.00,320.40 C215.00,317.50 220.40,317.50 220.40,320.40 C220.60,324.98 219.20,327.70 218.90,328.90 C218.90,329.80 216.30,329.80 216.30,328.90 C216.00,327.70 214.80,324.98 215.00,320.40 Z" fill="#050505" filter="url(#blur04)"/>
<rect x="188.20" y="290.90" width="49.60" height="49.40" fill="none" stroke="#000" stroke-width="1.2"/>
<text x="190.40" y="296.30" font-size="4.9" fill="#222">0.012</text>
<text x="235.20" y="296.30" font-size="4.9" text-anchor="end" fill="#222">1.44</text>
<text x="191.60" y="337.10" font-size="4.9" fill="#222">1.77</text>
<text x="235.20" y="337.10" font-size="4.9" text-anchor="end" fill="#222">96.8</text>
<text x="182.20" y="342.10" font-size="5.6" text-anchor="end" fill="#222">10<tspan font-size="3.7" dy="-2.2">0</tspan></text>
<text x="182.20" y="335.40" font-size="5.6" text-anchor="end" fill="#222">10<tspan font-size="3.7" dy="-2.2">1</tspan></text>
<text x="182.20" y="328.70" font-size="5.6" text-anchor="end" fill="#222">10<tspan font-size="3.7" dy="-2.2">2</tspan></text>
<text x="182.20" y="322.00" font-size="5.6" text-anchor="end" fill="#222">10<tspan font-size="3.7" dy="-2.2">3</tspan></text>
<text x="182.20" y="315.30" font-size="5.6" text-anchor="end" fill="#222">10<tspan font-size="3.7" dy="-2.2">4</tspan></text>
<text x="182.20" y="308.60" font-size="5.6" text-anchor="end" fill="#222">10<tspan font-size="3.7" dy="-2.2">5</tspan></text>
<text x="182.20" y="301.90" font-size="5.6" text-anchor="end" fill="#222">10<tspan font-size="3.7" dy="-2.2">6</tspan></text>
<text x="182.20" y="295.20" font-size="5.6" text-anchor="end" fill="#222">10<tspan font-size="3.7" dy="-2.2">7</tspan></text>
<text x="187.00" y="351.70" font-size="5.8" text-anchor="middle">10<tspan font-size="3.60" dy="-2.20">0</tspan></text>
<text x="200.75" y="351.70" font-size="5.8" text-anchor="middle">10<tspan font-size="3.60" dy="-2.20">2</tspan></text>
<text x="214.50" y="351.70" font-size="5.8" text-anchor="middle">10<tspan font-size="3.60" dy="-2.20">4</tspan></text>
<text x="228.25" y="351.70" font-size="5.8" text-anchor="middle">10<tspan font-size="3.60" dy="-2.20">6</tspan></text>
<line x1="188.20" y1="355.80" x2="232.60" y2="355.80" stroke="#222" stroke-width="1.2"/>
<path d="M232.10,353.30 L237.30,355.80 L232.10,358.30 Z" stroke="none" stroke-width="1" fill="#222"/>
<line x1="11.30" y1="225.50" x2="11.30" y2="269.50" stroke="#222" stroke-width="1.1"/>
<path d="M8.80,226.00 L11.30,221.00 L13.80,226.00 Z" stroke="none" stroke-width="1" fill="#222"/>
<line x1="11.30" y1="294.50" x2="11.30" y2="340.00" stroke="#222" stroke-width="1.1"/>
<path d="M8.80,295.00 L11.30,290.00 L13.80,295.00 Z" stroke="none" stroke-width="1" fill="#222"/>
<text x="14.20" y="286.80" font-size="8.6" font-weight="bold" textLength="13.50" lengthAdjust="spacingAndGlyphs" transform="rotate(-90 14.20 286.80)">CD69</text>
<text x="134.20" y="366.60" font-size="8.6" text-anchor="middle" font-weight="bold" textLength="12.00" lengthAdjust="spacingAndGlyphs">Vβ5</text>
<rect x="241.60" y="240.30" width="19.60" height="9.50" fill="#fff" stroke="#000" stroke-width="0.9"/>
<text x="251.40" y="247.60" font-size="5.6" text-anchor="middle" textLength="16.20" lengthAdjust="spacingAndGlyphs">pFARL</text>
<rect x="242.40" y="310.60" width="20.60" height="9.30" fill="#fff" stroke="#000" stroke-width="0.9"/>
<text x="252.70" y="317.80" font-size="5.6" text-anchor="middle" textLength="15.80" lengthAdjust="spacingAndGlyphs">pOVA</text>
<line x1="303.30" y1="213.94" x2="303.30" y2="256.40" stroke="#000" stroke-width="1.0"/>
<line x1="301.10" y1="256.00" x2="303.30" y2="256.00" stroke="#000" stroke-width="0.9"/>
<text x="297.70" y="258.00" font-size="5.7" text-anchor="end" textLength="3.45" lengthAdjust="spacingAndGlyphs" fill="#222">0</text>
<line x1="301.10" y1="242.16" x2="303.30" y2="242.16" stroke="#000" stroke-width="0.9"/>
<text x="297.70" y="244.16" font-size="5.7" text-anchor="end" textLength="6.90" lengthAdjust="spacingAndGlyphs" fill="#222">50</text>
<line x1="301.10" y1="228.33" x2="303.30" y2="228.33" stroke="#000" stroke-width="0.9"/>
<text x="297.70" y="230.33" font-size="5.7" text-anchor="end" textLength="10.35" lengthAdjust="spacingAndGlyphs" fill="#222">100</text>
<line x1="301.10" y1="214.50" x2="303.30" y2="214.50" stroke="#000" stroke-width="0.9"/>
<text x="297.70" y="216.50" font-size="5.7" text-anchor="end" textLength="10.35" lengthAdjust="spacingAndGlyphs" fill="#222">150</text>
<line x1="303.30" y1="256.00" x2="384.60" y2="256.00" stroke="#000" stroke-width="1.4"/>
<line x1="315.80" y1="256.00" x2="315.80" y2="257.60" stroke="#000" stroke-width="0.8"/>
<line x1="343.60" y1="256.00" x2="343.60" y2="257.60" stroke="#000" stroke-width="0.8"/>
<line x1="371.40" y1="256.00" x2="371.40" y2="257.60" stroke="#000" stroke-width="0.8"/>
<rect x="318.00" y="226.12" width="6.60" height="29.88" fill="#b8102f"/>
<line x1="321.30" y1="222.52" x2="321.30" y2="226.12" stroke="#333" stroke-width="1.0"/>
<path d="M319.10,222.52 L323.50,222.52 L321.30,224.12 Z" stroke="#333" stroke-width="0.5" fill="#333"/>
<rect x="345.80" y="228.88" width="6.70" height="27.12" fill="#b8102f"/>
<line x1="349.15" y1="223.90" x2="349.15" y2="228.88" stroke="#333" stroke-width="1.0"/>
<path d="M346.95,223.90 L351.35,223.90 L349.15,225.50 Z" stroke="#333" stroke-width="0.5" fill="#333"/>
<rect x="374.40" y="255.58" width="5.80" height="0.42" fill="#b8102f"/>
<line x1="377.30" y1="255.31" x2="377.30" y2="255.58" stroke="#333" stroke-width="1.0"/>
<path d="M375.10,255.31 L379.50,255.31 L377.30,256.91 Z" stroke="#333" stroke-width="0.5" fill="#333"/>
<text x="306.30" y="214.20" font-size="5.4" textLength="22.40" lengthAdjust="spacingAndGlyphs" fill="#222">p=0.0001</text>
<line x1="310.00" y1="218.50" x2="322.50" y2="218.50" stroke="#6a6a6a" stroke-width="1.6"/>
<text x="332.50" y="214.20" font-size="5.4" textLength="22.50" lengthAdjust="spacingAndGlyphs" fill="#222">p=0.0008</text>
<line x1="336.00" y1="218.50" x2="350.00" y2="218.50" stroke="#6a6a6a" stroke-width="1.6"/>
<text x="360.00" y="214.20" font-size="5.4" textLength="22.50" lengthAdjust="spacingAndGlyphs" fill="#222">p=0.0064</text>
<line x1="363.80" y1="218.50" x2="377.50" y2="218.50" stroke="#6a6a6a" stroke-width="1.6"/>
<text x="287.20" y="267.20" font-size="5.9" textLength="11.00" lengthAdjust="spacingAndGlyphs" fill="#222">Fab:</text>
<text x="316.20" y="267.20" font-size="5.9" text-anchor="middle" fill="#222">Ms-</text>
<text x="316.20" y="275.90" font-size="5.9" text-anchor="middle" fill="#222">IgG</text>
<text x="343.90" y="267.20" font-size="5.9" text-anchor="middle" fill="#222">Mono-</text>
<text x="343.90" y="275.90" font-size="5.9" text-anchor="middle" fill="#222">OKT3</text>
<text x="371.40" y="267.20" font-size="5.9" text-anchor="middle" fill="#222">Mono-</text>
<text x="371.40" y="275.90" font-size="5.9" text-anchor="middle" fill="#222">UCHT1</text>
<line x1="303.30" y1="288.64" x2="303.30" y2="331.10" stroke="#000" stroke-width="1.0"/>
<line x1="301.10" y1="330.70" x2="303.30" y2="330.70" stroke="#000" stroke-width="0.9"/>
<text x="297.70" y="332.70" font-size="5.7" text-anchor="end" textLength="3.45" lengthAdjust="spacingAndGlyphs" fill="#222">0</text>
<line x1="301.10" y1="316.87" x2="303.30" y2="316.87" stroke="#000" stroke-width="0.9"/>
<text x="297.70" y="318.87" font-size="5.7" text-anchor="end" textLength="6.90" lengthAdjust="spacingAndGlyphs" fill="#222">50</text>
<line x1="301.10" y1="303.03" x2="303.30" y2="303.03" stroke="#000" stroke-width="0.9"/>
<text x="297.70" y="305.03" font-size="5.7" text-anchor="end" textLength="10.35" lengthAdjust="spacingAndGlyphs" fill="#222">100</text>
<line x1="301.10" y1="289.19" x2="303.30" y2="289.19" stroke="#000" stroke-width="0.9"/>
<text x="297.70" y="291.19" font-size="5.7" text-anchor="end" textLength="10.35" lengthAdjust="spacingAndGlyphs" fill="#222">150</text>
<line x1="303.30" y1="330.70" x2="384.60" y2="330.70" stroke="#000" stroke-width="1.4"/>
<line x1="315.80" y1="330.70" x2="315.80" y2="332.30" stroke="#000" stroke-width="0.8"/>
<line x1="343.60" y1="330.70" x2="343.60" y2="332.30" stroke="#000" stroke-width="0.8"/>
<line x1="371.40" y1="330.70" x2="371.40" y2="332.30" stroke="#000" stroke-width="0.8"/>
<rect x="307.30" y="304.41" width="6.60" height="26.29" fill="#2c4a8b"/>
<line x1="310.60" y1="304.14" x2="310.60" y2="304.41" stroke="#333" stroke-width="1.0"/>
<path d="M308.40,304.14 L312.80,304.14 L310.60,305.74 Z" stroke="#333" stroke-width="0.5" fill="#333"/>
<rect x="318.00" y="324.61" width="6.70" height="6.09" fill="#b8102f"/>
<line x1="321.35" y1="323.51" x2="321.35" y2="324.61" stroke="#333" stroke-width="1.0"/>
<path d="M319.15,323.51 L323.55,323.51 L321.35,325.11 Z" stroke="#333" stroke-width="0.5" fill="#333"/>
<rect x="335.00" y="304.97" width="6.60" height="25.73" fill="#2c4a8b"/>
<line x1="338.30" y1="304.55" x2="338.30" y2="304.97" stroke="#333" stroke-width="1.0"/>
<path d="M336.10,304.55 L340.50,304.55 L338.30,306.15 Z" stroke="#333" stroke-width="0.5" fill="#333"/>
<rect x="345.70" y="325.44" width="6.80" height="5.26" fill="#b8102f"/>
<line x1="349.10" y1="324.34" x2="349.10" y2="325.44" stroke="#333" stroke-width="1.0"/>
<path d="M346.90,324.34 L351.30,324.34 L349.10,325.94 Z" stroke="#333" stroke-width="0.5" fill="#333"/>
<rect x="363.00" y="305.24" width="6.80" height="25.46" fill="#2c4a8b"/>
<line x1="366.40" y1="304.97" x2="366.40" y2="305.24" stroke="#333" stroke-width="1.0"/>
<path d="M364.20,304.97 L368.60,304.97 L366.40,306.57 Z" stroke="#333" stroke-width="0.5" fill="#333"/>
<rect x="373.30" y="304.97" width="6.80" height="25.73" fill="#b8102f"/>
<line x1="376.70" y1="304.55" x2="376.70" y2="304.97" stroke="#333" stroke-width="1.0"/>
<path d="M374.50,304.55 L378.90,304.55 L376.70,306.15 Z" stroke="#333" stroke-width="0.5" fill="#333"/>
<text x="306.30" y="294.60" font-size="5.4" textLength="22.00" lengthAdjust="spacingAndGlyphs" fill="#222">p&lt;0.0001</text>
<line x1="311.00" y1="298.90" x2="322.00" y2="298.90" stroke="#6a6a6a" stroke-width="1.6"/>
<text x="333.00" y="294.60" font-size="5.4" textLength="22.00" lengthAdjust="spacingAndGlyphs" fill="#222">p&lt;0.0001</text>
<line x1="338.50" y1="298.90" x2="349.50" y2="298.90" stroke="#6a6a6a" stroke-width="1.6"/>
<text x="361.00" y="294.60" font-size="5.4" textLength="21.00" lengthAdjust="spacingAndGlyphs" fill="#222">p=0.7316</text>
<line x1="363.80" y1="298.90" x2="377.00" y2="298.90" stroke="#6a6a6a" stroke-width="1.6"/>
<text x="287.20" y="341.80" font-size="5.9" textLength="11.00" lengthAdjust="spacingAndGlyphs" fill="#222">Fab:</text>
<text x="316.20" y="341.80" font-size="5.9" text-anchor="middle" fill="#222">Ms-</text>
<text x="316.20" y="350.50" font-size="5.9" text-anchor="middle" fill="#222">IgG</text>
<text x="343.90" y="341.80" font-size="5.9" text-anchor="middle" fill="#222">Mono-</text>
<text x="343.90" y="350.50" font-size="5.9" text-anchor="middle" fill="#222">OKT3</text>
<text x="371.40" y="341.80" font-size="5.9" text-anchor="middle" fill="#222">Mono-</text>
<text x="371.40" y="350.50" font-size="5.9" text-anchor="middle" fill="#222">UCHT1</text>
<text x="281.30" y="246.50" font-size="8.0" textLength="24.80" lengthAdjust="spacingAndGlyphs" fill="#222" transform="rotate(-90 281.30 246.50)">% CD69+</text>
<text x="281.30" y="320.00" font-size="8.0" textLength="22.50" lengthAdjust="spacingAndGlyphs" fill="#222" transform="rotate(-90 281.30 320.00)">% Vβ5+</text>
<rect x="393.50" y="213.60" width="4.80" height="1.70" fill="#2c4a8b"/>
<rect x="393.50" y="222.60" width="4.80" height="1.70" fill="#b8102f"/>
<text x="401.00" y="216.30" font-size="5.0" textLength="15.00" lengthAdjust="spacingAndGlyphs" fill="#222">pFARL</text>
<text x="401.00" y="225.40" font-size="5.0" textLength="13.60" lengthAdjust="spacingAndGlyphs" fill="#222">pOVA</text>
<text x="7.40" y="394.30" font-size="11.8" font-weight="bold" textLength="7.80" lengthAdjust="spacingAndGlyphs">D</text>
<rect x="11.40" y="399.60" width="156.90" height="9.50" fill="#fff" stroke="#333" stroke-width="1.1" rx="0.8"/>
<text x="90.00" y="406.90" font-size="6.6" text-anchor="middle" textLength="36.50" lengthAdjust="spacingAndGlyphs" fill="#111">CD4+ T cells</text>
<rect x="182.20" y="399.60" width="157.20" height="9.50" fill="#fff" stroke="#333" stroke-width="1.1" rx="0.8"/>
<text x="260.80" y="406.80" font-size="6.6" text-anchor="middle" textLength="36.50" lengthAdjust="spacingAndGlyphs" fill="#111">CD8+ T cells</text>
<path d="M37.2,464.3 L37.7,464.3 L38.2,464.3 L38.7,464.3 L39.2,464.2 L39.7,464.2 L40.2,464.2 L40.7,464.1 L41.2,464.1 L41.7,464.0 L42.2,464.2 L42.7,463.2 L43.2,463.0 L43.7,464.0 L44.2,463.2 L44.7,463.6 L45.2,463.2 L45.7,463.0 L46.2,463.6 L46.7,462.8 L47.2,463.0 L47.7,462.5 L48.2,461.1 L48.7,459.9 L49.2,457.3 L49.7,455.0 L50.2,454.6 L50.7,454.8 L51.2,456.0 L51.7,456.1 L52.2,456.5 L52.7,457.3 L53.2,459.0 L53.7,459.5 L54.2,458.7 L54.7,458.4 L55.2,459.0 L55.7,458.5 L56.2,458.8 L56.7,458.7 L57.2,458.6 L57.7,458.7 L58.2,458.9 L58.7,457.9 L59.2,458.3 L59.7,459.0 L60.2,458.9 L60.7,459.3 L61.2,458.6 L61.7,459.5 L62.2,459.1 L62.7,458.6 L63.2,458.7 L63.7,458.8 L64.2,459.6 L64.7,458.8 L65.2,459.2 L65.7,458.6 L66.2,459.4 L66.7,458.5 L67.2,459.1 L67.7,459.0 L68.2,459.5 L68.7,459.6 L69.2,459.6 L69.7,459.0 L70.2,459.7 L70.7,459.6 L71.2,459.1 L71.7,459.4 L72.2,459.9 L72.7,459.7 L73.2,460.6 L73.7,460.7 L74.2,460.0 L74.7,459.1 L75.2,459.6 L75.7,459.6 L76.2,460.8 L76.7,461.6 L77.2,461.1 L77.7,462.5 L78.2,463.5 L78.7,462.3 L79.2,462.2 L79.7,462.6 L80.2,462.5 L80.7,463.0 L81.2,463.4 L81.7,464.2 L82.2,463.9 L82.7,464.4 L83.2,464.0 L83.7,464.1 L84.2,464.1 L84.7,464.2" stroke="#63a83a" stroke-width="1.0" fill="none" stroke-linejoin="round"/>
<path d="M37.2,464.3 L37.7,464.3 L38.2,464.3 L38.7,464.3 L39.2,464.3 L39.7,464.2 L40.2,464.2 L40.7,464.2 L41.2,464.1 L41.7,464.1 L42.2,464.0 L42.7,463.9 L43.2,463.6 L43.7,463.4 L44.2,464.2 L44.7,463.1 L45.2,463.1 L45.7,462.9 L46.2,462.5 L46.7,463.8 L47.2,462.0 L47.7,463.1 L48.2,461.7 L48.7,459.6 L49.2,457.3 L49.7,456.2 L50.2,456.2 L50.7,456.3 L51.2,457.6 L51.7,457.7 L52.2,457.2 L52.7,460.0 L53.2,459.5 L53.7,459.7 L54.2,460.2 L54.7,460.0 L55.2,459.9 L55.7,460.0 L56.2,459.9 L56.7,460.3 L57.2,459.5 L57.7,460.0 L58.2,460.2 L58.7,458.8 L59.2,460.0 L59.7,460.0 L60.2,460.7 L60.7,459.6 L61.2,460.4 L61.7,460.2 L62.2,459.6 L62.7,459.8 L63.2,460.4 L63.7,459.9 L64.2,460.0 L64.7,460.3 L65.2,460.7 L65.7,460.1 L66.2,461.1 L66.7,460.2 L67.2,460.4 L67.7,461.0 L68.2,460.9 L68.7,459.3 L69.2,461.4 L69.7,460.4 L70.2,460.6 L70.7,460.2 L71.2,460.3 L71.7,460.0 L72.2,460.1 L72.7,460.4 L73.2,461.1 L73.7,460.6 L74.2,460.3 L74.7,460.3 L75.2,460.1 L75.7,460.8 L76.2,461.3 L76.7,461.2 L77.2,460.9 L77.7,460.8 L78.2,461.0 L78.7,461.4 L79.2,462.6 L79.7,462.4 L80.2,462.2 L80.7,462.6 L81.2,462.6 L81.7,463.8 L82.2,463.1 L82.7,464.4 L83.2,463.9 L83.7,463.8 L84.2,464.0 L84.7,464.0" stroke="#5ea8e2" stroke-width="1.0" fill="none" stroke-linejoin="round"/>
<path d="M37.2,464.4 L37.7,464.4 L38.2,464.4 L38.7,464.4 L39.2,464.4 L39.7,464.4 L40.2,464.4 L40.7,464.4 L41.2,464.4 L41.7,464.4 L42.2,464.4 L42.7,464.4 L43.2,464.4 L43.7,464.4 L44.2,464.4 L44.7,464.4 L45.2,464.3 L45.7,463.7 L46.2,460.6 L46.7,451.7 L47.2,437.4 L47.7,427.6 L48.2,430.4 L48.7,440.7 L49.2,451.9 L49.7,459.4 L50.2,462.9 L50.7,464.0 L51.2,464.3 L51.7,464.4 L52.2,464.4 L52.7,464.4 L53.2,464.4 L53.7,464.4 L54.2,464.4 L54.7,464.4 L55.2,464.4 L55.7,464.4 L56.2,464.4 L56.7,464.4 L57.2,464.4 L57.7,464.4 L58.2,464.4 L58.7,464.4 L59.2,464.4 L59.7,464.4 L60.2,464.4 L60.7,464.4 L61.2,464.4 L61.7,464.4 L62.2,464.4 L62.7,464.4 L63.2,464.4 L63.7,464.4 L64.2,464.4 L64.7,464.4 L65.2,464.4 L65.7,464.4 L66.2,464.4 L66.7,464.4 L67.2,464.4 L67.7,464.4 L68.2,464.4 L68.7,464.4 L69.2,464.4 L69.7,464.4 L70.2,464.4 L70.7,464.4 L71.2,464.4 L71.7,464.4 L72.2,464.4 L72.7,464.4 L73.2,464.4 L73.7,464.4 L74.2,464.4 L74.7,464.4 L75.2,464.4 L75.7,464.4 L76.2,464.4 L76.7,464.4 L77.2,464.4 L77.7,464.4 L78.2,464.4 L78.7,464.4 L79.2,464.4 L79.7,464.4 L80.2,464.4 L80.7,464.4 L81.2,464.4 L81.7,464.4 L82.2,464.4 L82.7,464.4 L83.2,464.4 L83.7,464.4 L84.2,464.4 L84.7,464.4" stroke="#f4c20d" stroke-width="1.0" fill="none" stroke-linejoin="round"/>
<path d="M37.2,464.4 L37.7,464.4 L38.2,464.4 L38.7,464.4 L39.2,464.4 L39.7,464.4 L40.2,464.4 L40.7,464.4 L41.2,464.4 L41.7,464.4 L42.2,464.4 L42.7,464.4 L43.2,464.4 L43.7,464.4 L44.2,464.4 L44.7,464.4 L45.2,464.3 L45.7,463.6 L46.2,460.4 L46.7,451.1 L47.2,436.1 L47.7,425.8 L48.2,428.4 L48.7,438.4 L49.2,449.8 L49.7,458.0 L50.2,462.2 L50.7,463.8 L51.2,464.3 L51.7,464.4 L52.2,464.4 L52.7,464.4 L53.2,464.4 L53.7,464.4 L54.2,464.4 L54.7,464.4 L55.2,464.4 L55.7,464.4 L56.2,464.4 L56.7,464.4 L57.2,464.4 L57.7,464.4 L58.2,464.4 L58.7,464.4 L59.2,464.4 L59.7,464.4 L60.2,464.4 L60.7,464.4 L61.2,464.4 L61.7,464.4 L62.2,464.4 L62.7,464.4 L63.2,464.4 L63.7,464.4 L64.2,464.4 L64.7,464.4 L65.2,464.4 L65.7,464.4 L66.2,464.4 L66.7,464.4 L67.2,464.4 L67.7,464.4 L68.2,464.4 L68.7,464.4 L69.2,464.4 L69.7,464.4 L70.2,464.4 L70.7,464.4 L71.2,464.4 L71.7,464.4 L72.2,464.4 L72.7,464.4 L73.2,464.4 L73.7,464.4 L74.2,464.4 L74.7,464.4 L75.2,464.4 L75.7,464.4 L76.2,464.4 L76.7,464.4 L77.2,464.4 L77.7,464.4 L78.2,464.4 L78.7,464.4 L79.2,464.4 L79.7,464.4 L80.2,464.4 L80.7,464.4 L81.2,464.4 L81.7,464.4 L82.2,464.4 L82.7,464.4 L83.2,464.4 L83.7,464.4 L84.2,464.4 L84.7,464.4" stroke="#b5173e" stroke-width="1.0" fill="none" stroke-linejoin="round"/>
<path d="M37.2,464.4 L37.7,464.4 L38.2,464.4 L38.7,464.4 L39.2,464.4 L39.7,464.4 L40.2,464.4 L40.7,464.4 L41.2,464.4 L41.7,464.4 L42.2,464.4 L42.7,464.4 L43.2,464.4 L43.7,464.4 L44.2,464.4 L44.7,464.4 L45.2,464.3 L45.7,463.6 L46.2,460.3 L46.7,450.8 L47.2,435.4 L47.7,424.8 L48.2,427.6 L48.7,437.8 L49.2,449.4 L49.7,457.8 L50.2,462.2 L50.7,463.8 L51.2,464.3 L51.7,464.4 L52.2,464.4 L52.7,464.4 L53.2,464.4 L53.7,464.4 L54.2,464.4 L54.7,464.4 L55.2,464.4 L55.7,464.4 L56.2,464.4 L56.7,464.4 L57.2,464.4 L57.7,464.4 L58.2,464.4 L58.7,464.4 L59.2,464.4 L59.7,464.4 L60.2,464.4 L60.7,464.4 L61.2,464.4 L61.7,464.4 L62.2,464.4 L62.7,464.4 L63.2,464.4 L63.7,464.4 L64.2,464.4 L64.7,464.4 L65.2,464.4 L65.7,464.4 L66.2,464.4 L66.7,464.4 L67.2,464.4 L67.7,464.4 L68.2,464.4 L68.7,464.4 L69.2,464.4 L69.7,464.4 L70.2,464.4 L70.7,464.4 L71.2,464.4 L71.7,464.4 L72.2,464.4 L72.7,464.4 L73.2,464.4 L73.7,464.4 L74.2,464.4 L74.7,464.4 L75.2,464.4 L75.7,464.4 L76.2,464.4 L76.7,464.4 L77.2,464.4 L77.7,464.4 L78.2,464.4 L78.7,464.4 L79.2,464.4 L79.7,464.4 L80.2,464.4 L80.7,464.4 L81.2,464.4 L81.7,464.4 L82.2,464.4 L82.7,464.4 L83.2,464.4 L83.7,464.4 L84.2,464.4 L84.7,464.4" stroke="#5b2a86" stroke-width="1.0" fill="none" stroke-linejoin="round"/>
<line x1="34.20" y1="464.40" x2="36.60" y2="464.40" stroke="#000" stroke-width="0.8"/>
<line x1="36.60" y1="462.08" x2="37.80" y2="462.08" stroke="#333" stroke-width="0.5"/>
<line x1="36.60" y1="459.76" x2="37.80" y2="459.76" stroke="#333" stroke-width="0.5"/>
<line x1="36.60" y1="457.44" x2="37.80" y2="457.44" stroke="#333" stroke-width="0.5"/>
<line x1="34.20" y1="455.12" x2="36.60" y2="455.12" stroke="#000" stroke-width="0.8"/>
<line x1="36.60" y1="452.80" x2="37.80" y2="452.80" stroke="#333" stroke-width="0.5"/>
<line x1="36.60" y1="450.48" x2="37.80" y2="450.48" stroke="#333" stroke-width="0.5"/>
<line x1="36.60" y1="448.16" x2="37.80" y2="448.16" stroke="#333" stroke-width="0.5"/>
<line x1="34.20" y1="445.84" x2="36.60" y2="445.84" stroke="#000" stroke-width="0.8"/>
<line x1="36.60" y1="443.52" x2="37.80" y2="443.52" stroke="#333" stroke-width="0.5"/>
<line x1="36.60" y1="441.20" x2="37.80" y2="441.20" stroke="#333" stroke-width="0.5"/>
<line x1="36.60" y1="438.88" x2="37.80" y2="438.88" stroke="#333" stroke-width="0.5"/>
<line x1="34.20" y1="436.56" x2="36.60" y2="436.56" stroke="#000" stroke-width="0.8"/>
<line x1="36.60" y1="434.24" x2="37.80" y2="434.24" stroke="#333" stroke-width="0.5"/>
<line x1="36.60" y1="431.92" x2="37.80" y2="431.92" stroke="#333" stroke-width="0.5"/>
<line x1="36.60" y1="429.60" x2="37.80" y2="429.60" stroke="#333" stroke-width="0.5"/>
<line x1="34.20" y1="427.28" x2="36.60" y2="427.28" stroke="#000" stroke-width="0.8"/>
<line x1="36.60" y1="424.96" x2="37.80" y2="424.96" stroke="#333" stroke-width="0.5"/>
<line x1="36.60" y1="422.64" x2="37.80" y2="422.64" stroke="#333" stroke-width="0.5"/>
<line x1="36.60" y1="420.32" x2="37.80" y2="420.32" stroke="#333" stroke-width="0.5"/>
<line x1="34.20" y1="418.00" x2="36.60" y2="418.00" stroke="#000" stroke-width="0.8"/>
<line x1="37.60" y1="464.40" x2="37.60" y2="466.00" stroke="#333" stroke-width="0.6"/>
<line x1="41.20" y1="464.40" x2="41.20" y2="465.40" stroke="#333" stroke-width="0.6"/>
<line x1="44.80" y1="464.40" x2="44.80" y2="465.40" stroke="#333" stroke-width="0.6"/>
<line x1="48.40" y1="464.40" x2="48.40" y2="466.00" stroke="#333" stroke-width="0.6"/>
<line x1="52.00" y1="464.40" x2="52.00" y2="465.40" stroke="#333" stroke-width="0.6"/>
<line x1="55.60" y1="464.40" x2="55.60" y2="465.40" stroke="#333" stroke-width="0.6"/>
<line x1="59.20" y1="464.40" x2="59.20" y2="466.00" stroke="#333" stroke-width="0.6"/>
<line x1="62.80" y1="464.40" x2="62.80" y2="465.40" stroke="#333" stroke-width="0.6"/>
<line x1="66.40" y1="464.40" x2="66.40" y2="465.40" stroke="#333" stroke-width="0.6"/>
<line x1="70.00" y1="464.40" x2="70.00" y2="466.00" stroke="#333" stroke-width="0.6"/>
<line x1="73.60" y1="464.40" x2="73.60" y2="465.40" stroke="#333" stroke-width="0.6"/>
<line x1="77.20" y1="464.40" x2="77.20" y2="465.40" stroke="#333" stroke-width="0.6"/>
<line x1="80.80" y1="464.40" x2="80.80" y2="466.00" stroke="#333" stroke-width="0.6"/>
<line x1="84.40" y1="464.40" x2="84.40" y2="465.40" stroke="#333" stroke-width="0.6"/>
<rect x="36.60" y="415.40" width="48.90" height="49.00" fill="none" stroke="#000" stroke-width="1.2"/>
<text x="31.00" y="419.95" font-size="5.5" text-anchor="end" textLength="10.50" lengthAdjust="spacingAndGlyphs" fill="#222">100</text>
<text x="31.00" y="429.23" font-size="5.5" text-anchor="end" textLength="7.00" lengthAdjust="spacingAndGlyphs" fill="#222">80</text>
<text x="31.00" y="438.51" font-size="5.5" text-anchor="end" textLength="7.00" lengthAdjust="spacingAndGlyphs" fill="#222">60</text>
<text x="31.00" y="447.79" font-size="5.5" text-anchor="end" textLength="7.00" lengthAdjust="spacingAndGlyphs" fill="#222">40</text>
<text x="31.00" y="457.07" font-size="5.5" text-anchor="end" textLength="7.00" lengthAdjust="spacingAndGlyphs" fill="#222">20</text>
<text x="31.00" y="466.35" font-size="5.5" text-anchor="end" textLength="3.50" lengthAdjust="spacingAndGlyphs" fill="#222">0</text>
<text x="46.60" y="475.20" font-size="5.4" text-anchor="middle" fill="#222">0</text>
<text x="74.10" y="475.20" font-size="5.4" text-anchor="middle">10<tspan font-size="3.35" dy="-2.05">3</tspan></text>
<line x1="41.07" y1="434.29" x2="44.24" y2="435.77" stroke="#5b2a86" stroke-width="1.0"/>
<path d="M45.60,436.40 L42.65,436.57 L43.84,434.03 Z" stroke="none" stroke-width="1" fill="#5b2a86"/>
<line x1="41.07" y1="438.89" x2="44.24" y2="440.37" stroke="#b5173e" stroke-width="1.0"/>
<path d="M45.60,441.00 L42.65,441.17 L43.84,438.63 Z" stroke="none" stroke-width="1" fill="#b5173e"/>
<line x1="41.07" y1="443.69" x2="44.24" y2="445.17" stroke="#f4c20d" stroke-width="1.0"/>
<path d="M45.60,445.80 L42.65,445.97 L43.84,443.43 Z" stroke="none" stroke-width="1" fill="#f4c20d"/>
<path d="M37.2,546.3 L37.7,546.3 L38.2,546.3 L38.7,546.3 L39.2,546.3 L39.7,546.3 L40.2,546.3 L40.7,546.3 L41.2,546.3 L41.7,546.3 L42.2,546.3 L42.7,546.3 L43.2,546.3 L43.7,546.3 L44.2,546.2 L44.7,546.3 L45.2,544.4 L45.7,542.1 L46.2,541.2 L46.7,537.9 L47.2,534.6 L47.7,530.8 L48.2,527.7 L48.7,524.0 L49.2,521.0 L49.7,519.1 L50.2,517.4 L50.7,516.9 L51.2,519.0 L51.7,521.7 L52.2,521.6 L52.7,522.9 L53.2,523.5 L53.7,524.2 L54.2,527.3 L54.7,528.7 L55.2,530.7 L55.7,530.0 L56.2,530.5 L56.7,531.7 L57.2,532.6 L57.7,533.0 L58.2,534.2 L58.7,535.1 L59.2,536.3 L59.7,537.2 L60.2,537.5 L60.7,538.9 L61.2,539.8 L61.7,540.6 L62.2,541.1 L62.7,541.6 L63.2,541.9 L63.7,542.6 L64.2,543.3 L64.7,544.5 L65.2,543.7 L65.7,545.0 L66.2,544.8 L66.7,544.3 L67.2,545.0 L67.7,545.9 L68.2,545.3 L68.7,545.9 L69.2,546.1 L69.7,546.2 L70.2,546.3 L70.7,546.3 L71.2,546.3 L71.7,546.3 L72.2,546.3 L72.7,546.3 L73.2,546.3 L73.7,546.3 L74.2,546.3 L74.7,546.3 L75.2,546.3 L75.7,546.3 L76.2,546.3 L76.7,546.3 L77.2,546.3 L77.7,546.3 L78.2,546.3 L78.7,546.3 L79.2,546.3 L79.7,546.3 L80.2,546.3 L80.7,546.3 L81.2,546.3 L81.7,546.3 L82.2,546.3 L82.7,546.3 L83.2,546.3 L83.7,546.3 L84.2,546.3 L84.7,546.3" stroke="#63a83a" stroke-width="1.0" fill="none" stroke-linejoin="round"/>
<path d="M37.2,546.3 L37.7,546.3 L38.2,546.3 L38.7,546.3 L39.2,546.3 L39.7,546.3 L40.2,546.3 L40.7,546.3 L41.2,546.3 L41.7,546.3 L42.2,546.3 L42.7,546.3 L43.2,546.3 L43.7,546.3 L44.2,546.2 L44.7,545.3 L45.2,543.6 L45.7,541.3 L46.2,538.5 L46.7,534.4 L47.2,530.7 L47.7,524.3 L48.2,518.2 L48.7,514.3 L49.2,511.9 L49.7,511.8 L50.2,514.9 L50.7,518.0 L51.2,522.4 L51.7,525.5 L52.2,528.6 L52.7,529.8 L53.2,530.5 L53.7,533.0 L54.2,532.7 L54.7,535.2 L55.2,535.1 L55.7,535.5 L56.2,536.7 L56.7,537.0 L57.2,537.1 L57.7,538.1 L58.2,539.7 L58.7,539.0 L59.2,539.5 L59.7,540.4 L60.2,541.1 L60.7,541.6 L61.2,542.9 L61.7,542.8 L62.2,542.4 L62.7,543.1 L63.2,543.8 L63.7,544.7 L64.2,545.1 L64.7,545.0 L65.2,545.5 L65.7,545.7 L66.2,545.9 L66.7,546.0 L67.2,546.1 L67.7,546.2 L68.2,546.3 L68.7,546.3 L69.2,546.3 L69.7,546.3 L70.2,546.3 L70.7,546.3 L71.2,546.3 L71.7,546.3 L72.2,546.3 L72.7,546.3 L73.2,546.3 L73.7,546.3 L74.2,546.3 L74.7,546.3 L75.2,546.3 L75.7,546.3 L76.2,546.3 L76.7,546.3 L77.2,546.3 L77.7,546.3 L78.2,546.3 L78.7,546.3 L79.2,546.3 L79.7,546.3 L80.2,546.3 L80.7,546.3 L81.2,546.3 L81.7,546.3 L82.2,546.3 L82.7,546.3 L83.2,546.3 L83.7,546.3 L84.2,546.3 L84.7,546.3" stroke="#5ea8e2" stroke-width="1.0" fill="none" stroke-linejoin="round"/>
<path d="M37.2,546.3 L37.7,546.3 L38.2,546.3 L38.7,546.3 L39.2,546.3 L39.7,546.3 L40.2,546.3 L40.7,546.3 L41.2,546.3 L41.7,546.3 L42.2,546.3 L42.7,546.3 L43.2,546.1 L43.7,545.7 L44.2,544.7 L44.7,542.2 L45.2,537.7 L45.7,530.5 L46.2,521.3 L46.7,512.2 L47.2,506.2 L47.7,505.5 L48.2,509.9 L48.7,517.8 L49.2,526.6 L49.7,534.3 L50.2,539.9 L50.7,543.3 L51.2,545.0 L51.7,545.8 L52.2,546.2 L52.7,546.3 L53.2,546.3 L53.7,546.3 L54.2,546.3 L54.7,546.3 L55.2,546.3 L55.7,546.3 L56.2,546.3 L56.7,546.3 L57.2,546.3 L57.7,546.3 L58.2,546.3 L58.7,546.3 L59.2,546.3 L59.7,546.3 L60.2,546.3 L60.7,546.3 L61.2,546.3 L61.7,546.3 L62.2,546.3 L62.7,546.3 L63.2,546.3 L63.7,546.3 L64.2,546.3 L64.7,546.3 L65.2,546.3 L65.7,546.3 L66.2,546.3 L66.7,546.3 L67.2,546.3 L67.7,546.3 L68.2,546.3 L68.7,546.3 L69.2,546.3 L69.7,546.3 L70.2,546.3 L70.7,546.3 L71.2,546.3 L71.7,546.3 L72.2,546.3 L72.7,546.3 L73.2,546.3 L73.7,546.3 L74.2,546.3 L74.7,546.3 L75.2,546.3 L75.7,546.3 L76.2,546.3 L76.7,546.3 L77.2,546.3 L77.7,546.3 L78.2,546.3 L78.7,546.3 L79.2,546.3 L79.7,546.3 L80.2,546.3 L80.7,546.3 L81.2,546.3 L81.7,546.3 L82.2,546.3 L82.7,546.3 L83.2,546.3 L83.7,546.3 L84.2,546.3 L84.7,546.3" stroke="#f4c20d" stroke-width="1.0" fill="none" stroke-linejoin="round"/>
<path d="M37.2,546.3 L37.7,546.3 L38.2,546.3 L38.7,546.3 L39.2,546.3 L39.7,546.3 L40.2,546.3 L40.7,546.3 L41.2,546.3 L41.7,546.3 L42.2,546.3 L42.7,546.2 L43.2,546.1 L43.7,545.9 L44.2,545.4 L44.7,544.5 L45.2,542.8 L45.7,540.2 L46.2,536.3 L46.7,531.3 L47.2,525.3 L47.7,519.3 L48.2,514.0 L48.7,510.6 L49.2,509.8 L49.7,510.9 L50.2,513.7 L50.7,517.6 L51.2,522.2 L51.7,527.0 L52.2,531.6 L52.7,535.6 L53.2,538.8 L53.7,541.3 L54.2,543.2 L54.7,544.4 L55.2,545.2 L55.7,545.7 L56.2,546.0 L56.7,546.1 L57.2,546.2 L57.7,546.3 L58.2,546.3 L58.7,546.3 L59.2,546.3 L59.7,546.3 L60.2,546.3 L60.7,546.3 L61.2,546.3 L61.7,546.3 L62.2,546.3 L62.7,546.3 L63.2,546.3 L63.7,546.3 L64.2,546.3 L64.7,546.3 L65.2,546.3 L65.7,546.3 L66.2,546.3 L66.7,546.3 L67.2,546.3 L67.7,546.3 L68.2,546.3 L68.7,546.3 L69.2,546.3 L69.7,546.3 L70.2,546.3 L70.7,546.3 L71.2,546.3 L71.7,546.3 L72.2,546.3 L72.7,546.3 L73.2,546.3 L73.7,546.3 L74.2,546.3 L74.7,546.3 L75.2,546.3 L75.7,546.3 L76.2,546.3 L76.7,546.3 L77.2,546.3 L77.7,546.3 L78.2,546.3 L78.7,546.3 L79.2,546.3 L79.7,546.3 L80.2,546.3 L80.7,546.3 L81.2,546.3 L81.7,546.3 L82.2,546.3 L82.7,546.3 L83.2,546.3 L83.7,546.3 L84.2,546.3 L84.7,546.3" stroke="#5b2a86" stroke-width="1.0" fill="none" stroke-linejoin="round"/>
<path d="M37.2,546.3 L37.7,546.3 L38.2,546.3 L38.7,546.3 L39.2,546.3 L39.7,546.3 L40.2,546.3 L40.7,546.3 L41.2,546.3 L41.7,546.3 L42.2,546.2 L42.7,546.1 L43.2,545.8 L43.7,545.3 L44.2,544.2 L44.7,542.5 L45.2,539.7 L45.7,535.7 L46.2,530.5 L46.7,524.7 L47.2,518.8 L47.7,514.0 L48.2,511.1 L48.7,510.8 L49.2,513.0 L49.7,517.1 L50.2,522.4 L50.7,528.1 L51.2,533.3 L51.7,537.7 L52.2,540.9 L52.7,543.2 L53.2,544.6 L53.7,545.5 L54.2,545.9 L54.7,546.1 L55.2,546.2 L55.7,546.3 L56.2,546.3 L56.7,546.3 L57.2,546.3 L57.7,546.3 L58.2,546.3 L58.7,546.3 L59.2,546.3 L59.7,546.3 L60.2,546.3 L60.7,546.3 L61.2,546.3 L61.7,546.3 L62.2,546.3 L62.7,546.3 L63.2,546.3 L63.7,546.3 L64.2,546.3 L64.7,546.3 L65.2,546.3 L65.7,546.3 L66.2,546.3 L66.7,546.3 L67.2,546.3 L67.7,546.3 L68.2,546.3 L68.7,546.3 L69.2,546.3 L69.7,546.3 L70.2,546.3 L70.7,546.3 L71.2,546.3 L71.7,546.3 L72.2,546.3 L72.7,546.3 L73.2,546.3 L73.7,546.3 L74.2,546.3 L74.7,546.3 L75.2,546.3 L75.7,546.3 L76.2,546.3 L76.7,546.3 L77.2,546.3 L77.7,546.3 L78.2,546.3 L78.7,546.3 L79.2,546.3 L79.7,546.3 L80.2,546.3 L80.7,546.3 L81.2,546.3 L81.7,546.3 L82.2,546.3 L82.7,546.3 L83.2,546.3 L83.7,546.3 L84.2,546.3 L84.7,546.3" stroke="#b5173e" stroke-width="1.3" fill="none" stroke-linejoin="round"/>
<line x1="34.20" y1="546.30" x2="36.60" y2="546.30" stroke="#000" stroke-width="0.8"/>
<line x1="36.60" y1="543.98" x2="37.80" y2="543.98" stroke="#333" stroke-width="0.5"/>
<line x1="36.60" y1="541.67" x2="37.80" y2="541.67" stroke="#333" stroke-width="0.5"/>
<line x1="36.60" y1="539.36" x2="37.80" y2="539.36" stroke="#333" stroke-width="0.5"/>
<line x1="34.20" y1="537.04" x2="36.60" y2="537.04" stroke="#000" stroke-width="0.8"/>
<line x1="36.60" y1="534.72" x2="37.80" y2="534.72" stroke="#333" stroke-width="0.5"/>
<line x1="36.60" y1="532.41" x2="37.80" y2="532.41" stroke="#333" stroke-width="0.5"/>
<line x1="36.60" y1="530.10" x2="37.80" y2="530.10" stroke="#333" stroke-width="0.5"/>
<line x1="34.20" y1="527.78" x2="36.60" y2="527.78" stroke="#000" stroke-width="0.8"/>
<line x1="36.60" y1="525.46" x2="37.80" y2="525.46" stroke="#333" stroke-width="0.5"/>
<line x1="36.60" y1="523.15" x2="37.80" y2="523.15" stroke="#333" stroke-width="0.5"/>
<line x1="36.60" y1="520.83" x2="37.80" y2="520.83" stroke="#333" stroke-width="0.5"/>
<line x1="34.20" y1="518.52" x2="36.60" y2="518.52" stroke="#000" stroke-width="0.8"/>
<line x1="36.60" y1="516.20" x2="37.80" y2="516.20" stroke="#333" stroke-width="0.5"/>
<line x1="36.60" y1="513.89" x2="37.80" y2="513.89" stroke="#333" stroke-width="0.5"/>
<line x1="36.60" y1="511.57" x2="37.80" y2="511.57" stroke="#333" stroke-width="0.5"/>
<line x1="34.20" y1="509.26" x2="36.60" y2="509.26" stroke="#000" stroke-width="0.8"/>
<line x1="36.60" y1="506.94" x2="37.80" y2="506.94" stroke="#333" stroke-width="0.5"/>
<line x1="36.60" y1="504.63" x2="37.80" y2="504.63" stroke="#333" stroke-width="0.5"/>
<line x1="36.60" y1="502.31" x2="37.80" y2="502.31" stroke="#333" stroke-width="0.5"/>
<line x1="34.20" y1="500.00" x2="36.60" y2="500.00" stroke="#000" stroke-width="0.8"/>
<line x1="37.60" y1="546.30" x2="37.60" y2="547.90" stroke="#333" stroke-width="0.6"/>
<line x1="41.20" y1="546.30" x2="41.20" y2="547.30" stroke="#333" stroke-width="0.6"/>
<line x1="44.80" y1="546.30" x2="44.80" y2="547.30" stroke="#333" stroke-width="0.6"/>
<line x1="48.40" y1="546.30" x2="48.40" y2="547.90" stroke="#333" stroke-width="0.6"/>
<line x1="52.00" y1="546.30" x2="52.00" y2="547.30" stroke="#333" stroke-width="0.6"/>
<line x1="55.60" y1="546.30" x2="55.60" y2="547.30" stroke="#333" stroke-width="0.6"/>
<line x1="59.20" y1="546.30" x2="59.20" y2="547.90" stroke="#333" stroke-width="0.6"/>
<line x1="62.80" y1="546.30" x2="62.80" y2="547.30" stroke="#333" stroke-width="0.6"/>
<line x1="66.40" y1="546.30" x2="66.40" y2="547.30" stroke="#333" stroke-width="0.6"/>
<line x1="70.00" y1="546.30" x2="70.00" y2="547.90" stroke="#333" stroke-width="0.6"/>
<line x1="73.60" y1="546.30" x2="73.60" y2="547.30" stroke="#333" stroke-width="0.6"/>
<line x1="77.20" y1="546.30" x2="77.20" y2="547.30" stroke="#333" stroke-width="0.6"/>
<line x1="80.80" y1="546.30" x2="80.80" y2="547.90" stroke="#333" stroke-width="0.6"/>
<line x1="84.40" y1="546.30" x2="84.40" y2="547.30" stroke="#333" stroke-width="0.6"/>
<rect x="36.60" y="497.40" width="48.90" height="48.90" fill="none" stroke="#000" stroke-width="1.2"/>
<text x="31.00" y="501.95" font-size="5.5" text-anchor="end" textLength="10.50" lengthAdjust="spacingAndGlyphs" fill="#222">100</text>
<text x="31.00" y="511.21" font-size="5.5" text-anchor="end" textLength="7.00" lengthAdjust="spacingAndGlyphs" fill="#222">80</text>
<text x="31.00" y="520.47" font-size="5.5" text-anchor="end" textLength="7.00" lengthAdjust="spacingAndGlyphs" fill="#222">60</text>
<text x="31.00" y="529.73" font-size="5.5" text-anchor="end" textLength="7.00" lengthAdjust="spacingAndGlyphs" fill="#222">40</text>
<text x="31.00" y="538.99" font-size="5.5" text-anchor="end" textLength="7.00" lengthAdjust="spacingAndGlyphs" fill="#222">20</text>
<text x="31.00" y="548.25" font-size="5.5" text-anchor="end" textLength="3.50" lengthAdjust="spacingAndGlyphs" fill="#222">0</text>
<text x="46.60" y="557.10" font-size="5.4" text-anchor="middle" fill="#222">0</text>
<text x="74.10" y="557.10" font-size="5.4" text-anchor="middle">10<tspan font-size="3.35" dy="-2.05">3</tspan></text>
<line x1="41.07" y1="519.19" x2="44.24" y2="520.67" stroke="#5b2a86" stroke-width="1.0"/>
<path d="M45.60,521.30 L42.65,521.47 L43.84,518.93 Z" stroke="none" stroke-width="1" fill="#5b2a86"/>
<line x1="41.07" y1="523.89" x2="44.24" y2="525.37" stroke="#b5173e" stroke-width="1.0"/>
<path d="M45.60,526.00 L42.65,526.17 L43.84,523.63 Z" stroke="none" stroke-width="1" fill="#b5173e"/>
<line x1="41.07" y1="528.69" x2="44.24" y2="530.17" stroke="#f4c20d" stroke-width="1.0"/>
<path d="M45.60,530.80 L42.65,530.97 L43.84,528.43 Z" stroke="none" stroke-width="1" fill="#f4c20d"/>
<path d="M207.1,464.5 L207.6,464.5 L208.1,464.5 L208.6,464.4 L209.1,464.4 L209.6,464.4 L210.1,464.4 L210.6,464.3 L211.1,464.3 L211.6,464.3 L212.1,464.2 L212.6,464.2 L213.1,464.1 L213.6,464.5 L214.1,463.9 L214.6,464.3 L215.1,463.2 L215.6,464.0 L216.1,463.0 L216.6,463.4 L217.1,462.1 L217.6,463.9 L218.1,461.1 L218.6,460.9 L219.1,460.2 L219.6,458.8 L220.1,457.1 L220.6,457.4 L221.1,457.7 L221.6,457.1 L222.1,458.3 L222.6,459.7 L223.1,458.6 L223.6,459.5 L224.1,459.7 L224.6,459.8 L225.1,459.9 L225.6,460.2 L226.1,459.9 L226.6,460.7 L227.1,459.9 L227.6,460.7 L228.1,459.7 L228.6,460.1 L229.1,459.7 L229.6,460.0 L230.1,459.9 L230.6,460.1 L231.1,459.8 L231.6,459.1 L232.1,459.5 L232.6,459.3 L233.1,460.3 L233.6,459.5 L234.1,459.7 L234.6,460.5 L235.1,460.7 L235.6,460.4 L236.1,460.8 L236.6,460.4 L237.1,460.8 L237.6,461.3 L238.1,462.1 L238.6,461.5 L239.1,462.4 L239.6,462.0 L240.1,462.1 L240.6,462.3 L241.1,462.5 L241.6,463.2 L242.1,463.2 L242.6,464.1 L243.1,463.1 L243.6,463.1 L244.1,463.7 L244.6,464.3 L245.1,463.8 L245.6,464.1 L246.1,464.1 L246.6,464.2 L247.1,464.3 L247.6,464.3 L248.1,464.3 L248.6,464.4 L249.1,464.4 L249.6,464.4 L250.1,464.4 L250.6,464.5 L251.1,464.5 L251.6,464.5 L252.1,464.5 L252.6,464.5 L253.1,464.5 L253.6,464.5 L254.1,464.5 L254.6,464.5 L255.1,464.5" stroke="#63a83a" stroke-width="1.0" fill="none" stroke-linejoin="round"/>
<path d="M207.1,464.5 L207.6,464.5 L208.1,464.5 L208.6,464.4 L209.1,464.4 L209.6,464.4 L210.1,464.4 L210.6,464.4 L211.1,464.3 L211.6,464.3 L212.1,464.2 L212.6,464.2 L213.1,464.1 L213.6,464.1 L214.1,464.4 L214.6,464.3 L215.1,464.0 L215.6,462.5 L216.1,463.3 L216.6,462.5 L217.1,463.2 L217.6,462.8 L218.1,462.7 L218.6,460.7 L219.1,458.6 L219.6,457.1 L220.1,456.4 L220.6,456.6 L221.1,456.9 L221.6,457.3 L222.1,457.8 L222.6,459.4 L223.1,459.8 L223.6,460.1 L224.1,461.0 L224.6,459.8 L225.1,460.0 L225.6,460.5 L226.1,460.7 L226.6,460.9 L227.1,460.4 L227.6,460.4 L228.1,460.7 L228.6,460.7 L229.1,460.4 L229.6,460.9 L230.1,460.6 L230.6,461.3 L231.1,460.7 L231.6,461.1 L232.1,460.9 L232.6,461.0 L233.1,460.8 L233.6,461.3 L234.1,461.0 L234.6,460.8 L235.1,461.1 L235.6,462.2 L236.1,461.3 L236.6,461.5 L237.1,462.0 L237.6,462.2 L238.1,461.9 L238.6,461.1 L239.1,462.8 L239.6,462.6 L240.1,462.5 L240.6,462.2 L241.1,463.0 L241.6,462.2 L242.1,463.2 L242.6,463.4 L243.1,463.5 L243.6,463.6 L244.1,463.1 L244.6,464.2 L245.1,464.0 L245.6,463.9 L246.1,464.1 L246.6,464.2 L247.1,464.2 L247.6,464.3 L248.1,464.3 L248.6,464.4 L249.1,464.4 L249.6,464.4 L250.1,464.4 L250.6,464.4 L251.1,464.5 L251.6,464.5 L252.1,464.5 L252.6,464.5 L253.1,464.5 L253.6,464.5 L254.1,464.5 L254.6,464.5 L255.1,464.5" stroke="#5ea8e2" stroke-width="1.0" fill="none" stroke-linejoin="round"/>
<path d="M207.1,464.5 L207.6,464.5 L208.1,464.5 L208.6,464.5 L209.1,464.5 L209.6,464.5 L210.1,464.5 L210.6,464.5 L211.1,464.5 L211.6,464.5 L212.1,464.5 L212.6,464.5 L213.1,464.5 L213.6,464.5 L214.1,464.5 L214.6,464.5 L215.1,464.5 L215.6,464.3 L216.1,463.0 L216.6,458.0 L217.1,446.5 L217.6,432.4 L218.1,427.7 L218.6,434.2 L219.1,445.6 L219.6,455.5 L220.1,461.3 L220.6,463.6 L221.1,464.3 L221.6,464.5 L222.1,464.5 L222.6,464.5 L223.1,464.5 L223.6,464.5 L224.1,464.5 L224.6,464.5 L225.1,464.5 L225.6,464.5 L226.1,464.5 L226.6,464.5 L227.1,464.5 L227.6,464.5 L228.1,464.5 L228.6,464.5 L229.1,464.5 L229.6,464.5 L230.1,464.5 L230.6,464.5 L231.1,464.5 L231.6,464.5 L232.1,464.5 L232.6,464.5 L233.1,464.5 L233.6,464.5 L234.1,464.5 L234.6,464.5 L235.1,464.5 L235.6,464.5 L236.1,464.5 L236.6,464.5 L237.1,464.5 L237.6,464.5 L238.1,464.5 L238.6,464.5 L239.1,464.5 L239.6,464.5 L240.1,464.5 L240.6,464.5 L241.1,464.5 L241.6,464.5 L242.1,464.5 L242.6,464.5 L243.1,464.5 L243.6,464.5 L244.1,464.5 L244.6,464.5 L245.1,464.5 L245.6,464.5 L246.1,464.5 L246.6,464.5 L247.1,464.5 L247.6,464.5 L248.1,464.5 L248.6,464.5 L249.1,464.5 L249.6,464.5 L250.1,464.5 L250.6,464.5 L251.1,464.5 L251.6,464.5 L252.1,464.5 L252.6,464.5 L253.1,464.5 L253.6,464.5 L254.1,464.5 L254.6,464.5 L255.1,464.5" stroke="#f4c20d" stroke-width="1.0" fill="none" stroke-linejoin="round"/>
<path d="M207.1,464.5 L207.6,464.5 L208.1,464.5 L208.6,464.5 L209.1,464.5 L209.6,464.5 L210.1,464.5 L210.6,464.5 L211.1,464.5 L211.6,464.5 L212.1,464.5 L212.6,464.5 L213.1,464.5 L213.6,464.5 L214.1,464.5 L214.6,464.5 L215.1,464.5 L215.6,464.3 L216.1,463.0 L216.6,457.9 L217.1,446.0 L217.6,431.6 L218.1,426.7 L218.6,432.8 L219.1,443.8 L219.6,453.9 L220.1,460.3 L220.6,463.2 L221.1,464.2 L221.6,464.4 L222.1,464.5 L222.6,464.5 L223.1,464.5 L223.6,464.5 L224.1,464.5 L224.6,464.5 L225.1,464.5 L225.6,464.5 L226.1,464.5 L226.6,464.5 L227.1,464.5 L227.6,464.5 L228.1,464.5 L228.6,464.5 L229.1,464.5 L229.6,464.5 L230.1,464.5 L230.6,464.5 L231.1,464.5 L231.6,464.5 L232.1,464.5 L232.6,464.5 L233.1,464.5 L233.6,464.5 L234.1,464.5 L234.6,464.5 L235.1,464.5 L235.6,464.5 L236.1,464.5 L236.6,464.5 L237.1,464.5 L237.6,464.5 L238.1,464.5 L238.6,464.5 L239.1,464.5 L239.6,464.5 L240.1,464.5 L240.6,464.5 L241.1,464.5 L241.6,464.5 L242.1,464.5 L242.6,464.5 L243.1,464.5 L243.6,464.5 L244.1,464.5 L244.6,464.5 L245.1,464.5 L245.6,464.5 L246.1,464.5 L246.6,464.5 L247.1,464.5 L247.6,464.5 L248.1,464.5 L248.6,464.5 L249.1,464.5 L249.6,464.5 L250.1,464.5 L250.6,464.5 L251.1,464.5 L251.6,464.5 L252.1,464.5 L252.6,464.5 L253.1,464.5 L253.6,464.5 L254.1,464.5 L254.6,464.5 L255.1,464.5" stroke="#b5173e" stroke-width="1.0" fill="none" stroke-linejoin="round"/>
<path d="M207.1,464.5 L207.6,464.5 L208.1,464.5 L208.6,464.5 L209.1,464.5 L209.6,464.5 L210.1,464.5 L210.6,464.5 L211.1,464.5 L211.6,464.5 L212.1,464.5 L212.6,464.5 L213.1,464.5 L213.6,464.5 L214.1,464.5 L214.6,464.5 L215.1,464.5 L215.6,464.3 L216.1,463.0 L216.6,458.2 L217.1,446.9 L217.6,433.2 L218.1,428.6 L218.6,434.3 L219.1,444.8 L219.6,454.5 L220.1,460.5 L220.6,463.3 L221.1,464.2 L221.6,464.4 L222.1,464.5 L222.6,464.5 L223.1,464.5 L223.6,464.5 L224.1,464.5 L224.6,464.5 L225.1,464.5 L225.6,464.5 L226.1,464.5 L226.6,464.5 L227.1,464.5 L227.6,464.5 L228.1,464.5 L228.6,464.5 L229.1,464.5 L229.6,464.5 L230.1,464.5 L230.6,464.5 L231.1,464.5 L231.6,464.5 L232.1,464.5 L232.6,464.5 L233.1,464.5 L233.6,464.5 L234.1,464.5 L234.6,464.5 L235.1,464.5 L235.6,464.5 L236.1,464.5 L236.6,464.5 L237.1,464.5 L237.6,464.5 L238.1,464.5 L238.6,464.5 L239.1,464.5 L239.6,464.5 L240.1,464.5 L240.6,464.5 L241.1,464.5 L241.6,464.5 L242.1,464.5 L242.6,464.5 L243.1,464.5 L243.6,464.5 L244.1,464.5 L244.6,464.5 L245.1,464.5 L245.6,464.5 L246.1,464.5 L246.6,464.5 L247.1,464.5 L247.6,464.5 L248.1,464.5 L248.6,464.5 L249.1,464.5 L249.6,464.5 L250.1,464.5 L250.6,464.5 L251.1,464.5 L251.6,464.5 L252.1,464.5 L252.6,464.5 L253.1,464.5 L253.6,464.5 L254.1,464.5 L254.6,464.5 L255.1,464.5" stroke="#5b2a86" stroke-width="1.0" fill="none" stroke-linejoin="round"/>
<line x1="204.10" y1="464.50" x2="206.50" y2="464.50" stroke="#000" stroke-width="0.8"/>
<line x1="206.50" y1="462.19" x2="207.70" y2="462.19" stroke="#333" stroke-width="0.5"/>
<line x1="206.50" y1="459.87" x2="207.70" y2="459.87" stroke="#333" stroke-width="0.5"/>
<line x1="206.50" y1="457.56" x2="207.70" y2="457.56" stroke="#333" stroke-width="0.5"/>
<line x1="204.10" y1="455.24" x2="206.50" y2="455.24" stroke="#000" stroke-width="0.8"/>
<line x1="206.50" y1="452.93" x2="207.70" y2="452.93" stroke="#333" stroke-width="0.5"/>
<line x1="206.50" y1="450.61" x2="207.70" y2="450.61" stroke="#333" stroke-width="0.5"/>
<line x1="206.50" y1="448.30" x2="207.70" y2="448.30" stroke="#333" stroke-width="0.5"/>
<line x1="204.10" y1="445.98" x2="206.50" y2="445.98" stroke="#000" stroke-width="0.8"/>
<line x1="206.50" y1="443.67" x2="207.70" y2="443.67" stroke="#333" stroke-width="0.5"/>
<line x1="206.50" y1="441.35" x2="207.70" y2="441.35" stroke="#333" stroke-width="0.5"/>
<line x1="206.50" y1="439.04" x2="207.70" y2="439.04" stroke="#333" stroke-width="0.5"/>
<line x1="204.10" y1="436.72" x2="206.50" y2="436.72" stroke="#000" stroke-width="0.8"/>
<line x1="206.50" y1="434.41" x2="207.70" y2="434.41" stroke="#333" stroke-width="0.5"/>
<line x1="206.50" y1="432.09" x2="207.70" y2="432.09" stroke="#333" stroke-width="0.5"/>
<line x1="206.50" y1="429.78" x2="207.70" y2="429.78" stroke="#333" stroke-width="0.5"/>
<line x1="204.10" y1="427.46" x2="206.50" y2="427.46" stroke="#000" stroke-width="0.8"/>
<line x1="206.50" y1="425.15" x2="207.70" y2="425.15" stroke="#333" stroke-width="0.5"/>
<line x1="206.50" y1="422.83" x2="207.70" y2="422.83" stroke="#333" stroke-width="0.5"/>
<line x1="206.50" y1="420.52" x2="207.70" y2="420.52" stroke="#333" stroke-width="0.5"/>
<line x1="204.10" y1="418.20" x2="206.50" y2="418.20" stroke="#000" stroke-width="0.8"/>
<line x1="207.50" y1="464.50" x2="207.50" y2="466.10" stroke="#333" stroke-width="0.6"/>
<line x1="211.10" y1="464.50" x2="211.10" y2="465.50" stroke="#333" stroke-width="0.6"/>
<line x1="214.70" y1="464.50" x2="214.70" y2="465.50" stroke="#333" stroke-width="0.6"/>
<line x1="218.30" y1="464.50" x2="218.30" y2="466.10" stroke="#333" stroke-width="0.6"/>
<line x1="221.90" y1="464.50" x2="221.90" y2="465.50" stroke="#333" stroke-width="0.6"/>
<line x1="225.50" y1="464.50" x2="225.50" y2="465.50" stroke="#333" stroke-width="0.6"/>
<line x1="229.10" y1="464.50" x2="229.10" y2="466.10" stroke="#333" stroke-width="0.6"/>
<line x1="232.70" y1="464.50" x2="232.70" y2="465.50" stroke="#333" stroke-width="0.6"/>
<line x1="236.30" y1="464.50" x2="236.30" y2="465.50" stroke="#333" stroke-width="0.6"/>
<line x1="239.90" y1="464.50" x2="239.90" y2="466.10" stroke="#333" stroke-width="0.6"/>
<line x1="243.50" y1="464.50" x2="243.50" y2="465.50" stroke="#333" stroke-width="0.6"/>
<line x1="247.10" y1="464.50" x2="247.10" y2="465.50" stroke="#333" stroke-width="0.6"/>
<line x1="250.70" y1="464.50" x2="250.70" y2="466.10" stroke="#333" stroke-width="0.6"/>
<line x1="254.30" y1="464.50" x2="254.30" y2="465.50" stroke="#333" stroke-width="0.6"/>
<rect x="206.50" y="415.60" width="49.70" height="48.90" fill="none" stroke="#000" stroke-width="1.2"/>
<text x="200.90" y="420.15" font-size="5.5" text-anchor="end" textLength="10.50" lengthAdjust="spacingAndGlyphs" fill="#222">100</text>
<text x="200.90" y="429.41" font-size="5.5" text-anchor="end" textLength="7.00" lengthAdjust="spacingAndGlyphs" fill="#222">80</text>
<text x="200.90" y="438.67" font-size="5.5" text-anchor="end" textLength="7.00" lengthAdjust="spacingAndGlyphs" fill="#222">60</text>
<text x="200.90" y="447.93" font-size="5.5" text-anchor="end" textLength="7.00" lengthAdjust="spacingAndGlyphs" fill="#222">40</text>
<text x="200.90" y="457.19" font-size="5.5" text-anchor="end" textLength="7.00" lengthAdjust="spacingAndGlyphs" fill="#222">20</text>
<text x="200.90" y="466.45" font-size="5.5" text-anchor="end" textLength="3.50" lengthAdjust="spacingAndGlyphs" fill="#222">0</text>
<text x="216.50" y="475.30" font-size="5.4" text-anchor="middle" fill="#222">0</text>
<text x="244.00" y="475.30" font-size="5.4" text-anchor="middle">10<tspan font-size="3.35" dy="-2.05">3</tspan></text>
<line x1="210.97" y1="434.39" x2="214.14" y2="435.87" stroke="#5b2a86" stroke-width="1.0"/>
<path d="M215.50,436.50 L212.55,436.67 L213.74,434.13 Z" stroke="none" stroke-width="1" fill="#5b2a86"/>
<line x1="210.97" y1="438.99" x2="214.14" y2="440.47" stroke="#b5173e" stroke-width="1.0"/>
<path d="M215.50,441.10 L212.55,441.27 L213.74,438.73 Z" stroke="none" stroke-width="1" fill="#b5173e"/>
<line x1="210.97" y1="443.79" x2="214.14" y2="445.27" stroke="#f4c20d" stroke-width="1.0"/>
<path d="M215.50,445.90 L212.55,446.07 L213.74,443.53 Z" stroke="none" stroke-width="1" fill="#f4c20d"/>
<path d="M206.8,546.5 L207.3,546.5 L207.8,546.5 L208.3,546.5 L208.8,546.5 L209.3,546.5 L209.8,546.5 L210.3,546.5 L210.8,546.5 L211.3,546.5 L211.8,546.5 L212.3,546.5 L212.8,546.5 L213.3,546.5 L213.8,546.4 L214.3,546.3 L214.8,545.0 L215.3,543.1 L215.8,540.5 L216.3,537.9 L216.8,535.1 L217.3,531.7 L217.8,528.9 L218.3,526.3 L218.8,522.9 L219.3,521.4 L219.8,518.9 L220.3,519.8 L220.8,517.7 L221.3,518.4 L221.8,518.2 L222.3,518.0 L222.8,518.9 L223.3,521.9 L223.8,522.8 L224.3,523.6 L224.8,525.3 L225.3,524.8 L225.8,526.3 L226.3,527.1 L226.8,527.3 L227.3,529.1 L227.8,528.5 L228.3,529.8 L228.8,530.6 L229.3,531.0 L229.8,533.2 L230.3,532.9 L230.8,533.1 L231.3,534.5 L231.8,535.2 L232.3,536.2 L232.8,537.6 L233.3,538.1 L233.8,538.5 L234.3,539.5 L234.8,541.1 L235.3,539.7 L235.8,541.8 L236.3,542.5 L236.8,543.5 L237.3,544.1 L237.8,544.1 L238.3,544.8 L238.8,545.0 L239.3,545.9 L239.8,546.0 L240.3,546.3 L240.8,546.5 L241.3,546.5 L241.8,546.5 L242.3,546.5 L242.8,546.5 L243.3,546.5 L243.8,546.5 L244.3,546.5 L244.8,546.5 L245.3,546.5 L245.8,546.5 L246.3,546.5 L246.8,546.5 L247.3,546.5 L247.8,546.5 L248.3,546.5 L248.8,546.5 L249.3,546.5 L249.8,546.5 L250.3,546.5 L250.8,546.5 L251.3,546.5 L251.8,546.5 L252.3,546.5 L252.8,546.5 L253.3,546.5 L253.8,546.5 L254.3,546.5 L254.8,546.5 L255.3,546.5" stroke="#63a83a" stroke-width="1.0" fill="none" stroke-linejoin="round"/>
<path d="M206.8,546.5 L207.3,546.5 L207.8,546.5 L208.3,546.5 L208.8,546.5 L209.3,546.5 L209.8,546.5 L210.3,546.5 L210.8,546.5 L211.3,546.5 L211.8,546.5 L212.3,546.5 L212.8,546.5 L213.3,546.5 L213.8,546.4 L214.3,545.4 L214.8,545.2 L215.3,543.0 L215.8,540.6 L216.3,537.4 L216.8,534.6 L217.3,531.6 L217.8,527.5 L218.3,523.5 L218.8,520.0 L219.3,518.4 L219.8,519.5 L220.3,520.7 L220.8,523.6 L221.3,527.0 L221.8,530.4 L222.3,532.6 L222.8,533.9 L223.3,534.8 L223.8,537.1 L224.3,536.7 L224.8,538.1 L225.3,537.9 L225.8,538.1 L226.3,537.5 L226.8,537.8 L227.3,537.2 L227.8,537.4 L228.3,538.1 L228.8,537.5 L229.3,538.2 L229.8,539.0 L230.3,538.5 L230.8,539.4 L231.3,538.9 L231.8,540.1 L232.3,540.4 L232.8,540.4 L233.3,540.6 L233.8,541.0 L234.3,542.3 L234.8,542.1 L235.3,543.7 L235.8,542.9 L236.3,544.5 L236.8,543.5 L237.3,544.5 L237.8,545.4 L238.3,544.8 L238.8,545.5 L239.3,546.0 L239.8,546.3 L240.3,546.5 L240.8,546.5 L241.3,546.5 L241.8,546.5 L242.3,546.5 L242.8,546.5 L243.3,546.5 L243.8,546.5 L244.3,546.5 L244.8,546.5 L245.3,546.5 L245.8,546.5 L246.3,546.5 L246.8,546.5 L247.3,546.5 L247.8,546.5 L248.3,546.5 L248.8,546.5 L249.3,546.5 L249.8,546.5 L250.3,546.5 L250.8,546.5 L251.3,546.5 L251.8,546.5 L252.3,546.5 L252.8,546.5 L253.3,546.5 L253.8,546.5 L254.3,546.5 L254.8,546.5 L255.3,546.5" stroke="#5ea8e2" stroke-width="1.0" fill="none" stroke-linejoin="round"/>
<path d="M206.8,546.5 L207.3,546.5 L207.8,546.5 L208.3,546.5 L208.8,546.5 L209.3,546.5 L209.8,546.5 L210.3,546.5 L210.8,546.5 L211.3,546.5 L211.8,546.5 L212.3,546.5 L212.8,546.5 L213.3,546.5 L213.8,546.5 L214.3,546.5 L214.8,546.4 L215.3,546.3 L215.8,545.7 L216.3,544.2 L216.8,541.1 L217.3,536.0 L217.8,529.1 L218.3,522.2 L218.8,518.1 L219.3,518.5 L219.8,522.7 L220.3,529.1 L220.8,535.5 L221.3,540.5 L221.8,543.7 L222.3,545.4 L222.8,546.1 L223.3,546.4 L223.8,546.5 L224.3,546.5 L224.8,546.5 L225.3,546.5 L225.8,546.5 L226.3,546.5 L226.8,546.5 L227.3,546.5 L227.8,546.5 L228.3,546.5 L228.8,546.5 L229.3,546.5 L229.8,546.5 L230.3,546.5 L230.8,546.5 L231.3,546.5 L231.8,546.5 L232.3,546.5 L232.8,546.5 L233.3,546.5 L233.8,546.5 L234.3,546.5 L234.8,546.5 L235.3,546.5 L235.8,546.5 L236.3,546.5 L236.8,546.5 L237.3,546.5 L237.8,546.5 L238.3,546.5 L238.8,546.5 L239.3,546.5 L239.8,546.5 L240.3,546.5 L240.8,546.5 L241.3,546.5 L241.8,546.5 L242.3,546.5 L242.8,546.5 L243.3,546.5 L243.8,546.5 L244.3,546.5 L244.8,546.5 L245.3,546.5 L245.8,546.5 L246.3,546.5 L246.8,546.5 L247.3,546.5 L247.8,546.5 L248.3,546.5 L248.8,546.5 L249.3,546.5 L249.8,546.5 L250.3,546.5 L250.8,546.5 L251.3,546.5 L251.8,546.5 L252.3,546.5 L252.8,546.5 L253.3,546.5 L253.8,546.5 L254.3,546.5 L254.8,546.5 L255.3,546.5" stroke="#f4c20d" stroke-width="1.0" fill="none" stroke-linejoin="round"/>
<path d="M206.8,546.5 L207.3,546.5 L207.8,546.5 L208.3,546.5 L208.8,546.5 L209.3,546.5 L209.8,546.5 L210.3,546.5 L210.8,546.5 L211.3,546.5 L211.8,546.5 L212.3,546.5 L212.8,546.4 L213.3,546.4 L213.8,546.2 L214.3,545.8 L214.8,545.2 L215.3,544.0 L215.8,542.1 L216.3,539.3 L216.8,535.5 L217.3,530.9 L217.8,525.8 L218.3,520.8 L218.8,516.8 L219.3,514.4 L219.8,514.1 L220.3,515.3 L220.8,517.6 L221.3,520.7 L221.8,524.4 L222.3,528.4 L222.8,532.2 L223.3,535.6 L223.8,538.6 L224.3,541.0 L224.8,542.8 L225.3,544.1 L225.8,545.0 L226.3,545.6 L226.8,546.0 L227.3,546.2 L227.8,546.4 L228.3,546.4 L228.8,546.5 L229.3,546.5 L229.8,546.5 L230.3,546.5 L230.8,546.5 L231.3,546.5 L231.8,546.5 L232.3,546.5 L232.8,546.5 L233.3,546.5 L233.8,546.5 L234.3,546.5 L234.8,546.5 L235.3,546.5 L235.8,546.5 L236.3,546.5 L236.8,546.5 L237.3,546.5 L237.8,546.5 L238.3,546.5 L238.8,546.5 L239.3,546.5 L239.8,546.5 L240.3,546.5 L240.8,546.5 L241.3,546.5 L241.8,546.5 L242.3,546.5 L242.8,546.5 L243.3,546.5 L243.8,546.5 L244.3,546.5 L244.8,546.5 L245.3,546.5 L245.8,546.5 L246.3,546.5 L246.8,546.5 L247.3,546.5 L247.8,546.5 L248.3,546.5 L248.8,546.5 L249.3,546.5 L249.8,546.5 L250.3,546.5 L250.8,546.5 L251.3,546.5 L251.8,546.5 L252.3,546.5 L252.8,546.5 L253.3,546.5 L253.8,546.5 L254.3,546.5 L254.8,546.5 L255.3,546.5" stroke="#5b2a86" stroke-width="1.0" fill="none" stroke-linejoin="round"/>
<path d="M206.8,546.5 L207.3,546.5 L207.8,546.5 L208.3,546.5 L208.8,546.5 L209.3,546.5 L209.8,546.5 L210.3,546.5 L210.8,546.5 L211.3,546.5 L211.8,546.5 L212.3,546.5 L212.8,546.5 L213.3,546.5 L213.8,546.4 L214.3,546.3 L214.8,545.9 L215.3,545.0 L215.8,543.0 L216.3,539.2 L216.8,533.2 L217.3,525.2 L217.8,516.5 L218.3,509.3 L218.8,505.8 L219.3,507.1 L219.8,512.4 L220.3,520.1 L220.8,528.2 L221.3,535.1 L221.8,540.2 L222.3,543.4 L222.8,545.1 L223.3,545.9 L223.8,546.3 L224.3,546.4 L224.8,546.5 L225.3,546.5 L225.8,546.5 L226.3,546.5 L226.8,546.5 L227.3,546.5 L227.8,546.5 L228.3,546.5 L228.8,546.5 L229.3,546.5 L229.8,546.5 L230.3,546.5 L230.8,546.5 L231.3,546.5 L231.8,546.5 L232.3,546.5 L232.8,546.5 L233.3,546.5 L233.8,546.5 L234.3,546.5 L234.8,546.5 L235.3,546.5 L235.8,546.5 L236.3,546.5 L236.8,546.5 L237.3,546.5 L237.8,546.5 L238.3,546.5 L238.8,546.5 L239.3,546.5 L239.8,546.5 L240.3,546.5 L240.8,546.5 L241.3,546.5 L241.8,546.5 L242.3,546.5 L242.8,546.5 L243.3,546.5 L243.8,546.5 L244.3,546.5 L244.8,546.5 L245.3,546.5 L245.8,546.5 L246.3,546.5 L246.8,546.5 L247.3,546.5 L247.8,546.5 L248.3,546.5 L248.8,546.5 L249.3,546.5 L249.8,546.5 L250.3,546.5 L250.8,546.5 L251.3,546.5 L251.8,546.5 L252.3,546.5 L252.8,546.5 L253.3,546.5 L253.8,546.5 L254.3,546.5 L254.8,546.5 L255.3,546.5" stroke="#b5173e" stroke-width="1.3" fill="none" stroke-linejoin="round"/>
<line x1="203.80" y1="546.50" x2="206.20" y2="546.50" stroke="#000" stroke-width="0.8"/>
<line x1="206.20" y1="544.18" x2="207.40" y2="544.18" stroke="#333" stroke-width="0.5"/>
<line x1="206.20" y1="541.86" x2="207.40" y2="541.86" stroke="#333" stroke-width="0.5"/>
<line x1="206.20" y1="539.54" x2="207.40" y2="539.54" stroke="#333" stroke-width="0.5"/>
<line x1="203.80" y1="537.22" x2="206.20" y2="537.22" stroke="#000" stroke-width="0.8"/>
<line x1="206.20" y1="534.90" x2="207.40" y2="534.90" stroke="#333" stroke-width="0.5"/>
<line x1="206.20" y1="532.58" x2="207.40" y2="532.58" stroke="#333" stroke-width="0.5"/>
<line x1="206.20" y1="530.26" x2="207.40" y2="530.26" stroke="#333" stroke-width="0.5"/>
<line x1="203.80" y1="527.94" x2="206.20" y2="527.94" stroke="#000" stroke-width="0.8"/>
<line x1="206.20" y1="525.62" x2="207.40" y2="525.62" stroke="#333" stroke-width="0.5"/>
<line x1="206.20" y1="523.30" x2="207.40" y2="523.30" stroke="#333" stroke-width="0.5"/>
<line x1="206.20" y1="520.98" x2="207.40" y2="520.98" stroke="#333" stroke-width="0.5"/>
<line x1="203.80" y1="518.66" x2="206.20" y2="518.66" stroke="#000" stroke-width="0.8"/>
<line x1="206.20" y1="516.34" x2="207.40" y2="516.34" stroke="#333" stroke-width="0.5"/>
<line x1="206.20" y1="514.02" x2="207.40" y2="514.02" stroke="#333" stroke-width="0.5"/>
<line x1="206.20" y1="511.70" x2="207.40" y2="511.70" stroke="#333" stroke-width="0.5"/>
<line x1="203.80" y1="509.38" x2="206.20" y2="509.38" stroke="#000" stroke-width="0.8"/>
<line x1="206.20" y1="507.06" x2="207.40" y2="507.06" stroke="#333" stroke-width="0.5"/>
<line x1="206.20" y1="504.74" x2="207.40" y2="504.74" stroke="#333" stroke-width="0.5"/>
<line x1="206.20" y1="502.42" x2="207.40" y2="502.42" stroke="#333" stroke-width="0.5"/>
<line x1="203.80" y1="500.10" x2="206.20" y2="500.10" stroke="#000" stroke-width="0.8"/>
<line x1="207.20" y1="546.50" x2="207.20" y2="548.10" stroke="#333" stroke-width="0.6"/>
<line x1="210.80" y1="546.50" x2="210.80" y2="547.50" stroke="#333" stroke-width="0.6"/>
<line x1="214.40" y1="546.50" x2="214.40" y2="547.50" stroke="#333" stroke-width="0.6"/>
<line x1="218.00" y1="546.50" x2="218.00" y2="548.10" stroke="#333" stroke-width="0.6"/>
<line x1="221.60" y1="546.50" x2="221.60" y2="547.50" stroke="#333" stroke-width="0.6"/>
<line x1="225.20" y1="546.50" x2="225.20" y2="547.50" stroke="#333" stroke-width="0.6"/>
<line x1="228.80" y1="546.50" x2="228.80" y2="548.10" stroke="#333" stroke-width="0.6"/>
<line x1="232.40" y1="546.50" x2="232.40" y2="547.50" stroke="#333" stroke-width="0.6"/>
<line x1="236.00" y1="546.50" x2="236.00" y2="547.50" stroke="#333" stroke-width="0.6"/>
<line x1="239.60" y1="546.50" x2="239.60" y2="548.10" stroke="#333" stroke-width="0.6"/>
<line x1="243.20" y1="546.50" x2="243.20" y2="547.50" stroke="#333" stroke-width="0.6"/>
<line x1="246.80" y1="546.50" x2="246.80" y2="547.50" stroke="#333" stroke-width="0.6"/>
<line x1="250.40" y1="546.50" x2="250.40" y2="548.10" stroke="#333" stroke-width="0.6"/>
<line x1="254.00" y1="546.50" x2="254.00" y2="547.50" stroke="#333" stroke-width="0.6"/>
<rect x="206.20" y="497.50" width="49.80" height="49.00" fill="none" stroke="#000" stroke-width="1.2"/>
<text x="200.60" y="502.05" font-size="5.5" text-anchor="end" textLength="10.50" lengthAdjust="spacingAndGlyphs" fill="#222">100</text>
<text x="200.60" y="511.33" font-size="5.5" text-anchor="end" textLength="7.00" lengthAdjust="spacingAndGlyphs" fill="#222">80</text>
<text x="200.60" y="520.61" font-size="5.5" text-anchor="end" textLength="7.00" lengthAdjust="spacingAndGlyphs" fill="#222">60</text>
<text x="200.60" y="529.89" font-size="5.5" text-anchor="end" textLength="7.00" lengthAdjust="spacingAndGlyphs" fill="#222">40</text>
<text x="200.60" y="539.17" font-size="5.5" text-anchor="end" textLength="7.00" lengthAdjust="spacingAndGlyphs" fill="#222">20</text>
<text x="200.60" y="548.45" font-size="5.5" text-anchor="end" textLength="3.50" lengthAdjust="spacingAndGlyphs" fill="#222">0</text>
<text x="216.20" y="557.30" font-size="5.4" text-anchor="middle" fill="#222">0</text>
<text x="243.70" y="557.30" font-size="5.4" text-anchor="middle">10<tspan font-size="3.35" dy="-2.05">3</tspan></text>
<line x1="210.67" y1="519.39" x2="213.84" y2="520.87" stroke="#5b2a86" stroke-width="1.0"/>
<path d="M215.20,521.50 L212.25,521.67 L213.44,519.13 Z" stroke="none" stroke-width="1" fill="#5b2a86"/>
<line x1="210.67" y1="524.09" x2="213.84" y2="525.57" stroke="#b5173e" stroke-width="1.0"/>
<path d="M215.20,526.20 L212.25,526.37 L213.44,523.83 Z" stroke="none" stroke-width="1" fill="#b5173e"/>
<line x1="210.67" y1="528.89" x2="213.84" y2="530.37" stroke="#f4c20d" stroke-width="1.0"/>
<path d="M215.20,531.00 L212.25,531.17 L213.44,528.63 Z" stroke="none" stroke-width="1" fill="#f4c20d"/>
<line x1="11.30" y1="420.40" x2="11.30" y2="424.70" stroke="#222" stroke-width="1.1"/>
<path d="M8.70,420.90 L11.30,415.90 L13.90,420.90 Z" stroke="none" stroke-width="1" fill="#222"/>
<text x="13.10" y="452.60" font-size="7.0" textLength="24.30" lengthAdjust="spacingAndGlyphs" fill="#111" transform="rotate(-90 13.10 452.60)">% of max</text>
<line x1="11.30" y1="455.60" x2="11.30" y2="485.30" stroke="#222" stroke-width="0.9"/>
<line x1="10.85" y1="485.30" x2="43.80" y2="485.30" stroke="#222" stroke-width="0.9"/>
<text x="50.00" y="488.10" font-size="8.0" font-weight="bold" textLength="13.80" lengthAdjust="spacingAndGlyphs" fill="#111">CD69</text>
<line x1="68.80" y1="485.30" x2="80.30" y2="485.30" stroke="#222" stroke-width="0.9"/>
<path d="M79.80,483.50 L83.80,485.30 L79.80,487.10 Z" stroke="none" stroke-width="1" fill="#222"/>
<line x1="11.30" y1="502.40" x2="11.30" y2="506.70" stroke="#222" stroke-width="1.1"/>
<path d="M8.70,502.90 L11.30,497.90 L13.90,502.90 Z" stroke="none" stroke-width="1" fill="#222"/>
<text x="13.10" y="535.00" font-size="7.0" textLength="24.70" lengthAdjust="spacingAndGlyphs" fill="#111" transform="rotate(-90 13.10 535.00)">% of max</text>
<line x1="11.30" y1="538.00" x2="11.30" y2="567.50" stroke="#222" stroke-width="0.9"/>
<line x1="10.85" y1="567.50" x2="43.80" y2="567.50" stroke="#222" stroke-width="0.9"/>
<text x="48.80" y="570.30" font-size="8.0" font-weight="bold" textLength="15.00" lengthAdjust="spacingAndGlyphs" fill="#111">Nur77</text>
<line x1="68.80" y1="567.50" x2="80.30" y2="567.50" stroke="#222" stroke-width="0.9"/>
<path d="M79.80,565.70 L83.80,567.50 L79.80,569.30 Z" stroke="none" stroke-width="1" fill="#222"/>
<line x1="182.10" y1="420.40" x2="182.10" y2="424.70" stroke="#222" stroke-width="1.1"/>
<path d="M179.50,420.90 L182.10,415.90 L184.70,420.90 Z" stroke="none" stroke-width="1" fill="#222"/>
<text x="183.90" y="452.60" font-size="7.0" textLength="24.30" lengthAdjust="spacingAndGlyphs" fill="#111" transform="rotate(-90 183.90 452.60)">% of max</text>
<line x1="182.10" y1="455.60" x2="182.10" y2="485.00" stroke="#222" stroke-width="0.9"/>
<line x1="181.65" y1="485.00" x2="214.00" y2="485.00" stroke="#222" stroke-width="0.9"/>
<text x="220.40" y="487.80" font-size="8.0" font-weight="bold" textLength="13.80" lengthAdjust="spacingAndGlyphs" fill="#111">CD69</text>
<line x1="239.20" y1="485.00" x2="250.70" y2="485.00" stroke="#222" stroke-width="0.9"/>
<path d="M250.20,483.20 L254.20,485.00 L250.20,486.80 Z" stroke="none" stroke-width="1" fill="#222"/>
<line x1="182.10" y1="502.40" x2="182.10" y2="506.70" stroke="#222" stroke-width="1.1"/>
<path d="M179.50,502.90 L182.10,497.90 L184.70,502.90 Z" stroke="none" stroke-width="1" fill="#222"/>
<text x="183.90" y="535.00" font-size="7.0" textLength="24.70" lengthAdjust="spacingAndGlyphs" fill="#111" transform="rotate(-90 183.90 535.00)">% of max</text>
<line x1="182.10" y1="538.00" x2="182.10" y2="567.00" stroke="#222" stroke-width="0.9"/>
<line x1="181.65" y1="567.00" x2="214.00" y2="567.00" stroke="#222" stroke-width="0.9"/>
<text x="219.80" y="569.80" font-size="8.0" font-weight="bold" textLength="14.80" lengthAdjust="spacingAndGlyphs" fill="#111">Nur77</text>
<line x1="239.60" y1="567.00" x2="251.10" y2="567.00" stroke="#222" stroke-width="0.9"/>
<path d="M250.60,565.20 L254.60,567.00 L250.60,568.80 Z" stroke="none" stroke-width="1" fill="#222"/>
<line x1="120.40" y1="415.80" x2="120.40" y2="465.00" stroke="#000" stroke-width="1.0"/>
<line x1="118.20" y1="464.60" x2="120.40" y2="464.60" stroke="#000" stroke-width="0.9"/>
<text x="113.90" y="466.60" font-size="5.5" text-anchor="end" textLength="3.40" lengthAdjust="spacingAndGlyphs" fill="#222">0</text>
<line x1="118.20" y1="448.83" x2="120.40" y2="448.83" stroke="#000" stroke-width="0.9"/>
<text x="113.90" y="450.83" font-size="5.5" text-anchor="end" textLength="6.80" lengthAdjust="spacingAndGlyphs" fill="#222">20</text>
<line x1="118.20" y1="433.07" x2="120.40" y2="433.07" stroke="#000" stroke-width="0.9"/>
<text x="113.90" y="435.07" font-size="5.5" text-anchor="end" textLength="6.80" lengthAdjust="spacingAndGlyphs" fill="#222">40</text>
<line x1="118.20" y1="417.30" x2="120.40" y2="417.30" stroke="#000" stroke-width="0.9"/>
<text x="113.90" y="419.30" font-size="5.5" text-anchor="end" textLength="6.80" lengthAdjust="spacingAndGlyphs" fill="#222">60</text>
<line x1="120.40" y1="464.60" x2="167.70" y2="464.60" stroke="#000" stroke-width="1.1"/>
<line x1="126.00" y1="464.60" x2="126.00" y2="466.40" stroke="#000" stroke-width="0.8"/>
<rect x="123.20" y="463.81" width="5.60" height="0.79" fill="#5b2a86"/>
<line x1="126.00" y1="463.42" x2="126.00" y2="463.81" stroke="#5b2a86" stroke-width="0.9"/>
<line x1="124.60" y1="463.42" x2="127.40" y2="463.42" stroke="#5b2a86" stroke-width="0.9"/>
<line x1="135.00" y1="464.60" x2="135.00" y2="466.40" stroke="#000" stroke-width="0.8"/>
<rect x="132.20" y="463.42" width="5.60" height="1.18" fill="#b5173e"/>
<line x1="135.00" y1="463.02" x2="135.00" y2="463.42" stroke="#b5173e" stroke-width="0.9"/>
<line x1="133.60" y1="463.02" x2="136.40" y2="463.02" stroke="#b5173e" stroke-width="0.9"/>
<line x1="144.00" y1="464.60" x2="144.00" y2="466.40" stroke="#000" stroke-width="0.8"/>
<rect x="141.20" y="463.97" width="5.60" height="0.63" fill="#f4c20d"/>
<line x1="144.00" y1="463.58" x2="144.00" y2="463.97" stroke="#f4c20d" stroke-width="0.9"/>
<line x1="142.60" y1="463.58" x2="145.40" y2="463.58" stroke="#f4c20d" stroke-width="0.9"/>
<line x1="153.20" y1="464.60" x2="153.20" y2="466.40" stroke="#000" stroke-width="0.8"/>
<rect x="150.40" y="429.12" width="5.60" height="35.48" fill="#5ea8e2"/>
<line x1="153.20" y1="425.18" x2="153.20" y2="429.12" stroke="#222" stroke-width="0.9"/>
<line x1="151.80" y1="425.18" x2="154.60" y2="425.18" stroke="#222" stroke-width="0.9"/>
<line x1="162.20" y1="464.60" x2="162.20" y2="466.40" stroke="#000" stroke-width="0.8"/>
<rect x="159.40" y="429.12" width="5.60" height="35.48" fill="#5ba43a"/>
<line x1="162.20" y1="425.18" x2="162.20" y2="429.12" stroke="#222" stroke-width="0.9"/>
<line x1="160.80" y1="425.18" x2="163.60" y2="425.18" stroke="#222" stroke-width="0.9"/>
<line x1="126.00" y1="416.70" x2="161.70" y2="416.70" stroke="#262626" stroke-width="1.2"/>
<line x1="161.70" y1="416.20" x2="161.70" y2="418.50" stroke="#262626" stroke-width="0.9"/>
<text x="126.30" y="415.70" font-size="4.0" textLength="18.20" lengthAdjust="spacingAndGlyphs" fill="#333">p&lt;0.0001</text>
<line x1="126.00" y1="423.50" x2="152.00" y2="423.50" stroke="#262626" stroke-width="1.2"/>
<line x1="152.00" y1="423.00" x2="152.00" y2="425.30" stroke="#262626" stroke-width="0.9"/>
<text x="126.30" y="422.50" font-size="4.0" textLength="18.20" lengthAdjust="spacingAndGlyphs" fill="#333">p&lt;0.0001</text>
<line x1="126.00" y1="429.80" x2="143.50" y2="429.80" stroke="#262626" stroke-width="1.2"/>
<line x1="143.50" y1="429.30" x2="143.50" y2="431.60" stroke="#262626" stroke-width="0.9"/>
<text x="126.30" y="428.80" font-size="4.0" textLength="18.20" lengthAdjust="spacingAndGlyphs" fill="#333">p=0.1763</text>
<line x1="126.00" y1="435.60" x2="134.80" y2="435.60" stroke="#262626" stroke-width="1.2"/>
<line x1="134.80" y1="435.10" x2="134.80" y2="437.40" stroke="#262626" stroke-width="0.9"/>
<text x="126.30" y="434.60" font-size="4.0" textLength="18.20" lengthAdjust="spacingAndGlyphs" fill="#333">p=0.2448</text>
<line x1="290.80" y1="415.80" x2="290.80" y2="465.00" stroke="#000" stroke-width="1.0"/>
<line x1="288.60" y1="464.60" x2="290.80" y2="464.60" stroke="#000" stroke-width="0.9"/>
<text x="284.30" y="466.60" font-size="5.5" text-anchor="end" textLength="3.40" lengthAdjust="spacingAndGlyphs" fill="#222">0</text>
<line x1="288.60" y1="448.83" x2="290.80" y2="448.83" stroke="#000" stroke-width="0.9"/>
<text x="284.30" y="450.83" font-size="5.5" text-anchor="end" textLength="6.80" lengthAdjust="spacingAndGlyphs" fill="#222">20</text>
<line x1="288.60" y1="433.07" x2="290.80" y2="433.07" stroke="#000" stroke-width="0.9"/>
<text x="284.30" y="435.07" font-size="5.5" text-anchor="end" textLength="6.80" lengthAdjust="spacingAndGlyphs" fill="#222">40</text>
<line x1="288.60" y1="417.30" x2="290.80" y2="417.30" stroke="#000" stroke-width="0.9"/>
<text x="284.30" y="419.30" font-size="5.5" text-anchor="end" textLength="6.80" lengthAdjust="spacingAndGlyphs" fill="#222">60</text>
<line x1="290.80" y1="464.60" x2="338.10" y2="464.60" stroke="#000" stroke-width="1.1"/>
<line x1="296.40" y1="464.60" x2="296.40" y2="466.40" stroke="#000" stroke-width="0.8"/>
<rect x="293.60" y="463.81" width="5.60" height="0.79" fill="#5b2a86"/>
<line x1="296.40" y1="463.42" x2="296.40" y2="463.81" stroke="#5b2a86" stroke-width="0.9"/>
<line x1="295.00" y1="463.42" x2="297.80" y2="463.42" stroke="#5b2a86" stroke-width="0.9"/>
<line x1="305.40" y1="464.60" x2="305.40" y2="466.40" stroke="#000" stroke-width="0.8"/>
<rect x="302.60" y="463.81" width="5.60" height="0.79" fill="#b5173e"/>
<line x1="305.40" y1="463.42" x2="305.40" y2="463.81" stroke="#b5173e" stroke-width="0.9"/>
<line x1="304.00" y1="463.42" x2="306.80" y2="463.42" stroke="#b5173e" stroke-width="0.9"/>
<line x1="314.40" y1="464.60" x2="314.40" y2="466.40" stroke="#000" stroke-width="0.8"/>
<rect x="311.60" y="464.21" width="5.60" height="0.39" fill="#f4c20d"/>
<line x1="314.40" y1="463.81" x2="314.40" y2="464.21" stroke="#f4c20d" stroke-width="0.9"/>
<line x1="313.00" y1="463.81" x2="315.80" y2="463.81" stroke="#f4c20d" stroke-width="0.9"/>
<line x1="323.60" y1="464.60" x2="323.60" y2="466.40" stroke="#000" stroke-width="0.8"/>
<rect x="320.80" y="433.07" width="5.60" height="31.53" fill="#5ea8e2"/>
<line x1="323.60" y1="429.91" x2="323.60" y2="433.07" stroke="#222" stroke-width="0.9"/>
<line x1="322.20" y1="429.91" x2="325.00" y2="429.91" stroke="#222" stroke-width="0.9"/>
<line x1="332.60" y1="464.60" x2="332.60" y2="466.40" stroke="#000" stroke-width="0.8"/>
<rect x="329.80" y="437.01" width="5.60" height="27.59" fill="#5ba43a"/>
<line x1="332.60" y1="433.86" x2="332.60" y2="437.01" stroke="#222" stroke-width="0.9"/>
<line x1="331.20" y1="433.86" x2="334.00" y2="433.86" stroke="#222" stroke-width="0.9"/>
<line x1="295.60" y1="417.00" x2="333.00" y2="417.00" stroke="#262626" stroke-width="1.2"/>
<line x1="333.00" y1="416.50" x2="333.00" y2="418.80" stroke="#262626" stroke-width="0.9"/>
<text x="295.90" y="416.00" font-size="4.0" textLength="18.20" lengthAdjust="spacingAndGlyphs" fill="#333">p&lt;0.0001</text>
<line x1="295.60" y1="423.50" x2="322.70" y2="423.50" stroke="#262626" stroke-width="1.2"/>
<line x1="322.70" y1="423.00" x2="322.70" y2="425.30" stroke="#262626" stroke-width="0.9"/>
<text x="295.90" y="422.50" font-size="4.0" textLength="18.20" lengthAdjust="spacingAndGlyphs" fill="#333">p&lt;0.0001</text>
<line x1="295.60" y1="430.00" x2="315.00" y2="430.00" stroke="#262626" stroke-width="1.2"/>
<line x1="315.00" y1="429.50" x2="315.00" y2="431.80" stroke="#262626" stroke-width="0.9"/>
<text x="295.90" y="429.00" font-size="4.0" textLength="18.20" lengthAdjust="spacingAndGlyphs" fill="#333">p=0.1805</text>
<line x1="295.60" y1="436.00" x2="306.70" y2="436.00" stroke="#262626" stroke-width="1.2"/>
<line x1="306.70" y1="435.50" x2="306.70" y2="437.80" stroke="#262626" stroke-width="0.9"/>
<text x="295.90" y="435.00" font-size="4.0" textLength="18.20" lengthAdjust="spacingAndGlyphs" fill="#333">p=0.6680</text>
<line x1="120.40" y1="497.30" x2="120.40" y2="547.10" stroke="#000" stroke-width="1.0"/>
<line x1="118.20" y1="546.70" x2="120.40" y2="546.70" stroke="#000" stroke-width="0.9"/>
<text x="113.90" y="548.70" font-size="5.5" text-anchor="end" textLength="3.40" lengthAdjust="spacingAndGlyphs" fill="#222">0</text>
<line x1="118.20" y1="537.12" x2="120.40" y2="537.12" stroke="#000" stroke-width="0.9"/>
<text x="113.90" y="539.12" font-size="5.5" text-anchor="end" textLength="3.40" lengthAdjust="spacingAndGlyphs" fill="#222">5</text>
<line x1="118.20" y1="527.54" x2="120.40" y2="527.54" stroke="#000" stroke-width="0.9"/>
<text x="113.90" y="529.54" font-size="5.5" text-anchor="end" textLength="6.80" lengthAdjust="spacingAndGlyphs" fill="#222">10</text>
<line x1="118.20" y1="517.96" x2="120.40" y2="517.96" stroke="#000" stroke-width="0.9"/>
<text x="113.90" y="519.96" font-size="5.5" text-anchor="end" textLength="6.80" lengthAdjust="spacingAndGlyphs" fill="#222">15</text>
<line x1="118.20" y1="508.38" x2="120.40" y2="508.38" stroke="#000" stroke-width="0.9"/>
<text x="113.90" y="510.38" font-size="5.5" text-anchor="end" textLength="6.80" lengthAdjust="spacingAndGlyphs" fill="#222">20</text>
<line x1="118.20" y1="498.80" x2="120.40" y2="498.80" stroke="#000" stroke-width="0.9"/>
<text x="113.90" y="500.80" font-size="5.5" text-anchor="end" textLength="6.80" lengthAdjust="spacingAndGlyphs" fill="#222">25</text>
<line x1="120.40" y1="546.70" x2="167.70" y2="546.70" stroke="#000" stroke-width="1.1"/>
<line x1="126.00" y1="546.70" x2="126.00" y2="548.50" stroke="#000" stroke-width="0.8"/>
<rect x="123.20" y="546.13" width="5.60" height="0.57" fill="#5b2a86"/>
<line x1="126.00" y1="545.17" x2="126.00" y2="546.13" stroke="#5b2a86" stroke-width="0.9"/>
<line x1="124.60" y1="545.17" x2="127.40" y2="545.17" stroke="#5b2a86" stroke-width="0.9"/>
<line x1="135.00" y1="546.70" x2="135.00" y2="548.50" stroke="#000" stroke-width="0.8"/>
<rect x="132.20" y="546.13" width="5.60" height="0.57" fill="#b5173e"/>
<line x1="135.00" y1="545.17" x2="135.00" y2="546.13" stroke="#b5173e" stroke-width="0.9"/>
<line x1="133.60" y1="545.17" x2="136.40" y2="545.17" stroke="#b5173e" stroke-width="0.9"/>
<line x1="144.00" y1="546.70" x2="144.00" y2="548.50" stroke="#000" stroke-width="0.8"/>
<rect x="141.80" y="545.90" width="4.40" height="0.80" fill="#f4c20d"/>
<line x1="144.00" y1="545.74" x2="144.00" y2="546.32" stroke="#f4c20d" stroke-width="0.9"/>
<line x1="142.60" y1="545.74" x2="145.40" y2="545.74" stroke="#f4c20d" stroke-width="0.9"/>
<line x1="153.20" y1="546.70" x2="153.20" y2="548.50" stroke="#000" stroke-width="0.8"/>
<rect x="150.40" y="519.88" width="5.60" height="26.82" fill="#5ea8e2"/>
<line x1="153.20" y1="517.58" x2="153.20" y2="519.88" stroke="#222" stroke-width="0.9"/>
<line x1="151.80" y1="517.58" x2="154.60" y2="517.58" stroke="#222" stroke-width="0.9"/>
<line x1="162.20" y1="546.70" x2="162.20" y2="548.50" stroke="#000" stroke-width="0.8"/>
<rect x="159.40" y="517.96" width="5.60" height="28.74" fill="#5ba43a"/>
<line x1="162.20" y1="515.66" x2="162.20" y2="517.96" stroke="#222" stroke-width="0.9"/>
<line x1="160.80" y1="515.66" x2="163.60" y2="515.66" stroke="#222" stroke-width="0.9"/>
<line x1="124.20" y1="499.80" x2="162.70" y2="499.80" stroke="#262626" stroke-width="1.2"/>
<line x1="162.70" y1="499.30" x2="162.70" y2="501.60" stroke="#262626" stroke-width="0.9"/>
<text x="124.50" y="498.80" font-size="4.0" textLength="18.20" lengthAdjust="spacingAndGlyphs" fill="#333">p&lt;0.0001</text>
<line x1="124.20" y1="506.50" x2="151.50" y2="506.50" stroke="#262626" stroke-width="1.2"/>
<line x1="151.50" y1="506.00" x2="151.50" y2="508.30" stroke="#262626" stroke-width="0.9"/>
<text x="124.50" y="505.50" font-size="4.0" textLength="18.20" lengthAdjust="spacingAndGlyphs" fill="#333">p&lt;0.0001</text>
<line x1="124.20" y1="513.00" x2="144.00" y2="513.00" stroke="#262626" stroke-width="1.2"/>
<line x1="144.00" y1="512.50" x2="144.00" y2="514.80" stroke="#262626" stroke-width="0.9"/>
<text x="124.50" y="512.00" font-size="4.0" textLength="18.20" lengthAdjust="spacingAndGlyphs" fill="#333">p=0.3690</text>
<line x1="124.20" y1="519.40" x2="136.20" y2="519.40" stroke="#262626" stroke-width="1.2"/>
<line x1="136.20" y1="518.90" x2="136.20" y2="521.20" stroke="#262626" stroke-width="0.9"/>
<text x="124.50" y="518.40" font-size="4.0" textLength="18.20" lengthAdjust="spacingAndGlyphs" fill="#333">p=0.8072</text>
<line x1="291.00" y1="497.30" x2="291.00" y2="547.10" stroke="#000" stroke-width="1.0"/>
<line x1="288.80" y1="546.70" x2="291.00" y2="546.70" stroke="#000" stroke-width="0.9"/>
<text x="284.50" y="548.70" font-size="5.5" text-anchor="end" textLength="3.40" lengthAdjust="spacingAndGlyphs" fill="#222">0</text>
<line x1="288.80" y1="537.12" x2="291.00" y2="537.12" stroke="#000" stroke-width="0.9"/>
<text x="284.50" y="539.12" font-size="5.5" text-anchor="end" textLength="3.40" lengthAdjust="spacingAndGlyphs" fill="#222">5</text>
<line x1="288.80" y1="527.54" x2="291.00" y2="527.54" stroke="#000" stroke-width="0.9"/>
<text x="284.50" y="529.54" font-size="5.5" text-anchor="end" textLength="6.80" lengthAdjust="spacingAndGlyphs" fill="#222">10</text>
<line x1="288.80" y1="517.96" x2="291.00" y2="517.96" stroke="#000" stroke-width="0.9"/>
<text x="284.50" y="519.96" font-size="5.5" text-anchor="end" textLength="6.80" lengthAdjust="spacingAndGlyphs" fill="#222">15</text>
<line x1="288.80" y1="508.38" x2="291.00" y2="508.38" stroke="#000" stroke-width="0.9"/>
<text x="284.50" y="510.38" font-size="5.5" text-anchor="end" textLength="6.80" lengthAdjust="spacingAndGlyphs" fill="#222">20</text>
<line x1="288.80" y1="498.80" x2="291.00" y2="498.80" stroke="#000" stroke-width="0.9"/>
<text x="284.50" y="500.80" font-size="5.5" text-anchor="end" textLength="6.80" lengthAdjust="spacingAndGlyphs" fill="#222">25</text>
<line x1="291.00" y1="546.70" x2="338.30" y2="546.70" stroke="#000" stroke-width="1.1"/>
<line x1="296.60" y1="546.70" x2="296.60" y2="548.50" stroke="#000" stroke-width="0.8"/>
<line x1="305.60" y1="546.70" x2="305.60" y2="548.50" stroke="#000" stroke-width="0.8"/>
<line x1="314.60" y1="546.70" x2="314.60" y2="548.50" stroke="#000" stroke-width="0.8"/>
<line x1="323.80" y1="546.70" x2="323.80" y2="548.50" stroke="#000" stroke-width="0.8"/>
<rect x="321.00" y="512.21" width="5.60" height="34.49" fill="#5ea8e2"/>
<line x1="323.80" y1="508.00" x2="323.80" y2="512.21" stroke="#222" stroke-width="0.9"/>
<line x1="322.40" y1="508.00" x2="325.20" y2="508.00" stroke="#222" stroke-width="0.9"/>
<line x1="332.80" y1="546.70" x2="332.80" y2="548.50" stroke="#000" stroke-width="0.8"/>
<rect x="330.00" y="506.46" width="5.60" height="40.24" fill="#5ba43a"/>
<line x1="332.80" y1="502.63" x2="332.80" y2="506.46" stroke="#222" stroke-width="0.9"/>
<line x1="331.40" y1="502.63" x2="334.20" y2="502.63" stroke="#222" stroke-width="0.9"/>
<line x1="295.60" y1="499.80" x2="333.00" y2="499.80" stroke="#262626" stroke-width="1.2"/>
<line x1="333.00" y1="499.30" x2="333.00" y2="501.60" stroke="#262626" stroke-width="0.9"/>
<text x="295.90" y="498.80" font-size="4.0" textLength="18.20" lengthAdjust="spacingAndGlyphs" fill="#333">p&lt;0.0001</text>
<line x1="295.60" y1="506.00" x2="322.00" y2="506.00" stroke="#262626" stroke-width="1.2"/>
<line x1="322.00" y1="505.50" x2="322.00" y2="507.80" stroke="#262626" stroke-width="0.9"/>
<text x="295.90" y="505.00" font-size="4.0" textLength="18.20" lengthAdjust="spacingAndGlyphs" fill="#333">p&lt;0.0001</text>
<line x1="295.60" y1="512.70" x2="315.00" y2="512.70" stroke="#262626" stroke-width="1.2"/>
<line x1="315.00" y1="512.20" x2="315.00" y2="514.50" stroke="#262626" stroke-width="0.9"/>
<text x="295.90" y="511.70" font-size="4.0" textLength="18.20" lengthAdjust="spacingAndGlyphs" fill="#333">p=0.6871</text>
<line x1="295.60" y1="519.40" x2="306.70" y2="519.40" stroke="#262626" stroke-width="1.2"/>
<line x1="306.70" y1="518.90" x2="306.70" y2="521.20" stroke="#262626" stroke-width="0.9"/>
<text x="295.90" y="518.40" font-size="4.0" textLength="18.20" lengthAdjust="spacingAndGlyphs" fill="#333">p=0.7002</text>
<text x="102.10" y="452.30" font-size="7.8" textLength="25.60" lengthAdjust="spacingAndGlyphs" fill="#222" transform="rotate(-90 102.10 452.30)">% CD69+</text>
<text x="271.60" y="453.30" font-size="7.8" textLength="25.00" lengthAdjust="spacingAndGlyphs" fill="#222" transform="rotate(-90 271.60 453.30)">% CD69+</text>
<text x="102.40" y="534.20" font-size="7.8" textLength="25.80" lengthAdjust="spacingAndGlyphs" fill="#222" transform="rotate(-90 102.40 534.20)">% Nur77+</text>
<text x="272.80" y="534.20" font-size="7.8" textLength="25.80" lengthAdjust="spacingAndGlyphs" fill="#222" transform="rotate(-90 272.80 534.20)">% Nur77+</text>
<rect x="56.30" y="582.90" width="4.70" height="1.80" fill="#5b2a86"/>
<text x="64.00" y="585.60" font-size="4.9" textLength="26.60" lengthAdjust="spacingAndGlyphs" fill="#333">Ms-IgG-Fab</text>
<rect x="100.10" y="582.90" width="4.70" height="1.80" fill="#b8102f"/>
<text x="107.50" y="585.60" font-size="4.9" textLength="38.80" lengthAdjust="spacingAndGlyphs" fill="#333">Mono-OKT3-Fab</text>
<rect x="155.00" y="582.90" width="4.70" height="1.80" fill="#f4c20d"/>
<text x="162.70" y="585.60" font-size="4.9" textLength="42.30" lengthAdjust="spacingAndGlyphs" fill="#333">Mono-UCHT1-Fab</text>
<rect x="214.20" y="582.90" width="4.70" height="1.80" fill="#5ea8e2"/>
<text x="222.00" y="585.60" font-size="4.9" textLength="25.00" lengthAdjust="spacingAndGlyphs" fill="#333">OKT3 mAb</text>
<rect x="256.60" y="582.90" width="4.70" height="1.80" fill="#5ba43a"/>
<text x="264.20" y="585.60" font-size="4.9" textLength="27.00" lengthAdjust="spacingAndGlyphs" fill="#333">UCHT1 mAb</text>
<text x="354.00" y="394.00" font-size="12" font-weight="bold" textLength="7.60" lengthAdjust="spacingAndGlyphs">E</text>
<text x="373.30" y="404.60" font-size="6.6" text-anchor="middle" fill="#222">Fab</text>
<text x="361.20" y="412.90" font-size="6.6" textLength="24.30" lengthAdjust="spacingAndGlyphs" fill="#222">stimulus:</text>
<text x="363.80" y="419.50" font-size="6.6" textLength="19.20" lengthAdjust="spacingAndGlyphs" fill="#222">(5 min)</text>
<text x="402.00" y="405.10" font-size="6.6" text-anchor="middle" fill="#222">Ms-</text>
<text x="402.00" y="411.90" font-size="6.6" text-anchor="middle" fill="#222">IgG</text>
<line x1="390.00" y1="416.20" x2="409.70" y2="416.20" stroke="#333" stroke-width="1.1"/>
<text x="397.60" y="423.30" font-size="6.6" textLength="12.10" lengthAdjust="spacingAndGlyphs" fill="#222">+PV</text>
<text x="427.00" y="405.10" font-size="6.6" text-anchor="middle" fill="#222">Mono-</text>
<text x="427.00" y="411.90" font-size="6.6" text-anchor="middle" fill="#222">OKT3</text>
<line x1="414.90" y1="416.20" x2="434.80" y2="416.20" stroke="#333" stroke-width="1.1"/>
<text x="422.70" y="423.30" font-size="6.6" textLength="12.30" lengthAdjust="spacingAndGlyphs" fill="#222">+PV</text>
<text x="452.00" y="405.10" font-size="6.6" text-anchor="middle" fill="#222">Mono-</text>
<text x="452.00" y="411.90" font-size="6.6" text-anchor="middle" fill="#222">UCHT1</text>
<line x1="441.20" y1="416.20" x2="460.00" y2="416.20" stroke="#333" stroke-width="1.1"/>
<text x="448.50" y="423.30" font-size="6.6" textLength="11.50" lengthAdjust="spacingAndGlyphs" fill="#222">+PV</text>
<rect x="387.30" y="425.40" width="76.90" height="39.90" fill="#e4e4e4"/>
<rect x="461.00" y="425.40" width="2.40" height="39.90" fill="#f2f2f2"/>
<rect x="389.80" y="430.90" width="9.20" height="1.80" fill="#000" opacity="0.126" filter="url(#blur05)"/>
<rect x="389.80" y="444.10" width="9.20" height="1.80" fill="#000" opacity="0.271" filter="url(#blur05)"/>
<rect x="389.80" y="446.50" width="9.20" height="1.40" fill="#000" opacity="0.090" filter="url(#blur05)"/>
<rect x="389.80" y="455.00" width="9.20" height="2.00" fill="#000" opacity="0.045" filter="url(#blur05)"/>
<rect x="414.40" y="430.90" width="8.80" height="1.80" fill="#000" opacity="0.082" filter="url(#blur05)"/>
<rect x="414.40" y="444.10" width="8.80" height="1.80" fill="#000" opacity="0.176" filter="url(#blur05)"/>
<rect x="414.40" y="446.50" width="8.80" height="1.40" fill="#000" opacity="0.059" filter="url(#blur05)"/>
<rect x="414.40" y="455.00" width="8.80" height="2.00" fill="#000" opacity="0.029" filter="url(#blur05)"/>
<rect x="439.40" y="430.90" width="8.80" height="1.80" fill="#000" opacity="0.057" filter="url(#blur05)"/>
<rect x="439.40" y="444.10" width="8.80" height="1.80" fill="#000" opacity="0.122" filter="url(#blur05)"/>
<rect x="439.40" y="446.50" width="8.80" height="1.40" fill="#000" opacity="0.041" filter="url(#blur05)"/>
<rect x="439.40" y="455.00" width="8.80" height="2.00" fill="#000" opacity="0.020" filter="url(#blur05)"/>
<rect x="401.40" y="425.90" width="10.00" height="38.90" fill="url(#g1)" filter="url(#blur04)"/>
<rect x="401.40" y="425.90" width="10.00" height="38.90" fill="url(#edge)" filter="url(#blur04)"/>
<rect x="426.40" y="425.90" width="10.40" height="38.90" fill="url(#g2)" filter="url(#blur04)"/>
<rect x="426.40" y="425.90" width="10.40" height="38.90" fill="url(#edge)" filter="url(#blur04)"/>
<rect x="450.60" y="425.90" width="10.40" height="38.90" fill="url(#g3)" filter="url(#blur04)"/>
<rect x="450.60" y="425.90" width="10.40" height="38.90" fill="url(#edge)" filter="url(#blur04)"/>
<rect x="387.30" y="425.40" width="76.90" height="39.90" fill="none" stroke="#4a4a4a" stroke-width="1.3"/>
<rect x="387.30" y="468.60" width="76.90" height="39.90" fill="#d4d4d4"/>
<rect x="462.40" y="468.60" width="1.40" height="39.90" fill="#eeeeee"/>
<rect x="389.00" y="469.10" width="11.60" height="38.90" fill="url(#g4)" filter="url(#blur05)"/>
<rect x="413.60" y="469.10" width="11.40" height="38.90" fill="url(#g5)" filter="url(#blur05)"/>
<rect x="438.80" y="469.10" width="11.40" height="38.90" fill="url(#g6)" filter="url(#blur05)"/>
<rect x="401.60" y="469.10" width="10.60" height="38.90" fill="url(#g7)" filter="url(#blur04)"/>
<rect x="427.40" y="469.10" width="10.20" height="38.90" fill="url(#g8)" filter="url(#blur04)"/>
<rect x="451.00" y="469.10" width="11.40" height="38.90" fill="url(#g9)" filter="url(#blur04)"/>
<rect x="387.30" y="468.60" width="76.90" height="39.90" fill="none" stroke="#333" stroke-width="1.3"/>
<text x="385.20" y="429.90" font-size="6.5" text-anchor="end" fill="#222">100</text>
<text x="385.20" y="435.50" font-size="6.5" text-anchor="end" fill="#222">75</text>
<line x1="378.60" y1="436.70" x2="385.20" y2="436.70" stroke="#333" stroke-width="0.7"/>
<text x="385.20" y="448.10" font-size="6.5" text-anchor="end" fill="#222">50</text>
<text x="385.20" y="459.70" font-size="6.5" text-anchor="end" fill="#222">37</text>
<line x1="378.60" y1="460.90" x2="385.20" y2="460.90" stroke="#333" stroke-width="0.7"/>
<text x="385.20" y="473.00" font-size="6.5" text-anchor="end" fill="#222">100</text>
<text x="385.20" y="478.70" font-size="6.5" text-anchor="end" fill="#222">75</text>
<line x1="378.60" y1="479.90" x2="385.20" y2="479.90" stroke="#333" stroke-width="0.7"/>
<text x="385.20" y="490.60" font-size="6.5" text-anchor="end" fill="#222">50</text>
<text x="385.20" y="502.60" font-size="6.5" text-anchor="end" fill="#222">37</text>
<line x1="378.60" y1="503.80" x2="385.20" y2="503.80" stroke="#333" stroke-width="0.7"/>
<text x="466.20" y="440.00" font-size="6.6" fill="#222">WB:</text>
<text x="466.00" y="447.30" font-size="6.6" textLength="47.00" lengthAdjust="spacingAndGlyphs" fill="#222">Phospho-tyrosine</text>
<text x="466.00" y="454.60" font-size="6.6" textLength="40.50" lengthAdjust="spacingAndGlyphs" fill="#222">short exposure</text>
<text x="466.20" y="482.50" font-size="6.6" fill="#222">WB:</text>
<text x="466.00" y="489.80" font-size="6.6" textLength="47.00" lengthAdjust="spacingAndGlyphs" fill="#222">Phospho-tyrosine</text>
<text x="466.00" y="497.10" font-size="6.6" textLength="36.50" lengthAdjust="spacingAndGlyphs" fill="#222">Long exposure</text>
<text x="354.00" y="534.00" font-size="12" font-weight="bold" textLength="7.40" lengthAdjust="spacingAndGlyphs">F</text>
<text x="361.20" y="545.10" font-size="6.6" textLength="35.80" lengthAdjust="spacingAndGlyphs" fill="#222">Fab stimulus:</text>
<text x="366.40" y="552.90" font-size="6.6" textLength="30.30" lengthAdjust="spacingAndGlyphs" fill="#222">(10 μg/mL)</text>
<text x="363.80" y="566.30" font-size="6.6" textLength="39.00" lengthAdjust="spacingAndGlyphs" fill="#222">APA1/1 block:</text>
<text x="403.60" y="578.00" font-size="6.6" text-anchor="end" fill="#222">TL</text>
<text x="361.20" y="593.00" font-size="6.6" textLength="42.40" lengthAdjust="spacingAndGlyphs" fill="#222">SH3. 1-Nck-PD</text>
<text x="383.7" y="606.0" font-size="6.6" fill="#222">CD3<tspan font-size="4.6">Δc</tspan></text>
<text x="418.00" y="544.90" font-size="6.6" text-anchor="middle" fill="#222">Ms-</text>
<text x="418.00" y="552.60" font-size="6.6" text-anchor="middle" fill="#222">IgG</text>
<text x="435.00" y="544.90" font-size="6.6" text-anchor="middle" fill="#222">Ms-</text>
<text x="435.00" y="552.60" font-size="6.6" text-anchor="middle" fill="#222">IgG</text>
<text x="450.30" y="544.70" font-size="6.6" textLength="31.70" lengthAdjust="spacingAndGlyphs" fill="#222">Mono-Fabs</text>
<line x1="450.00" y1="546.40" x2="482.20" y2="546.40" stroke="#333" stroke-width="0.8"/>
<text x="446.00" y="552.60" font-size="6.6" textLength="16.30" lengthAdjust="spacingAndGlyphs" fill="#222">OKT3</text>
<text x="464.60" y="552.60" font-size="6.6" textLength="19.60" lengthAdjust="spacingAndGlyphs" fill="#222">UCHT1</text>
<text x="419.60" y="564.40" font-size="6.6" text-anchor="middle" fill="#222">+</text>
<line x1="435.90" y1="562.20" x2="438.10" y2="562.20" stroke="#444" stroke-width="0.8"/>
<line x1="454.30" y1="562.20" x2="456.50" y2="562.20" stroke="#444" stroke-width="0.8"/>
<line x1="472.30" y1="562.20" x2="474.50" y2="562.20" stroke="#444" stroke-width="0.8"/>
<rect x="411.60" y="569.20" width="68.20" height="13.40" fill="url(#blotbg)"/>
<rect x="414.70" y="574.60" width="15.60" height="4.0" rx="2.0" fill="#0c0c0c" filter="url(#blur05)"/>
<rect x="414.20" y="573.60" width="16.60" height="6.0" rx="3.0" fill="#000" opacity="0.18" filter="url(#blur1)"/>
<rect x="432.00" y="575.10" width="13.80" height="4.0" rx="2.0" fill="#0c0c0c" filter="url(#blur05)"/>
<rect x="431.50" y="574.10" width="14.80" height="6.0" rx="3.0" fill="#000" opacity="0.18" filter="url(#blur1)"/>
<rect x="447.60" y="574.70" width="13.80" height="4.0" rx="2.0" fill="#0c0c0c" filter="url(#blur05)"/>
<rect x="447.10" y="573.70" width="14.80" height="6.0" rx="3.0" fill="#000" opacity="0.18" filter="url(#blur1)"/>
<rect x="463.10" y="575.10" width="13.90" height="4.0" rx="2.0" fill="#0c0c0c" filter="url(#blur05)"/>
<rect x="462.60" y="574.10" width="14.90" height="6.0" rx="3.0" fill="#000" opacity="0.18" filter="url(#blur1)"/>
<rect x="411.60" y="569.20" width="68.20" height="13.40" fill="none" stroke="#222" stroke-width="1.1"/>
<rect x="411.60" y="585.20" width="68.20" height="13.30" fill="url(#blotbg)"/>
<rect x="432.0" y="590.6" width="13.8" height="3.8" rx="1.9" fill="url(#basal)" filter="url(#blur05)"/>
<ellipse cx="427.3" cy="592.6" rx="1.5" ry="0.9" fill="#999" opacity="0.5" filter="url(#blur05)"/>
<rect x="447.60" y="589.4" width="14.00" height="5.4" rx="2.4" fill="#050505" filter="url(#blur05)"/>
<rect x="447.00" y="588.6" width="15.20" height="7.0" rx="3.0" fill="#000" opacity="0.2" filter="url(#blur1)"/>
<rect x="463.10" y="589.4" width="13.50" height="5.4" rx="2.4" fill="#050505" filter="url(#blur05)"/>
<rect x="462.50" y="588.6" width="14.70" height="7.0" rx="3.0" fill="#000" opacity="0.2" filter="url(#blur1)"/>
<rect x="411.60" y="585.20" width="68.20" height="13.30" fill="none" stroke="#222" stroke-width="1.1"/>
<text x="490.50" y="582.60" font-size="6.6" textLength="12.20" lengthAdjust="spacingAndGlyphs" fill="#222">WB:</text>
<text x="488.8" y="590.6" font-size="6.6" fill="#222" textLength="16.2" lengthAdjust="spacingAndGlyphs">CD3ζ</text>
<text x="413.40" y="605.40" font-size="6.6" textLength="15.40" lengthAdjust="spacingAndGlyphs" fill="#222">Block</text>
<text x="431.20" y="605.40" font-size="6.6" textLength="15.00" lengthAdjust="spacingAndGlyphs" fill="#222">Basal</text>
<text x="448.50" y="605.40" font-size="6.6" textLength="12.00" lengthAdjust="spacingAndGlyphs" fill="#222">3.12</text>
<text x="464.60" y="605.40" font-size="6.6" textLength="11.60" lengthAdjust="spacingAndGlyphs" fill="#222">2.40</text>
</svg></body></html>
